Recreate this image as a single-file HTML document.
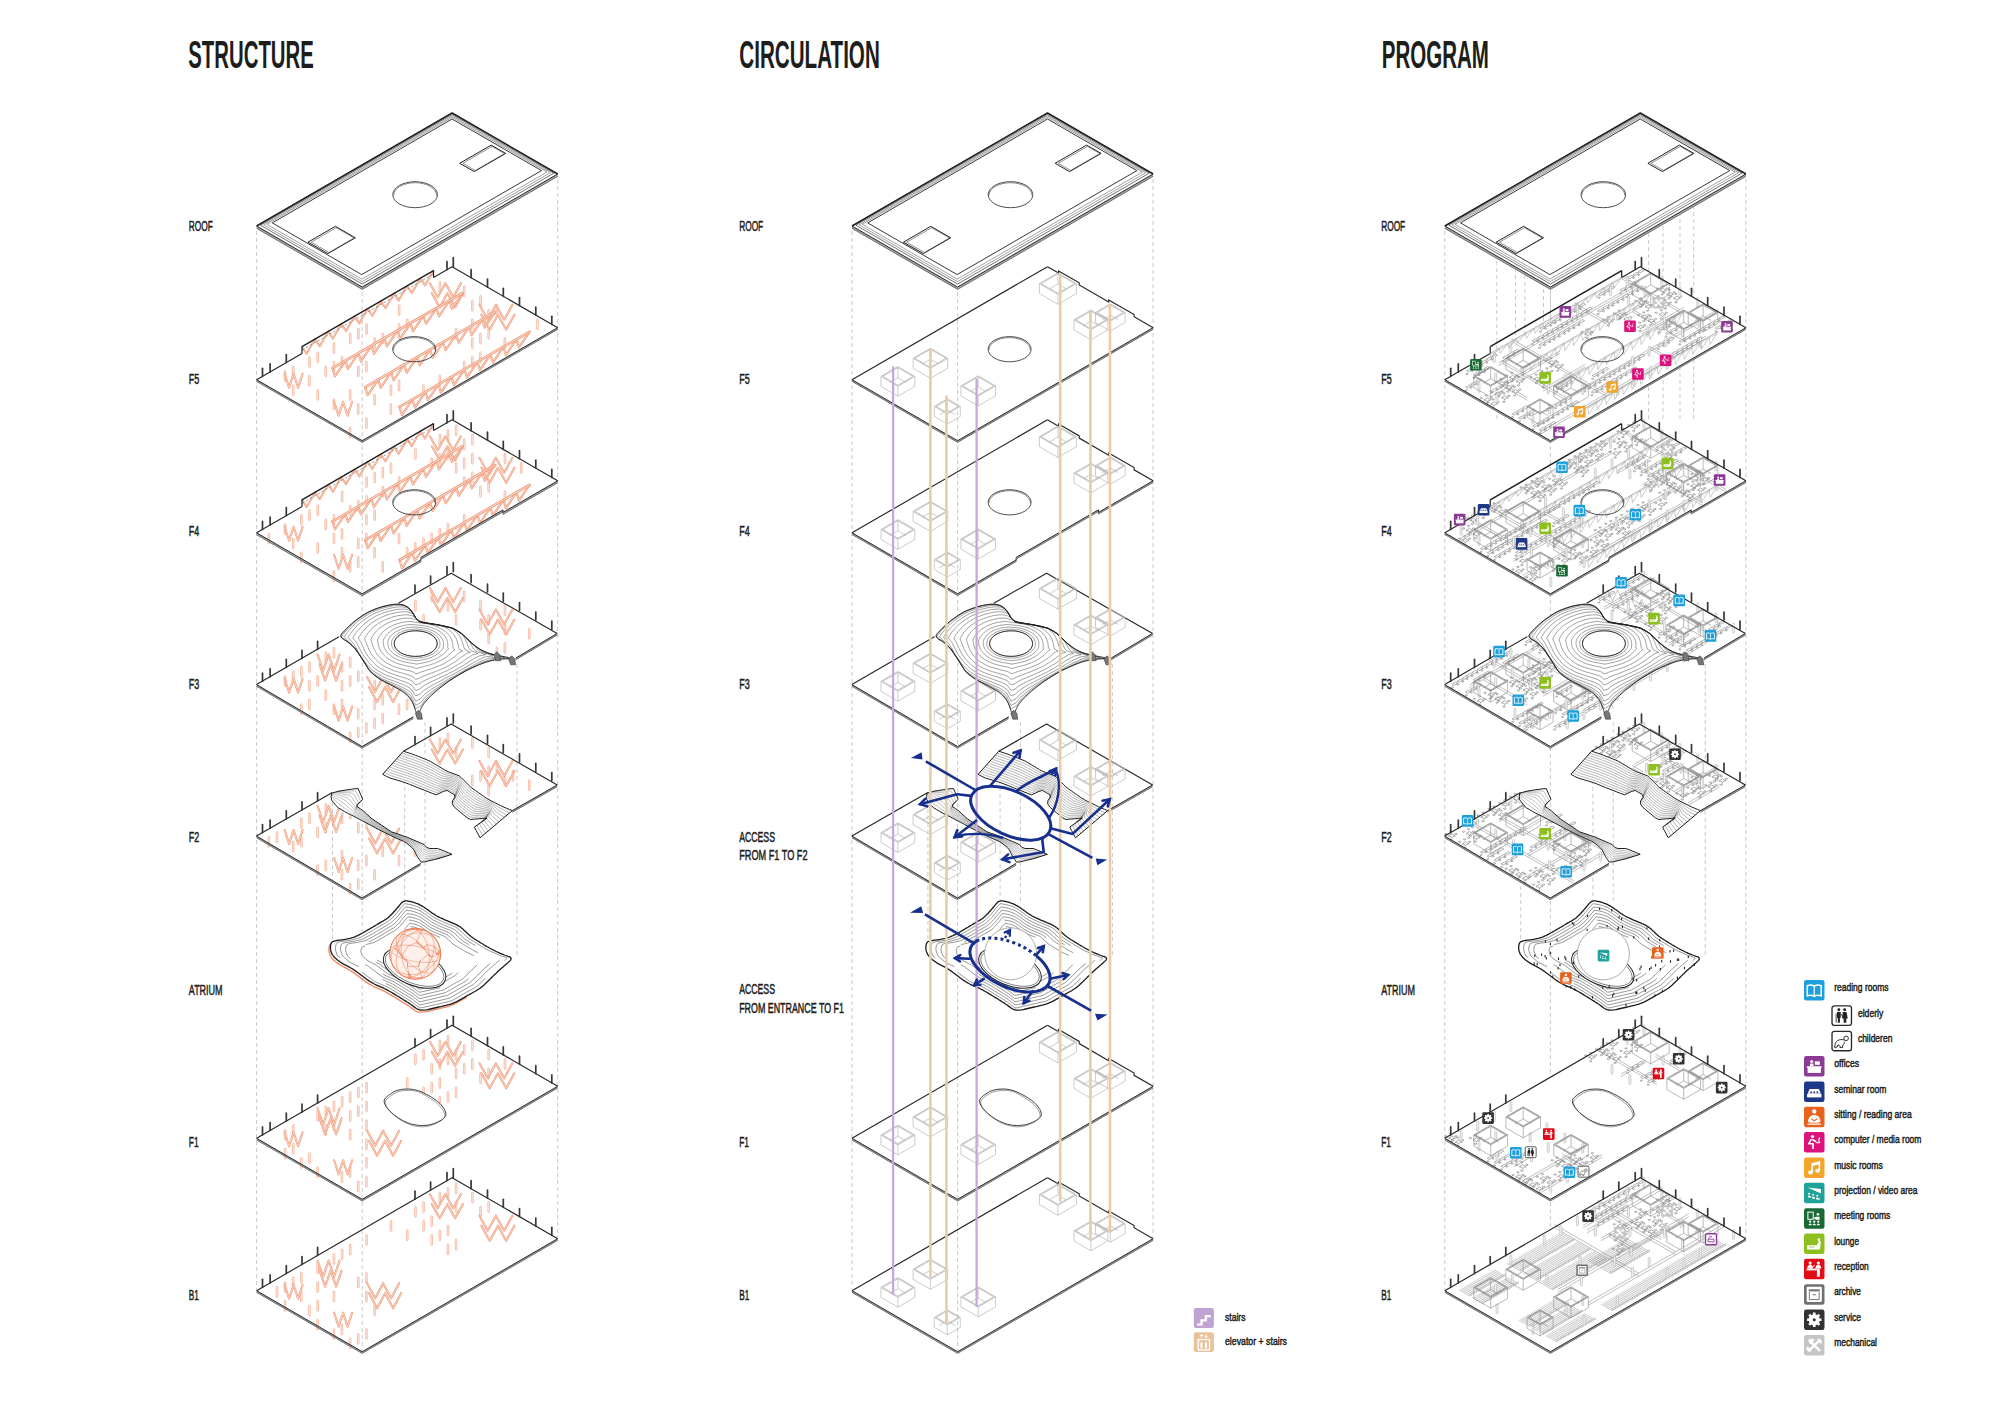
<!DOCTYPE html><html><head><meta charset="utf-8"><style>html,body{margin:0;padding:0;background:#fff;overflow:hidden;width:2000px;height:1414px;}svg{display:block;}</style></head><body><svg width="2000" height="1414" viewBox="0 0 2000 1414"><defs><g id="ic_read"><rect x="0" y="0" width="20" height="20" rx="2.2" fill="#1d9fdb"/><path d="M3.2 5.5c2.4-1 4.6-1 6.8.4c2.2-1.4 4.4-1.4 6.8-.4v10c-2.4-1-4.6-1-6.8.4c-2.2-1.4-4.4-1.4-6.8-.4z" fill="none" stroke="#fff" stroke-width="1.5"/><path d="M10 6v10" stroke="#fff" stroke-width="1.2"/></g>
<g id="ic_off"><rect x="0" y="0" width="20" height="20" rx="2.2" fill="#8b3a96"/><rect x="3.5" y="11" width="13" height="5.5" fill="#fff"/><rect x="2.8" y="10" width="14.4" height="1.6" fill="#fff"/><circle cx="7.5" cy="5.3" r="1.5" fill="#fff"/><path d="M5.8 10v-2.6h3.4v2.6z" fill="#fff"/><rect x="10.6" y="5.2" width="4.8" height="3.4" fill="#fff"/></g>
<g id="ic_sem"><rect x="0" y="0" width="20" height="20" rx="2.2" fill="#1d3889"/><path d="M5.5 7.5h9l2 4.5h-13z" fill="#fff"/><rect x="3" y="12.3" width="14" height="3.3" fill="#fff"/><circle cx="7" cy="10.5" r="0.9" fill="#1d3889"/><circle cx="10" cy="10.5" r="0.9" fill="#1d3889"/><circle cx="13" cy="10.5" r="0.9" fill="#1d3889"/></g>
<g id="ic_sit"><rect x="0" y="0" width="20" height="20" rx="2.2" fill="#e8621c"/><circle cx="10" cy="4.6" r="2.1" fill="#fff"/><path d="M4 14.5c0-4 2.5-6.5 6-6.5s6 2.5 6 6.5l-2.5 1h-7z" fill="#fff"/><path d="M7 11.5l3 2.2l3-2.2" fill="none" stroke="#e8621c" stroke-width="1.1"/><rect x="3.5" y="16.3" width="13" height="1.2" fill="#fff"/></g>
<g id="ic_comp"><rect x="0" y="0" width="20" height="20" rx="2.2" fill="#df117d"/><circle cx="8.3" cy="4.4" r="1.6" fill="#fff"/><path d="M7.2 6.8l-2.6 4.6h4.2v5.2M8 7.2l4 2.2" fill="none" stroke="#fff" stroke-width="1.6" stroke-linejoin="round"/><path d="M15.6 5.5c-1.6 1.2-1.6 4.2 0 5.2M11.6 10.4h3.6" fill="none" stroke="#fff" stroke-width="1.1"/></g>
<g id="ic_mus"><rect x="0" y="0" width="20" height="20" rx="2.2" fill="#f3a52b"/><path d="M8 14.5V6.2l7-1.7v8.2" fill="none" stroke="#fff" stroke-width="1.6"/><ellipse cx="6.3" cy="14.6" rx="2.3" ry="1.9" fill="#fff"/><ellipse cx="13.3" cy="12.9" rx="2.3" ry="1.9" fill="#fff"/><path d="M8 7.6l7-1.7" stroke="#fff" stroke-width="1.6"/></g>
<g id="ic_proj"><rect x="0" y="0" width="20" height="20" rx="2.2" fill="#1fa29a"/><path d="M3.5 4.5l13 1.5v4.5z" fill="#fff"/><circle cx="5" cy="10.6" r="1" fill="#fff"/><circle cx="9" cy="11.6" r="1" fill="#fff"/><circle cx="13" cy="12.6" r="1" fill="#fff"/><path d="M3.8 13.2l2.8.8M7.8 14.2l2.8.8M11.8 15.2l3.4.9" stroke="#fff" stroke-width="1.6"/></g>
<g id="ic_meet"><rect x="0" y="0" width="20" height="20" rx="2.2" fill="#186a32"/><rect x="3.8" y="3.8" width="5.2" height="7" fill="none" stroke="#fff" stroke-width="1"/><circle cx="13.6" cy="6" r="1.3" fill="#fff"/><path d="M9 9.5l3-1.2h3.2v3h-3.4z" fill="#fff"/><circle cx="6" cy="13.2" r="1.1" fill="#fff"/><circle cx="10" cy="13.2" r="1.1" fill="#fff"/><circle cx="14" cy="13.2" r="1.1" fill="#fff"/><path d="M4.4 16.6a1.6 1.6 0 0 1 3.2 0zM8.4 16.6a1.6 1.6 0 0 1 3.2 0zM12.4 16.6a1.6 1.6 0 0 1 3.2 0z" fill="#fff"/></g>
<g id="ic_lou"><rect x="0" y="0" width="20" height="20" rx="2.2" fill="#8dbf1e"/><path d="M3 11.5h9.5l2.2-4.5l1.8.8l-1 7.7h-12.5z" fill="#fff"/><circle cx="14.5" cy="6" r="1.3" fill="#fff"/><path d="M5 13.2h5" stroke="#8dbf1e" stroke-width="0.8"/></g>
<g id="ic_rec"><rect x="0" y="0" width="20" height="20" rx="2.2" fill="#e20c17"/><circle cx="6" cy="4.2" r="1.5" fill="#fff"/><circle cx="14" cy="4.2" r="1.5" fill="#fff"/><path d="M3.2 9.5c0-2.4 1.2-3.6 2.8-3.6s2.8 1.2 2.8 3.6zM11.2 9.5c0-2.4 1.2-3.6 2.8-3.6s2.8 1.2 2.8 3.6z" fill="#fff"/><rect x="2.5" y="9.5" width="10" height="1.8" fill="#fff"/><rect x="12.6" y="9.5" width="2.8" height="8" fill="#fff"/><path d="M8 8.6l2.4-2.4" stroke="#fff" stroke-width="0.9"/></g>
<g id="ic_arch"><rect x="0" y="0" width="20" height="20" rx="2.2" fill="#707070"/><rect x="2.6" y="2.6" width="14.8" height="14.8" rx="1" fill="#fff"/><rect x="4.6" y="5" width="10.8" height="2" fill="#707070"/><path d="M8.4 10.3h3.2" stroke="#707070" stroke-width="1"/><path d="M5.2 7.6v7.4h9.6V7.6" fill="none" stroke="#707070" stroke-width="0.9"/></g>
<g id="ic_serv"><rect x="0" y="0" width="20" height="20" rx="2.2" fill="#333333"/><circle cx="10" cy="10" r="5.4" fill="#fff"/><path d="M10 3v3M10 14v3M3 10h3M14 10h3M5 5l2.2 2.2M12.8 12.8l2.2 2.2M5 15l2.2-2.2M12.8 7.2l2.2-2.2" stroke="#fff" stroke-width="2.6"/><circle cx="10" cy="10" r="1.5" fill="#333"/></g>
<g id="ic_mech"><rect x="0" y="0" width="20" height="20" rx="2.2" fill="#c5c5c5"/><path d="M5.2 15.2l8.6-8.6M7 7l8 8" stroke="#fff" stroke-width="2.4" stroke-linecap="round"/><path d="M3.2 6.2l3-3l1.4 1.4l1.2-1.2l1.6 1.6l-4.2 4.2l-1.6-1.6l1.2-1.2z" fill="#fff"/><path d="M12.6 4.2a3.2 3.2 0 0 1 4.4 4.4l-1.8-.6l-.8-.8l-.6-1.8zM7.2 15.8a3.2 3.2 0 0 1-4.4-4.4l1.8.6l.8.8l.6 1.8z" fill="#fff"/></g>
<g id="ic_eld"><rect x="0.6" y="0.6" width="18.8" height="18.8" rx="2.2" fill="#fff" stroke="#2a2a2a" stroke-width="1.3"/><circle cx="7.2" cy="4.3" r="1.4" fill="#222"/><circle cx="12.8" cy="4.3" r="1.4" fill="#222"/><path d="M5.4 6.4h3.6v5.8h-.8v4.6h-2v-4.6h-.8zM11 6.4h3.6l1.2 6.4h-1.4v4h-2.6v-4h-1.4z" fill="#222"/><path d="M4.6 8v8.6M9.5 8.5l1.5 3" stroke="#222" stroke-width="0.8"/></g>
<g id="ic_chi"><rect x="0.6" y="0.6" width="18.8" height="18.8" rx="2.2" fill="#fff" stroke="#2a2a2a" stroke-width="1.3"/><circle cx="14.2" cy="7.4" r="2.2" fill="none" stroke="#222" stroke-width="0.9"/><path d="M12.4 9c-2.2-.8-4.6-.5-6.4.6c-1.8 1.1-2.6 3-2.6 4.9l-.6 1.5h2.6l1-2.4l2.2 1.6l-.4 1.1h2.6l.2-2.4c1.2-.6 1.8-2 1.4-3.4" fill="none" stroke="#222" stroke-width="0.9"/></g>
<g id="fc" fill="none" stroke="#7a7a7a" stroke-width="0.6"><path d="M-3 0l3 -1.7 l3 1.7 l-3 1.7 z" fill="#fff"/><path d="M-6 -2.2a1.1 .65 0 1 0 .1 0M-1 -4.8a1.1 .65 0 1 0 .1 0M4 -2.2a1.1 .65 0 1 0 .1 0M-1 3.6a1.1 .65 0 1 0 .1 0"/><path d="M-3 0v1.2M3 0v1.2M0 1.7v1.2"/></g>
<g id="fd" fill="#fff" stroke="#7a7a7a" stroke-width="0.6"><path d="M0 0l4 -2.3l2 1.15l-4 2.3zM0.5 2.6a1 .6 0 1 0 .1 0M5.2 -3l4 -2.3l2 1.15l-4 2.3zM5.7 -0.4a1 .6 0 1 0 .1 0M10.4 -6l4 -2.3l2 1.15l-4 2.3zM10.9 -3.4a1 .6 0 1 0 .1 0"/></g>
<g id="sh" fill="#fff" stroke="#8a8a8a" stroke-width="0.5"><path d="M0 0l17.3 -10v-3.2l-17.3 10zM0 0l1.2 0.7"/><path d="M0 -1.6l17.3 -10" fill="none"/></g>
<g id="roof"><polygon points="256.6,226 452.1,113 557.7,174 557.7,177 362.2,290 256.6,229" fill="#fff" stroke="none" stroke-width="0"/>
<polygon points="256.6,226 362.2,287 557.7,174 557.7,176.4 362.2,289.4 256.6,228.4" fill="#a8a8a8" stroke="none" stroke-width="0"/>
<polyline points="256.6,226 362.2,287 557.7,174" fill="none" stroke="#1e1e1e" stroke-width="0.95"/>
<polyline points="256.6,228.4 362.2,289.4 557.7,176.4" fill="none" stroke="#4a4a4a" stroke-width="0.7"/>
<polyline points="256.6,226 452.1,113 557.7,174" fill="none" stroke="#1e1e1e" stroke-width="1.5" stroke-linejoin="round"/>
<polygon points="260.5,225.2 452.1,114.5 553.8,173.2 362.2,284" fill="none" stroke="#333" stroke-width="0.7" stroke-linejoin="round"/>
<polygon points="263.7,224.8 452.1,115.9 550.4,172.7 362,281.6" fill="none" stroke="#555" stroke-width="0.55" stroke-linejoin="round"/>
<polygon points="266.9,224.3 452.1,117.3 547,172.1 361.8,279.1" fill="none" stroke="#555" stroke-width="0.55" stroke-linejoin="round"/>
<polygon points="272.3,222.9 452.1,119 541.5,170.6 361.7,274.6" fill="none" stroke="#222" stroke-width="0.9" stroke-linejoin="round"/>
<polygon points="308,242.2 335.4,226.3 355.3,237.8 327.9,253.6" fill="#fff" stroke="#222" stroke-width="1.0"/>
<polygon points="311.2,242.2 336.2,227.7 354.1,238 329,252.5" fill="none" stroke="#444" stroke-width="0.6"/>
<polygon points="459.7,163.3 491.2,145.1 505.7,153.4 474.2,171.6" fill="#fff" stroke="#222" stroke-width="1.0"/>
<polygon points="462.9,163.3 492,146.4 504.5,153.6 475.3,170.5" fill="none" stroke="#444" stroke-width="0.6"/>
<ellipse cx="415.1" cy="194.7" rx="22.3" ry="13" fill="none" stroke="#3a3a3a" stroke-width="0.9"/>
<path d="M393.6 195.5 A21.5 12.8 0 0 1 436.6 195.5" fill="none" stroke="#555" stroke-width="0.7"/></g>
<g id="hill"><path d="M341.9 633.5l.8-.9 .9-1 .9-1 1-1 1-1 1.1-1.1 1.2-1.1 1.1-1.1 1.3-1.1 1.3-1.1 1.3-1.2 1.4-1.1 1.4-1.1 1.5-1.1 1.6-1.1 1.6-1.1 1.6-1.1 1.7-1 1.6-1 1.7-.9 1.6-.9 1.7-.8 1.6-.7 1.7-.7 1.6-.6 1.7-.6 1.6-.5 1.5-.5 1.6-.5 1.5-.4 1.5-.3 1.5-.4 1.4-.3 1.4-.2 1.3-.2 1.3-.2 1.1-.2 1.2-.1 1 0 1-.1 .9 0 .9 .1 .9 0 .9 .1 .8 .1 .8 .2 .8 .2 .7 .2 .7 .2 .7 .3 .7 .3 .7 .4 .7 .4 .7 .4 .6 .4 .6 .5 .7 .5 .5 .6 .6 .6 .6 .6 .5 .7 .5 .7 .4 .7 .5 .8 .4 .8 .4 .8 .5 .8 .5 .8 .5 .7 .5 .7 .6 .7 .6 .6 .6 .6 .8 .6 1.1 .6 1.2 .5 1.4 .5 1.7 .4 1.8 .4 2.1 .4 2.3 .4 2.2 .3 2.2 .4 2.1 .4 2 .3 2 .4 2 .4 1.9 .4 1.9 .4 1.7 .5 1.7 .5 1.6 .5 1.5 .5 1.4 .6 1.3 .6 1.2 .7 1.2 .6 1.1 .8 1.1 .8 1.2 .8 1.1 .9 1.1 1 1.2 1 1.1 1.1 1.2 1.1 1.1 1.1 1.1 1.1 1.1 1 1.1 1 1 .9 1.1 .9 1 .9 1.1 .8 1 .8 1.2 .8 1.2 .8 1.2 .7 1.3 .7 1.3 .7 1.4 .7 1.5 .7 1.4 .6 1.5 .6 1.6 .5 1.5 .4 1.6 .4 1.6 .4 1.6 .3 1.7 .3 1.5 .3 1.6 .2 1.5 .3 1.4 .3 1.4 .2 1.4 .3 1.3 .3 1.2 .2 .8 .3 .4 .2 0 .2-.4 .1-.8 .2-1.2 .1-1.7 0-2.1 .1-2 .1-2 .1-2 .2-1.9 .3-2 .4-1.9 .4-1.9 .4-1.8 .5-1.9 .6-1.9 .6-2 .7-1.9 .7-2 .8-2 .8-2 .9-2.1 .9-2.1 1-2 1-2.1 1-2.1 1.1-2 1.1-2.1 1.2-2 1.2-2.1 1.2-2 1.3-2.1 1.3-1.9 1.3-2 1.3-1.9 1.4-1.9 1.4-1.9 1.4-1.9 1.5-1.8 1.4-1.7 1.4-1.6 1.3-1.5 1.4-1.5 1.3-1.4 1.3-1.3 1.2-1.2 1.3-1.2 1.2-1.1 1.2-1 1.1-.9 1.2-.9 1.1-.8 1.1-.6 1-.7 1.1-.5 1-.5 1-.5 1-.4 1.1-.4 1-.3 1-.3 1.1-.2 1-.2 .8-.3 .4-.2 .2-.3-.1-.4-.4-.3-.7-.4-.9-.4-1.3-.5-1.2-.4-1.2-.4-1.1-.4-1.1-.4-1.2-.4-1-.4-1.1-.4-1-.5-1-.5-1.1-.6-.9-.6-1-.7-1-.7-.9-.8-1-.8-.9-.9-.9-1-.9-1-.9-1.2-.9-1.2-.9-1.3-.8-1.3-.8-1.5-.9-1.5-.8-1.4-.8-1.6-.8-1.5-.9-1.6-.8-1.6-.8-1.6-.9-1.7-.8-1.6-.8-1.5-.9-1.5-.8-1.4-.9-1.4-.9-1.4-.9-1.3-.9-1.2-.9-1.2-1.1-1.2-1.1-1.2-1.2-1.1-1.3-1.1-1.3-1.1-1.5-1-1.6-1.1-1.6-1-1.6-1-1.6-.9-1.5-.9-1.4-.9-1.4-.9-1.3-.9-1.3-.8-1.3-.8-1.1-.9-1.2-.8-1.1-.8-1-.8-1-.9-.9-.8-.9-.8-.8-.9-.8-.9-.8-1-.8-1-.8-1.1-.7-1.1-.8-1.2-.7-1.3-.7-.9-.8-.8-.8-.4-.8-.2-.8 0-.8 .3-.9z" fill="#fff" stroke="none"/>
<path d="M437.2 643.6l0 .6-.1 .7-.1 .7-.2 .6-.3 .7-.3 .6-.4 .6-.4 .7-.5 .6-.5 .6-.6 .5-.7 .6-.6 .5-.8 .5-.7 .5-.9 .5-.8 .4-.9 .4-.9 .4-1 .3-1 .4-1 .3-1 .2-1.1 .2-1.1 .2-1.1 .2-1.1 .1-1.1 .1-1.1 0-1.2 .1-1.1-.1-1.1 0-1.1-.1-1.1-.1-1.1-.2-1.1-.2-1.1-.2-1-.2-1-.3-1-.4-1-.3-.9-.4-.9-.4-.8-.4-.9-.5-.7-.5-.8-.5-.6-.5-.7-.6-.6-.5-.5-.6-.5-.6-.4-.7-.4-.6-.3-.6-.3-.7-.2-.6-.1-.7-.1-.7-.1-.6 .1-.7 .1-.7 .1-.6 .2-.7 .3-.7 .3-.6 .4-.6 .4-.6 .5-.7 .5-.5 .6-.6 .7-.6 .6-.5 .8-.5 .7-.5 .9-.5 .8-.4 .9-.4 .9-.4 1-.3 1-.3 1-.3 1-.3 1.1-.2 1.1-.2 1.1-.2 1.1-.1 1.1-.1 1.1 0 1.1 0 1.2 0 1.1 0 1.1 .1 1.1 .1 1.1 .2 1.1 .2 1.1 .2 1 .3 1 .3 1 .3 1 .3 .9 .4 .9 .4 .8 .4 .9 .5 .7 .5 .8 .5 .6 .5 .7 .6 .6 .6 .5 .5 .5 .7 .4 .6 .4 .6 .3 .6 .3 .7 .2 .7 .1 .6 .1 .7z" fill="none" stroke="#2e2e2e" stroke-width="0.45"/>
<path d="M440 643.6l0 .7-.1 .8-.2 .7-.2 .8-.2 .7-.4 .7-.4 .8-.5 .6-.6 .7-.6 .7-.7 .6-.7 .7-.8 .6-.8 .5-.9 .6-.9 .5-1 .5-1 .5-1 .4-1.1 .4-1.1 .3-1.2 .4-1.1 .3-1.2 .2-1.3 .3-1.2 .1-1.2 .2-1.3 .1-1.3 .1-1.3 0-1.2 0-1.3-.1-1.3-.1-1.2-.2-1.2-.2-1.3-.2-1.2-.2-1.1-.3-1.2-.4-1.1-.3-1.1-.4-1-.4-1-.5-1-.5-.9-.5-.9-.6-.8-.6-.8-.6-.7-.6-.6-.6-.7-.7-.5-.7-.5-.7-.4-.7-.4-.7-.3-.7-.2-.8-.2-.7-.1-.8 0-.7 0-.8 .1-.8 .1-.7 .3-.8 .3-.7 .3-.7 .5-.7 .4-.7 .6-.7 .6-.7 .7-.6 .7-.6 .8-.6 .8-.6 .9-.6 .9-.5 1-.5 1-.4 1-.5 1.1-.4 1.1-.3 1.2-.4 1.1-.2 1.2-.3 1.3-.2 1.2-.2 1.3-.1 1.2-.1 1.3 0 1.2 0 1.3 0 1.3 .1 1.2 .1 1.3 .1 1.2 .2 1.2 .2 1.2 .2 1.2 .3 1.1 .4 1.1 .3 1.1 .4 1 .4 1 .5 1 .5 .9 .5 .9 .5 .8 .6 .8 .6 .7 .6 .7 .7 .6 .6 .5 .7 .5 .7 .5 .7 .3 .7 .3 .8 .3 .7 .1 .8 .1 .7z" fill="none" stroke="#2e2e2e" stroke-width="0.45"/>
<path d="M443.5 643.6l0 .8-.1 .9-.1 .9-.1 .8 .1 1-.7 .8-.5 .8-.7 .8-.7 .7-.7 .8-.8 .7-.8 .7-.9 .7-1 .7-1 .6-1.1 .6-1.1 .6-1.1 .5-1.2 .5-1.3 .5-1.2 .4-1.3 .4-1.4 .4-1.4 .3-1.4 .3-1.4 .2-1.4 .2-1.5 .2-1.5 .2-1.5 .1-1.4-.2-1.5-.2-1.5-.2-1.4-.1-1.4-.3-1.4-.2-1.4-.4-1.3-.3-1.4-.4-1.2-.4-1.3-.5-1.2-.5-1.1-.5-1.1-.6-1.1-.6-1-.6-.9-.7-.9-.7-.8-.7-.7-.8-.7-.7-.6-.8-.6-.8-.5-.8-.4-.9-.3-.8-.3-.9-.2-.8-.2-.9-.1-.8 0-.9 .1-.9 .1-.9 .3-.8 .3-.9 .5-.8 .5-.8 .5-.8 .7-.8 .7-.8 .8-.7 .8-.7 .9-.7 .9-.7 1-.6 1.1-.6 1.1-.6 1.2-.5 1.2-.5 1.3-.5 1.2-.4 1.4-.4 1.3-.3 1.4-.3 1.4-.2 1.4-.2 1.5-.1 1.4-.1 1.5 0 1.4 .1 1.5 .1 1.4 .1 1.4 .1 1.4 .1 1.4 .2 1.4 .3 1.3 .3 1.4 .3 1.3 .3 1.2 .4 1.3 .5 1.2 .5 1.1 .5 1.1 .5 1.1 .6 1 .6 .9 .7 .9 .6 .8 .7 .8 .8 .7 .7 .6 .8 .6 .8 .5 .8 .4 .8 .4 .8 .3 .9 .2 .8 .1 .9z" fill="none" stroke="#2e2e2e" stroke-width="0.45"/>
<path d="M447.7 643.6l.1 1 0 1-.1 1 0 1 .8 1.2-1.1 .9-.8 .9-.8 .9-.9 .9-.9 .9-.9 .8-1 .9-1.1 .7-1.1 .8-1.2 .7-1.2 .7-1.3 .7-1.3 .6-1.4 .6-1.5 .6-1.4 .5-1.5 .5-1.6 .4-1.6 .4-1.6 .4-1.6 .3-1.7 .4-1.7 .3-1.8 .4-1.8 .1-1.7-.5-1.7-.3-1.7-.3-1.7-.2-1.7-.3-1.6-.4-1.6-.4-1.5-.4-1.6-.4-1.4-.5-1.5-.6-1.3-.6-1.4-.6-1.2-.7-1.2-.7-1.2-.8-1-.8-1-.8-.9-.8-.9-.9-.8-.9-.7-.9-.6-.9-.6-.9-.5-1-.4-1-.3-.9-.3-1-.2-1-.1-1-.1-1.1-.1-1 0-1 .4-1 .5-1 .5-1 .6-.9 .7-1 .7-.9 .9-.9 .9-.8 .9-.9 1.1-.8 1.1-.7 1.2-.8 1.2-.7 1.3-.6 1.4-.7 1.4-.5 1.4-.6 1.5-.4 1.6-.5 1.6-.3 1.6-.4 1.6-.2 1.7-.2 1.7-.1 1.7 0 1.7 .1 1.6 .2 1.7 .1 1.6 .2 1.6 .1 1.6 .2 1.6 .2 1.5 .3 1.6 .3 1.5 .4 1.5 .4 1.4 .4 1.4 .5 1.4 .6 1.3 .5 1.2 .6 1.3 .7 1.1 .7 1.1 .7 1.1 .8 .9 .8 .9 .8 .8 .8 .8 .9 .7 .9 .5 .9 .5 1 .5 .9 .3 1 .3 1 .2 1z" fill="none" stroke="#2e2e2e" stroke-width="0.45"/>
<path d="M452.6 643.6l.1 1.1 .1 1.2 .1 1.2 .3 1.2 1.7 1.5-1.7 1-1.1 1.1-1.1 1-1.1 1-1.1 1-1.1 1-1.2 .9-1.3 1-1.3 .8-1.4 .9-1.4 .8-1.5 .8-1.6 .7-1.6 .7-1.6 .7-1.7 .6-1.8 .6-1.7 .6-1.9 .5-1.9 .5-1.9 .5-1.9 .5-2 .5-2.1 .7-2.2 .3-2.1-1.1-2-.5-2-.4-1.9-.3-1.9-.4-1.9-.5-1.9-.5-1.8-.5-1.8-.5-1.7-.6-1.6-.7-1.6-.7-1.5-.8-1.5-.8-1.3-.8-1.3-.9-1.2-.9-1.1-1-1.1-1-.9-1-.9-1-.8-1.1-.8-1-.6-1.1-.6-1.1-.5-1.1-.4-1.2-.4-1.1-.3-1.2-.2-1.1-.2-1.2-.3-1.2 0-1.2 .4-1.2 .6-1.2 .6-1.1 .8-1.1 .8-1.1 .9-1.1 1-1 1-1 1.2-1 1.2-.9 1.3-.9 1.4-.9 1.4-.8 1.6-.8 1.6-.7 1.6-.7 1.7-.6 1.8-.5 1.8-.5 1.8-.5 1.9-.3 1.9-.3 2-.2 2-.1 2 .1 1.9 .4 1.9 .3 1.9 .2 1.8 .3 1.8 .1 1.8 .3 1.8 .2 1.8 .3 1.7 .4 1.7 .4 1.7 .4 1.6 .5 1.6 .6 1.6 .6 1.5 .6 1.4 .7 1.4 .7 1.4 .8 1.3 .8 1.2 .8 1.1 .9 1.1 1 .9 .9 .9 1 .8 1 .7 1.1 .6 1.1 .5 1.1 .4 1.1 .4 1.1 .3 1.1z" fill="none" stroke="#2e2e2e" stroke-width="0.45"/>
<path d="M457.9 643.6l.3 1.3 .2 1.3 .3 1.4 .6 1.5 3.3 1.9-2.7 1.1-1.4 1.2-1.5 1.2-1.4 1.2-1.3 1.1-1.4 1.1-1.5 1.1-1.5 1-1.6 1-1.6 1-1.6 .9-1.7 1-1.8 .8-1.9 .9-1.9 .7-1.9 .8-2 .8-2 .7-2.1 .7-2.2 .6-2.2 .7-2.3 .8-2.3 .7-2.4 1.1-2.7 .5-2.5-1.7-2.3-.8-2.3-.6-2.3-.5-2.2-.6-2.2-.5-2.2-.6-2-.7-2.1-.6-2-.7-1.8-.9-1.8-.8-1.8-.9-1.6-.9-1.6-1.1-1.4-1-1.3-1.1-1.2-1.1-1.2-1.2-1.1-1.1-1-1.2-.9-1.2-.9-1.3-.7-1.2-.7-1.3-.6-1.3-.5-1.3-.5-1.3-.4-1.3-.4-1.3-.4-1.4-.5-1.4-.3-1.5 .7-1.3 .7-1.4 .7-1.3 .9-1.3 1-1.2 1.1-1.3 1.1-1.2 1.3-1.2 1.4-1.1 1.4-1 1.5-1.1 1.6-1 1.7-1 1.7-.9 1.9-.8 1.9-.7 2-.8 2.1-.6 2.1-.6 2.1-.5 2.2-.4 2.3-.3 2.3-.2 2.3 0 2.3 .3 2.3 .6 2.1 .7 2.1 .6 1.8 1.7 1.8 .5 1.8 .3 1.8 .2 1.8 .3 1.8 .3 1.9 .3 1.8 .3 1.9 .3 2 .3 2 .3 2 .5 2.1 .4 1.6 .8 1.6 .8 1.5 .9 1.4 .9 1.3 1 1.2 1.1 1.1 1.1 1 1.1 1 1.1 .8 1.2 .7 1.2 .7 1.2 .5 1.3 .5 1.3 .3 1.3z" fill="none" stroke="#2e2e2e" stroke-width="0.45"/>
<path d="M462.8 643.6l.5 1.4 .4 1.6 .5 1.5 1.1 1.7 5.1 2.5-3.7 1.1-1.9 1.4-1.9 1.3-1.7 1.2-1.6 1.3-1.7 1.3-1.7 1.1-1.8 1.2-1.8 1.1-1.8 1.1-1.9 1.1-1.9 1-2 1-2.1 1-2.1 .9-2.2 .9-2.2 .9-2.2 .9-2.4 .9-2.4 .9-2.5 .9-2.6 1-2.7 1-2.8 1.7-3.1 .8-2.9-2.7-2.7-1.2-2.6-.8-2.6-.7-2.5-.7-2.5-.7-2.4-.7-2.3-.7-2.3-.8-2.2-.9-2.1-.9-2-1-2-1.1-1.8-1-1.7-1.2-1.5-1.3-1.5-1.2-1.3-1.3-1.3-1.3-1.2-1.3-1.1-1.3-1-1.4-1-1.4-.8-1.4-.8-1.4-.7-1.4-.6-1.5-.6-1.4-.6-1.5-.5-1.5-.6-1.6-.8-1.6-.6-1.7 .8-1.5 .8-1.5 1-1.5 1-1.5 1.2-1.4 1.3-1.4 1.3-1.4 1.4-1.3 1.6-1.3 1.6-1.2 1.8-1.2 1.8-1.1 1.8-1.1 2.1-1 2.1-1 2.2-.8 2.2-.8 2.4-.8 2.4-.6 2.4-.6 2.5-.4 2.6-.3 2.6-.2 2.6 .1 2.7 .5 2.6 1 2.3 1.8 2.1 2 1.8 1.8 1.8 .5 1.8 .2 1.8 .3 1.8 .3 1.8 .3 1.9 .3 1.9 .3 1.9 .3 2 .3 2 .3 1.9 .4 2.1 .5 2.1 .5 2.3 .5 2.3 .5 2.6 .6 1.5 1 1.3 1.2 1.3 1.1 1.2 1.3 1.1 1.2 1 1.3 .8 1.3 .7 1.4 .7 1.4 .6 1.4 .5 1.4z" fill="none" stroke="#2e2e2e" stroke-width="0.45"/>
<path d="M467.1 643.6l.7 1.6 .6 1.7 .9 1.7 1.7 1.9 7.2 3-5 1.2-2.4 1.4-2.3 1.5-2.1 1.3-1.9 1.4-1.9 1.4-2 1.3-2 1.2-2.1 1.2-2 1.2-2 1.2-2.2 1.2-2.1 1.1-2.3 1.1-2.3 1-2.4 1.1-2.4 1.1-2.5 1.1-2.5 1-2.7 1.1-2.8 1.2-2.8 1.3-3 1.4-3.2 2.3-3.6 1.1-3.3-3.8-3-1.5-2.9-1.1-2.9-.9-2.8-.9-2.7-.8-2.6-.9-2.6-.9-2.5-.9-2.5-.9-2.3-1.1-2.1-1.2-2.2-1.2-2-1.2-1.8-1.3-1.6-1.4-1.5-1.4-1.5-1.4-1.3-1.5-1.3-1.4-1.2-1.5-1.1-1.5-1-1.5-1-1.5-.8-1.6-.8-1.5-.7-1.6-.8-1.6-.7-1.7-.7-1.6-.9-1.8-1.2-1.8-.9-1.8 1-1.8 1-1.7 1.1-1.6 1.2-1.6 1.4-1.6 1.4-1.6 1.5-1.5 1.5-1.5 1.8-1.3 1.9-1.4 1.9-1.3 2-1.3 2.1-1.2 2.2-1.1 2.4-1 2.5-1 2.4-.9 2.6-.8 2.7-.7 2.7-.6 2.8-.5 2.9-.3 2.9-.2 2.9 .3 3 .7 2.9 1.4 2.5 4 2.1 2.1 1.8 1.7 1.8 .5 1.8 .3 1.8 .3 1.8 .3 1.9 .2 1.8 .3 1.9 .3 1.9 .3 2 .3 2 .4 2 .4 2 .5 2.2 .4 2.2 .5 2.4 .6 2.5 .5 2 .9 1.7 1.1 1.8 1 1.8 1.1 1.9 1.2 1.5 1.3 1.1 1.4 .8 1.4 .8 1.5 .7 1.5 .7 1.6z" fill="none" stroke="#2e2e2e" stroke-width="0.45"/>
<path d="M470.5 643.6l1 1.7 .9 1.8 1.2 1.9 2.4 2.2 9.8 3.5-6.5 1.2-2.9 1.5-2.7 1.5-2.6 1.5-2.2 1.4-2.2 1.5-2.2 1.4-2.2 1.3-2.3 1.3-2.2 1.3-2.2 1.3-2.3 1.3-2.4 1.2-2.4 1.2-2.5 1.2-2.5 1.2-2.6 1.2-2.6 1.3-2.8 1.3-2.9 1.3-2.9 1.4-3.1 1.7-3.3 1.9-3.6 2.9-4 1.5-3.6-5-3.4-2-3.2-1.4-3.1-1.1-3-1-3-1.1-2.8-1-2.8-1-2.7-1-2.7-1.1-2.4-1.2-2.3-1.3-2.2-1.3-2.2-1.4-1.9-1.4-1.6-1.6-1.6-1.6-1.5-1.5-1.4-1.6-1.3-1.6-1.3-1.6-1.1-1.6-1.1-1.6-1.1-1.6-.9-1.7-.9-1.7-.8-1.7-.9-1.7-1-1.7-.8-1.8-1.2-1.9-1.7-2-1.3-2.1 1.2-1.8 1.2-1.9 1.2-1.8 1.4-1.8 1.5-1.7 1.6-1.6 1.7-1.7 1.7-1.6 2-1.5 2-1.5 2.1-1.4 2.2-1.4 2.2-1.4 2.5-1.1 2.6-1.1 2.7-1.1 2.7-1 2.8-.8 2.9-.7 3-.7 3-.6 3.2-.2 3.1-.1 3.3 .4 3.2 1 3.2 3.1 2.6 4.5 2.1 2 1.8 1.8 1.8 .5 1.8 .3 1.8 .2 1.8 .3 1.9 .3 1.8 .3 1.9 .3 1.9 .3 2 .3 2.1 .3 1.9 .5 2.1 .4 2.1 .5 2.3 .5 2.4 .5 2.5 .6 2 .9 1.7 1 1.8 1.1 1.8 1.1 1.9 1.1 1.5 1.3 1.4 1.4 1.4 1.4 1.4 1.5 1.5 1.5 1.6 1.6z" fill="none" stroke="#2e2e2e" stroke-width="0.45"/>
<path d="M471.8 643.6l2.3 1.8 1.4 1.9 1.6 2 3.2 2.4 12.7 4.2-8.1 1-3.5 1.7-3.3 1.5-2.9 1.5-2.5 1.5-2.5 1.5-2.4 1.5-2.5 1.3-2.5 1.4-2.3 1.4-2.4 1.4-2.4 1.3-2.5 1.4-2.5 1.3-2.6 1.3-2.7 1.3-2.6 1.5-2.8 1.5-2.9 1.5-3.1 1.5-3.1 1.8-3.3 2-3.6 2.3-3.8 3.8-4.5 1.8-4-6.3-3.6-2.6-3.4-1.7-3.4-1.3-3.2-1.3-3.1-1.2-3-1.1-2.9-1.1-2.9-1.2-2.8-1.2-2.5-1.4-2.4-1.4-2.4-1.4-2.2-1.4-2-1.7-1.6-1.7-1.6-1.7-1.5-1.6-1.4-1.7-1.3-1.7-1.3-1.7-1.2-1.7-1.2-1.7-1.1-1.7-1-1.7-.9-1.8-.9-1.8-1.2-1.8-1.1-1.8-1.1-1.9-1.6-2-2.1-2.2-1.7-2.2 1.3-2 1.4-2 1.4-1.9 1.5-1.9 1.7-1.8 1.8-1.8 1.7-1.8 1.9-1.7 2.1-1.6 2.2-1.5 2.3-1.6 2.3-1.5 2.4-1.4 2.6-1.3 2.9-1.1 2.8-1.1 2.9-1.1 3-.9 3.2-.8 3.2-.7 3.2-.5 3.4-.3 3.4 0 3.5 .6 3.4 1.5 3.5 4.5 2.6 4.5 2.1 2.1 1.8 1.7 1.8 .5 1.8 .3 1.9 .3 1.8 .3 1.8 .3 1.9 .2 1.9 .3 1.9 .3 2 .3 2 .4 2 .4 2.1 .5 2.1 .5 2.3 .5 2.4 .5 2.5 .6 2 .9 1.7 1 1.8 1.1 1.8 1.1 1.9 1.1 1.5 1.3 1.4 1.4 1.4 1.4 1.4 1.4 1.6 1.6 1.6 1.6z" fill="none" stroke="#2e2e2e" stroke-width="0.45"/>
<path d="M472 643.6l2.2 1.8 2.5 2 2.9 2.2 4 2.5 15.9 4.8-9.8 1-4.2 1.6-3.8 1.6-3.3 1.5-2.8 1.5-2.7 1.5-2.7 1.5-2.7 1.4-2.6 1.4-2.4 1.5-2.5 1.4-2.5 1.4-2.6 1.5-2.6 1.4-2.7 1.4-2.7 1.5-2.7 1.6-2.8 1.7-3 1.7-3.2 1.8-3.3 2.1-3.4 2.5-3.8 2.8-4.1 4.6-4.9 2.3-4.3-7.8-3.9-3.2-3.6-2.1-3.5-1.5-3.3-1.5-3.2-1.4-3.2-1.3-3-1.2-3-1.3-2.9-1.3-2.5-1.5-2.5-1.5-2.4-1.6-2.3-1.5-1.9-1.7-1.5-1.9-1.3-1.9-1.1-1.9-1.2-1.9-1.1-1.8-1.1-1.7-1.1-1.7-1.2-1.7-1.1-1.8-1.2-1.7-1.1-1.7-1.2-1.8-1.8-1.8-1.8-1.9-1.4-1.9-2-2.1-2.7-2.3-2.2-2.4 1.5-2.1 1.6-2.1 1.5-2 1.8-2 1.8-1.9 1.9-1.8 1.9-1.9 1.9-1.8 2.3-1.6 2.3-1.6 2.4-1.6 2.4-1.6 2.5-1.6 2.8-1.3 3-1.2 3-1.1 3-1.1 3.2-1 3.3-.7 3.4-.7 3.4-.6 3.5-.2 3.6 .1 3.7 .7 3.8 2.8 3.5 4.6 2.6 4.4 2.1 2.1 1.8 1.8 1.8 .5 1.8 .3 1.9 .2 1.8 .3 1.8 .3 1.9 .3 1.9 .3 1.9 .3 2 .3 2.1 .3 2 .5 2 .4 2.2 .5 2.3 .5 2.3 .6 2.6 .5 2 .9 1.7 1.1 1.8 1 1.8 1.1 1.9 1.2 1.5 1.3 1.4 1.4 1.4 1.4 1.5 1.4 1.5 1.6 1.6 1.6z" fill="none" stroke="#2e2e2e" stroke-width="0.45"/>
<path d="M472.1 643.6l2.3 1.8 2.5 2 3.3 2.2 5.4 2.8 19 5.3-11.5 .8-4.7 1.7-4.3 1.5-3.7 1.5-3 1.5-3 1.5-2.8 1.5-2.8 1.4-2.9 1.3-2.5 1.5-2.5 1.5-2.5 1.5-2.6 1.5-2.6 1.5-2.7 1.5-2.7 1.6-2.7 1.8-2.9 1.8-3 2-3.2 2.1-3.3 2.3-3.5 3-4 3.2-4.3 5.4-5.2 2.7-4.6-9.2-4-3.7-3.7-2.5-3.6-1.8-3.4-1.6-3.2-1.6-3.2-1.4-3.1-1.3-3-1.4-3-1.4-2.5-1.6-2.4-1.6-2.3-1.7-2.2-1.7-1.7-1.9-1.3-2-1.2-2-1.2-1.9-1.1-1.8-1.1-1.8-1.1-1.8-1.2-1.7-1.1-1.7-1.2-1.7-1.1-1.8-1.2-1.7-1.2-1.8-1.7-1.8-1.9-1.9-2-1.9-2.8-2.2-3.2-2.3-2.7-2.5 1.7-2.2 1.6-2.2 1.7-2 1.9-2 2-2 1.9-1.9 2-1.9 2-1.8 2.4-1.7 2.5-1.7 2.4-1.6 2.5-1.6 2.5-1.6 2.9-1.4 3.1-1.2 3.1-1.1 3.1-1.2 3.3-.9 3.4-.8 3.4-.7 3.5-.6 3.7-.1 3.8 .3 3.9 1.3 3.8 2.8 3.5 4.6 2.6 4.5 2.1 2 1.8 1.8 1.8 .5 1.9 .3 1.8 .3 1.8 .3 1.9 .2 1.8 .3 1.9 .3 2 .3 2 .3 2 .4 2 .4 2.1 .5 2.2 .5 2.2 .5 2.4 .5 2.6 .6 1.9 .9 1.8 1 1.8 1.1 1.8 1.1 1.9 1.2 1.5 1.3 1.4 1.3 1.4 1.5 1.5 1.4 1.5 1.6 1.6 1.6z" fill="none" stroke="#2e2e2e" stroke-width="0.45"/>
<path d="M472.2 643.6l2.3 1.8 2.5 2 3.4 2.3 6.2 2.8 21.9 5.9-13 .6-5.3 1.6-4.7 1.4-4.1 1.5-3.2 1.5-3.2 1.5-3.1 1.3-3 1.4-2.9 1.3-2.5 1.5-2.5 1.5-2.5 1.5-2.5 1.5-2.6 1.6-2.6 1.6-2.6 1.7-2.7 2-2.8 2-2.9 2.1-3.2 2.3-3.4 2.7-3.6 3.3-4 3.7-4.4 6.2-5.5 3.1-4.8-10.6-4-4.3-3.8-2.8-3.6-2-3.5-1.8-3.2-1.7-3.2-1.5-3.1-1.4-3-1.5-2.8-1.5-2.5-1.7-2.3-1.8-2.3-1.7-2.2-1.6-1.7-1.9-1.3-2.1-1.2-1.9-1.2-1.9-1.1-1.9-1.2-1.8-1.1-1.7-1.1-1.8-1.1-1.7-1.2-1.7-1.1-1.7-1.2-1.8-1.2-1.8-1.8-1.8-1.8-1.9-2-1.9-2.9-2.2-4.1-2.4-3.2-2.6 1.9-2.2 1.8-2.1 1.8-2.1 2-2.1 2.1-1.9 2-1.9 2-1.9 2.1-1.9 2.5-1.7 2.5-1.6 2.5-1.7 2.5-1.6 2.5-1.7 2.9-1.3 3.2-1.2 3.1-1.2 3.2-1.1 3.3-1 3.5-.7 3.5-.7 3.5-.5 3.8 0 3.7 .3 3.9 1.3 3.9 2.8 3.5 4.6 2.6 4.5 2.1 2.1 1.8 1.8 1.8 .5 1.9 .2 1.8 .3 1.9 .3 1.8 .3 1.9 .3 1.9 .3 1.9 .3 2 .3 2.1 .4 2 .4 2.1 .5 2.1 .4 2.3 .5 2.4 .6 2.6 .5 1.9 1 1.8 1 1.8 1.1 1.8 1.1 1.9 1.1 1.6 1.3 1.3 1.4 1.5 1.4 1.4 1.5 1.6 1.5 1.6 1.7z" fill="none" stroke="#2e2e2e" stroke-width="0.45"/>
<path d="M341.9 633.5l.8-.9 .9-1 .9-1 1-1 1-1 1.1-1.1 1.2-1.1 1.1-1.1 1.3-1.1 1.3-1.1 1.3-1.2 1.4-1.1 1.4-1.1 1.5-1.1 1.6-1.1 1.6-1.1 1.6-1.1 1.7-1 1.6-1 1.7-.9 1.6-.9 1.7-.8 1.6-.7 1.7-.7 1.6-.6 1.7-.6 1.6-.5 1.5-.5 1.6-.5 1.5-.4 1.5-.3 1.5-.4 1.4-.3 1.4-.2 1.3-.2 1.3-.2 1.1-.2 1.2-.1 1 0 1-.1 .9 0 .9 .1 .9 0 .9 .1 .8 .1 .8 .2 .8 .2 .7 .2 .7 .2 .7 .3 .7 .3 .7 .4 .7 .4 .7 .4 .6 .4 .6 .5 .7 .5 .5 .6 .6 .6 .6 .6 .5 .7 .5 .7 .4 .7 .5 .8 .4 .8 .4 .8 .5 .8 .5 .8 .5 .7 .5 .7 .6 .7 .6 .6 .6 .6 .8 .6 1.1 .6 1.2 .5 1.4 .5 1.7 .4 1.8 .4 2.1 .4 2.3 .4 2.2 .3 2.2 .4 2.1 .4 2 .3 2 .4 2 .4 1.9 .4 1.9 .4 1.7 .5 1.7 .5 1.6 .5 1.5 .5 1.4 .6 1.3 .6 1.2 .7 1.2 .6 1.1 .8 1.1 .8 1.2 .8 1.1 .9 1.1 1 1.2 1 1.1 1.1 1.2 1.1 1.1 1.1 1.1 1.1 1.1 1 1.1 1 1 .9 1.1 .9 1 .9 1.1 .8 1 .8 1.2 .8 1.2 .8 1.2 .7 1.3 .7 1.3 .7 1.4 .7 1.5 .7 1.4 .6 1.5 .6 1.6 .5 1.5 .4 1.6 .4 1.6 .4 1.6 .3 1.7 .3 1.5 .3 1.6 .2 1.5 .3 1.4 .3 1.4 .2 1.4 .3 1.3 .3 1.2 .2 .8 .3 .4 .2 0 .2-.4 .1-.8 .2-1.2 .1-1.7 0-2.1 .1-2 .1-2 .1-2 .2-1.9 .3-2 .4-1.9 .4-1.9 .4-1.8 .5-1.9 .6-1.9 .6-2 .7-1.9 .7-2 .8-2 .8-2 .9-2.1 .9-2.1 1-2 1-2.1 1-2.1 1.1-2 1.1-2.1 1.2-2 1.2-2.1 1.2-2 1.3-2.1 1.3-1.9 1.3-2 1.3-1.9 1.4-1.9 1.4-1.9 1.4-1.9 1.5-1.8 1.4-1.7 1.4-1.6 1.3-1.5 1.4-1.5 1.3-1.4 1.3-1.3 1.2-1.2 1.3-1.2 1.2-1.1 1.2-1 1.1-.9 1.2-.9 1.1-.8 1.1-.6 1-.7 1.1-.5 1-.5 1-.5 1-.4 1.1-.4 1-.3 1-.3 1.1-.2 1-.2 .8-.3 .4-.2 .2-.3-.1-.4-.4-.3-.7-.4-.9-.4-1.3-.5-1.2-.4-1.2-.4-1.1-.4-1.1-.4-1.2-.4-1-.4-1.1-.4-1-.5-1-.5-1.1-.6-.9-.6-1-.7-1-.7-.9-.8-1-.8-.9-.9-.9-1-.9-1-.9-1.2-.9-1.2-.9-1.3-.8-1.3-.8-1.5-.9-1.5-.8-1.4-.8-1.6-.8-1.5-.9-1.6-.8-1.6-.8-1.6-.9-1.7-.8-1.6-.8-1.5-.9-1.5-.8-1.4-.9-1.4-.9-1.4-.9-1.3-.9-1.2-.9-1.2-1.1-1.2-1.1-1.2-1.2-1.1-1.3-1.1-1.3-1.1-1.5-1-1.6-1.1-1.6-1-1.6-1-1.6-.9-1.5-.9-1.4-.9-1.4-.9-1.3-.9-1.3-.8-1.3-.8-1.1-.9-1.2-.8-1.1-.8-1-.8-1-.9-.9-.8-.9-.8-.8-.9-.8-.9-.8-1-.8-1-.8-1.1-.7-1.1-.8-1.2-.7-1.3-.7-.9-.8-.8-.8-.4-.8-.2-.8 0-.8 .3-.9z" fill="none" stroke="#1a1a1a" stroke-width="0.9" stroke-linejoin="round"/>
<ellipse cx="415.7" cy="643.6" rx="21.5" ry="12.8" fill="none" stroke="#1a1a1a" stroke-width="0.8"/>
<path d="M417.4 719.2 l-2 -6 l3 -3 l3 3 l1 6 z" fill="#777" stroke="#222" stroke-width="0.5"/>
<path d="M495.8 660.7 l-2 -6 l3 -3 l3 3 l1 6 z" fill="#777" stroke="#222" stroke-width="0.5"/>
<path d="M510.6 664.8 l-2 -6 l3 -3 l3 3 l1 6 z" fill="#777" stroke="#222" stroke-width="0.5"/></g>
<g id="rib"><path d="M339 791.1 L342.9 790.5 L346.7 789.9 L350.6 789.4 L354.4 788.8 L358.1 788.6 L359.6 792.1 L361.2 795.7 L362.7 799.3 L360.3 801.9 L357.3 804.3 L356.9 806.5 L360.2 808.7 L363.3 810.9 L366.2 813.6 L369.1 816.2 L372 818.8 L375.2 821 L378.5 823.1 L381.7 825.3 L384.9 827.4 L388.2 829.6 L391.4 831.8 L395.1 833.1 L398.8 834.3 L402.5 835.6 L406.2 836.8 L409.7 838.3 L413.3 839.9 L416.9 841.4 L420.5 843 L424 844.5 L426.5 847.4 L429.8 848.5 L433.7 848.5 L437.6 848.5 L441.2 849.8 L444.8 851.3 L448.4 852.8 L452 854.3 L438 858.7 L434.6 859.5 L431.2 860.3 L427.8 861.1 L424.4 861.9 L421.2 862.1 L419.2 859.3 L417.2 856.4 L415.6 853.3 L414.1 850.1 L411.9 847.5 L409.2 845.3 L406.5 843.1 L403.5 841.3 L400.3 839.9 L397.1 838.5 L393.9 837.1 L390.8 835.6 L387.6 834 L384.5 832.5 L381.4 830.9 L378.3 829.4 L375.2 827.7 L372.1 826 L369 824.4 L366 822.7 L362.9 821.1 L359.8 819.5 L356.7 817.8 L353.6 816.2 L350.5 814.6 L347.3 813.1 L344.3 811.4 L341.3 809.6 L338.3 807.8 L335.8 805.4 L333.7 802.6 L331.5 799.9 L331.1 796.7 L331.6 793.2Z" fill="#fff" stroke="none"/>
<path d="M338.1 791.4l.1 0 .2 0 .2-.1 .3 0 .3 0 .3 0 .4 0 .5 0 .4 0 .4 0 .4 0 .4 0 .5 0 .4-.1 .4 0 .4 0 .5 0 .4 0 .5 0 .4 0 .5-.1 .4 0 .5 0 .4 0 .5 0 .4-.1 .5 0 .4 0 .5 0 .4 0 .5-.1 .5 0 .4 0 .5 0 .4 0 .5 0 .4 0 .4 0 .5 0 .4 .1 .4 .1 .3 .2 .4 .2 .3 .2 .2 .4 .3 .3 .2 .4 .2 .5 .2 .4 .2 .4 .2 .4 .3 .4 .2 .5 .2 .4 .2 .4 .2 .4 .2 .4 .3 .5 .2 .4 .2 .4 .2 .4 .2 .4 .2 .5 .2 .4 .1 .3 .1 .4 0 .4-.1 .3-.1 .4-.2 .3-.2 .3-.2 .3-.2 .3-.3 .3-.2 .3-.3 .3-.2 .3-.3 .3-.3 .2-.2 .3-.3 .3-.1 .3-.2 .3-.1 .3 0 .2-.1 .3 0 .3 .1 .3 .1 .2 .2 .3 .2 .3 .2 .2 .3 .3 .4 .3 .4 .2 .4 .3 .4 .3 .4 .2 .4 .3 .4 .3 .4 .2 .4 .3 .4 .3 .4 .2 .4 .3 .4 .3 .3 .3 .4 .3 .4 .3 .4 .3 .3 .3 .4 .3 .3 .3 .4 .3 .4 .4 .3 .3 .4 .3 .4 .3 .3 .3 .4 .3 .4 .3 .3 .3 .4 .4 .3 .3 .4 .3 .4 .3 .3 .3 .4 .3 .4 .3 .4 .3 .3 .3 .4 .3 .4 .2 .4 .3 .4 .3 .4 .2 .4 .3 .4 .3 .4 .2 .4 .3 .4 .3 .4 .2 .4 .3 .4 .2 .4 .3 .4 .3 .4 .2 .4 .3 .5 .2 .4 .3 .4 .3 .4 .2 .4 .3 .4 .3 .4 .2 .4 .3 .4 .2 .4 .3 .4 .3 .4 .2 .4 .3 .4 .2 .4 .3 .4 .3 .4 .2 .4 .3 .4 .2 .4 .3 .4 .3 .4 .2 .4 .3 .4 .2 .4 .3 .4 .3 .4 .2 .4 .3 .5 .2 .4 .2 .4 .3 .4 .2 .5 .2 .4 .1 .5 .2 .4 .2 .5 .1 .4 .2 .5 .2 .4 .1 .5 .2 .4 .1 .5 .2 .4 .2 .5 .1 .4 .2 .5 .1 .4 .2 .5 .1 .5 .2 .4 .2 .5 .1 .4 .2 .5 .1 .4 .2 .5 .1 .4 .2 .5 .1 .4 .2 .5 .2 .4 .1 .5 .2 .4 .2 .5 .2 .4 .1 .5 .2 .4 .2 .4 .2 .5 .2 .4 .2 .4 .2 .5 .2 .4 .2 .5 .2 .4 .2 .4 .2 .5 .2 .4 .2 .4 .2 .5 .2 .4 .3 .4 .2 .4 .2 .5 .2 .4 .2 .4 .2 .5 .2 .4 .2 .4 .2 .4 .2 .5 .2 .4 .2 .4 .3 .4 .2 .5 .2 .4 .2 .4 .2 .4 .2 .4 .3 .4 .2 .4 .3 .4 .2 .3 .3 .4 .3 .3 .3 .3 .4 .3 .3 .3 .4 .3 .3 .4 .3 .3 .2 .4 .3 .3 .2 .4 .2 .4 .2 .4 .1 .4 .2 .4 .1 .5 .1 .4 .1 .4 .1 .5 0 .4 .1 .5 0 .5 0 .4 .1 .5 0 .5 0 .4 0 .5 0 .5 0 .5 0 .4 0 .5 .1 .5 .1 .4 0 .5 .1 .4 .2 .5 .1 .4 .1 .5 .2 .4 .1 .5 .1 .4 .2 .5 .1 .4 .2 .5 .1 .4 .2 .5 .1 .4 .2 .5 .1 .4 .2 .5 .1 .4 .2 .5 .1 .4 .2 .4 .1 .5 .2 .4 .1 .5 .2 .4 .1 .5 .2 .4 .1 .4 .2 .4 .1 .2 .1 .3 0 .1 .1 .1 0 .1 0" fill="none" stroke="#555" stroke-width="0.4"/>
<path d="M337.2 791.6l.1 0 .1 .1 .2 0 .2 0 .3 .1 .3 0 .3 .1 .4 0 .3 .1 .4 0 .3 .1 .4 0 .4 .1 .3 0 .4 .1 .4 0 .4 .1 .4 0 .4 0 .4 .1 .4 0 .4 .1 .4 0 .5 0 .4 0 .4 .1 .5 0 .4 0 .4 .1 .4 0 .5 0 .4 .1 .4 0 .5 0 .4 .1 .4 0 .4 .1 .5 0 .4 .1 .4 .1 .3 .1 .4 .2 .3 .2 .3 .3 .3 .3 .3 .3 .2 .4 .3 .4 .2 .4 .2 .4 .3 .4 .2 .4 .2 .4 .3 .4 .2 .4 .3 .4 .2 .3 .2 .4 .3 .4 .2 .4 .2 .4 .3 .4 .2 .4 .2 .4 .2 .3 .1 .4 0 .3 0 .3 0 .3-.1 .4-.1 .2-.1 .3-.2 .3-.1 .3-.2 .3-.1 .3-.2 .2-.2 .3-.2 .3-.2 .3-.1 .2-.1 .3 0 .3-.1 .2 0 .3 .1 .3 0 .2 .1 .3 .2 .3 .2 .2 .2 .3 .3 .2 .3 .3 .4 .3 .4 .2 .4 .3 .4 .2 .4 .3 .4 .2 .4 .3 .3 .2 .4 .3 .4 .3 .4 .2 .4 .3 .4 .3 .4 .2 .4 .3 .3 .3 .4 .3 .4 .3 .3 .3 .4 .3 .4 .3 .3 .3 .4 .3 .4 .3 .3 .3 .4 .3 .4 .3 .3 .3 .4 .3 .4 .3 .3 .3 .4 .3 .4 .3 .3 .3 .4 .3 .4 .2 .4 .3 .3 .3 .4 .3 .4 .2 .4 .3 .4 .2 .4 .3 .4 .3 .4 .2 .4 .3 .4 .2 .4 .3 .4 .2 .4 .3 .4 .2 .4 .3 .4 .2 .4 .3 .4 .3 .4 .2 .4 .3 .4 .2 .4 .3 .4 .2 .4 .3 .4 .2 .4 .3 .4 .2 .4 .3 .4 .2 .4 .3 .4 .2 .4 .3 .4 .2 .4 .3 .4 .2 .4 .3 .4 .2 .4 .3 .4 .2 .5 .3 .4 .2 .4 .3 .4 .2 .4 .3 .4 .2 .4 .3 .4 .2 .4 .2 .4 .2 .4 .2 .5 .2 .4 .2 .4 .2 .5 .2 .4 .1 .5 .2 .4 .2 .5 .1 .4 .2 .5 .1 .4 .2 .4 .2 .5 .1 .4 .2 .5 .1 .4 .2 .5 .2 .4 .1 .5 .2 .4 .1 .5 .2 .4 .2 .5 .1 .4 .2 .4 .1 .5 .2 .4 .2 .5 .1 .4 .2 .5 .2 .4 .1 .4 .2 .5 .2 .4 .2 .4 .2 .5 .2 .4 .2 .4 .2 .4 .2 .5 .2 .4 .2 .4 .3 .4 .2 .4 .2 .5 .2 .4 .2 .4 .2 .4 .2 .4 .3 .5 .2 .4 .2 .4 .2 .4 .2 .4 .2 .4 .3 .4 .2 .4 .2 .5 .2 .4 .3 .4 .2 .3 .2 .4 .3 .4 .2 .4 .2 .4 .3 .4 .2 .4 .3 .4 .2 .3 .3 .4 .3 .3 .3 .3 .3 .3 .3 .3 .4 .3 .4 .3 .3 .3 .3 .3 .3 .3 .3 .4 .3 .3 .2 .4 .2 .4 .2 .3 .2 .4 .2 .4 .1 .4 .2 .4 .1 .4 .1 .5 .1 .4 .1 .4 .1 .5 0 .4 .1 .4 0 .5 .1 .5 0 .4 0 .5 0 .4 0 .5 0 .5 0 .4 .1 .5 0 .4 .1 .5 .1 .4 .1 .5 .1 .4 .1 .5 .1 .4 .1 .4 .1 .5 .1 .4 .2 .5 .1 .4 .1 .5 .1 .4 .1 .5 .1 .4 .1 .4 .2 .5 .1 .4 .1 .5 .1 .4 .1 .5 .1 .4 .1 .5 .2 .4 .1 .4 .1 .5 .1 .4 .1 .3 .1 .3 .1 .2 0 .2 .1 .1 0" fill="none" stroke="#555" stroke-width="0.4"/>
<path d="M336.2 791.9l.1 0 .1 .1 .2 0 .1 .1 .3 .1 .2 .1 .3 .1 .3 .1 .2 .2 .3 .1 .3 .1 .3 .1 .4 .1 .3 .1 .3 .1 .3 .1 .4 .1 .3 .1 .4 .1 .3 .1 .4 .1 .4 .1 .4 .1 .4 0 .4 .1 .4 .1 .4 .1 .4 .1 .4 .1 .4 0 .4 .1 .4 .1 .5 .1 .4 .1 .4 .1 .4 .1 .4 .1 .4 .1 .4 0 .3 .2 .4 .1 .4 .2 .3 .3 .3 .2 .3 .3 .3 .3 .2 .4 .3 .4 .3 .3 .2 .4 .3 .4 .2 .3 .3 .4 .3 .4 .2 .3 .3 .4 .2 .3 .3 .4 .3 .4 .2 .3 .3 .4 .3 .3 .2 .4 .2 .4 .2 .3 .2 .3 .1 .3 .1 .3 0 .3 0 .3 0 .3-.1 .3 0 .2-.1 .3-.1 .3 0 .2-.1 .3-.1 .3-.1 .2-.1 .3 0 .2 0 .3 0 .3 0 .2 .1 .3 .1 .2 .1 .3 .2 .2 .2 .3 .2 .2 .2 .3 .3 .2 .4 .3 .3 .2 .4 .3 .4 .2 .4 .3 .4 .2 .4 .3 .4 .2 .4 .3 .4 .2 .4 .3 .4 .2 .4 .3 .3 .2 .4 .3 .4 .3 .4 .2 .4 .3 .3 .3 .4 .3 .4 .3 .3 .3 .4 .2 .4 .3 .3 .3 .4 .3 .4 .3 .4 .2 .3 .3 .4 .3 .4 .3 .3 .3 .4 .3 .4 .2 .3 .3 .4 .3 .4 .3 .4 .2 .4 .3 .3 .3 .4 .2 .4 .3 .4 .2 .4 .3 .4 .2 .4 .3 .4 .2 .4 .3 .4 .2 .4 .2 .4 .3 .4 .2 .4 .3 .4 .2 .4 .3 .4 .2 .4 .3 .4 .2 .4 .2 .4 .3 .4 .2 .4 .3 .4 .2 .4 .3 .4 .2 .4 .2 .4 .3 .4 .2 .4 .3 .4 .2 .4 .3 .4 .2 .4 .2 .4 .3 .4 .2 .4 .3 .4 .2 .4 .2 .4 .3 .4 .2 .4 .3 .4 .2 .4 .3 .4 .2 .4 .2 .4 .2 .4 .2 .4 .2 .5 .2 .4 .2 .4 .2 .5 .2 .4 .1 .4 .2 .5 .2 .4 .1 .4 .2 .5 .2 .4 .1 .5 .2 .4 .1 .4 .2 .5 .2 .4 .1 .5 .2 .4 .1 .4 .2 .5 .2 .4 .1 .4 .2 .5 .2 .4 .1 .5 .2 .4 .1 .4 .2 .5 .2 .4 .1 .4 .2 .5 .2 .4 .2 .4 .2 .4 .2 .5 .2 .4 .2 .4 .2 .4 .2 .4 .2 .4 .2 .4 .3 .4 .2 .5 .2 .4 .2 .4 .3 .4 .2 .4 .2 .4 .2 .4 .3 .4 .2 .4 .2 .4 .2 .4 .3 .4 .2 .4 .2 .4 .3 .4 .2 .4 .2 .3 .3 .4 .2 .4 .3 .4 .3 .3 .2 .4 .3 .3 .2 .4 .3 .3 .3 .4 .2 .3 .3 .3 .3 .3 .4 .3 .3 .3 .3 .3 .4 .3 .4 .3 .3 .3 .3 .3 .4 .3 .3 .3 .2 .3 .3 .4 .2 .3 .3 .4 .2 .3 .2 .4 .2 .4 .1 .3 .2 .4 .2 .4 .1 .4 .1 .4 .2 .4 .1 .5 0 .4 .1 .4 0 .5 .1 .4 0 .5 0 .4 0 .5 0 .4 0 .5 0 .4 .1 .5 0 .4 .1 .5 0 .4 .1 .4 .1 .5 0 .4 .1 .5 .1 .4 .1 .4 0 .5 .1 .4 .1 .5 .1 .4 .1 .5 0 .4 .1 .4 .1 .5 .1 .4 .1 .5 0 .4 .1 .4 .1 .5 .1 .4 0 .5 .1 .4 .1 .4 .1 .4 .1 .4 0 .2 .1 .3 0 .1 0 .1 .1 .1 0" fill="none" stroke="#555" stroke-width="0.4"/>
<path d="M335.3 792.2l.1 0 .1 .1 .1 .1 .1 .1 .1 .1 .2 .2 .2 .2 .3 .2 .2 .1 .2 .2 .3 .2 .2 .1 .2 .2 .3 .2 .3 .2 .2 .1 .3 .2 .3 .1 .4 .2 .3 .1 .4 .2 .3 .1 .4 .1 .4 .2 .4 .1 .3 .1 .4 .2 .4 .1 .4 .1 .3 .2 .4 .1 .4 .2 .4 .1 .3 .1 .4 .2 .4 .1 .4 .1 .4 .2 .4 .1 .3 .2 .4 .2 .3 .2 .4 .2 .3 .3 .3 .2 .3 .4 .3 .3 .2 .3 .3 .4 .3 .3 .3 .3 .3 .4 .3 .3 .2 .3 .3 .4 .3 .3 .3 .4 .3 .3 .3 .3 .3 .3 .2 .4 .3 .3 .3 .3 .3 .4 .2 .3 .2 .3 .2 .3 .1 .2 .1 .3 .1 .3 0 .2 .1 .3 0 .3 0 .2 .1 .3 0 .2 0 .3 0 .2 0 .3 0 .2 .1 .3 0 .2 .1 .2 .1 .3 .2 .2 .1 .3 .2 .2 .2 .3 .2 .2 .3 .3 .3 .2 .3 .2 .3 .3 .4 .2 .4 .3 .4 .2 .4 .2 .4 .3 .4 .2 .4 .2 .3 .3 .4 .2 .4 .3 .4 .2 .4 .3 .4 .2 .4 .3 .4 .2 .3 .3 .4 .2 .4 .3 .4 .3 .3 .2 .4 .3 .4 .3 .3 .2 .4 .3 .4 .3 .4 .2 .3 .3 .4 .3 .4 .2 .4 .3 .3 .3 .4 .2 .4 .3 .3 .3 .4 .2 .4 .3 .4 .3 .4 .2 .3 .3 .4 .2 .4 .3 .4 .2 .4 .2 .4 .3 .4 .2 .4 .2 .4 .3 .4 .2 .4 .3 .4 .2 .4 .2 .4 .3 .4 .2 .4 .2 .4 .3 .4 .2 .4 .2 .4 .3 .4 .2 .4 .2 .3 .3 .4 .2 .4 .2 .4 .3 .4 .2 .4 .2 .4 .3 .4 .2 .4 .2 .4 .3 .4 .2 .4 .2 .4 .3 .4 .2 .4 .2 .4 .3 .4 .2 .4 .2 .4 .3 .4 .2 .4 .2 .4 .3 .4 .2 .4 .2 .4 .2 .4 .2 .4 .2 .5 .2 .4 .2 .4 .2 .4 .1 .5 .2 .4 .2 .4 .2 .5 .1 .4 .2 .4 .2 .4 .1 .5 .2 .4 .2 .4 .1 .5 .2 .4 .1 .4 .2 .5 .2 .4 .1 .4 .2 .5 .2 .4 .1 .4 .2 .4 .2 .5 .1 .4 .2 .4 .2 .5 .1 .4 .2 .4 .2 .4 .2 .5 .2 .4 .2 .4 .2 .4 .2 .4 .2 .4 .2 .4 .2 .4 .2 .4 .3 .4 .2 .4 .2 .4 .3 .4 .2 .4 .2 .4 .3 .4 .2 .4 .2 .3 .3 .4 .2 .4 .2 .4 .3 .4 .2 .4 .2 .4 .3 .3 .2 .4 .3 .4 .3 .3 .2 .4 .3 .3 .3 .4 .2 .3 .3 .3 .3 .4 .3 .3 .3 .3 .3 .3 .3 .3 .3 .3 .3 .3 .3 .3 .4 .3 .3 .2 .4 .3 .4 .2 .3 .3 .4 .3 .3 .3 .3 .3 .3 .3 .3 .3 .3 .3 .2 .4 .3 .3 .2 .4 .2 .3 .2 .4 .2 .3 .2 .4 .2 .4 .2 .3 .1 .4 .2 .4 .1 .4 .1 .5 0 .4 0 .4 .1 .5-.1 .4 0 .4 0 .5 0 .4 0 .5 .1 .4 0 .4 0 .5 0 .4 .1 .5 0 .4 .1 .4 0 .5 0 .4 .1 .5 0 .4 .1 .4 0 .5 .1 .4 0 .4 0 .5 .1 .4 0 .5 .1 .4 0 .4 .1 .5 0 .4 0 .4 .1 .5 0 .4 .1 .5 0 .4 .1 .4 0 .3 0 .3 .1 .2 0 .2 0 .1 0" fill="none" stroke="#555" stroke-width="0.4"/>
<path d="M334.4 792.4l0 .1 .1 .1 0 .1 .1 .2 .1 .2 .2 .2 .1 .2 .2 .3 .1 .2 .2 .2 .2 .3 .1 .2 .2 .2 .2 .3 .3 .2 .2 .2 .2 .2 .3 .2 .3 .2 .3 .2 .3 .2 .3 .2 .4 .2 .3 .2 .4 .2 .3 .2 .4 .2 .3 .1 .4 .2 .3 .2 .4 .2 .3 .2 .4 .2 .3 .2 .4 .1 .4 .2 .3 .2 .4 .2 .3 .2 .4 .2 .3 .2 .4 .2 .3 .2 .4 .3 .3 .3 .3 .3 .3 .3 .3 .3 .3 .3 .3 .3 .3 .3 .3 .3 .3 .3 .3 .3 .3 .3 .3 .3 .4 .4 .3 .3 .3 .3 .3 .3 .3 .3 .3 .3 .3 .3 .3 .3 .3 .2 .2 .3 .2 .3 .2 .2 .2 .3 .2 .3 .1 .2 .1 .2 .2 .3 .1 .2 .1 .3 .1 .2 .1 .2 .1 .3 .1 .2 .1 .2 .2 .3 .1 .2 .2 .2 .2 .3 .1 .2 .3 .2 .2 .3 .2 .2 .3 .2 .3 .3 .3 .2 .3 .2 .4 .3 .3 .2 .4 .2 .4 .3 .4 .2 .4 .2 .4 .2 .4 .3 .4 .2 .4 .2 .4 .3 .4 .2 .4 .2 .3 .3 .4 .2 .4 .3 .4 .2 .4 .3 .3 .2 .4 .3 .4 .2 .4 .3 .3 .2 .4 .3 .4 .2 .4 .3 .3 .2 .4 .3 .4 .2 .4 .3 .3 .2 .4 .3 .4 .2 .4 .3 .3 .2 .4 .3 .4 .2 .4 .3 .4 .2 .4 .3 .3 .2 .4 .2 .4 .3 .4 .2 .4 .2 .4 .3 .4 .2 .4 .2 .4 .2 .4 .3 .4 .2 .4 .2 .4 .3 .3 .2 .4 .2 .4 .2 .4 .3 .4 .2 .4 .2 .4 .2 .4 .3 .4 .2 .4 .2 .4 .2 .4 .3 .4 .2 .4 .2 .4 .2 .4 .3 .4 .2 .4 .2 .4 .2 .4 .3 .4 .2 .4 .2 .4 .2 .3 .2 .4 .3 .4 .2 .4 .2 .4 .2 .4 .3 .4 .2 .4 .2 .4 .2 .4 .2 .4 .2 .4 .2 .5 .2 .4 .2 .4 .2 .4 .1 .4 .2 .5 .2 .4 .2 .4 .1 .4 .2 .4 .2 .5 .1 .4 .2 .4 .2 .4 .1 .5 .2 .4 .2 .4 .1 .4 .2 .5 .2 .4 .1 .4 .2 .4 .2 .4 .1 .5 .2 .4 .2 .4 .1 .4 .2 .5 .2 .4 .2 .4 .1 .4 .2 .4 .2 .4 .2 .4 .2 .4 .3 .4 .2 .4 .2 .4 .2 .4 .2 .4 .3 .4 .2 .3 .2 .4 .3 .4 .2 .4 .3 .4 .2 .3 .3 .4 .2 .4 .3 .4 .2 .4 .2 .3 .3 .4 .2 .4 .3 .3 .3 .4 .2 .3 .3 .4 .3 .3 .3 .3 .2 .3 .3 .4 .3 .3 .3 .3 .3 .3 .3 .3 .4 .3 .3 .3 .3 .2 .3 .3 .4 .3 .3 .2 .4 .3 .3 .2 .4 .3 .4 .2 .3 .3 .4 .2 .3 .3 .4 .3 .3 .3 .3 .3 .3 .3 .3 .3 .2 .3 .3 .3 .2 .4 .3 .3 .2 .3 .3 .4 .2 .3 .2 .4 .2 .3 .2 .4 .1 .4 .1 .4 .1 .4 0 .4 0 .4 0 .5 0 .4 0 .4 0 .5 0 .4 0 .4 0 .5 0 .4 0 .5 0 .4 0 .4 0 .5 0 .4 0 .4 0 .5 0 .4 0 .4 0 .5 0 .4 0 .4 0 .5 .1 .4 0 .4 0 .5 0 .4 0 .4 0 .5 0 .4 0 .5 0 .4 0 .4 0 .5 0 .3 .1 .4 0 .2 0 .3 0 .1 0 .1 0 .1 0" fill="none" stroke="#555" stroke-width="0.4"/>
<path d="M333.4 792.7l.1 .1 0 .1 0 .2 .1 .2 0 .2 .1 .3 .1 .3 .1 .3 .1 .3 .1 .3 .1 .3 .1 .3 .1 .3 .2 .2 .1 .3 .2 .3 .2 .3 .2 .2 .3 .3 .2 .3 .3 .2 .3 .3 .4 .2 .3 .2 .3 .3 .3 .2 .4 .2 .3 .3 .3 .2 .3 .3 .4 .2 .3 .2 .3 .3 .3 .2 .4 .2 .3 .3 .4 .2 .3 .2 .3 .2 .4 .3 .3 .2 .4 .2 .3 .3 .3 .2 .4 .3 .3 .3 .3 .3 .3 .2 .4 .3 .3 .3 .3 .3 .4 .3 .3 .2 .3 .3 .3 .3 .4 .3 .3 .3 .3 .2 .4 .3 .3 .3 .3 .3 .4 .2 .3 .3 .3 .3 .3 .2 .3 .3 .3 .2 .3 .3 .2 .2 .2 .2 .3 .3 .2 .2 .2 .2 .2 .2 .2 .3 .2 .2 .2 .2 .2 .2 .2 .2 .2 .3 .2 .2 .3 .2 .2 .2 .3 .3 .2 .2 .3 .2 .3 .2 .3 .2 .3 .3 .3 .2 .3 .2 .4 .2 .3 .3 .4 .2 .4 .2 .4 .2 .4 .2 .4 .3 .4 .2 .4 .2 .3 .2 .4 .3 .4 .2 .4 .2 .4 .2 .4 .3 .4 .2 .3 .2 .4 .2 .4 .3 .4 .2 .4 .2 .4 .3 .3 .2 .4 .3 .4 .2 .4 .2 .3 .3 .4 .2 .4 .2 .4 .3 .4 .2 .3 .3 .4 .2 .4 .2 .4 .3 .4 .2 .3 .2 .4 .3 .4 .2 .4 .2 .4 .3 .4 .2 .3 .2 .4 .2 .4 .3 .4 .2 .4 .2 .4 .2 .4 .2 .4 .3 .4 .2 .4 .2 .3 .2 .4 .3 .4 .2 .4 .2 .4 .2 .4 .2 .4 .2 .4 .3 .4 .2 .4 .2 .4 .2 .4 .2 .4 .2 .4 .2 .3 .3 .4 .2 .4 .2 .4 .2 .4 .2 .4 .2 .4 .2 .4 .3 .4 .2 .4 .2 .4 .2 .4 .2 .4 .2 .4 .2 .4 .3 .4 .2 .4 .2 .3 .2 .4 .2 .4 .2 .4 .2 .4 .2 .5 .2 .4 .2 .4 .2 .4 .2 .4 .1 .4 .2 .4 .2 .4 .2 .4 .1 .5 .2 .4 .2 .4 .1 .4 .2 .4 .2 .4 .1 .5 .2 .4 .2 .4 .2 .4 .1 .4 .2 .4 .2 .4 .1 .5 .2 .4 .2 .4 .1 .4 .2 .4 .2 .4 .2 .5 .1 .4 .2 .4 .2 .4 .2 .4 .2 .4 .2 .4 .2 .3 .2 .4 .3 .4 .2 .4 .2 .4 .2 .3 .3 .4 .2 .4 .3 .4 .2 .3 .3 .4 .2 .4 .3 .3 .2 .4 .3 .4 .3 .3 .2 .4 .3 .4 .2 .3 .3 .4 .3 .3 .2 .3 .3 .4 .3 .3 .3 .3 .3 .3 .3 .3 .3 .3 .3 .3 .3 .2 .4 .3 .3 .3 .3 .2 .4 .3 .3 .2 .4 .3 .3 .2 .4 .3 .4 .2 .3 .2 .4 .2 .4 .3 .4 .2 .3 .3 .4 .2 .3 .3 .4 .3 .3 .2 .3 .3 .3 .3 .3 .3 .3 .3 .3 .3 .3 .3 .3 .3 .2 .3 .3 .3 .3 .4 .2 .3 .2 .4 .2 .3 .1 .4 .1 .4 0 .4 0 .4 0 .4 0 .5 0 .4-.1 .4 0 .5 0 .4 0 .4-.1 .4 0 .5 0 .4-.1 .4 0 .5 0 .4-.1 .4 0 .5 0 .4 0 .4-.1 .5 0 .4 0 .4 0 .5-.1 .4 0 .4 0 .5-.1 .4 0 .4 0 .5 0 .4-.1 .4 0 .5 0 .4 0 .4-.1 .4 0 .3 0 .3 0 .2 0 .2-.1 .1 0" fill="none" stroke="#555" stroke-width="0.4"/>
<path d="M332.5 793l0 .1 0 .1 0 .2 0 .3 0 .2 0 .4 0 .3 .1 .4 0 .4 0 .3 .1 .4 .1 .3 0 .4 .1 .3 .1 .4 .2 .3 .1 .3 .2 .4 .2 .3 .2 .3 .3 .3 .2 .3 .3 .3 .3 .3 .3 .2 .3 .3 .3 .3 .3 .3 .3 .3 .3 .3 .3 .3 .3 .3 .3 .3 .3 .2 .3 .3 .4 .3 .3 .3 .3 .2 .3 .3 .4 .2 .3 .3 .3 .3 .4 .2 .3 .3 .3 .2 .4 .3 .3 .2 .4 .3 .3 .2 .4 .3 .3 .3 .4 .2 .4 .3 .3 .2 .4 .3 .3 .2 .4 .3 .3 .2 .4 .3 .3 .2 .4 .2 .3 .3 .4 .2 .4 .3 .3 .2 .3 .2 .4 .2 .3 .3 .3 .2 .3 .2 .3 .2 .3 .2 .3 .2 .3 .2 .3 .2 .3 .3 .3 .2 .3 .2 .3 .2 .3 .2 .3 .2 .3 .2 .3 .2 .4 .2 .3 .2 .3 .3 .3 .2 .4 .2 .3 .2 .4 .2 .3 .2 .4 .2 .4 .2 .4 .3 .4 .2 .4 .2 .3 .2 .4 .2 .4 .2 .4 .2 .4 .3 .4 .2 .4 .2 .4 .2 .3 .2 .4 .2 .4 .2 .4 .3 .4 .2 .4 .2 .3 .2 .4 .2 .4 .3 .4 .2 .4 .2 .4 .2 .3 .2 .4 .3 .4 .2 .4 .2 .4 .2 .3 .2 .4 .3 .4 .2 .4 .2 .4 .2 .4 .3 .3 .2 .4 .2 .4 .2 .4 .2 .4 .3 .4 .2 .3 .2 .4 .2 .4 .2 .4 .2 .4 .2 .4 .3 .4 .2 .4 .2 .3 .2 .4 .2 .4 .2 .4 .2 .4 .3 .4 .2 .4 .2 .4 .2 .4 .2 .4 .2 .3 .2 .4 .2 .4 .2 .4 .2 .4 .2 .4 .2 .4 .2 .4 .2 .4 .2 .4 .2 .4 .3 .4 .2 .4 .2 .3 .2 .4 .2 .4 .2 .4 .2 .4 .2 .4 .2 .4 .2 .4 .2 .4 .2 .4 .2 .4 .2 .4 .2 .4 .2 .4 .2 .4 .2 .4 .2 .4 .2 .4 .2 .4 .1 .4 .2 .4 .2 .4 .2 .4 .2 .4 .1 .4 .2 .4 .2 .4 .1 .4 .2 .4 .2 .4 .2 .4 .1 .5 .2 .4 .2 .4 .2 .4 .1 .4 .2 .4 .2 .4 .1 .4 .2 .4 .2 .4 .2 .4 .1 .4 .2 .4 .2 .4 .2 .4 .2 .4 .2 .4 .2 .4 .2 .4 .2 .4 .2 .3 .2 .4 .3 .4 .2 .4 .3 .3 .2 .4 .3 .3 .2 .4 .3 .3 .2 .4 .3 .4 .3 .3 .2 .4 .3 .3 .3 .4 .2 .3 .3 .4 .3 .3 .2 .3 .3 .4 .3 .3 .3 .3 .3 .3 .3 .3 .3 .2 .3 .3 .4 .3 .3 .2 .4 .3 .3 .2 .4 .3 .3 .2 .4 .2 .4 .2 .3 .3 .4 .2 .4 .2 .4 .2 .3 .2 .4 .2 .4 .2 .4 .3 .4 .2 .3 .2 .4 .3 .3 .2 .4 .3 .3 .3 .4 .2 .3 .3 .3 .3 .3 .3 .4 .2 .3 .3 .3 .3 .3 .3 .3 .3 .3 .3 .2 .3 .2 .4 .1 .3 .1 .4 .1 .4 0 .4 0 .4 0 .4-.1 .5 0 .4-.1 .4 0 .4-.1 .5 0 .4-.1 .4 0 .4-.1 .5-.1 .4 0 .4-.1 .5-.1 .4 0 .4-.1 .4-.1 .5 0 .4-.1 .4 0 .5-.1 .4-.1 .4 0 .4-.1 .5-.1 .4 0 .4-.1 .5 0 .4-.1 .4-.1 .4 0 .5-.1 .3 0 .4-.1 .2 0 .3-.1 .1 0 .1 0 .1 0" fill="none" stroke="#555" stroke-width="0.4"/>
<path d="M339 791.1 L342.9 790.5 L346.7 789.9 L350.6 789.4 L354.4 788.8 L358.1 788.6 L359.6 792.1 L361.2 795.7 L362.7 799.3 L360.3 801.9 L357.3 804.3 L356.9 806.5 L360.2 808.7 L363.3 810.9 L366.2 813.6 L369.1 816.2 L372 818.8 L375.2 821 L378.5 823.1 L381.7 825.3 L384.9 827.4 L388.2 829.6 L391.4 831.8 L395.1 833.1 L398.8 834.3 L402.5 835.6 L406.2 836.8 L409.7 838.3 L413.3 839.9 L416.9 841.4 L420.5 843 L424 844.5 L426.5 847.4 L429.8 848.5 L433.7 848.5 L437.6 848.5 L441.2 849.8 L444.8 851.3 L448.4 852.8 L452 854.3 L438 858.7 L434.6 859.5 L431.2 860.3 L427.8 861.1 L424.4 861.9 L421.2 862.1 L419.2 859.3 L417.2 856.4 L415.6 853.3 L414.1 850.1 L411.9 847.5 L409.2 845.3 L406.5 843.1 L403.5 841.3 L400.3 839.9 L397.1 838.5 L393.9 837.1 L390.8 835.6 L387.6 834 L384.5 832.5 L381.4 830.9 L378.3 829.4 L375.2 827.7 L372.1 826 L369 824.4 L366 822.7 L362.9 821.1 L359.8 819.5 L356.7 817.8 L353.6 816.2 L350.5 814.6 L347.3 813.1 L344.3 811.4 L341.3 809.6 L338.3 807.8 L335.8 805.4 L333.7 802.6 L331.5 799.9 L331.1 796.7 L331.6 793.2Z" fill="none" stroke="#1a1a1a" stroke-width="1.0" stroke-linejoin="round"/>
<path d="M403.4 751.2 L406.4 752.2 L409.5 753.2 L412.5 754.2 L415.5 755.4 L418.5 756.5 L421.5 757.7 L424.5 758.9 L427.5 760.1 L430.4 761.4 L433.1 763.1 L435.9 764.7 L438.7 766.4 L441.4 768 L444.2 769.7 L447 771.2 L450 772.4 L453 773.5 L456 774.6 L459 775.7 L461.4 777.8 L463.7 780.1 L466 782.4 L468.2 784.7 L470.5 786.9 L473.1 788.9 L475.7 790.7 L478.3 792.6 L481 794.4 L483.6 796.3 L486.2 798.1 L489 799.7 L491.8 801.2 L494.7 802.6 L497.6 804 L500.5 805.5 L503.3 806.9 L506.3 808.2 L509.3 809.4 L512.3 810.6 L480.1 837.8 L478.2 834.2 L476.2 830.6 L474.4 827 L477.8 824.7 L481.2 822.3 L484.6 820 L487 818 L482.9 818.4 L478.8 818.8 L474.7 819.1 L470.6 819.5 L467.2 817.8 L464 815.2 L460.9 812.6 L457.7 809.9 L454.6 807.3 L452.3 803.9 L452.5 800.6 L455 797.3 L454.3 794.6 L450.8 792.6 L447.2 790.5 L443.6 791.3 L439.9 793.1 L436.3 794.8 L432.4 793.4 L428.6 791.9 L424.8 790.4 L421 788.9 L417.1 787.4 L413.3 785.8 L409.5 784.3 L405.7 782.8 L401.8 781.5 L397.9 780.4 L393.9 779.2 L390 778 L386.3 776.3 L382.7 774.3Z" fill="#fff" stroke="none"/>
<path d="M401.6 753.1l.1 0 .1 0 .1 .1 .2 .1 .3 0 .3 .1 .3 .2 .4 .1 .4 .1 .4 .2 .3 .1 .4 .1 .4 .2 .4 .1 .4 .2 .4 .1 .4 .1 .4 .2 .4 .1 .3 .1 .4 .1 .4 .2 .4 .1 .4 .1 .4 .2 .4 .1 .4 .1 .4 .2 .3 .1 .4 .1 .4 .2 .4 .1 .4 .2 .4 .1 .4 .2 .3 .1 .4 .2 .4 .1 .4 .2 .4 .1 .4 .2 .3 .1 .4 .2 .4 .1 .4 .2 .4 .1 .3 .2 .4 .1 .4 .2 .4 .1 .4 .2 .4 .1 .3 .2 .4 .1 .4 .2 .4 .1 .4 .2 .4 .1 .3 .2 .4 .1 .4 .2 .4 .1 .4 .2 .3 .1 .4 .2 .4 .1 .4 .2 .4 .2 .3 .1 .4 .2 .4 .1 .4 .2 .3 .2 .4 .2 .4 .1 .3 .2 .4 .2 .4 .2 .3 .2 .4 .2 .3 .2 .4 .2 .4 .2 .3 .2 .4 .2 .3 .2 .4 .2 .3 .3 .4 .2 .3 .2 .4 .2 .4 .2 .3 .2 .4 .2 .3 .2 .4 .2 .3 .2 .4 .2 .3 .2 .4 .2 .4 .2 .3 .2 .4 .2 .3 .2 .4 .2 .3 .2 .4 .2 .3 .3 .4 .2 .4 .2 .3 .2 .4 .2 .3 .2 .4 .2 .3 .2 .4 .1 .4 .2 .3 .2 .4 .1 .3 .2 .4 .2 .4 .1 .3 .1 .4 .2 .4 .1 .4 .1 .3 .1 .4 .1 .4 .2 .4 .1 .4 .1 .4 .1 .3 .1 .4 .1 .4 .2 .4 .1 .4 .1 .4 .1 .3 .2 .4 .1 .4 .1 .4 .2 .4 .1 .3 .2 .4 .1 .4 .2 .4 .1 .4 .2 .4 .1 .3 .2 .4 .1 .4 .2 .4 .2 .3 .1 .4 .2 .3 .2 .3 .3 .3 .2 .3 .3 .3 .2 .3 .3 .2 .3 .3 .2 .3 .3 .2 .3 .3 .3 .2 .3 .2 .3 .3 .3 .2 .3 .3 .3 .2 .3 .2 .3 .3 .3 .3 .3 .2 .3 .3 .2 .2 .3 .3 .3 .3 .3 .3 .3 .2 .3 .3 .3 .3 .3 .3 .3 .3 .3 .3 .3 .2 .3 .3 .3 .3 .3 .3 .3 .3 .2 .3 .3 .3 .3 .3 .3 .3 .2 .3 .3 .4 .3 .3 .2 .3 .3 .3 .2 .4 .3 .3 .2 .3 .3 .3 .2 .4 .2 .3 .3 .3 .2 .4 .3 .3 .2 .3 .2 .4 .3 .3 .2 .4 .3 .3 .2 .3 .2 .4 .3 .3 .2 .3 .2 .4 .3 .3 .2 .3 .2 .4 .3 .3 .2 .3 .2 .4 .2 .3 .3 .4 .2 .3 .2 .4 .2 .3 .2 .3 .2 .4 .2 .3 .2 .4 .3 .3 .2 .4 .2 .3 .2 .4 .2 .3 .2 .3 .2 .4 .2 .3 .2 .4 .2 .3 .2 .4 .2 .4 .2 .3 .1 .4 .2 .3 .2 .4 .2 .4 .2 .3 .1 .4 .2 .4 .2 .3 .1 .4 .2 .4 .1 .3 .2 .3 .2 .4 .2 .3 .1 .3 .2 .3 .2 .3 .2 .3 .2 .3 .2 .3 .2 .3 .1 .3 .2 .3 .2 .3 .2 .3 .2 .3 .2 .3 .2 .3 .2 .3 .2 .3 .1 .3 .2 .3 .2 .3 .2 .2 .2 .3 .2 .3 .2 .3 .2 .3 .2 .3 .1 .3 .2 .3 .2 .3 .2 .3 .2 .4 .2 .3 .2 .3 .1 .4 .2 .3 .2 .4 .2 .4 .2 .3 .1 .4 .2 .3 .2 .4 .2 .4 .1 .3 .2 .4 .2 .4 .2 .3 .1 .4 .2 .3 .2 .4 .2 .4 .1 .3 .2 .3 .2 .3 .1 .2 .1 .2 .1 .2 .1 .1 0" fill="none" stroke="#444" stroke-width="0.42"/>
<path d="M399.9 755l.1 0 .1 .1 .1 0 .2 .1 .3 .1 .3 .1 .3 .1 .4 .2 .4 .1 .4 .2 .4 .1 .4 .2 .4 .1 .4 .1 .3 .2 .4 .1 .4 .2 .4 .1 .4 .1 .4 .2 .4 .1 .4 .1 .4 .2 .4 .1 .4 .1 .4 .2 .4 .1 .4 .2 .4 .1 .4 .1 .4 .2 .4 .1 .4 .2 .4 .1 .4 .2 .4 .1 .4 .1 .4 .2 .3 .1 .4 .2 .4 .1 .4 .2 .4 .1 .4 .2 .4 .1 .4 .2 .4 .1 .4 .2 .4 .1 .4 .2 .4 .1 .3 .2 .4 .2 .4 .1 .4 .2 .4 .1 .4 .2 .4 .1 .4 .2 .4 .1 .4 .2 .4 .2 .3 .1 .4 .2 .4 .1 .4 .2 .4 .1 .4 .2 .4 .2 .4 .1 .3 .2 .4 .2 .4 .1 .4 .2 .4 .2 .3 .2 .4 .2 .4 .2 .4 .2 .3 .2 .4 .2 .4 .2 .3 .2 .4 .2 .4 .2 .3 .2 .4 .2 .4 .2 .3 .2 .4 .2 .4 .2 .3 .2 .4 .2 .4 .2 .3 .2 .4 .2 .4 .2 .3 .2 .4 .2 .4 .2 .3 .2 .4 .2 .4 .2 .3 .2 .4 .3 .4 .2 .3 .2 .4 .2 .4 .2 .3 .2 .4 .2 .4 .2 .3 .2 .4 .2 .4 .1 .3 .2 .4 .1 .4 .2 .3 .1 .4 .1 .4 .2 .4 .1 .3 .1 .4 .1 .4 .1 .4 .1 .4 0 .4 .1 .4 .1 .3 .1 .4 .1 .4 .1 .4 .1 .4 .1 .4 .1 .4 .1 .4 .1 .4 .1 .3 .1 .4 .1 .4 .2 .4 .1 .4 .2 .4 .1 .4 .2 .4 .2 .4 .1 .3 .2 .4 .1 .4 .2 .4 .2 .4 .1 .4 .2 .3 .2 .4 .2 .3 .2 .3 .2 .3 .3 .3 .2 .2 .3 .3 .3 .2 .3 .2 .3 .3 .3 .2 .3 .2 .3 .2 .3 .2 .3 .2 .3 .2 .3 .2 .3 .2 .3 .2 .3 .2 .3 .2 .3 .3 .3 .2 .3 .2 .3 .3 .3 .3 .3 .2 .3 .3 .3 .3 .4 .3 .3 .2 .3 .3 .3 .3 .3 .3 .3 .3 .3 .3 .3 .3 .3 .3 .3 .3 .2 .3 .3 .3 .3 .4 .3 .3 .2 .3 .3 .3 .3 .4 .2 .3 .3 .3 .2 .4 .3 .3 .2 .3 .3 .4 .2 .3 .3 .4 .2 .3 .3 .3 .2 .4 .3 .3 .2 .4 .3 .3 .2 .3 .3 .4 .2 .3 .3 .4 .2 .3 .2 .3 .3 .4 .2 .3 .2 .4 .3 .3 .2 .4 .2 .3 .2 .4 .2 .3 .3 .4 .2 .3 .1 .4 .2 .4 .2 .3 .2 .4 .2 .3 .2 .4 .2 .3 .1 .4 .2 .4 .2 .3 .2 .4 .2 .4 .2 .3 .1 .4 .2 .3 .2 .4 .1 .4 .2 .4 .2 .3 .1 .4 .2 .4 .1 .4 .2 .3 .2 .4 .1 .4 .1 .4 .2 .4 .1 .3 .2 .3 .1 .4 .2 .3 .2 .2 .2 .3 .2 .3 .1 .2 .2 .3 .2 .2 .2 .2 .2 .3 .2 .2 .2 .2 .2 .3 .2 .2 .2 .2 .2 .3 .2 .2 .2 .2 .2 .2 .2 .3 .2 .2 .2 .2 .2 .3 .2 .2 .2 .2 .2 .2 .2 .3 .2 .2 .2 .2 .2 .3 .2 .2 .2 .3 .2 .3 .2 .3 .2 .3 .2 .3 .2 .4 .2 .3 .2 .4 .2 .3 .2 .4 .2 .3 .2 .4 .2 .3 .2 .4 .2 .3 .2 .4 .2 .3 .2 .4 .2 .3 .2 .4 .2 .3 .2 .4 .2 .3 .2 .3 .1 .2 .1 .2 .1 .1 .1 .1 .1" fill="none" stroke="#444" stroke-width="0.42"/>
<path d="M398.2 756.9l.1 .1 .1 0 .1 0 .2 .1 .3 .1 .3 .1 .3 .2 .4 .1 .4 .2 .4 .2 .4 .1 .4 .2 .4 .1 .4 .2 .4 .1 .4 .2 .4 .1 .4 .2 .4 .1 .4 .1 .4 .2 .4 .1 .4 .2 .4 .1 .4 .1 .5 .2 .4 .1 .4 .1 .4 .2 .4 .1 .4 .2 .4 .1 .4 .1 .4 .2 .4 .1 .4 .2 .4 .1 .4 .2 .4 .1 .4 .2 .4 .1 .4 .2 .4 .1 .4 .2 .4 .1 .4 .2 .4 .1 .4 .2 .4 .1 .4 .2 .4 .1 .4 .2 .4 .1 .4 .2 .4 .2 .4 .1 .4 .2 .4 .1 .4 .2 .4 .2 .4 .1 .4 .2 .4 .1 .4 .2 .4 .2 .4 .1 .4 .2 .4 .1 .4 .2 .4 .2 .4 .1 .4 .2 .4 .2 .4 .2 .4 .2 .4 .1 .3 .2 .4 .2 .4 .2 .4 .2 .4 .2 .3 .2 .4 .2 .4 .2 .4 .2 .3 .2 .4 .2 .4 .2 .4 .2 .4 .2 .3 .2 .4 .2 .4 .2 .4 .2 .3 .3 .4 .2 .4 .2 .4 .2 .4 .2 .3 .2 .4 .2 .4 .2 .4 .2 .3 .2 .4 .2 .4 .2 .4 .2 .4 .2 .3 .2 .4 .2 .4 .2 .4 .2 .3 .2 .4 .1 .4 .2 .4 .1 .4 .2 .3 .1 .4 .1 .4 .1 .4 .1 .4 0 .3 .1 .4 .1 .4 .1 .4 0 .4 .1 .4 0 .4 .1 .4 0 .4 .1 .4 0 .4 .1 .4 .1 .4 .1 .4 .1 .4 0 .4 .1 .4 .2 .4 .1 .4 .1 .3 .2 .4 .1 .4 .2 .4 .2 .4 .1 .4 .2 .4 .2 .4 .2 .4 .1 .4 .2 .4 .2 .4 .2 .3 .1 .3 .3 .4 .2 .3 .2 .2 .3 .3 .2 .2 .3 .3 .3 .2 .3 .2 .3 .2 .3 .2 .3 .1 .3 .2 .3 .1 .3 .2 .3 .1 .4 .2 .3 .1 .3 .2 .3 .2 .3 .2 .3 .2 .4 .2 .3 .3 .3 .2 .3 .2 .3 .3 .4 .3 .3 .2 .3 .3 .3 .3 .3 .3 .3 .3 .3 .3 .4 .3 .3 .3 .3 .3 .3 .3 .3 .3 .2 .4 .3 .3 .3 .3 .3 .3 .3 .4 .2 .3 .3 .3 .3 .4 .2 .3 .3 .3 .3 .4 .2 .3 .3 .4 .2 .3 .3 .4 .2 .3 .3 .4 .3 .3 .2 .3 .3 .4 .2 .3 .3 .4 .2 .3 .3 .4 .2 .3 .3 .4 .2 .3 .3 .4 .2 .3 .2 .4 .3 .3 .2 .4 .2 .4 .2 .3 .2 .4 .2 .3 .2 .4 .2 .4 .2 .4 .1 .3 .2 .4 .1 .4 .2 .4 .2 .3 .1 .4 .2 .4 .1 .4 .2 .3 .2 .4 .1 .4 .2 .4 .1 .4 .2 .3 .1 .4 .2 .4 .1 .4 .1 .4 .2 .4 .1 .4 .1 .4 .2 .4 .1 .3 .1 .4 .2 .4 .1 .4 .1 .3 .2 .3 .1 .3 .2 .2 .2 .2 .2 .2 .2 .2 .2 .2 .2 .2 .2 .1 .2 .2 .2 .2 .2 .2 .2 .1 .2 .2 .2 .2 .2 .1 .2 .2 .2 .1 .2 .2 .2 .2 .2 .1 .3 .2 .2 .2 .2 .1 .2 .2 .2 .2 .2 .1 .2 .2 .2 .1 .2 .2 .2 .2 .2 .3 .3 .2 .2 .3 .2 .3 .2 .3 .2 .3 .3 .4 .2 .3 .2 .3 .3 .4 .2 .3 .2 .3 .2 .4 .3 .3 .2 .4 .2 .3 .2 .3 .3 .4 .2 .3 .2 .4 .2 .3 .3 .3 .2 .3 .2 .3 .1 .2 .2 .2 .1 .1 .1 .1 0 0 .1" fill="none" stroke="#444" stroke-width="0.42"/>
<path d="M396.5 758.9l.1 0 .2 .1 .2 .1 .2 .1 .3 .1 .4 .1 .4 .2 .4 .2 .4 .2 .4 .1 .4 .2 .4 .1 .4 .2 .4 .2 .4 .1 .5 .2 .4 .1 .4 .2 .4 .1 .4 .2 .4 .1 .4 .1 .5 .2 .4 .1 .4 .1 .4 .2 .4 .1 .4 .2 .5 .1 .4 .1 .4 .2 .4 .1 .4 .2 .4 .1 .4 .2 .5 .1 .4 .2 .4 .1 .4 .2 .4 .1 .4 .2 .4 .1 .4 .2 .5 .1 .4 .2 .4 .1 .4 .2 .4 .1 .4 .2 .4 .1 .4 .2 .4 .1 .4 .2 .5 .2 .4 .1 .4 .2 .4 .1 .4 .2 .4 .2 .4 .1 .4 .2 .4 .2 .4 .1 .4 .2 .4 .2 .4 .1 .4 .2 .5 .2 .4 .1 .4 .2 .4 .2 .4 .1 .4 .2 .4 .2 .4 .2 .4 .2 .3 .2 .4 .2 .4 .2 .4 .2 .4 .2 .4 .2 .4 .2 .4 .2 .4 .2 .3 .2 .4 .2 .4 .2 .4 .2 .4 .2 .4 .2 .4 .2 .4 .2 .4 .2 .3 .2 .4 .2 .4 .2 .4 .2 .4 .2 .4 .2 .4 .2 .4 .2 .4 .2 .3 .2 .4 .2 .4 .2 .4 .2 .4 .2 .4 .2 .4 .2 .4 .2 .4 .2 .3 .1 .4 .2 .4 .1 .4 .1 .4 .1 .4 .1 .4 0 .4 .1 .4 0 .4 .1 .3 0 .4 0 .4 .1 .4 0 .5 0 .4 0 .4 0 .4 .1 .4 0 .4 .1 .4 0 .4 .1 .4 0 .4 .1 .4 .1 .4 .1 .4 .1 .4 .2 .4 .1 .4 .2 .4 .2 .4 .1 .4 .2 .4 .2 .4 .2 .4 .2 .4 .1 .4 .2 .4 .2 .3 .2 .4 .2 .3 .2 .3 .3 .3 .2 .3 .3 .3 .2 .2 .3 .2 .3 .2 .3 .2 .3 .1 .3 .1 .3 .2 .3 .1 .4 .1 .3 .1 .3 .1 .3 .1 .4 .1 .3 .2 .3 .1 .4 .2 .3 .2 .3 .2 .3 .2 .4 .2 .3 .2 .3 .3 .4 .2 .3 .3 .3 .3 .4 .3 .3 .3 .3 .3 .3 .3 .3 .3 .4 .3 .3 .3 .3 .3 .3 .3 .3 .4 .2 .3 .3 .3 .3 .4 .3 .3 .3 .4 .3 .3 .2 .3 .3 .4 .3 .3 .2 .4 .3 .3 .3 .4 .2 .3 .3 .4 .3 .3 .2 .4 .3 .3 .2 .4 .3 .3 .3 .4 .2 .3 .3 .4 .3 .3 .2 .4 .3 .3 .2 .4 .3 .4 .2 .3 .2 .4 .3 .3 .2 .4 .2 .4 .2 .4 .2 .3 .2 .4 .2 .4 .1 .4 .2 .4 .1 .4 .1 .3 .2 .4 .1 .4 .2 .4 .1 .4 .1 .4 .2 .4 .1 .4 .1 .4 .2 .4 .1 .4 .1 .4 .2 .4 .1 .4 .1 .4 .1 .4 .2 .4 .1 .4 .1 .4 .1 .4 .1 .4 .1 .4 .1 .4 .1 .4 .1 .3 .2 .3 .1 .3 .2 .2 .1 .2 .2 .2 .2 .2 .2 .1 .2 .1 .2 .1 .2 .2 .2 .1 .2 .1 .3 .1 .2 .1 .2 .1 .2 .1 .2 .1 .2 .1 .3 .1 .2 .1 .2 .1 .2 .1 .2 .1 .2 .1 .3 .1 .2 .1 .2 .1 .2 .1 .2 .1 .2 .1 .3 .1 .2 .1 .2 .2 .2 .2 .3 .3 .2 .2 .2 .3 .3 .4 .2 .3 .3 .3 .3 .3 .2 .3 .3 .4 .2 .3 .3 .3 .2 .4 .3 .3 .2 .3 .3 .3 .2 .4 .3 .3 .2 .3 .3 .4 .2 .3 .3 .3 .2 .2 .2 .2 .1 .2 .1 .1 .1 .1 .1 .1 0" fill="none" stroke="#444" stroke-width="0.42"/>
<path d="M394.8 760.8l.1 0 .2 .1 .2 .1 .2 .1 .3 .2 .4 .1 .4 .2 .4 .2 .4 .1 .4 .2 .4 .2 .5 .2 .4 .1 .4 .2 .4 .2 .4 .1 .4 .2 .5 .1 .4 .2 .4 .1 .4 .2 .5 .1 .4 .1 .4 .2 .4 .1 .5 .2 .4 .1 .4 .1 .4 .2 .5 .1 .4 .2 .4 .1 .4 .2 .5 .1 .4 .2 .4 .1 .4 .1 .4 .2 .5 .1 .4 .2 .4 .1 .4 .2 .5 .1 .4 .2 .4 .1 .4 .2 .4 .1 .5 .2 .4 .2 .4 .1 .4 .2 .4 .1 .5 .2 .4 .2 .4 .1 .4 .2 .4 .2 .4 .1 .4 .2 .5 .2 .4 .1 .4 .2 .4 .2 .4 .1 .4 .2 .5 .2 .4 .1 .4 .2 .4 .2 .4 .1 .4 .2 .4 .2 .4 .2 .5 .2 .4 .2 .4 .1 .4 .2 .4 .2 .4 .2 .4 .2 .4 .2 .4 .2 .4 .2 .4 .2 .4 .2 .4 .2 .4 .2 .4 .2 .4 .2 .4 .2 .4 .2 .4 .2 .4 .2 .4 .2 .4 .2 .4 .2 .4 .2 .4 .2 .4 .2 .4 .2 .4 .2 .4 .2 .4 .2 .4 .2 .4 .2 .4 .2 .4 .2 .4 .2 .4 .2 .4 .2 .4 .2 .4 .2 .4 .1 .4 .1 .4 .2 .4 0 .4 .1 .4 0 .4 .1 .4 0 .4 0 .4 0 .4 0 .4 0 .4 0 .4 0 .4 0 .4 0 .4 0 .4 0 .4 0 .4 0 .5 0 .4 .1 .4 0 .4 .1 .4 .1 .4 .1 .4 .1 .4 .1 .4 .2 .4 .1 .4 .2 .4 .2 .4 .2 .4 .2 .4 .2 .4 .2 .4 .2 .5 .2 .4 .1 .3 .3 .4 .2 .3 .2 .3 .2 .3 .3 .3 .3 .2 .2 .2 .3 .2 .3 .2 .3 .1 .3 .1 .3 .1 .4 .1 .3 .1 .3 0 .4 .1 .3 0 .3 .1 .4 .1 .3 .1 .4 .1 .3 .2 .3 .1 .4 .2 .3 .2 .4 .2 .3 .2 .3 .2 .4 .3 .3 .3 .4 .2 .3 .3 .3 .3 .4 .3 .3 .3 .3 .4 .3 .3 .4 .3 .3 .3 .3 .4 .3 .3 .3 .3 .3 .4 .2 .3 .3 .4 .3 .3 .3 .4 .3 .3 .3 .4 .2 .3 .3 .4 .3 .3 .3 .4 .2 .3 .3 .4 .3 .3 .2 .4 .3 .4 .3 .3 .3 .4 .2 .3 .3 .4 .3 .3 .2 .4 .3 .4 .3 .3 .2 .4 .3 .3 .2 .4 .2 .4 .3 .4 .2 .3 .2 .4 .2 .4 .2 .4 .1 .4 .2 .4 .1 .4 .2 .4 .1 .4 .1 .4 .1 .4 .1 .4 .2 .4 .1 .4 .1 .4 .1 .4 .1 .4 .1 .4 .1 .4 .1 .4 .2 .5 .1 .4 .1 .4 .1 .4 .1 .4 .1 .4 .1 .4 .1 .5 0 .4 .1 .4 .1 .4 .1 .4 .1 .4 .1 .4 .1 .3 .1 .2 .2 .2 .2 .2 .1 .1 .2 .1 .2 .1 .2 .1 .3 0 .2 .1 .2 0 .2 .1 .2 0 .3 0 .2 .1 .2 0 .2 0 .3 .1 .2 0 .2 0 .2 .1 .3 0 .2 0 .2 .1 .2 0 .3 0 .2 .1 .2 0 .2 0 .3 .1 .2 .1 .2 .1 .3 .1 .2 .2 .3 .2 .2 .2 .3 .3 .3 .3 .2 .3 .3 .3 .3 .3 .3 .3 .2 .3 .3 .4 .3 .3 .3 .3 .2 .3 .3 .3 .3 .4 .3 .3 .2 .3 .3 .3 .3 .3 .3 .4 .2 .2 .3 .3 .2 .2 .2 .1 .1 .2 .1 0 .1 .1 0" fill="none" stroke="#444" stroke-width="0.42"/>
<path d="M393.1 762.7l.1 .1 .2 0 .2 .1 .2 .2 .3 .1 .4 .2 .4 .2 .4 .2 .4 .1 .5 .2 .4 .2 .4 .2 .4 .2 .4 .1 .5 .2 .4 .2 .4 .1 .4 .2 .5 .1 .4 .2 .4 .1 .5 .2 .4 .1 .4 .2 .5 .1 .4 .1 .4 .2 .5 .1 .4 .2 .4 .1 .5 .1 .4 .2 .4 .1 .5 .2 .4 .1 .4 .2 .5 .1 .4 .2 .4 .1 .5 .2 .4 .1 .4 .2 .5 .1 .4 .2 .4 .1 .5 .2 .4 .1 .4 .2 .4 .1 .5 .2 .4 .2 .4 .1 .5 .2 .4 .2 .4 .1 .4 .2 .5 .2 .4 .1 .4 .2 .4 .2 .5 .1 .4 .2 .4 .2 .4 .2 .5 .1 .4 .2 .4 .2 .4 .1 .4 .2 .5 .2 .4 .2 .4 .2 .4 .1 .4 .2 .5 .2 .4 .2 .4 .2 .4 .2 .4 .2 .4 .2 .4 .2 .4 .2 .5 .2 .4 .2 .4 .2 .4 .2 .4 .2 .4 .2 .4 .2 .4 .2 .4 .2 .5 .2 .4 .1 .4 .2 .4 .2 .4 .2 .4 .2 .4 .2 .4 .2 .4 .2 .5 .2 .4 .2 .4 .2 .4 .2 .4 .2 .4 .2 .4 .2 .4 .2 .4 .2 .5 .2 .4 .2 .4 .2 .4 .1 .4 .1 .4 .1 .4 .1 .4 0 .4 0 .4 0 .4 0 .5 0 .4-.1 .4 0 .4 0 .4 0 .4-.1 .4 0 .5-.1 .4 0 .4 0 .4 0 .4 0 .4 0 .5 0 .4 0 .4 .1 .4 0 .4 .1 .4 .1 .4 .2 .4 .1 .5 .2 .4 .2 .4 .2 .4 .2 .4 .2 .4 .2 .4 .2 .4 .2 .4 .2 .4 .2 .4 .2 .4 .2 .3 .3 .3 .2 .3 .3 .2 .2 .2 .3 .2 .3 .2 .3 .1 .3 .2 .4 0 .3 .1 .3 0 .3 .1 .4-.1 .3 .1 .4 0 .3 0 .4 .1 .3 0 .4 .1 .3 .1 .4 .2 .3 .1 .4 .2 .3 .2 .4 .2 .3 .2 .4 .3 .3 .2 .4 .3 .3 .3 .4 .3 .3 .3 .4 .3 .3 .3 .3 .4 .3 .3 .4 .3 .3 .4 .3 .3 .3 .4 .3 .3 .3 .4 .3 .3 .3 .4 .2 .3 .3 .4 .3 .3 .3 .4 .3 .4 .3 .3 .2 .4 .3 .3 .3 .4 .3 .4 .3 .3 .2 .4 .3 .3 .3 .4 .3 .4 .3 .3 .2 .4 .3 .4 .3 .3 .3 .4 .2 .4 .3 .3 .2 .4 .2 .4 .3 .4 .2 .4 .2 .3 .2 .4 .2 .4 .1 .4 .2 .5 .1 .4 .1 .4 .1 .4 .1 .4 .1 .4 .1 .5 0 .4 .1 .4 .1 .4 .1 .4 .1 .5 .1 .4 .1 .4 .1 .4 .1 .5 .1 .4 0 .4 .1 .4 .1 .5 .1 .4 0 .4 .1 .5 .1 .4 .1 .4 0 .5 .1 .4 .1 .4 .1 .3 .1 .3 .1 .2 .1 .2 .2 .1 .2 .1 .2 .1 .2 0 .2 0 .2 0 .2 0 .2 0 .3 0 .2-.1 .2 0 .3 0 .2-.1 .2 0 .3 0 .2 0 .2-.1 .3 0 .2 0 .3-.1 .2 0 .2 0 .3-.1 .2 0 .2 0 .3-.1 .2 0 .2 0 .3 .1 .2 .1 .3 .1 .3 .2 .2 .2 .3 .2 .3 .3 .3 .3 .3 .3 .3 .3 .3 .3 .3 .3 .3 .3 .3 .3 .3 .3 .3 .4 .3 .3 .3 .3 .3 .3 .3 .3 .3 .3 .3 .3 .3 .3 .3 .3 .3 .2 .2 .2 .2 .2 .1 .1 .2 .1 .1" fill="none" stroke="#444" stroke-width="0.42"/>
<path d="M391.3 764.6l.1 .1 .1 0 .1 .1 .3 .1 .2 .1 .3 .2 .4 .1 .4 .2 .4 .2 .5 .2 .4 .2 .4 .2 .4 .2 .5 .2 .4 .2 .4 .1 .4 .2 .5 .2 .4 .1 .4 .2 .5 .2 .4 .1 .5 .2 .4 .1 .5 .1 .4 .2 .5 .1 .4 .2 .4 .1 .5 .1 .4 .2 .5 .1 .4 .2 .5 .1 .4 .2 .4 .1 .5 .2 .4 .1 .5 .2 .4 .1 .5 .2 .4 .1 .4 .2 .5 .1 .4 .2 .5 .1 .4 .2 .4 .1 .5 .2 .4 .1 .5 .2 .4 .2 .4 .1 .5 .2 .4 .2 .4 .1 .5 .2 .4 .2 .4 .2 .5 .1 .4 .2 .4 .2 .5 .1 .4 .2 .4 .2 .5 .2 .4 .1 .4 .2 .5 .2 .4 .2 .4 .2 .5 .1 .4 .2 .4 .2 .4 .2 .5 .2 .4 .2 .4 .1 .4 .2 .5 .2 .4 .2 .4 .2 .4 .2 .4 .2 .5 .2 .4 .2 .4 .2 .4 .2 .5 .2 .4 .2 .4 .2 .4 .2 .4 .2 .5 .2 .4 .2 .4 .2 .4 .2 .5 .2 .4 .2 .4 .1 .4 .2 .4 .2 .5 .2 .4 .2 .4 .2 .4 .2 .5 .2 .4 .2 .4 .2 .4 .2 .5 .2 .4 .2 .4 .1 .4 .2 .4 .1 .5 .1 .4 0 .4 0 .4 0 .4 0 .4-.1 .5-.1 .4 0 .4-.1 .4 0 .4-.1 .5-.1 .4 0 .4-.1 .4-.1 .5 0 .4-.1 .4 0 .4 0 .4 0 .5 0 .4 0 .4 .1 .4 .1 .4 .1 .5 .1 .4 .2 .4 .1 .4 .3 .4 .2 .4 .2 .5 .2 .4 .2 .4 .2 .4 .2 .4 .2 .4 .2 .4 .3 .4 .2 .3 .2 .3 .3 .3 .3 .2 .2 .2 .3 .2 .3 .1 .3 .1 .4 .1 .3 .1 .3 0 .3 0 .4-.1 .3 0 .4-.1 .4 0 .3 0 .4 0 .3 .1 .4 0 .4 .1 .3 .1 .4 .2 .3 .1 .4 .2 .4 .2 .3 .2 .4 .2 .4 .3 .3 .3 .4 .3 .4 .3 .3 .3 .4 .3 .3 .3 .3 .3 .3 .4 .4 .3 .3 .4 .3 .3 .3 .4 .3 .3 .3 .4 .3 .4 .3 .3 .3 .4 .3 .4 .3 .3 .3 .4 .2 .3 .3 .4 .3 .4 .3 .3 .3 .4 .3 .4 .3 .3 .3 .4 .3 .4 .2 .3 .3 .4 .3 .4 .3 .3 .3 .4 .3 .4 .2 .4 .3 .3 .3 .4 .2 .4 .2 .4 .3 .4 .2 .4 .2 .4 .2 .4 .1 .4 .2 .4 .1 .4 .1 .5 .1 .4 .1 .4 0 .5 .1 .4 .1 .4 0 .5 .1 .4 .1 .4 .1 .5 0 .4 .1 .5 .1 .4 0 .4 .1 .5 0 .4 .1 .4 .1 .5 0 .4 .1 .5 0 .4 .1 .5 0 .4 .1 .5 0 .4 .1 .5 0 .3 .1 .4 .1 .2 .1 .2 .1 .2 .2 .1 .2 0 .2 0 .2 0 .2-.1 .2 0 .3-.1 .2-.1 .2 0 .3-.1 .2-.1 .3-.1 .2-.1 .2-.1 .3-.1 .2-.1 .3-.1 .2-.1 .3-.1 .2-.1 .3-.1 .2-.1 .2-.1 .3-.1 .2-.1 .3-.1 .2-.1 .3 0 .2 0 .3 0 .3 .1 .3 .1 .2 .2 .4 .3 .3 .3 .3 .2 .3 .3 .3 .3 .4 .3 .3 .3 .3 .3 .3 .3 .4 .3 .3 .3 .3 .3 .3 .3 .4 .3 .3 .3 .3 .3 .4 .3 .3 .3 .3 .2 .3 .2 .2 .2 .2 .2 .2 .1 .1 .1 .1" fill="none" stroke="#444" stroke-width="0.42"/>
<path d="M389.6 766.6l.1 0 .1 0 .1 .1 .2 .1 .3 .2 .3 .1 .4 .2 .4 .2 .4 .2 .5 .2 .4 .2 .4 .2 .5 .2 .4 .2 .4 .2 .5 .2 .4 .2 .4 .1 .5 .2 .4 .2 .5 .1 .4 .2 .5 .1 .4 .2 .5 .1 .4 .1 .5 .2 .5 .1 .4 .2 .5 .1 .4 .2 .5 .1 .4 .2 .5 .1 .4 .2 .5 .1 .4 .2 .5 .1 .4 .1 .5 .2 .4 .1 .5 .2 .4 .1 .5 .2 .4 .1 .5 .2 .4 .1 .5 .2 .4 .2 .5 .1 .4 .2 .5 .1 .4 .2 .5 .2 .4 .2 .5 .1 .4 .2 .4 .2 .5 .2 .4 .1 .5 .2 .4 .2 .5 .2 .4 .1 .4 .2 .5 .2 .4 .2 .5 .2 .4 .1 .4 .2 .5 .2 .4 .2 .5 .2 .4 .1 .4 .2 .5 .2 .4 .2 .4 .2 .5 .2 .4 .2 .4 .2 .5 .2 .4 .2 .4 .2 .5 .2 .4 .2 .4 .2 .5 .2 .4 .1 .4 .2 .5 .2 .4 .2 .4 .2 .5 .2 .4 .2 .4 .2 .5 .2 .4 .2 .4 .2 .5 .2 .4 .2 .4 .2 .5 .1 .4 .2 .4 .2 .5 .2 .4 .2 .4 .2 .5 .2 .4 .2 .4 .2 .5 .2 .4 .1 .4 .2 .5 .1 .4 0 .4 0 .5 0 .4 0 .4-.1 .4-.1 .5-.1 .4-.1 .4-.1 .4-.1 .5-.1 .4-.1 .4-.1 .5-.1 .4 0 .4-.1 .4-.1 .5 0 .4-.1 .4 0 .5 0 .4 0 .4 0 .4 .1 .5 .1 .4 .1 .4 .2 .4 .2 .5 .2 .4 .2 .4 .3 .4 .2 .4 .2 .5 .2 .4 .2 .4 .2 .4 .3 .4 .2 .4 .2 .3 .3 .3 .3 .2 .2 .2 .3 .2 .3 .2 .3 .1 .3 .1 .4 .1 .3 0 .3 0 .4-.1 .3-.1 .4-.1 .4-.1 .3 0 .4-.1 .4 0 .3 0 .4 .1 .4 0 .4 .1 .3 .1 .4 .1 .4 .2 .4 .1 .3 .3 .4 .2 .4 .2 .4 .3 .3 .3 .4 .3 .4 .3 .3 .4 .4 .3 .3 .3 .3 .4 .4 .3 .3 .4 .3 .4 .3 .3 .3 .4 .3 .4 .3 .3 .3 .4 .3 .4 .3 .3 .3 .4 .3 .4 .3 .3 .3 .4 .3 .4 .3 .4 .3 .3 .3 .4 .3 .4 .3 .3 .3 .4 .3 .4 .3 .4 .3 .3 .3 .4 .3 .4 .3 .4 .2 .3 .3 .4 .3 .4 .2 .4 .2 .4 .3 .4 .2 .4 .2 .4 .2 .4 .1 .4 .1 .5 .2 .4 0 .5 .1 .4 .1 .5 0 .4 0 .5 .1 .4 0 .5 .1 .4 0 .5 .1 .4 0 .5 .1 .4 0 .5 .1 .4 0 .5 0 .4 .1 .5 0 .4 .1 .5 0 .4 0 .5 .1 .5 0 .4 0 .5 .1 .4 0 .5 0 .4 .1 .3 0 .3 .1 .2 .2 .1 .1 0 .2 0 .2-.1 .2 0 .3-.1 .2-.2 .2-.1 .3-.1 .2-.2 .2-.1 .3-.2 .3-.1 .2-.2 .3-.2 .2-.1 .3-.2 .2-.1 .3-.2 .2-.2 .3-.1 .2-.2 .3-.2 .2-.1 .3-.2 .3-.1 .2-.2 .3-.2 .2-.1 .3 0 .3 0 .2 0 .3 .1 .4 .2 .3 .2 .3 .3 .4 .3 .3 .2 .4 .3 .3 .3 .4 .3 .3 .3 .4 .2 .3 .3 .4 .3 .3 .3 .4 .3 .3 .3 .4 .3 .3 .2 .4 .3 .3 .3 .4 .3 .3 .2 .3 .2 .2 .1 .1 .1 .2 .1 .1" fill="none" stroke="#444" stroke-width="0.42"/>
<path d="M387.9 768.5l.2 .1 .1 0 .2 .2 .3 .1 .3 .2 .4 .2 .4 .2 .5 .2 .4 .2 .4 .2 .5 .2 .4 .2 .4 .2 .5 .2 .4 .2 .5 .2 .4 .2 .5 .2 .4 .1 .5 .2 .4 .2 .5 .1 .5 .1 .4 .2 .5 .1 .4 .2 .5 .1 .5 .2 .4 .1 .5 .2 .5 .1 .4 .1 .5 .2 .4 .1 .5 .2 .5 .1 .4 .2 .5 .1 .5 .2 .4 .1 .5 .2 .4 .1 .5 .2 .5 .1 .4 .2 .5 .1 .4 .2 .5 .1 .5 .2 .4 .2 .5 .1 .4 .2 .5 .2 .4 .2 .5 .1 .4 .2 .5 .2 .4 .2 .5 .2 .4 .1 .5 .2 .4 .2 .5 .2 .4 .2 .5 .1 .4 .2 .5 .2 .4 .2 .5 .2 .4 .2 .5 .1 .4 .2 .5 .2 .4 .2 .5 .2 .4 .2 .5 .2 .4 .2 .5 .2 .4 .1 .4 .2 .5 .2 .4 .2 .5 .2 .4 .2 .5 .2 .4 .2 .4 .2 .5 .2 .4 .2 .5 .2 .4 .2 .5 .1 .4 .2 .5 .2 .4 .2 .5 .2 .4 .2 .4 .2 .5 .2 .4 .2 .5 .2 .4 .2 .5 .1 .4 .2 .5 .2 .4 .2 .4 .2 .5 .2 .4 .2 .5 .2 .4 .1 .5 .2 .4 0 .4 .1 .5 0 .4-.1 .4 0 .5-.2 .4-.1 .4-.1 .5-.1 .4-.2 .5-.1 .4-.1 .4-.1 .5-.2 .4-.1 .4-.1 .5-.1 .4-.1 .5-.1 .4 0 .4-.1 .5 0 .4 0 .4 0 .5 .1 .4 .1 .4 .1 .4 .2 .5 .1 .4 .3 .4 .2 .5 .2 .4 .3 .4 .2 .4 .2 .5 .3 .4 .2 .4 .2 .4 .2 .4 .3 .3 .3 .3 .2 .2 .3 .2 .3 .2 .3 .1 .3 .1 .3 .1 .4 0 .3 0 .4-.1 .3 0 .4-.2 .4-.1 .3-.2 .4-.1 .4 0 .4-.1 .4 0 .3 0 .4 0 .4 0 .4 .1 .4 .1 .4 .2 .3 .1 .4 .2 .4 .3 .4 .2 .4 .3 .4 .3 .4 .3 .3 .3 .4 .3 .4 .4 .3 .3 .3 .4 .4 .3 .3 .4 .3 .4 .3 .4 .3 .3 .3 .4 .3 .4 .4 .3 .3 .4 .3 .4 .3 .4 .3 .3 .3 .4 .3 .4 .3 .4 .3 .4 .3 .3 .3 .4 .3 .4 .3 .4 .3 .3 .3 .4 .3 .4 .3 .4 .3 .4 .3 .3 .3 .4 .3 .4 .3 .4 .3 .4 .2 .4 .2 .4 .3 .4 .2 .4 .2 .4 .1 .5 .2 .4 .1 .4 .1 .5 .1 .5 0 .4 0 .5 .1 .4 0 .5 0 .5 0 .4 .1 .5 0 .5 0 .4 0 .5 0 .5 .1 .4 0 .5 0 .5 0 .4 0 .5 .1 .5 0 .5 0 .4 0 .5 0 .5 0 .4 .1 .5 0 .5 0 .5 0 .4 0 .3 .1 .2 .1 .2 .1 .1 .1 0 .2-.1 .2-.1 .3-.2 .2-.1 .2-.2 .3-.2 .2-.2 .3-.2 .2-.2 .3-.2 .2-.2 .3-.3 .3-.2 .2-.2 .3-.2 .3-.3 .2-.2 .3-.2 .2-.3 .3-.2 .3-.2 .2-.2 .3-.3 .3-.2 .2-.2 .3-.2 .3-.2 .2-.1 .3-.1 .3 .1 .3 0 .4 .2 .3 .2 .4 .2 .4 .3 .3 .3 .4 .2 .4 .3 .4 .3 .3 .2 .4 .3 .4 .3 .4 .2 .3 .3 .4 .3 .4 .3 .4 .3 .3 .2 .4 .3 .4 .3 .4 .2 .3 .2 .3 .2 .2 .1 .2 .1 .1 .1 .1 0 .1" fill="none" stroke="#444" stroke-width="0.42"/>
<path d="M386.2 770.4l.1 .1 .2 .1 .2 .1 .3 .1 .3 .2 .4 .2 .4 .3 .5 .2 .4 .2 .4 .2 .5 .2 .4 .3 .5 .2 .4 .2 .5 .2 .4 .2 .5 .1 .4 .2 .5 .2 .5 .2 .4 .1 .5 .2 .5 .1 .5 .2 .4 .1 .5 .2 .5 .1 .4 .1 .5 .2 .5 .1 .5 .2 .4 .1 .5 .2 .5 .1 .4 .2 .5 .1 .5 .2 .5 .1 .4 .2 .5 .1 .5 .2 .4 .1 .5 .2 .5 .1 .5 .2 .4 .1 .5 .2 .5 .1 .4 .2 .5 .2 .5 .1 .4 .2 .5 .2 .4 .2 .5 .1 .5 .2 .4 .2 .5 .2 .4 .2 .5 .2 .5 .1 .4 .2 .5 .2 .4 .2 .5 .2 .5 .2 .4 .1 .5 .2 .4 .2 .5 .2 .4 .2 .5 .2 .5 .2 .4 .1 .5 .2 .4 .2 .5 .2 .4 .2 .5 .2 .5 .2 .4 .2 .5 .2 .4 .2 .5 .2 .4 .2 .5 .1 .4 .2 .5 .2 .4 .2 .5 .2 .5 .2 .4 .2 .5 .2 .4 .2 .5 .2 .4 .1 .5 .2 .5 .2 .4 .2 .5 .2 .4 .2 .5 .2 .4 .2 .5 .2 .4 .1 .5 .2 .5 .2 .4 .2 .5 .2 .4 .2 .5 .2 .4 .1 .5 .1 .4 .1 .5 0 .4 0 .5-.1 .4-.1 .5-.1 .4-.2 .4-.1 .5-.2 .4-.1 .5-.2 .4-.2 .5-.1 .4-.2 .5-.2 .4-.1 .4-.1 .5-.1 .4-.1 .5-.1 .4-.1 .5 0 .4-.1 .4 .1 .5 0 .4 .1 .4 .1 .5 .2 .4 .2 .4 .2 .5 .3 .4 .2 .4 .3 .5 .2 .4 .2 .4 .3 .5 .2 .4 .3 .4 .2 .3 .3 .4 .2 .2 .3 .3 .3 .2 .3 .1 .3 .1 .3 .1 .4 .1 .3 0 .3-.1 .4-.1 .4-.1 .3-.2 .4-.2 .4-.2 .4-.1 .4-.1 .4-.1 .4-.1 .4 0 .4 0 .3 0 .4 0 .4 .1 .4 .2 .4 .1 .4 .2 .4 .2 .4 .3 .4 .3 .4 .3 .4 .3 .4 .3 .4 .3 .3 .4 .4 .3 .3 .4 .4 .4 .3 .3 .3 .4 .3 .4 .3 .4 .4 .3 .3 .4 .3 .4 .3 .4 .3 .4 .3 .3 .4 .4 .3 .4 .3 .4 .3 .4 .3 .4 .3 .3 .3 .4 .3 .4 .4 .4 .3 .4 .3 .4 .3 .3 .3 .4 .3 .4 .3 .4 .3 .4 .3 .4 .3 .4 .3 .4 .2 .4 .2 .4 .3 .4 .2 .4 .2 .5 .1 .4 .2 .5 .1 .4 .1 .5 0 .4 0 .5 0 .5 0 .5 0 .5 0 .4 0 .5 0 .5 0 .5 0 .5 0 .5 0 .4 0 .5 0 .5 0 .5 0 .5 0 .4 0 .5 0 .5 0 .5 0 .5 0 .5 0 .4 0 .5 0 .5 0 .5 0 .4 0 .3 0 .3 .1 .1 .1 .1 .2-.1 .1-.1 .2-.2 .3-.2 .2-.2 .3-.2 .2-.3 .3-.2 .2-.3 .3-.3 .3-.2 .2-.3 .3-.3 .3-.3 .3-.3 .2-.3 .3-.3 .3-.3 .2-.3 .3-.3 .3-.3 .3-.3 .2-.3 .3-.2 .3-.3 .2-.3 .3-.3 .3-.2 .3-.2 .3-.1 .3 0 .3 0 .4 .1 .4 .2 .3 .3 .4 .2 .4 .3 .4 .2 .4 .3 .4 .2 .4 .3 .4 .3 .4 .2 .4 .3 .4 .2 .4 .3 .4 .3 .4 .2 .4 .3 .4 .3 .4 .2 .4 .3 .4 .2 .3 .1 .2 .2 .2 .1 .2 0 .1 .1 .1" fill="none" stroke="#444" stroke-width="0.42"/>
<path d="M384.5 772.3l0 .1 .1 0 .2 .1 .2 .1 .3 .2 .3 .2 .4 .2 .4 .2 .5 .3 .4 .2 .5 .2 .4 .3 .5 .2 .4 .2 .5 .2 .4 .2 .5 .2 .5 .2 .4 .2 .5 .2 .5 .1 .4 .2 .5 .1 .5 .2 .5 .1 .5 .2 .4 .1 .5 .2 .5 .1 .5 .2 .5 .1 .5 .2 .4 .1 .5 .2 .5 .1 .5 .2 .5 .1 .4 .1 .5 .2 .5 .1 .5 .2 .5 .1 .5 .2 .4 .1 .5 .2 .5 .1 .5 .2 .4 .2 .5 .1 .5 .2 .5 .1 .5 .2 .4 .2 .5 .2 .5 .2 .4 .1 .5 .2 .5 .2 .4 .2 .5 .2 .5 .2 .4 .2 .5 .2 .5 .1 .4 .2 .5 .2 .5 .2 .4 .2 .5 .2 .5 .2 .4 .2 .5 .1 .5 .2 .4 .2 .5 .2 .5 .2 .4 .2 .5 .2 .5 .2 .4 .2 .5 .2 .5 .1 .4 .2 .5 .2 .5 .2 .4 .2 .5 .2 .5 .2 .4 .2 .5 .2 .5 .1 .4 .2 .5 .2 .5 .2 .4 .2 .5 .2 .5 .2 .4 .2 .5 .1 .5 .2 .4 .2 .5 .2 .5 .2 .4 .2 .5 .2 .5 .2 .4 .1 .5 .2 .5 .2 .4 .2 .5 .2 .5 .2 .4 .1 .5 .1 .5 .1 .4 0 .5-.1 .4-.1 .5-.1 .4-.2 .5-.2 .4-.2 .5-.1 .4-.2 .5-.2 .4-.2 .5-.2 .5-.2 .4-.2 .5-.2 .4-.1 .5-.2 .4-.1 .5-.1 .4-.1 .5-.1 .4 0 .4 0 .5 .1 .4 0 .5 .2 .4 .1 .5 .3 .4 .2 .4 .2 .5 .3 .4 .2 .4 .3 .5 .2 .4 .3 .5 .2 .4 .3 .4 .2 .3 .3 .3 .3 .3 .3 .2 .3 .2 .3 .2 .3 .1 .3 0 .4 0 .3 0 .4-.1 .3-.1 .4-.2 .4-.2 .4-.2 .4-.3 .4-.2 .4-.1 .4-.2 .4-.1 .4 0 .4-.1 .4 0 .4 .1 .4 0 .4 .1 .4 .2 .4 .2 .4 .2 .5 .2 .4 .3 .4 .3 .4 .3 .4 .4 .4 .3 .3 .3 .4 .4 .3 .4 .4 .4 .3 .3 .3 .4 .3 .4 .4 .4 .3 .4 .3 .4 .3 .4 .4 .4 .3 .3 .3 .4 .3 .4 .3 .4 .4 .4 .3 .4 .3 .4 .3 .4 .3 .3 .4 .4 .3 .4 .3 .4 .3 .4 .3 .4 .4 .4 .3 .4 .3 .4 .3 .4 .3 .4 .3 .4 .2 .4 .3 .4 .2 .4 .3 .4 .2 .5 .2 .4 .1 .4 .1 .5 .1 .5 .1 .5 0 .4 0 .5 0 .5 0 .5 0 .5 0 .5-.1 .5 0 .5 0 .5 0 .5-.1 .5 0 .5 0 .5 0 .5-.1 .5 0 .5 0 .5 0 .5-.1 .5 0 .5 0 .5 0 .5-.1 .5 0 .5 0 .5 0 .5-.1 .4 0 .3 .1 .2 0 .1 .2 .1 .1-.1 .2-.2 .2-.2 .2-.3 .3-.2 .2-.3 .3-.3 .2-.4 .3-.3 .3-.3 .2-.4 .3-.3 .3-.4 .3-.4 .3-.3 .3-.4 .2-.3 .3-.4 .3-.3 .3-.4 .3-.4 .2-.3 .3-.4 .3-.3 .3-.4 .3-.3 .2-.4 .3-.3 .3-.2 .3-.1 .4-.1 .3 0 .4 .1 .4 .2 .4 .2 .4 .2 .4 .3 .5 .2 .4 .3 .4 .2 .4 .3 .5 .2 .4 .3 .4 .2 .4 .3 .5 .2 .4 .3 .4 .2 .4 .3 .5 .2 .4 .3 .4 .2 .4 .2 .3 .2 .3 .1 .2 .1 .2 0 .1 .1 0" fill="none" stroke="#444" stroke-width="0.42"/>
<path d="M403.4 751.2 L406.4 752.2 L409.5 753.2 L412.5 754.2 L415.5 755.4 L418.5 756.5 L421.5 757.7 L424.5 758.9 L427.5 760.1 L430.4 761.4 L433.1 763.1 L435.9 764.7 L438.7 766.4 L441.4 768 L444.2 769.7 L447 771.2 L450 772.4 L453 773.5 L456 774.6 L459 775.7 L461.4 777.8 L463.7 780.1 L466 782.4 L468.2 784.7 L470.5 786.9 L473.1 788.9 L475.7 790.7 L478.3 792.6 L481 794.4 L483.6 796.3 L486.2 798.1 L489 799.7 L491.8 801.2 L494.7 802.6 L497.6 804 L500.5 805.5 L503.3 806.9 L506.3 808.2 L509.3 809.4 L512.3 810.6 L480.1 837.8 L478.2 834.2 L476.2 830.6 L474.4 827 L477.8 824.7 L481.2 822.3 L484.6 820 L487 818 L482.9 818.4 L478.8 818.8 L474.7 819.1 L470.6 819.5 L467.2 817.8 L464 815.2 L460.9 812.6 L457.7 809.9 L454.6 807.3 L452.3 803.9 L452.5 800.6 L455 797.3 L454.3 794.6 L450.8 792.6 L447.2 790.5 L443.6 791.3 L439.9 793.1 L436.3 794.8 L432.4 793.4 L428.6 791.9 L424.8 790.4 L421 788.9 L417.1 787.4 L413.3 785.8 L409.5 784.3 L405.7 782.8 L401.8 781.5 L397.9 780.4 L393.9 779.2 L390 778 L386.3 776.3 L382.7 774.3Z" fill="none" stroke="#1a1a1a" stroke-width="1.0" stroke-linejoin="round"/></g>
<g id="atr"><path d="M407.2 900.9l1 .2 1 .2 1 .2 1 .2 1 .3 1 .2 1 .4 1.1 .3 1 .4 1.1 .4 1 .4 1 .5 .9 .5 1 .5 .9 .5 1 .6 .9 .6 .9 .6 .9 .6 .9 .7 .9 .6 .9 .6 .9 .7 .9 .7 .9 .6 .9 .7 1 .7 1 .6 1 .6 1.1 .7 1.1 .6 1.2 .6 1.2 .6 1.3 .6 1.3 .6 1.5 .7 1.5 .7 1.5 .6 1.7 .7 1.7 .7 1.8 .7 1.7 .8 1.5 .6 1.4 .7 1.3 .7 1.1 .7 1.1 .6 .8 .7 .8 .6 .7 .6 .8 .7 .7 .7 .8 .7 .7 .7 .8 .7 .7 .7 .8 .8 .8 .7 .9 .8 .9 .7 .9 .8 1.1 .7 1.1 .8 1.1 .7 1.2 .8 1.2 .7 1.3 .8 1.3 .8 1.4 .9 1.4 .8 1.4 .9 1.5 .9 1.5 .9 1.5 .8 1.5 .9 1.5 .8 1.5 .8 1.5 .7 1.5 .8 1.5 .7 1.5 .6 1.4 .7 1.4 .6 1.4 .5 1.3 .6 1.3 .5 1.2 .4 1.1 .4 1.2 .4 .9 .4 .6 .5 .4 .5 .1 .6-.1 .6-.3 .6-.6 .7-.8 .8-.9 .7-.8 .8-.9 .8-1 .9-1 .8-.9 .9-1.1 .9-1 .9-1.1 .9-1.1 1-1.2 1.1-1.2 1.1-1.2 1.2-1.3 1.2-1.3 1.3-1.4 1.4-1.3 1.3-1.2 1.2-1.2 1.1-1.1 1.1-1.1 1-1 1-.9 .9-.9 .8-1 .8-1.1 .9-1.1 .8-1.2 .8-1.3 .8-1.3 .9-1.4 .8-1.5 .8-1.6 .9-1.6 .9-1.6 .9-1.6 .9-1.7 1-1.7 1-1.8 1-1.8 1-1.8 1-1.9 .9-1.8 .8-1.9 .8-1.9 .7-1.9 .6-1.9 .5-2 .4-2 .5-2 .5-2 .4-2.1 .5-2.2 .5-2.2 .5-2.2 .5-2.2 .6-2.1 .3-2 .2-1.8 0-1.6-.1-1.5-.3-1.4-.5-1.2-.7-1-.8-1.1-.8-1.1-.8-1.1-.8-1.1-.8-1.2-.8-1.1-.8-1.2-.7-1.2-.8-1.3-.8-1.4-.8-1.5-1-1.5-.9-1.7-1.1-1.8-1.1-1.8-1.1-2-1.2-1.9-1.1-1.9-1.1-1.9-1.1-1.9-.9-1.8-1-1.9-.8-1.8-.8-1.8-.8-1.7-.7-1.7-.8-1.5-.8-1.5-.9-1.5-.8-1.3-.9-1.3-.8-1.2-.9-1.2-.9-1.2-.9-1.2-.9-1.2-.9-1.2-.9-1.2-.9-1.2-.9-1.2-.9-1.2-.9-1.3-.9-1.3-.8-1.4-.9-1.4-.8-1.4-.8-1.4-.7-1.5-.8-1.5-.7-1.4-.8-1.3-.8-1.3-.9-1.2-.8-1.2-.9-1.1-.8-1-.9-1-.9-.8-.9-.8-.9-.7-.9-.6-.9-.5-.9-.3-.9-.3-.9-.3-.9-.2-.9-.1-.9 0-.9 0-.8 0-.9 .1-.8 .2-.8 .2-.8 .3-.6 .3-.6 .4-.5 .4-.4 .5-.3 .5-.2 .6-.2 .7-.1 .7-.2 .8-.1 .9-.2 .9-.1 1.1-.2 1.1-.1 1.2-.2 1.2-.1 1.2-.2 1.2-.2 1.2-.3 1.2-.2 1.2-.3 1.2-.2 1.2-.3 1.2-.4 1.3-.4 1.3-.5 1.4-.6 1.4-.6 1.4-.7 1.5-.8 1.5-.8 1.5-.8 1.5-.9 1.5-.8 1.5-.9 1.5-.9 1.5-.9 1.5-.8 1.5-.9 1.4-.9 1.4-.8 1.3-.8 1.3-.8 1.2-.7 1.2-.7 1.1-.6 1-.6 1-.6 1-.7 1-.6 .9-.7 .8-.7 .8-.7 .8-.7 .8-.8 .7-.7 .8-.8 .7-.8 .8-.9 .7-.8 .8-.9 .7-.8 .8-.9 .7-.9 .7-.8 .7-.8 .6-.8 .6-.7 .6-.7 .5-.6 .6-.6 .5-.5 .7-.4 .7-.3 .7-.3 .8-.1 .9 0z" fill="#fff" stroke="none"/>
<path d="M404.6 903.7l3 .4 2.9 .5 2.8 .7 2.8 1 2.8 1 2.6 1.4 2.4 1.6 2.5 1.7 2.4 1.7 2.4 1.8 2.3 1.8 2.7 1.3 2.6 1.3 2.7 1.3 2.7 1.2 2.7 1.1 2.8 1.1 2.7 1.1 2.7 1.1 2.5 1.6 2.2 1.9 2.3 2 2.1 2.1 2.1 2.1 2.2 1.8 2.5 1.6 2.6 1.5 2.5 1.6 2.5 1.5 2.5 1.6 2.6 1.5 2.5 1.5 2.6 1.4 2.7 1.2 2.7 1.2 2.7 1.2 2.7 1.2 2.8 .9 2.8 1 1.9 1.1-2.2 2-2.2 2-2.2 1.9-2.2 2-2.3 1.9-2.2 1.9-2.1 2.1-2.1 2.1-2.1 2.1-2.1 2.1-2.1 2-2.2 2.1-2.2 1.9-2.1 2-2.6 1.6-2.6 1.4-2.5 1.4-2.6 1.4-2.6 1.5-2.6 1.5-2.5 1.5-2.6 1.5-2.5 1.5-2.6 1.3-2.9 .7-2.9 .6-2.9 .7-2.9 .7-2.8 .6-2.9 .7-2.9 .7-2.9 .6-2.9 .7-2.8 .7-2.8 .2-2.4-1.8-2.3-1.9-2.3-1.8-2.5-1.6-2.5-1.6-2.5-1.5-2.5-1.6-2.5-1.6-2.5-1.5-2.6-1.6-2.5-1.5-2.5-1.6-2.6-1.4-2.7-1.1-2.7-1.1-2.8-1.2-2.7-1.1-2.6-1.4-2.4-1.8-2.3-1.7-2.4-1.8-2.4-1.8-2.3-1.8-2.4-1.7-2.4-1.8-2.5-1.5-2.7-1.3-2.6-1.3-2.7-1.3-2.4-1.6-2.3-1.9-2.2-2-2.3-1.9-1-2.7-.9-2.8-.2-2.9 .7-2.9 1.4-2.1 2.9-.7 2.9-.5 2.9-.3 3-.4 2.8-.6 2.9-.8 2.9-.7 2.7-1.1 2.6-1.5 2.6-1.4 2.5-1.4 2.6-1.5 2.6-1.5 2.5-1.5 2.5-1.5 2.6-1.5 2.5-1.5 2.6-1.5 2.6-1.5 2.2-1.9 2.1-2.1 2.1-2.1 1.9-2.2 1.8-2.3 1.9-2.3 2-2.2z" fill="none" stroke="#2e2e2e" stroke-width="0.5" stroke-dasharray="142 26" stroke-dashoffset="21"/>
<path d="M405.5 906.9l2.7 .5 2.8 .4 2.6 .7 2.7 .9 2.6 .9 2.4 1.3 2.3 1.6 2.3 1.5 2.2 1.7 2.3 1.6 2.2 1.7 2.5 1.2 2.4 1.3 2.5 1.2 2.6 1.1 2.5 1.1 2.6 1 2.6 1 2.6 1.1 2.3 1.5 2.1 1.8 2.1 1.8 1.9 2 2 1.9 2.1 1.8 2.4 1.4 2.3 1.5 2.4 1.5 2.4 1.4 2.4 1.4 2.3 1.5 2.4 1.4 2.5 1.3 2.5 1.1 2.5 1.2 2.5 1.1 2.6 1.1 2.6 .9 2.7 .8 1.7 1.1-2 1.9-2.1 1.8-2 1.9-2.2 1.8-2.1 1.8-2.1 1.8-2 1.9-1.9 2-2 2-1.9 1.9-2 2-2.1 1.9-2 1.8-2 1.9-2.4 1.4-2.4 1.4-2.5 1.3-2.4 1.4-2.4 1.3-2.4 1.4-2.4 1.4-2.4 1.4-2.4 1.4-2.5 1.3-2.7 .6-2.7 .6-2.7 .7-2.7 .6-2.7 .6-2.7 .6-2.7 .7-2.7 .6-2.7 .6-2.7 .7-2.6 .2-2.2-1.8-2.2-1.7-2.2-1.7-2.3-1.5-2.3-1.5-2.4-1.5-2.3-1.4-2.4-1.5-2.4-1.4-2.3-1.5-2.4-1.4-2.3-1.5-2.5-1.3-2.5-1.1-2.6-1.1-2.6-1-2.5-1.1-2.5-1.3-2.2-1.6-2.2-1.7-2.2-1.7-2.2-1.6-2.3-1.7-2.2-1.7-2.2-1.6-2.4-1.4-2.5-1.2-2.5-1.3-2.5-1.2-2.3-1.5-2.1-1.8-2.1-1.8-2.1-1.8-1-2.6-.8-2.6-.2-2.7 .6-2.7 1.4-2 2.7-.7 2.7-.4 2.7-.4 2.8-.3 2.7-.6 2.7-.7 2.7-.6 2.5-1.1 2.5-1.4 2.4-1.3 2.4-1.3 2.4-1.4 2.4-1.4 2.4-1.5 2.4-1.4 2.4-1.4 2.4-1.4 2.4-1.4 2.4-1.4 2.1-1.8 1.9-1.9 2-2 1.8-2.1 1.7-2.1 1.8-2.2 1.8-2.1z" fill="none" stroke="#2e2e2e" stroke-width="0.5" stroke-dasharray="134 32" stroke-dashoffset="53"/>
<path d="M406.3 910.2l2.6 .4 2.5 .4 2.5 .6 2.5 .9 2.4 .9 2.3 1.2 2.1 1.5 2.2 1.4 2.1 1.5 2.1 1.6 2 1.5 2.4 1.2 2.3 1.2 2.3 1.1 2.4 1.1 2.4 .9 2.4 1 2.4 .9 2.4 1 2.1 1.4 2 1.7 2 1.7 1.8 1.8 1.8 1.9 2 1.6 2.2 1.4 2.2 1.3 2.2 1.4 2.3 1.4 2.2 1.3 2.2 1.3 2.2 1.4 2.3 1.2 2.4 1 2.3 1.1 2.4 1.1 2.4 1 2.4 .8 2.5 .8 1.7 1-2 1.8-1.9 1.7-1.9 1.7-2 1.7-2 1.7-1.9 1.7-1.9 1.8-1.8 1.8-1.8 1.9-1.9 1.8-1.8 1.8-1.9 1.8-1.9 1.7-1.9 1.8-2.3 1.3-2.2 1.3-2.3 1.2-2.3 1.3-2.2 1.3-2.3 1.3-2.2 1.3-2.3 1.3-2.2 1.3-2.3 1.2-2.5 .5-2.5 .6-2.6 .6-2.5 .6-2.5 .6-2.5 .6-2.6 .6-2.5 .5-2.5 .6-2.5 .6-2.5 .2-2-1.6-2.1-1.6-2-1.6-2.2-1.4-2.2-1.4-2.2-1.4-2.2-1.3-2.2-1.4-2.2-1.4-2.2-1.3-2.2-1.4-2.2-1.3-2.3-1.3-2.4-1-2.4-1-2.4-1-2.4-1-2.2-1.2-2.1-1.5-2.1-1.6-2-1.5-2.1-1.6-2.1-1.5-2.1-1.6-2-1.6-2.3-1.2-2.3-1.2-2.3-1.1-2.4-1.2-2.1-1.4-2-1.7-2-1.7-1.9-1.7-.9-2.4-.8-2.4-.2-2.5 .6-2.6 1.2-1.8 2.5-.7 2.6-.4 2.6-.3 2.6-.3 2.5-.6 2.5-.6 2.5-.6 2.4-1 2.3-1.3 2.2-1.2 2.3-1.3 2.3-1.3 2.2-1.3 2.2-1.3 2.2-1.4 2.2-1.3 2.3-1.3 2.2-1.3 2.3-1.3 1.9-1.6 1.9-1.9 1.8-1.8 1.7-2 1.6-2 1.7-2 1.7-1.9z" fill="none" stroke="#2e2e2e" stroke-width="0.5" stroke-dasharray="126 38" stroke-dashoffset="53"/>
<path d="M407.1 913.5l2.4 .4 2.4 .3 2.3 .6 2.3 .8 2.3 .8 2.1 1.2 2 1.3 2 1.3 1.9 1.5 2 1.4 1.9 1.5 2.1 1 2.2 1.1 2.2 1.1 2.2 1 2.2 .9 2.2 .9 2.3 .9 2.2 .9 2 1.3 1.8 1.5 1.9 1.6 1.7 1.7 1.7 1.7 1.8 1.5 2.1 1.3 2 1.3 2.1 1.3 2 1.2 2.1 1.2 2.1 1.3 2 1.2 2.2 1.2 2.2 1 2.2 .9 2.2 1 2.2 1 2.3 .7 2.3 .8 1.5 .9-1.8 1.6-1.8 1.7-1.8 1.6-1.8 1.5-1.8 1.6-1.9 1.6-1.7 1.7-1.7 1.7-1.7 1.7-1.7 1.7-1.7 1.7-1.8 1.6-1.8 1.6-1.8 1.7-2 1.2-2.1 1.2-2.1 1.1-2.2 1.2-2 1.2-2.1 1.2-2.1 1.2-2.1 1.2-2.1 1.2-2.1 1.1-2.4 .6-2.3 .5-2.4 .6-2.3 .5-2.4 .6-2.3 .5-2.4 .5-2.3 .6-2.3 .5-2.4 .6-2.3 .2-1.9-1.5-1.9-1.5-1.8-1.5-2.1-1.3-2-1.3-2-1.3-2.1-1.3-2-1.2-2.1-1.3-2.1-1.3-2-1.2-2.1-1.3-2.1-1.1-2.2-1-2.2-.9-2.3-.9-2.2-.9-2.1-1.2-1.9-1.4-2-1.4-1.9-1.5-1.9-1.4-1.9-1.5-2-1.4-1.9-1.5-2.1-1.2-2.1-1-2.2-1.1-2.2-1.1-2-1.3-1.8-1.6-1.8-1.5-1.9-1.6-.8-2.2-.8-2.3-.1-2.3 .5-2.4 1.2-1.7 2.3-.7 2.4-.3 2.4-.3 2.4-.3 2.4-.5 2.3-.6 2.3-.6 2.2-.9 2.1-1.2 2.2-1.2 2.1-1.1 2.1-1.2 2-1.2 2.1-1.3 2.1-1.2 2-1.3 2.1-1.2 2.1-1.2 2.1-1.2 1.8-1.5 1.7-1.7 1.7-1.7 1.6-1.9 1.5-1.8 1.6-1.9 1.6-1.8z" fill="none" stroke="#2e2e2e" stroke-width="0.5" stroke-dasharray="118 44" stroke-dashoffset="36"/>
<path d="M408 916.8l2.2 .3 2.2 .3 2.1 .6 2.1 .7 2.1 .8 2 1 1.8 1.3 1.9 1.2 1.8 1.3 1.8 1.4 1.8 1.3 1.9 1 2 1 2 1 2.1 .9 2 .8 2.1 .8 2.1 .9 2 .8 1.9 1.2 1.7 1.5 1.7 1.4 1.5 1.6 1.6 1.6 1.7 1.4 1.9 1.1 1.9 1.2 1.9 1.2 1.9 1.2 1.9 1.1 1.9 1.2 2 1.1 1.9 1.1 2 .9 2.1 .9 2 .9 2.1 .9 2.1 .7 2.1 .7 1.4 .8-1.6 1.5-1.7 1.5-1.7 1.5-1.6 1.5-1.7 1.4-1.7 1.5-1.6 1.5-1.6 1.6-1.6 1.6-1.6 1.5-1.5 1.6-1.7 1.5-1.6 1.5-1.7 1.5-1.9 1.2-1.9 1.1-2 1-1.9 1.1-2 1.1-1.9 1.1-1.9 1.2-1.9 1.1-2 1.1-1.9 1-2.2 .5-2.2 .5-2.1 .5-2.2 .5-2.2 .5-2.2 .5-2.1 .5-2.2 .5-2.2 .6-2.1 .5-2.1 .1-1.8-1.4-1.7-1.3-1.8-1.4-1.9-1.2-1.8-1.2-1.9-1.2-1.9-1.2-1.9-1.1-1.9-1.2-1.9-1.2-1.9-1.2-1.9-1.1-2-1.1-2-.8-2.1-.9-2-.9-2.1-.8-2-1-1.7-1.4-1.8-1.3-1.8-1.4-1.8-1.3-1.8-1.3-1.8-1.4-1.7-1.3-2-1.1-2-1-2-1-2-1-1.8-1.2-1.7-1.4-1.7-1.5-1.7-1.4-.8-2.1-.7-2.1-.1-2.2 .5-2.1 1.1-1.7 2.1-.5 2.2-.3 2.2-.3 2.3-.3 2.1-.5 2.2-.5 2.2-.6 2-.8 1.9-1.1 2-1.1 1.9-1 2-1.1 1.9-1.2 1.9-1.1 1.9-1.2 1.9-1.1 2-1.1 1.9-1.1 1.9-1.2 1.7-1.4 1.6-1.6 1.6-1.6 1.4-1.7 1.4-1.7 1.4-1.7 1.5-1.7z" fill="none" stroke="#2e2e2e" stroke-width="0.5" stroke-dasharray="110 50" stroke-dashoffset="61"/>
<path d="M408.8 920l2 .3 2.1 .4 1.9 .4 2 .7 1.9 .7 1.8 1 1.7 1.1 1.7 1.2 1.6 1.2 1.7 1.2 1.6 1.2 1.8 1 1.9 .9 1.8 .9 1.9 .8 1.9 .8 1.9 .7 1.9 .8 1.9 .7 1.7 1.2 1.5 1.3 1.6 1.3 1.4 1.5 1.5 1.4 1.5 1.3 1.8 1.1 1.7 1.1 1.8 1.1 1.7 1 1.8 1.1 1.7 1 1.8 1.1 1.8 .9 1.8 .9 1.9 .8 1.9 .9 1.9 .8 1.9 .6 1.9 .7 1.3 .7-1.5 1.4-1.5 1.4-1.5 1.4-1.6 1.3-1.5 1.3-1.6 1.4-1.5 1.4-1.4 1.4-1.4 1.5-1.5 1.4-1.4 1.5-1.5 1.4-1.6 1.3-1.5 1.4-1.7 1.1-1.8 1-1.8 .9-1.8 1-1.8 1-1.7 1.1-1.8 1-1.8 1-1.7 1.1-1.9 .9-1.9 .5-2 .4-2 .5-2 .4-2 .5-2 .5-2 .4-2 .5-2 .5-2 .4-1.9 .2-1.6-1.3-1.6-1.3-1.6-1.2-1.8-1.1-1.7-1.1-1.7-1.1-1.8-1.1-1.7-1.1-1.7-1-1.8-1.1-1.7-1.1-1.8-1.1-1.8-.9-1.9-.8-1.9-.8-1.8-.8-1.9-.8-1.8-.9-1.7-1.3-1.6-1.2-1.6-1.2-1.7-1.3-1.6-1.2-1.7-1.2-1.6-1.2-1.8-1-1.8-1-1.8-.9-1.9-.9-1.7-1.1-1.5-1.3-1.6-1.4-1.5-1.3-.7-1.9-.7-1.9-.1-2 .5-2 .9-1.5 2-.5 2-.3 2.1-.2 2-.3 2-.4 2-.5 2-.5 1.8-.8 1.8-1 1.8-1 1.8-1 1.8-1 1.8-1 1.7-1.1 1.8-1 1.7-1.1 1.8-1 1.8-1 1.8-1.1 1.5-1.3 1.4-1.4 1.5-1.5 1.3-1.5 1.3-1.6 1.3-1.6 1.4-1.5z" fill="none" stroke="#2e2e2e" stroke-width="0.5" stroke-dasharray="102 56" stroke-dashoffset="27"/>
<path d="M409.7 923.3l1.8 .3 1.8 .3 1.8 .4 1.8 .6 1.8 .7 1.6 .9 1.5 1 1.6 1 1.5 1.1 1.5 1.2 1.5 1.1 1.6 .8 1.7 .8 1.7 .9 1.7 .7 1.7 .7 1.7 .7 1.8 .7 1.7 .7 1.5 1 1.5 1.2 1.4 1.2 1.3 1.4 1.3 1.3 1.4 1.1 1.6 1 1.6 1 1.6 1 1.6 1 1.6 .9 1.6 1 1.6 .9 1.6 .9 1.7 .8 1.7 .8 1.7 .7 1.7 .8 1.8 .5 1.8 .6 1.2 .7-1.4 1.3-1.4 1.3-1.4 1.2-1.4 1.2-1.4 1.2-1.4 1.2-1.4 1.3-1.3 1.4-1.3 1.3-1.3 1.3-1.3 1.3-1.4 1.3-1.4 1.2-1.4 1.3-1.6 1-1.6 .9-1.6 .8-1.7 .9-1.6 1-1.6 .9-1.6 .9-1.6 1-1.6 .9-1.7 .9-1.8 .4-1.8 .4-1.8 .4-1.8 .5-1.9 .4-1.8 .4-1.8 .4-1.8 .4-1.8 .5-1.8 .4-1.8 .1-1.5-1.1-1.4-1.2-1.5-1.1-1.5-1.1-1.6-.9-1.6-1-1.6-1-1.6-1-1.6-1-1.6-1-1.5-.9-1.6-1-1.7-.9-1.7-.7-1.7-.7-1.7-.7-1.8-.8-1.6-.8-1.5-1.1-1.5-1.2-1.5-1.1-1.5-1.1-1.5-1.1-1.4-1.1-1.5-1.2-1.7-.9-1.6-.8-1.7-.8-1.7-.9-1.5-1-1.4-1.2-1.4-1.2-1.5-1.2-.6-1.8-.6-1.7-.1-1.8 .4-1.8 .9-1.4 1.8-.5 1.9-.2 1.8-.2 1.9-.3 1.8-.4 1.8-.4 1.8-.5 1.7-.7 1.6-.9 1.7-.9 1.6-.9 1.6-.9 1.6-1 1.6-.9 1.6-1 1.6-1 1.6-.9 1.7-.9 1.6-.9 1.4-1.3 1.3-1.3 1.3-1.3 1.2-1.4 1.2-1.5 1.2-1.4 1.2-1.4z" fill="none" stroke="#2e2e2e" stroke-width="0.5" stroke-dasharray="94 62" stroke-dashoffset="60"/>
<path d="M410.5 926.6l1.6 .2 1.7 .3 1.6 .4 1.6 .6 1.6 .5 1.5 .8 1.4 1 1.4 .9 1.3 1 1.4 1 1.3 1 1.5 .8 1.5 .7 1.5 .8 1.6 .6 1.5 .7 1.6 .6 1.6 .6 1.5 .6 1.4 1 1.3 1 1.3 1.1 1.2 1.2 1.1 1.2 1.3 1.1 1.5 .9 1.4 .9 1.4 .9 1.5 .8 1.4 .9 1.5 .9 1.4 .8 1.5 .8 1.5 .7 1.5 .7 1.6 .7 1.5 .6 1.6 .6 1.6 .5 1.1 .7-1.3 1.1-1.2 1.1-1.3 1.1-1.2 1.1-1.3 1.1-1.3 1.1-1.2 1.2-1.2 1.2-1.2 1.2-1.2 1.2-1.2 1.2-1.2 1.1-1.2 1.1-1.3 1.2-1.4 .8-1.5 .8-1.5 .9-1.4 .8-1.5 .8-1.5 .8-1.4 .9-1.5 .8-1.4 .9-1.5 .8-1.6 .3-1.7 .4-1.6 .4-1.7 .4-1.6 .3-1.6 .4-1.7 .4-1.6 .4-1.7 .4-1.6 .4-1.6 .1-1.3-1.1-1.3-1-1.3-1-1.4-1-1.5-.9-1.4-.8-1.4-.9-1.5-.9-1.4-.9-1.4-.9-1.5-.9-1.4-.8-1.5-.8-1.5-.7-1.6-.6-1.5-.7-1.6-.6-1.5-.8-1.3-1-1.4-1-1.3-1-1.3-1.1-1.4-1-1.3-1-1.4-1-1.4-.8-1.5-.8-1.6-.7-1.5-.8-1.4-.9-1.2-1.1-1.3-1.1-1.3-1.1-.6-1.5-.5-1.6-.1-1.6 .4-1.7 .8-1.2 1.6-.4 1.7-.3 1.6-.2 1.7-.2 1.7-.3 1.6-.4 1.6-.5 1.6-.6 1.4-.8 1.5-.8 1.5-.8 1.4-.9 1.5-.8 1.4-.9 1.5-.9 1.4-.8 1.5-.9 1.4-.8 1.5-.8 1.3-1.1 1.1-1.2 1.2-1.2 1.1-1.3 1.1-1.3 1.1-1.3 1.1-1.3z" fill="none" stroke="#2e2e2e" stroke-width="0.5" stroke-dasharray="86 68" stroke-dashoffset="65"/>
<path d="M407.2 900.9l1 .2 1 .2 1 .2 1 .2 1 .3 1 .2 1 .4 1.1 .3 1 .4 1.1 .4 1 .4 1 .5 .9 .5 1 .5 .9 .5 1 .6 .9 .6 .9 .6 .9 .6 .9 .7 .9 .6 .9 .6 .9 .7 .9 .7 .9 .6 .9 .7 1 .7 1 .6 1 .6 1.1 .7 1.1 .6 1.2 .6 1.2 .6 1.3 .6 1.3 .6 1.5 .7 1.5 .7 1.5 .6 1.7 .7 1.7 .7 1.8 .7 1.7 .8 1.5 .6 1.4 .7 1.3 .7 1.1 .7 1.1 .6 .8 .7 .8 .6 .7 .6 .8 .7 .7 .7 .8 .7 .7 .7 .8 .7 .7 .7 .8 .8 .8 .7 .9 .8 .9 .7 .9 .8 1.1 .7 1.1 .8 1.1 .7 1.2 .8 1.2 .7 1.3 .8 1.3 .8 1.4 .9 1.4 .8 1.4 .9 1.5 .9 1.5 .9 1.5 .8 1.5 .9 1.5 .8 1.5 .8 1.5 .7 1.5 .8 1.5 .7 1.5 .6 1.4 .7 1.4 .6 1.4 .5 1.3 .6 1.3 .5 1.2 .4 1.1 .4 1.2 .4 .9 .4 .6 .5 .4 .5 .1 .6-.1 .6-.3 .6-.6 .7-.8 .8-.9 .7-.8 .8-.9 .8-1 .9-1 .8-.9 .9-1.1 .9-1 .9-1.1 .9-1.1 1-1.2 1.1-1.2 1.1-1.2 1.2-1.3 1.2-1.3 1.3-1.4 1.4-1.3 1.3-1.2 1.2-1.2 1.1-1.1 1.1-1.1 1-1 1-.9 .9-.9 .8-1 .8-1.1 .9-1.1 .8-1.2 .8-1.3 .8-1.3 .9-1.4 .8-1.5 .8-1.6 .9-1.6 .9-1.6 .9-1.6 .9-1.7 1-1.7 1-1.8 1-1.8 1-1.8 1-1.9 .9-1.8 .8-1.9 .8-1.9 .7-1.9 .6-1.9 .5-2 .4-2 .5-2 .5-2 .4-2.1 .5-2.2 .5-2.2 .5-2.2 .5-2.2 .6-2.1 .3-2 .2-1.8 0-1.6-.1-1.5-.3-1.4-.5-1.2-.7-1-.8-1.1-.8-1.1-.8-1.1-.8-1.1-.8-1.2-.8-1.1-.8-1.2-.7-1.2-.8-1.3-.8-1.4-.8-1.5-1-1.5-.9-1.7-1.1-1.8-1.1-1.8-1.1-2-1.2-1.9-1.1-1.9-1.1-1.9-1.1-1.9-.9-1.8-1-1.9-.8-1.8-.8-1.8-.8-1.7-.7-1.7-.8-1.5-.8-1.5-.9-1.5-.8-1.3-.9-1.3-.8-1.2-.9-1.2-.9-1.2-.9-1.2-.9-1.2-.9-1.2-.9-1.2-.9-1.2-.9-1.2-.9-1.2-.9-1.3-.9-1.3-.8-1.4-.9-1.4-.8-1.4-.8-1.4-.7-1.5-.8-1.5-.7-1.4-.8-1.3-.8-1.3-.9-1.2-.8-1.2-.9-1.1-.8-1-.9-1-.9-.8-.9-.8-.9-.7-.9-.6-.9-.5-.9-.3-.9-.3-.9-.3-.9-.2-.9-.1-.9 0-.9 0-.8 0-.9 .1-.8 .2-.8 .2-.8 .3-.6 .3-.6 .4-.5 .4-.4 .5-.3 .5-.2 .6-.2 .7-.1 .7-.2 .8-.1 .9-.2 .9-.1 1.1-.2 1.1-.1 1.2-.2 1.2-.1 1.2-.2 1.2-.2 1.2-.3 1.2-.2 1.2-.3 1.2-.2 1.2-.3 1.2-.4 1.3-.4 1.3-.5 1.4-.6 1.4-.6 1.4-.7 1.5-.8 1.5-.8 1.5-.8 1.5-.9 1.5-.8 1.5-.9 1.5-.9 1.5-.9 1.5-.8 1.5-.9 1.4-.9 1.4-.8 1.3-.8 1.3-.8 1.2-.7 1.2-.7 1.1-.6 1-.6 1-.6 1-.7 1-.6 .9-.7 .8-.7 .8-.7 .8-.7 .8-.8 .7-.7 .8-.8 .7-.8 .8-.9 .7-.8 .8-.9 .7-.8 .8-.9 .7-.9 .7-.8 .7-.8 .6-.8 .6-.7 .6-.7 .5-.6 .6-.6 .5-.5 .7-.4 .7-.3 .7-.3 .8-.1 .9 0z" fill="none" stroke="#1a1a1a" stroke-width="1.3" stroke-linejoin="round"/>
<ellipse cx="414.6" cy="968.2" rx="33" ry="17" transform="rotate(22 414.6 968.2)" fill="#fff" stroke="#222" stroke-width="1"/>
<ellipse cx="414.6" cy="968.2" rx="31" ry="15" transform="rotate(22 414.6 968.2)" fill="none" stroke="#444" stroke-width="0.6"/></g></defs><rect width="2000" height="1414" fill="#fff"/>
<text x="188.3" y="67.9" font-family="Liberation Sans" font-size="38.3" font-weight="bold" fill="#1d1d1b" textLength="125.5" lengthAdjust="spacingAndGlyphs">STRUCTURE</text>
<text x="739.3" y="67.9" font-family="Liberation Sans" font-size="38.3" font-weight="bold" fill="#1d1d1b" textLength="140.5" lengthAdjust="spacingAndGlyphs">CIRCULATION</text>
<text x="1381.8" y="67.9" font-family="Liberation Sans" font-size="38.3" font-weight="bold" fill="#1d1d1b" textLength="107" lengthAdjust="spacingAndGlyphs">PROGRAM</text>
<text x="188.8" y="230.9" font-family="Liberation Sans" font-size="14.5" font-weight="normal" fill="#1d1d1b" stroke="#1d1d1b" stroke-width="0.5" textLength="24" lengthAdjust="spacingAndGlyphs">ROOF</text>
<text x="188.8" y="383.6" font-family="Liberation Sans" font-size="14.5" font-weight="normal" fill="#1d1d1b" stroke="#1d1d1b" stroke-width="0.5" textLength="10.5" lengthAdjust="spacingAndGlyphs">F5</text>
<text x="188.8" y="536.4" font-family="Liberation Sans" font-size="14.5" font-weight="normal" fill="#1d1d1b" stroke="#1d1d1b" stroke-width="0.5" textLength="10.5" lengthAdjust="spacingAndGlyphs">F4</text>
<text x="188.8" y="689.1" font-family="Liberation Sans" font-size="14.5" font-weight="normal" fill="#1d1d1b" stroke="#1d1d1b" stroke-width="0.5" textLength="10.5" lengthAdjust="spacingAndGlyphs">F3</text>
<text x="188.8" y="841.8" font-family="Liberation Sans" font-size="14.5" font-weight="normal" fill="#1d1d1b" stroke="#1d1d1b" stroke-width="0.5" textLength="10.5" lengthAdjust="spacingAndGlyphs">F2</text>
<text x="188.8" y="994.5" font-family="Liberation Sans" font-size="14.5" font-weight="normal" fill="#1d1d1b" stroke="#1d1d1b" stroke-width="0.5" textLength="33.8" lengthAdjust="spacingAndGlyphs">ATRIUM</text>
<text x="188.8" y="1147.3" font-family="Liberation Sans" font-size="14.5" font-weight="normal" fill="#1d1d1b" stroke="#1d1d1b" stroke-width="0.5" textLength="9.8" lengthAdjust="spacingAndGlyphs">F1</text>
<text x="188.8" y="1300" font-family="Liberation Sans" font-size="14.5" font-weight="normal" fill="#1d1d1b" stroke="#1d1d1b" stroke-width="0.5" textLength="10" lengthAdjust="spacingAndGlyphs">B1</text>
<text x="739.2" y="230.9" font-family="Liberation Sans" font-size="14.5" font-weight="normal" fill="#1d1d1b" stroke="#1d1d1b" stroke-width="0.5" textLength="24" lengthAdjust="spacingAndGlyphs">ROOF</text>
<text x="739.2" y="383.6" font-family="Liberation Sans" font-size="14.5" font-weight="normal" fill="#1d1d1b" stroke="#1d1d1b" stroke-width="0.5" textLength="10.5" lengthAdjust="spacingAndGlyphs">F5</text>
<text x="739.2" y="536.4" font-family="Liberation Sans" font-size="14.5" font-weight="normal" fill="#1d1d1b" stroke="#1d1d1b" stroke-width="0.5" textLength="10.5" lengthAdjust="spacingAndGlyphs">F4</text>
<text x="739.2" y="689.1" font-family="Liberation Sans" font-size="14.5" font-weight="normal" fill="#1d1d1b" stroke="#1d1d1b" stroke-width="0.5" textLength="10.5" lengthAdjust="spacingAndGlyphs">F3</text>
<text x="739.2" y="841.9" font-family="Liberation Sans" font-size="14.5" font-weight="normal" fill="#1d1d1b" stroke="#1d1d1b" stroke-width="0.5" textLength="35.8" lengthAdjust="spacingAndGlyphs">ACCESS</text>
<text x="739.2" y="859.9" font-family="Liberation Sans" font-size="14.5" font-weight="normal" fill="#1d1d1b" stroke="#1d1d1b" stroke-width="0.5" textLength="68.3" lengthAdjust="spacingAndGlyphs">FROM F1 TO F2</text>
<text x="739.2" y="994" font-family="Liberation Sans" font-size="14.5" font-weight="normal" fill="#1d1d1b" stroke="#1d1d1b" stroke-width="0.5" textLength="35.8" lengthAdjust="spacingAndGlyphs">ACCESS</text>
<text x="739.2" y="1012.6" font-family="Liberation Sans" font-size="14.5" font-weight="normal" fill="#1d1d1b" stroke="#1d1d1b" stroke-width="0.5" textLength="104.7" lengthAdjust="spacingAndGlyphs">FROM ENTRANCE TO F1</text>
<text x="739.2" y="1147.3" font-family="Liberation Sans" font-size="14.5" font-weight="normal" fill="#1d1d1b" stroke="#1d1d1b" stroke-width="0.5" textLength="9.8" lengthAdjust="spacingAndGlyphs">F1</text>
<text x="739.2" y="1300" font-family="Liberation Sans" font-size="14.5" font-weight="normal" fill="#1d1d1b" stroke="#1d1d1b" stroke-width="0.5" textLength="10" lengthAdjust="spacingAndGlyphs">B1</text>
<text x="1381.2" y="230.9" font-family="Liberation Sans" font-size="14.5" font-weight="normal" fill="#1d1d1b" stroke="#1d1d1b" stroke-width="0.5" textLength="24" lengthAdjust="spacingAndGlyphs">ROOF</text>
<text x="1381.2" y="383.6" font-family="Liberation Sans" font-size="14.5" font-weight="normal" fill="#1d1d1b" stroke="#1d1d1b" stroke-width="0.5" textLength="10.5" lengthAdjust="spacingAndGlyphs">F5</text>
<text x="1381.2" y="536.4" font-family="Liberation Sans" font-size="14.5" font-weight="normal" fill="#1d1d1b" stroke="#1d1d1b" stroke-width="0.5" textLength="10.5" lengthAdjust="spacingAndGlyphs">F4</text>
<text x="1381.2" y="689.1" font-family="Liberation Sans" font-size="14.5" font-weight="normal" fill="#1d1d1b" stroke="#1d1d1b" stroke-width="0.5" textLength="10.5" lengthAdjust="spacingAndGlyphs">F3</text>
<text x="1381.2" y="841.8" font-family="Liberation Sans" font-size="14.5" font-weight="normal" fill="#1d1d1b" stroke="#1d1d1b" stroke-width="0.5" textLength="10.5" lengthAdjust="spacingAndGlyphs">F2</text>
<text x="1381.2" y="994.5" font-family="Liberation Sans" font-size="14.5" font-weight="normal" fill="#1d1d1b" stroke="#1d1d1b" stroke-width="0.5" textLength="33.8" lengthAdjust="spacingAndGlyphs">ATRIUM</text>
<text x="1381.2" y="1147.3" font-family="Liberation Sans" font-size="14.5" font-weight="normal" fill="#1d1d1b" stroke="#1d1d1b" stroke-width="0.5" textLength="9.8" lengthAdjust="spacingAndGlyphs">F1</text>
<text x="1381.2" y="1300" font-family="Liberation Sans" font-size="14.5" font-weight="normal" fill="#1d1d1b" stroke="#1d1d1b" stroke-width="0.5" textLength="10" lengthAdjust="spacingAndGlyphs">B1</text>
<line x1="256.6" y1="231" x2="256.6" y2="1289.7" stroke="#c4c4c4" stroke-width="0.9" stroke-dasharray="4 3"/>
<line x1="362.2" y1="292" x2="362.2" y2="1350.7" stroke="#c4c4c4" stroke-width="0.9" stroke-dasharray="4 3"/>
<line x1="557.7" y1="179" x2="557.7" y2="1237.7" stroke="#c4c4c4" stroke-width="0.9" stroke-dasharray="4 3"/>
<line x1="332.5" y1="795" x2="332.5" y2="941" stroke="#c4c4c4" stroke-width="0.9" stroke-dasharray="4 3"/>
<line x1="404.7" y1="752" x2="404.7" y2="900" stroke="#c4c4c4" stroke-width="0.9" stroke-dasharray="4 3"/>
<line x1="425" y1="722" x2="425" y2="903" stroke="#c4c4c4" stroke-width="0.9" stroke-dasharray="4 3"/>
<line x1="517" y1="664" x2="517" y2="958" stroke="#c4c4c4" stroke-width="0.9" stroke-dasharray="4 3"/>
<rect x="349.3" y="427" width="1.7" height="11" rx="0.8" fill="#fdebe3" stroke="#f2a07f" stroke-width="0.6"/>
<rect x="292.4" y="384.7" width="1.7" height="11" rx="0.8" fill="#fdebe3" stroke="#f2a07f" stroke-width="0.6"/>
<rect x="284.2" y="370.6" width="1.7" height="11" rx="0.8" fill="#fdebe3" stroke="#f2a07f" stroke-width="0.6"/>
<rect x="316.8" y="389.4" width="1.7" height="11" rx="0.8" fill="#fdebe3" stroke="#f2a07f" stroke-width="0.6"/>
<rect x="333" y="398.8" width="1.7" height="11" rx="0.8" fill="#fdebe3" stroke="#f2a07f" stroke-width="0.6"/>
<rect x="365.6" y="417.6" width="1.7" height="11" rx="0.8" fill="#fdebe3" stroke="#f2a07f" stroke-width="0.6"/>
<rect x="292.4" y="365.9" width="1.7" height="11" rx="0.8" fill="#fdebe3" stroke="#f2a07f" stroke-width="0.6"/>
<rect x="308.6" y="375.3" width="1.7" height="11" rx="0.8" fill="#fdebe3" stroke="#f2a07f" stroke-width="0.6"/>
<rect x="357.4" y="403.5" width="1.7" height="11" rx="0.8" fill="#fdebe3" stroke="#f2a07f" stroke-width="0.6"/>
<rect x="349.3" y="389.4" width="1.7" height="11" rx="0.8" fill="#fdebe3" stroke="#f2a07f" stroke-width="0.6"/>
<rect x="308.7" y="356.5" width="1.7" height="11" rx="0.8" fill="#fdebe3" stroke="#f2a07f" stroke-width="0.6"/>
<rect x="324.9" y="365.9" width="1.7" height="11" rx="0.8" fill="#fdebe3" stroke="#f2a07f" stroke-width="0.6"/>
<rect x="373.7" y="394.1" width="1.7" height="11" rx="0.8" fill="#fdebe3" stroke="#f2a07f" stroke-width="0.6"/>
<rect x="390" y="403.5" width="1.7" height="11" rx="0.8" fill="#fdebe3" stroke="#f2a07f" stroke-width="0.6"/>
<rect x="316.8" y="351.8" width="1.7" height="11" rx="0.8" fill="#fdebe3" stroke="#f2a07f" stroke-width="0.6"/>
<rect x="333.1" y="361.2" width="1.7" height="11" rx="0.8" fill="#fdebe3" stroke="#f2a07f" stroke-width="0.6"/>
<rect x="341.2" y="356.5" width="1.7" height="11" rx="0.8" fill="#fdebe3" stroke="#f2a07f" stroke-width="0.6"/>
<rect x="357.5" y="365.9" width="1.7" height="11" rx="0.8" fill="#fdebe3" stroke="#f2a07f" stroke-width="0.6"/>
<rect x="390" y="384.7" width="1.7" height="11" rx="0.8" fill="#fdebe3" stroke="#f2a07f" stroke-width="0.6"/>
<rect x="333.1" y="342.4" width="1.7" height="11" rx="0.8" fill="#fdebe3" stroke="#f2a07f" stroke-width="0.6"/>
<rect x="365.6" y="361.2" width="1.7" height="11" rx="0.8" fill="#fdebe3" stroke="#f2a07f" stroke-width="0.6"/>
<rect x="398.2" y="380" width="1.7" height="11" rx="0.8" fill="#fdebe3" stroke="#f2a07f" stroke-width="0.6"/>
<rect x="422.6" y="384.6" width="1.7" height="11" rx="0.8" fill="#fdebe3" stroke="#f2a07f" stroke-width="0.6"/>
<rect x="349.4" y="333" width="1.7" height="11" rx="0.8" fill="#fdebe3" stroke="#f2a07f" stroke-width="0.6"/>
<rect x="357.6" y="328.3" width="1.7" height="11" rx="0.8" fill="#fdebe3" stroke="#f2a07f" stroke-width="0.6"/>
<rect x="373.8" y="337.6" width="1.7" height="11" rx="0.8" fill="#fdebe3" stroke="#f2a07f" stroke-width="0.6"/>
<rect x="438.9" y="375.2" width="1.7" height="11" rx="0.8" fill="#fdebe3" stroke="#f2a07f" stroke-width="0.6"/>
<rect x="365.7" y="323.5" width="1.7" height="11" rx="0.8" fill="#fdebe3" stroke="#f2a07f" stroke-width="0.6"/>
<rect x="382" y="332.9" width="1.7" height="11" rx="0.8" fill="#fdebe3" stroke="#f2a07f" stroke-width="0.6"/>
<rect x="398.3" y="323.5" width="1.7" height="11" rx="0.8" fill="#fdebe3" stroke="#f2a07f" stroke-width="0.6"/>
<rect x="463.3" y="361.1" width="1.7" height="11" rx="0.8" fill="#fdebe3" stroke="#f2a07f" stroke-width="0.6"/>
<rect x="406.4" y="318.8" width="1.7" height="11" rx="0.8" fill="#fdebe3" stroke="#f2a07f" stroke-width="0.6"/>
<rect x="471.5" y="356.4" width="1.7" height="11" rx="0.8" fill="#fdebe3" stroke="#f2a07f" stroke-width="0.6"/>
<rect x="398.3" y="304.7" width="1.7" height="11" rx="0.8" fill="#fdebe3" stroke="#f2a07f" stroke-width="0.6"/>
<rect x="479.6" y="351.7" width="1.7" height="11" rx="0.8" fill="#fdebe3" stroke="#f2a07f" stroke-width="0.6"/>
<rect x="455.2" y="328.2" width="1.7" height="11" rx="0.8" fill="#fdebe3" stroke="#f2a07f" stroke-width="0.6"/>
<rect x="471.5" y="337.6" width="1.7" height="11" rx="0.8" fill="#fdebe3" stroke="#f2a07f" stroke-width="0.6"/>
<rect x="479.6" y="332.9" width="1.7" height="11" rx="0.8" fill="#fdebe3" stroke="#f2a07f" stroke-width="0.6"/>
<rect x="471.5" y="318.8" width="1.7" height="11" rx="0.8" fill="#fdebe3" stroke="#f2a07f" stroke-width="0.6"/>
<rect x="487.8" y="328.2" width="1.7" height="11" rx="0.8" fill="#fdebe3" stroke="#f2a07f" stroke-width="0.6"/>
<rect x="504" y="337.6" width="1.7" height="11" rx="0.8" fill="#fdebe3" stroke="#f2a07f" stroke-width="0.6"/>
<rect x="439" y="281.2" width="1.7" height="11" rx="0.8" fill="#fdebe3" stroke="#f2a07f" stroke-width="0.6"/>
<rect x="471.5" y="300" width="1.7" height="11" rx="0.8" fill="#fdebe3" stroke="#f2a07f" stroke-width="0.6"/>
<rect x="487.8" y="309.3" width="1.7" height="11" rx="0.8" fill="#fdebe3" stroke="#f2a07f" stroke-width="0.6"/>
<rect x="463.4" y="285.8" width="1.7" height="11" rx="0.8" fill="#fdebe3" stroke="#f2a07f" stroke-width="0.6"/>
<rect x="479.7" y="295.2" width="1.7" height="11" rx="0.8" fill="#fdebe3" stroke="#f2a07f" stroke-width="0.6"/>
<rect x="496" y="304.6" width="1.7" height="11" rx="0.8" fill="#fdebe3" stroke="#f2a07f" stroke-width="0.6"/>
<rect x="536.6" y="318.7" width="1.7" height="11" rx="0.8" fill="#fdebe3" stroke="#f2a07f" stroke-width="0.6"/>
<path d="M284.6 373.7 L289.1 387.7 L293.6 373.7 L298.1 387.7 L302.6 373.7" fill="none" stroke="#f09a78" stroke-width="2.1" stroke-linejoin="round" stroke-linecap="round"/>
<path d="M284.6 373.7 L289.1 387.7 L293.6 373.7 L298.1 387.7 L302.6 373.7" fill="none" stroke="#fde8df" stroke-width="0.7" stroke-linejoin="round" stroke-linecap="round"/>
<path d="M334.1 401.7 L338.6 415.7 L343.1 401.7 L347.6 415.7 L352.1 401.7" fill="none" stroke="#f09a78" stroke-width="2.1" stroke-linejoin="round" stroke-linecap="round"/>
<path d="M334.1 401.7 L338.6 415.7 L343.1 401.7 L347.6 415.7 L352.1 401.7" fill="none" stroke="#fde8df" stroke-width="0.7" stroke-linejoin="round" stroke-linecap="round"/>
<path d="M429.9 283.2 L437.7 297.2 L445.4 283.2 L453.2 297.2 L460.9 283.2" fill="none" stroke="#f09a78" stroke-width="2.1" stroke-linejoin="round" stroke-linecap="round"/>
<path d="M429.9 283.2 L437.7 297.2 L445.4 283.2 L453.2 297.2 L460.9 283.2" fill="none" stroke="#fde8df" stroke-width="0.7" stroke-linejoin="round" stroke-linecap="round"/>
<path d="M431.9 293.2 L439.7 307.2 L447.4 293.2 L455.2 307.2 L462.9 293.2" fill="none" stroke="#f09a78" stroke-width="2.1" stroke-linejoin="round" stroke-linecap="round"/>
<path d="M431.9 293.2 L439.7 307.2 L447.4 293.2 L455.2 307.2 L462.9 293.2" fill="none" stroke="#fde8df" stroke-width="0.7" stroke-linejoin="round" stroke-linecap="round"/>
<path d="M479.4 304.7 L487.7 319.7 L495.9 304.7 L504.2 319.7 L512.4 304.7" fill="none" stroke="#f09a78" stroke-width="2.1" stroke-linejoin="round" stroke-linecap="round"/>
<path d="M479.4 304.7 L487.7 319.7 L495.9 304.7 L504.2 319.7 L512.4 304.7" fill="none" stroke="#fde8df" stroke-width="0.7" stroke-linejoin="round" stroke-linecap="round"/>
<path d="M481.4 314.7 L489.7 329.7 L497.9 314.7 L506.2 329.7 L514.4 314.7" fill="none" stroke="#f09a78" stroke-width="2.1" stroke-linejoin="round" stroke-linecap="round"/>
<path d="M481.4 314.7 L489.7 329.7 L497.9 314.7 L506.2 329.7 L514.4 314.7" fill="none" stroke="#fde8df" stroke-width="0.7" stroke-linejoin="round" stroke-linecap="round"/>
<path d="M332.5 368.2 L334.9 376.4 L345.5 360.7 L347.9 368.9 L358.5 353.2 L360.9 361.4 L371.5 345.6 L373.9 353.9 L384.5 338.1 L386.9 346.4 L397.5 330.6 L399.9 338.9 L410.5 323.1 L412.9 331.3 L423.5 315.6 L425.9 323.8 L436.5 308.1 L438.9 316.3 L449.5 300.5 L451.9 308.8 L462.5 293" fill="none" stroke="#f09a78" stroke-width="2.2" stroke-linejoin="round" stroke-linecap="round"/>
<path d="M332.5 368.2 L334.9 376.4 L345.5 360.7 L347.9 368.9 L358.5 353.2 L360.9 361.4 L371.5 345.6 L373.9 353.9 L384.5 338.1 L386.9 346.4 L397.5 330.6 L399.9 338.9 L410.5 323.1 L412.9 331.3 L423.5 315.6 L425.9 323.8 L436.5 308.1 L438.9 316.3 L449.5 300.5 L451.9 308.8 L462.5 293" fill="none" stroke="#fde8df" stroke-width="0.7" stroke-linejoin="round" stroke-linecap="round"/>
<path d="M332.5 368.2 L462.5 293" fill="none" stroke="#f09a78" stroke-width="2.6" stroke-linejoin="round" stroke-linecap="round"/>
<path d="M332.5 368.2 L462.5 293" fill="none" stroke="#fde8df" stroke-width="0.9" stroke-linejoin="round" stroke-linecap="round"/>
<path d="M365.2 387.1 L367.6 395.3 L378.2 379.6 L380.6 387.8 L391.2 372.1 L393.6 380.3 L404.2 364.5 L406.6 372.8 L417.2 357 L419.6 365.3 L430.2 349.5 L432.6 357.8 L443.2 342 L445.6 350.2 L456.2 334.5 L458.6 342.7 L469.2 327 L471.6 335.2 L482.2 319.5 L484.6 327.7 L495.2 311.9" fill="none" stroke="#f09a78" stroke-width="2.2" stroke-linejoin="round" stroke-linecap="round"/>
<path d="M365.2 387.1 L367.6 395.3 L378.2 379.6 L380.6 387.8 L391.2 372.1 L393.6 380.3 L404.2 364.5 L406.6 372.8 L417.2 357 L419.6 365.3 L430.2 349.5 L432.6 357.8 L443.2 342 L445.6 350.2 L456.2 334.5 L458.6 342.7 L469.2 327 L471.6 335.2 L482.2 319.5 L484.6 327.7 L495.2 311.9" fill="none" stroke="#fde8df" stroke-width="0.7" stroke-linejoin="round" stroke-linecap="round"/>
<path d="M365.2 387.1 L495.2 311.9" fill="none" stroke="#f09a78" stroke-width="2.6" stroke-linejoin="round" stroke-linecap="round"/>
<path d="M365.2 387.1 L495.2 311.9" fill="none" stroke="#fde8df" stroke-width="0.9" stroke-linejoin="round" stroke-linecap="round"/>
<path d="M399.5 406.9 L401.9 415.2 L412.5 399.4 L414.9 407.6 L425.5 391.9 L427.9 400.1 L438.5 384.4 L440.9 392.6 L451.5 376.9 L453.9 385.1 L464.5 369.3 L466.9 377.6 L477.5 361.8 L479.9 370.1 L490.5 354.3 L492.9 362.6 L503.5 346.8 L505.9 355 L516.5 339.3 L518.9 347.5 L529.5 331.8" fill="none" stroke="#f09a78" stroke-width="2.2" stroke-linejoin="round" stroke-linecap="round"/>
<path d="M399.5 406.9 L401.9 415.2 L412.5 399.4 L414.9 407.6 L425.5 391.9 L427.9 400.1 L438.5 384.4 L440.9 392.6 L451.5 376.9 L453.9 385.1 L464.5 369.3 L466.9 377.6 L477.5 361.8 L479.9 370.1 L490.5 354.3 L492.9 362.6 L503.5 346.8 L505.9 355 L516.5 339.3 L518.9 347.5 L529.5 331.8" fill="none" stroke="#fde8df" stroke-width="0.7" stroke-linejoin="round" stroke-linecap="round"/>
<path d="M399.5 406.9 L529.5 331.8" fill="none" stroke="#f09a78" stroke-width="2.6" stroke-linejoin="round" stroke-linecap="round"/>
<path d="M399.5 406.9 L529.5 331.8" fill="none" stroke="#fde8df" stroke-width="0.9" stroke-linejoin="round" stroke-linecap="round"/>
<ellipse cx="414.2" cy="349.2" rx="21.5" ry="12.6" fill="none" stroke="#3a3a3a" stroke-width="0.9"/>
<path d="M393.5 350 A20.7 12.4 0 0 1 434.9 350" fill="none" stroke="#555" stroke-width="0.7"/>
<polyline points="256.6,379.7 302,353.5" fill="none" stroke="#262626" stroke-width="1.15"/>
<polyline points="433.5,277.4 452.1,266.7 557.7,327.7" fill="none" stroke="#262626" stroke-width="1.15" stroke-linejoin="round"/>
<path d="M302 346.7 L306.6 353.8 L315.1 339.1 L319.7 346.2 L328.3 331.5 L332.9 338.6 L341.4 323.9 L346 331 L354.6 316.3 L359.2 323.4 L367.7 308.7 L372.3 315.8 L380.9 301.1 L385.5 308.2 L394.1 293.4 L398.7 300.6 L407.2 285.8 L411.8 293 L420.4 278.2 L425 285.4 L433.5 270.6" fill="none" stroke="#f09a78" stroke-width="2.0" stroke-linejoin="round" stroke-linecap="round"/>
<path d="M302 346.7 L306.6 353.8 L315.1 339.1 L319.7 346.2 L328.3 331.5 L332.9 338.6 L341.4 323.9 L346 331 L354.6 316.3 L359.2 323.4 L367.7 308.7 L372.3 315.8 L380.9 301.1 L385.5 308.2 L394.1 293.4 L398.7 300.6 L407.2 285.8 L411.8 293 L420.4 278.2 L425 285.4 L433.5 270.6" fill="none" stroke="#fde8df" stroke-width="0.6" stroke-linejoin="round" stroke-linecap="round"/>
<line x1="302" y1="350.1" x2="433.5" y2="274" stroke="#777" stroke-width="0.7" stroke-dasharray="2.5 2"/>
<line x1="302" y1="346.7" x2="433.5" y2="270.6" stroke="#1e1e1e" stroke-width="1.4"/>
<line x1="302" y1="353.5" x2="302" y2="346.7" stroke="#1e1e1e" stroke-width="1.2"/>
<line x1="433.5" y1="277.4" x2="433.5" y2="270.6" stroke="#1e1e1e" stroke-width="1.2"/>
<polygon points="256.6,379.7 362.2,440.7 557.7,327.7 557.7,329.4 362.2,442.4 256.6,381.4" fill="#a8a8a8" stroke="none" stroke-width="0"/>
<polyline points="256.6,379.7 362.2,440.7 557.7,327.7" fill="none" stroke="#1e1e1e" stroke-width="0.95"/>
<polyline points="256.6,381.4 362.2,442.4 557.7,329.4" fill="none" stroke="#4a4a4a" stroke-width="0.7"/>
<line x1="262.5" y1="376.3" x2="262.5" y2="368.3" stroke="#3a3633" stroke-width="1.7" stroke-linecap="round"/>
<line x1="270.1" y1="371.9" x2="270.1" y2="363.9" stroke="#3a3633" stroke-width="1.7" stroke-linecap="round"/>
<line x1="286.3" y1="362.5" x2="286.3" y2="354.5" stroke="#3a3633" stroke-width="1.7" stroke-linecap="round"/>
<line x1="447" y1="269.6" x2="447" y2="261.6" stroke="#3a3633" stroke-width="1.7" stroke-linecap="round"/>
<line x1="453.3" y1="266.7" x2="453.3" y2="257.7" stroke="#3a3633" stroke-width="1.7" stroke-linecap="round"/>
<line x1="471.1" y1="277.7" x2="471.1" y2="269.7" stroke="#3a3633" stroke-width="1.7" stroke-linecap="round"/>
<line x1="487.5" y1="287.1" x2="487.5" y2="279.1" stroke="#3a3633" stroke-width="1.7" stroke-linecap="round"/>
<line x1="503.3" y1="296.3" x2="503.3" y2="288.3" stroke="#3a3633" stroke-width="1.7" stroke-linecap="round"/>
<line x1="519.5" y1="305.6" x2="519.5" y2="297.6" stroke="#3a3633" stroke-width="1.7" stroke-linecap="round"/>
<line x1="535.8" y1="315.1" x2="535.8" y2="307.1" stroke="#3a3633" stroke-width="1.7" stroke-linecap="round"/>
<line x1="551.8" y1="324.3" x2="551.8" y2="316.3" stroke="#3a3633" stroke-width="1.7" stroke-linecap="round"/>
<rect x="267.9" y="533.1" width="1.7" height="11" rx="0.8" fill="#fdebe3" stroke="#f2a07f" stroke-width="0.6"/>
<rect x="300.5" y="551.9" width="1.7" height="11" rx="0.8" fill="#fdebe3" stroke="#f2a07f" stroke-width="0.6"/>
<rect x="333" y="570.7" width="1.7" height="11" rx="0.8" fill="#fdebe3" stroke="#f2a07f" stroke-width="0.6"/>
<rect x="292.4" y="537.8" width="1.7" height="11" rx="0.8" fill="#fdebe3" stroke="#f2a07f" stroke-width="0.6"/>
<rect x="284.2" y="523.7" width="1.7" height="11" rx="0.8" fill="#fdebe3" stroke="#f2a07f" stroke-width="0.6"/>
<rect x="316.8" y="542.5" width="1.7" height="11" rx="0.8" fill="#fdebe3" stroke="#f2a07f" stroke-width="0.6"/>
<rect x="349.3" y="561.3" width="1.7" height="11" rx="0.8" fill="#fdebe3" stroke="#f2a07f" stroke-width="0.6"/>
<rect x="341.2" y="547.2" width="1.7" height="11" rx="0.8" fill="#fdebe3" stroke="#f2a07f" stroke-width="0.6"/>
<rect x="357.4" y="556.6" width="1.7" height="11" rx="0.8" fill="#fdebe3" stroke="#f2a07f" stroke-width="0.6"/>
<rect x="300.5" y="514.3" width="1.7" height="11" rx="0.8" fill="#fdebe3" stroke="#f2a07f" stroke-width="0.6"/>
<rect x="333.1" y="533.1" width="1.7" height="11" rx="0.8" fill="#fdebe3" stroke="#f2a07f" stroke-width="0.6"/>
<rect x="381.8" y="561.3" width="1.7" height="11" rx="0.8" fill="#fdebe3" stroke="#f2a07f" stroke-width="0.6"/>
<rect x="308.7" y="509.6" width="1.7" height="11" rx="0.8" fill="#fdebe3" stroke="#f2a07f" stroke-width="0.6"/>
<rect x="324.9" y="519" width="1.7" height="11" rx="0.8" fill="#fdebe3" stroke="#f2a07f" stroke-width="0.6"/>
<rect x="341.2" y="528.4" width="1.7" height="11" rx="0.8" fill="#fdebe3" stroke="#f2a07f" stroke-width="0.6"/>
<rect x="357.5" y="537.8" width="1.7" height="11" rx="0.8" fill="#fdebe3" stroke="#f2a07f" stroke-width="0.6"/>
<rect x="373.7" y="547.2" width="1.7" height="11" rx="0.8" fill="#fdebe3" stroke="#f2a07f" stroke-width="0.6"/>
<rect x="316.8" y="504.9" width="1.7" height="11" rx="0.8" fill="#fdebe3" stroke="#f2a07f" stroke-width="0.6"/>
<rect x="333.1" y="514.3" width="1.7" height="11" rx="0.8" fill="#fdebe3" stroke="#f2a07f" stroke-width="0.6"/>
<rect x="365.6" y="533.1" width="1.7" height="11" rx="0.8" fill="#fdebe3" stroke="#f2a07f" stroke-width="0.6"/>
<rect x="406.3" y="547.2" width="1.7" height="11" rx="0.8" fill="#fdebe3" stroke="#f2a07f" stroke-width="0.6"/>
<rect x="349.4" y="504.9" width="1.7" height="11" rx="0.8" fill="#fdebe3" stroke="#f2a07f" stroke-width="0.6"/>
<rect x="365.6" y="514.3" width="1.7" height="11" rx="0.8" fill="#fdebe3" stroke="#f2a07f" stroke-width="0.6"/>
<rect x="398.2" y="533.1" width="1.7" height="11" rx="0.8" fill="#fdebe3" stroke="#f2a07f" stroke-width="0.6"/>
<rect x="414.4" y="542.4" width="1.7" height="11" rx="0.8" fill="#fdebe3" stroke="#f2a07f" stroke-width="0.6"/>
<rect x="341.3" y="490.8" width="1.7" height="11" rx="0.8" fill="#fdebe3" stroke="#f2a07f" stroke-width="0.6"/>
<rect x="357.5" y="500.2" width="1.7" height="11" rx="0.8" fill="#fdebe3" stroke="#f2a07f" stroke-width="0.6"/>
<rect x="373.8" y="509.6" width="1.7" height="11" rx="0.8" fill="#fdebe3" stroke="#f2a07f" stroke-width="0.6"/>
<rect x="422.6" y="537.7" width="1.7" height="11" rx="0.8" fill="#fdebe3" stroke="#f2a07f" stroke-width="0.6"/>
<rect x="365.7" y="495.5" width="1.7" height="11" rx="0.8" fill="#fdebe3" stroke="#f2a07f" stroke-width="0.6"/>
<rect x="430.7" y="533" width="1.7" height="11" rx="0.8" fill="#fdebe3" stroke="#f2a07f" stroke-width="0.6"/>
<rect x="438.9" y="528.3" width="1.7" height="11" rx="0.8" fill="#fdebe3" stroke="#f2a07f" stroke-width="0.6"/>
<rect x="365.7" y="476.6" width="1.7" height="11" rx="0.8" fill="#fdebe3" stroke="#f2a07f" stroke-width="0.6"/>
<rect x="382" y="486" width="1.7" height="11" rx="0.8" fill="#fdebe3" stroke="#f2a07f" stroke-width="0.6"/>
<rect x="447" y="523.6" width="1.7" height="11" rx="0.8" fill="#fdebe3" stroke="#f2a07f" stroke-width="0.6"/>
<rect x="373.9" y="471.9" width="1.7" height="11" rx="0.8" fill="#fdebe3" stroke="#f2a07f" stroke-width="0.6"/>
<rect x="382" y="467.2" width="1.7" height="11" rx="0.8" fill="#fdebe3" stroke="#f2a07f" stroke-width="0.6"/>
<rect x="398.3" y="476.6" width="1.7" height="11" rx="0.8" fill="#fdebe3" stroke="#f2a07f" stroke-width="0.6"/>
<rect x="463.3" y="514.2" width="1.7" height="11" rx="0.8" fill="#fdebe3" stroke="#f2a07f" stroke-width="0.6"/>
<rect x="390.1" y="462.5" width="1.7" height="11" rx="0.8" fill="#fdebe3" stroke="#f2a07f" stroke-width="0.6"/>
<rect x="414.6" y="448.4" width="1.7" height="11" rx="0.8" fill="#fdebe3" stroke="#f2a07f" stroke-width="0.6"/>
<rect x="430.8" y="457.8" width="1.7" height="11" rx="0.8" fill="#fdebe3" stroke="#f2a07f" stroke-width="0.6"/>
<rect x="463.4" y="476.6" width="1.7" height="11" rx="0.8" fill="#fdebe3" stroke="#f2a07f" stroke-width="0.6"/>
<rect x="479.6" y="486" width="1.7" height="11" rx="0.8" fill="#fdebe3" stroke="#f2a07f" stroke-width="0.6"/>
<rect x="439" y="453.1" width="1.7" height="11" rx="0.8" fill="#fdebe3" stroke="#f2a07f" stroke-width="0.6"/>
<rect x="455.3" y="462.5" width="1.7" height="11" rx="0.8" fill="#fdebe3" stroke="#f2a07f" stroke-width="0.6"/>
<rect x="471.5" y="471.9" width="1.7" height="11" rx="0.8" fill="#fdebe3" stroke="#f2a07f" stroke-width="0.6"/>
<rect x="487.8" y="481.3" width="1.7" height="11" rx="0.8" fill="#fdebe3" stroke="#f2a07f" stroke-width="0.6"/>
<rect x="504" y="490.7" width="1.7" height="11" rx="0.8" fill="#fdebe3" stroke="#f2a07f" stroke-width="0.6"/>
<rect x="447.1" y="448.4" width="1.7" height="11" rx="0.8" fill="#fdebe3" stroke="#f2a07f" stroke-width="0.6"/>
<rect x="463.4" y="457.8" width="1.7" height="11" rx="0.8" fill="#fdebe3" stroke="#f2a07f" stroke-width="0.6"/>
<rect x="439" y="434.3" width="1.7" height="11" rx="0.8" fill="#fdebe3" stroke="#f2a07f" stroke-width="0.6"/>
<rect x="471.5" y="453.1" width="1.7" height="11" rx="0.8" fill="#fdebe3" stroke="#f2a07f" stroke-width="0.6"/>
<rect x="447.2" y="429.6" width="1.7" height="11" rx="0.8" fill="#fdebe3" stroke="#f2a07f" stroke-width="0.6"/>
<rect x="463.4" y="438.9" width="1.7" height="11" rx="0.8" fill="#fdebe3" stroke="#f2a07f" stroke-width="0.6"/>
<rect x="455.3" y="424.8" width="1.7" height="11" rx="0.8" fill="#fdebe3" stroke="#f2a07f" stroke-width="0.6"/>
<rect x="471.6" y="434.2" width="1.7" height="11" rx="0.8" fill="#fdebe3" stroke="#f2a07f" stroke-width="0.6"/>
<rect x="504.1" y="453" width="1.7" height="11" rx="0.8" fill="#fdebe3" stroke="#f2a07f" stroke-width="0.6"/>
<rect x="520.4" y="462.4" width="1.7" height="11" rx="0.8" fill="#fdebe3" stroke="#f2a07f" stroke-width="0.6"/>
<path d="M284.6 526.8 L289.1 540.8 L293.6 526.8 L298.1 540.8 L302.6 526.8" fill="none" stroke="#f09a78" stroke-width="2.1" stroke-linejoin="round" stroke-linecap="round"/>
<path d="M284.6 526.8 L289.1 540.8 L293.6 526.8 L298.1 540.8 L302.6 526.8" fill="none" stroke="#fde8df" stroke-width="0.7" stroke-linejoin="round" stroke-linecap="round"/>
<path d="M334.1 554.8 L338.6 568.8 L343.1 554.8 L347.6 568.8 L352.1 554.8" fill="none" stroke="#f09a78" stroke-width="2.1" stroke-linejoin="round" stroke-linecap="round"/>
<path d="M334.1 554.8 L338.6 568.8 L343.1 554.8 L347.6 568.8 L352.1 554.8" fill="none" stroke="#fde8df" stroke-width="0.7" stroke-linejoin="round" stroke-linecap="round"/>
<path d="M429.9 436.3 L437.7 450.3 L445.4 436.3 L453.2 450.3 L460.9 436.3" fill="none" stroke="#f09a78" stroke-width="2.1" stroke-linejoin="round" stroke-linecap="round"/>
<path d="M429.9 436.3 L437.7 450.3 L445.4 436.3 L453.2 450.3 L460.9 436.3" fill="none" stroke="#fde8df" stroke-width="0.7" stroke-linejoin="round" stroke-linecap="round"/>
<path d="M431.9 446.3 L439.7 460.3 L447.4 446.3 L455.2 460.3 L462.9 446.3" fill="none" stroke="#f09a78" stroke-width="2.1" stroke-linejoin="round" stroke-linecap="round"/>
<path d="M431.9 446.3 L439.7 460.3 L447.4 446.3 L455.2 460.3 L462.9 446.3" fill="none" stroke="#fde8df" stroke-width="0.7" stroke-linejoin="round" stroke-linecap="round"/>
<path d="M479.4 457.8 L487.7 472.8 L495.9 457.8 L504.2 472.8 L512.4 457.8" fill="none" stroke="#f09a78" stroke-width="2.1" stroke-linejoin="round" stroke-linecap="round"/>
<path d="M479.4 457.8 L487.7 472.8 L495.9 457.8 L504.2 472.8 L512.4 457.8" fill="none" stroke="#fde8df" stroke-width="0.7" stroke-linejoin="round" stroke-linecap="round"/>
<path d="M481.4 467.8 L489.7 482.8 L497.9 467.8 L506.2 482.8 L514.4 467.8" fill="none" stroke="#f09a78" stroke-width="2.1" stroke-linejoin="round" stroke-linecap="round"/>
<path d="M481.4 467.8 L489.7 482.8 L497.9 467.8 L506.2 482.8 L514.4 467.8" fill="none" stroke="#fde8df" stroke-width="0.7" stroke-linejoin="round" stroke-linecap="round"/>
<path d="M332.5 521.3 L334.9 529.5 L345.5 513.8 L347.9 522 L358.5 506.3 L360.9 514.5 L371.5 498.7 L373.9 507 L384.5 491.2 L386.9 499.5 L397.5 483.7 L399.9 492 L410.5 476.2 L412.9 484.4 L423.5 468.7 L425.9 476.9 L436.5 461.2 L438.9 469.4 L449.5 453.6 L451.9 461.9 L462.5 446.1" fill="none" stroke="#f09a78" stroke-width="2.2" stroke-linejoin="round" stroke-linecap="round"/>
<path d="M332.5 521.3 L334.9 529.5 L345.5 513.8 L347.9 522 L358.5 506.3 L360.9 514.5 L371.5 498.7 L373.9 507 L384.5 491.2 L386.9 499.5 L397.5 483.7 L399.9 492 L410.5 476.2 L412.9 484.4 L423.5 468.7 L425.9 476.9 L436.5 461.2 L438.9 469.4 L449.5 453.6 L451.9 461.9 L462.5 446.1" fill="none" stroke="#fde8df" stroke-width="0.7" stroke-linejoin="round" stroke-linecap="round"/>
<path d="M332.5 521.3 L462.5 446.1" fill="none" stroke="#f09a78" stroke-width="2.6" stroke-linejoin="round" stroke-linecap="round"/>
<path d="M332.5 521.3 L462.5 446.1" fill="none" stroke="#fde8df" stroke-width="0.9" stroke-linejoin="round" stroke-linecap="round"/>
<path d="M365.2 540.2 L367.6 548.4 L378.2 532.7 L380.6 540.9 L391.2 525.2 L393.6 533.4 L404.2 517.6 L406.6 525.9 L417.2 510.1 L419.6 518.4 L430.2 502.6 L432.6 510.9 L443.2 495.1 L445.6 503.3 L456.2 487.6 L458.6 495.8 L469.2 480.1 L471.6 488.3 L482.2 472.6 L484.6 480.8 L495.2 465" fill="none" stroke="#f09a78" stroke-width="2.2" stroke-linejoin="round" stroke-linecap="round"/>
<path d="M365.2 540.2 L367.6 548.4 L378.2 532.7 L380.6 540.9 L391.2 525.2 L393.6 533.4 L404.2 517.6 L406.6 525.9 L417.2 510.1 L419.6 518.4 L430.2 502.6 L432.6 510.9 L443.2 495.1 L445.6 503.3 L456.2 487.6 L458.6 495.8 L469.2 480.1 L471.6 488.3 L482.2 472.6 L484.6 480.8 L495.2 465" fill="none" stroke="#fde8df" stroke-width="0.7" stroke-linejoin="round" stroke-linecap="round"/>
<path d="M365.2 540.2 L495.2 465" fill="none" stroke="#f09a78" stroke-width="2.6" stroke-linejoin="round" stroke-linecap="round"/>
<path d="M365.2 540.2 L495.2 465" fill="none" stroke="#fde8df" stroke-width="0.9" stroke-linejoin="round" stroke-linecap="round"/>
<path d="M399.5 560 L401.9 568.3 L412.5 552.5 L414.9 560.7 L425.5 545 L427.9 553.2 L438.5 537.5 L440.9 545.7 L451.5 530 L453.9 538.2 L464.5 522.4 L466.9 530.7 L477.5 514.9 L479.9 523.2 L490.5 507.4 L492.9 515.7 L503.5 499.9 L505.9 508.1 L516.5 492.4 L518.9 500.6 L529.5 484.9" fill="none" stroke="#f09a78" stroke-width="2.2" stroke-linejoin="round" stroke-linecap="round"/>
<path d="M399.5 560 L401.9 568.3 L412.5 552.5 L414.9 560.7 L425.5 545 L427.9 553.2 L438.5 537.5 L440.9 545.7 L451.5 530 L453.9 538.2 L464.5 522.4 L466.9 530.7 L477.5 514.9 L479.9 523.2 L490.5 507.4 L492.9 515.7 L503.5 499.9 L505.9 508.1 L516.5 492.4 L518.9 500.6 L529.5 484.9" fill="none" stroke="#fde8df" stroke-width="0.7" stroke-linejoin="round" stroke-linecap="round"/>
<path d="M399.5 560 L529.5 484.9" fill="none" stroke="#f09a78" stroke-width="2.6" stroke-linejoin="round" stroke-linecap="round"/>
<path d="M399.5 560 L529.5 484.9" fill="none" stroke="#fde8df" stroke-width="0.9" stroke-linejoin="round" stroke-linecap="round"/>
<ellipse cx="414.2" cy="502.3" rx="21.5" ry="12.6" fill="none" stroke="#3a3a3a" stroke-width="0.9"/>
<path d="M393.5 503.1 A20.7 12.4 0 0 1 434.9 503.1" fill="none" stroke="#555" stroke-width="0.7"/>
<polyline points="256.6,532.8 302,506.6" fill="none" stroke="#262626" stroke-width="1.15"/>
<polyline points="433.5,430.5 452.1,419.8 557.7,480.8" fill="none" stroke="#262626" stroke-width="1.15" stroke-linejoin="round"/>
<path d="M302 499.8 L306.6 506.9 L315.1 492.2 L319.7 499.3 L328.3 484.6 L332.9 491.7 L341.4 477 L346 484.1 L354.6 469.4 L359.2 476.5 L367.7 461.8 L372.3 468.9 L380.9 454.2 L385.5 461.3 L394.1 446.5 L398.7 453.7 L407.2 438.9 L411.8 446.1 L420.4 431.3 L425 438.5 L433.5 423.7" fill="none" stroke="#f09a78" stroke-width="2.0" stroke-linejoin="round" stroke-linecap="round"/>
<path d="M302 499.8 L306.6 506.9 L315.1 492.2 L319.7 499.3 L328.3 484.6 L332.9 491.7 L341.4 477 L346 484.1 L354.6 469.4 L359.2 476.5 L367.7 461.8 L372.3 468.9 L380.9 454.2 L385.5 461.3 L394.1 446.5 L398.7 453.7 L407.2 438.9 L411.8 446.1 L420.4 431.3 L425 438.5 L433.5 423.7" fill="none" stroke="#fde8df" stroke-width="0.6" stroke-linejoin="round" stroke-linecap="round"/>
<line x1="302" y1="503.2" x2="433.5" y2="427.1" stroke="#777" stroke-width="0.7" stroke-dasharray="2.5 2"/>
<line x1="302" y1="499.8" x2="433.5" y2="423.7" stroke="#1e1e1e" stroke-width="1.4"/>
<line x1="302" y1="506.6" x2="302" y2="499.8" stroke="#1e1e1e" stroke-width="1.2"/>
<line x1="433.5" y1="430.5" x2="433.5" y2="423.7" stroke="#1e1e1e" stroke-width="1.2"/>
<polygon points="256.6,532.8 362.2,593.8 420.9,559.9 420.9,557.4 420.9,559.4 420.9,561.9 362.2,595.8 256.6,534.8" fill="#a8a8a8" stroke="none" stroke-width="0"/>
<polyline points="256.6,532.8 362.2,593.8 420.9,559.9 420.9,557.4" fill="none" stroke="#1e1e1e" stroke-width="0.95"/>
<polyline points="256.6,534.8 362.2,595.8 420.9,561.9 420.9,559.4" fill="none" stroke="#4a4a4a" stroke-width="0.7"/>
<polygon points="420.9,557.4 503,509.9 503,512.4 503,514.4 503,511.9 420.9,559.4" fill="#a8a8a8" stroke="none" stroke-width="0"/>
<polyline points="420.9,557.4 503,509.9 503,512.4" fill="none" stroke="#1e1e1e" stroke-width="0.95"/>
<polyline points="420.9,559.4 503,511.9 503,514.4" fill="none" stroke="#4a4a4a" stroke-width="0.7"/>
<polygon points="503,512.4 557.7,480.8 557.7,482.8 503,514.4" fill="#a8a8a8" stroke="none" stroke-width="0"/>
<polyline points="503,512.4 557.7,480.8" fill="none" stroke="#1e1e1e" stroke-width="0.95"/>
<polyline points="503,514.4 557.7,482.8" fill="none" stroke="#4a4a4a" stroke-width="0.7"/>
<line x1="262.5" y1="529.4" x2="262.5" y2="521.4" stroke="#3a3633" stroke-width="1.7" stroke-linecap="round"/>
<line x1="270.1" y1="525" x2="270.1" y2="517" stroke="#3a3633" stroke-width="1.7" stroke-linecap="round"/>
<line x1="286.3" y1="515.6" x2="286.3" y2="507.6" stroke="#3a3633" stroke-width="1.7" stroke-linecap="round"/>
<line x1="447" y1="422.7" x2="447" y2="414.7" stroke="#3a3633" stroke-width="1.7" stroke-linecap="round"/>
<line x1="453.3" y1="419.8" x2="453.3" y2="410.8" stroke="#3a3633" stroke-width="1.7" stroke-linecap="round"/>
<line x1="471.1" y1="430.8" x2="471.1" y2="422.8" stroke="#3a3633" stroke-width="1.7" stroke-linecap="round"/>
<line x1="487.5" y1="440.2" x2="487.5" y2="432.2" stroke="#3a3633" stroke-width="1.7" stroke-linecap="round"/>
<line x1="503.3" y1="449.4" x2="503.3" y2="441.4" stroke="#3a3633" stroke-width="1.7" stroke-linecap="round"/>
<line x1="519.5" y1="458.7" x2="519.5" y2="450.7" stroke="#3a3633" stroke-width="1.7" stroke-linecap="round"/>
<line x1="535.8" y1="468.2" x2="535.8" y2="460.2" stroke="#3a3633" stroke-width="1.7" stroke-linecap="round"/>
<line x1="551.8" y1="477.4" x2="551.8" y2="469.4" stroke="#3a3633" stroke-width="1.7" stroke-linecap="round"/>
<use href="#roof" x="0" y="0"/>
<rect x="300.5" y="703.7" width="1.7" height="11" rx="0.8" fill="#fdebe3" stroke="#f2a07f" stroke-width="0.6"/>
<rect x="349.3" y="731.9" width="1.7" height="11" rx="0.8" fill="#fdebe3" stroke="#f2a07f" stroke-width="0.6"/>
<rect x="308.6" y="699" width="1.7" height="11" rx="0.8" fill="#fdebe3" stroke="#f2a07f" stroke-width="0.6"/>
<rect x="357.4" y="727.2" width="1.7" height="11" rx="0.8" fill="#fdebe3" stroke="#f2a07f" stroke-width="0.6"/>
<rect x="284.2" y="675.5" width="1.7" height="11" rx="0.8" fill="#fdebe3" stroke="#f2a07f" stroke-width="0.6"/>
<rect x="333" y="703.7" width="1.7" height="11" rx="0.8" fill="#fdebe3" stroke="#f2a07f" stroke-width="0.6"/>
<rect x="365.6" y="722.5" width="1.7" height="11" rx="0.8" fill="#fdebe3" stroke="#f2a07f" stroke-width="0.6"/>
<rect x="292.4" y="670.8" width="1.7" height="11" rx="0.8" fill="#fdebe3" stroke="#f2a07f" stroke-width="0.6"/>
<rect x="308.6" y="680.2" width="1.7" height="11" rx="0.8" fill="#fdebe3" stroke="#f2a07f" stroke-width="0.6"/>
<rect x="324.9" y="689.6" width="1.7" height="11" rx="0.8" fill="#fdebe3" stroke="#f2a07f" stroke-width="0.6"/>
<rect x="341.2" y="699" width="1.7" height="11" rx="0.8" fill="#fdebe3" stroke="#f2a07f" stroke-width="0.6"/>
<rect x="357.4" y="708.4" width="1.7" height="11" rx="0.8" fill="#fdebe3" stroke="#f2a07f" stroke-width="0.6"/>
<rect x="373.7" y="717.8" width="1.7" height="11" rx="0.8" fill="#fdebe3" stroke="#f2a07f" stroke-width="0.6"/>
<rect x="300.5" y="666.1" width="1.7" height="11" rx="0.8" fill="#fdebe3" stroke="#f2a07f" stroke-width="0.6"/>
<rect x="316.8" y="675.5" width="1.7" height="11" rx="0.8" fill="#fdebe3" stroke="#f2a07f" stroke-width="0.6"/>
<rect x="381.8" y="713.1" width="1.7" height="11" rx="0.8" fill="#fdebe3" stroke="#f2a07f" stroke-width="0.6"/>
<rect x="308.7" y="661.4" width="1.7" height="11" rx="0.8" fill="#fdebe3" stroke="#f2a07f" stroke-width="0.6"/>
<rect x="341.2" y="680.2" width="1.7" height="11" rx="0.8" fill="#fdebe3" stroke="#f2a07f" stroke-width="0.6"/>
<rect x="373.7" y="699" width="1.7" height="11" rx="0.8" fill="#fdebe3" stroke="#f2a07f" stroke-width="0.6"/>
<rect x="349.4" y="675.5" width="1.7" height="11" rx="0.8" fill="#fdebe3" stroke="#f2a07f" stroke-width="0.6"/>
<rect x="381.9" y="694.3" width="1.7" height="11" rx="0.8" fill="#fdebe3" stroke="#f2a07f" stroke-width="0.6"/>
<rect x="398.1" y="703.7" width="1.7" height="11" rx="0.8" fill="#fdebe3" stroke="#f2a07f" stroke-width="0.6"/>
<rect x="325" y="652" width="1.7" height="11" rx="0.8" fill="#fdebe3" stroke="#f2a07f" stroke-width="0.6"/>
<rect x="341.2" y="661.4" width="1.7" height="11" rx="0.8" fill="#fdebe3" stroke="#f2a07f" stroke-width="0.6"/>
<rect x="357.5" y="670.8" width="1.7" height="11" rx="0.8" fill="#fdebe3" stroke="#f2a07f" stroke-width="0.6"/>
<rect x="373.8" y="680.2" width="1.7" height="11" rx="0.8" fill="#fdebe3" stroke="#f2a07f" stroke-width="0.6"/>
<rect x="406.3" y="699" width="1.7" height="11" rx="0.8" fill="#fdebe3" stroke="#f2a07f" stroke-width="0.6"/>
<rect x="333.1" y="647.3" width="1.7" height="11" rx="0.8" fill="#fdebe3" stroke="#f2a07f" stroke-width="0.6"/>
<rect x="349.4" y="656.7" width="1.7" height="11" rx="0.8" fill="#fdebe3" stroke="#f2a07f" stroke-width="0.6"/>
<rect x="422.7" y="614.3" width="1.7" height="11" rx="0.8" fill="#fdebe3" stroke="#f2a07f" stroke-width="0.6"/>
<rect x="414.6" y="600.2" width="1.7" height="11" rx="0.8" fill="#fdebe3" stroke="#f2a07f" stroke-width="0.6"/>
<rect x="495.9" y="647.2" width="1.7" height="11" rx="0.8" fill="#fdebe3" stroke="#f2a07f" stroke-width="0.6"/>
<rect x="455.3" y="614.3" width="1.7" height="11" rx="0.8" fill="#fdebe3" stroke="#f2a07f" stroke-width="0.6"/>
<rect x="487.8" y="633.1" width="1.7" height="11" rx="0.8" fill="#fdebe3" stroke="#f2a07f" stroke-width="0.6"/>
<rect x="504" y="642.5" width="1.7" height="11" rx="0.8" fill="#fdebe3" stroke="#f2a07f" stroke-width="0.6"/>
<rect x="430.9" y="590.8" width="1.7" height="11" rx="0.8" fill="#fdebe3" stroke="#f2a07f" stroke-width="0.6"/>
<rect x="447.1" y="600.2" width="1.7" height="11" rx="0.8" fill="#fdebe3" stroke="#f2a07f" stroke-width="0.6"/>
<rect x="479.7" y="619" width="1.7" height="11" rx="0.8" fill="#fdebe3" stroke="#f2a07f" stroke-width="0.6"/>
<rect x="487.8" y="614.2" width="1.7" height="11" rx="0.8" fill="#fdebe3" stroke="#f2a07f" stroke-width="0.6"/>
<rect x="504.1" y="623.6" width="1.7" height="11" rx="0.8" fill="#fdebe3" stroke="#f2a07f" stroke-width="0.6"/>
<rect x="463.4" y="590.7" width="1.7" height="11" rx="0.8" fill="#fdebe3" stroke="#f2a07f" stroke-width="0.6"/>
<rect x="479.7" y="600.1" width="1.7" height="11" rx="0.8" fill="#fdebe3" stroke="#f2a07f" stroke-width="0.6"/>
<rect x="528.5" y="628.3" width="1.7" height="11" rx="0.8" fill="#fdebe3" stroke="#f2a07f" stroke-width="0.6"/>
<rect x="504.1" y="604.8" width="1.7" height="11" rx="0.8" fill="#fdebe3" stroke="#f2a07f" stroke-width="0.6"/>
<path d="M284.6 678.6 L289.1 692.6 L293.6 678.6 L298.1 692.6 L302.6 678.6" fill="none" stroke="#f09a78" stroke-width="2.1" stroke-linejoin="round" stroke-linecap="round"/>
<path d="M284.6 678.6 L289.1 692.6 L293.6 678.6 L298.1 692.6 L302.6 678.6" fill="none" stroke="#fde8df" stroke-width="0.7" stroke-linejoin="round" stroke-linecap="round"/>
<path d="M317.6 654.6 L323.1 670.6 L328.6 654.6 L334.1 670.6 L339.6 654.6" fill="none" stroke="#f09a78" stroke-width="2.1" stroke-linejoin="round" stroke-linecap="round"/>
<path d="M317.6 654.6 L323.1 670.6 L328.6 654.6 L334.1 670.6 L339.6 654.6" fill="none" stroke="#fde8df" stroke-width="0.7" stroke-linejoin="round" stroke-linecap="round"/>
<path d="M319.6 664.6 L325.1 680.6 L330.6 664.6 L336.1 680.6 L341.6 664.6" fill="none" stroke="#f09a78" stroke-width="2.1" stroke-linejoin="round" stroke-linecap="round"/>
<path d="M319.6 664.6 L325.1 680.6 L330.6 664.6 L336.1 680.6 L341.6 664.6" fill="none" stroke="#fde8df" stroke-width="0.7" stroke-linejoin="round" stroke-linecap="round"/>
<path d="M334.1 706.6 L338.6 720.6 L343.1 706.6 L347.6 720.6 L352.1 706.6" fill="none" stroke="#f09a78" stroke-width="2.1" stroke-linejoin="round" stroke-linecap="round"/>
<path d="M334.1 706.6 L338.6 720.6 L343.1 706.6 L347.6 720.6 L352.1 706.6" fill="none" stroke="#fde8df" stroke-width="0.7" stroke-linejoin="round" stroke-linecap="round"/>
<path d="M367.1 677.1 L375.1 692.1 L383.1 677.1 L391.1 692.1 L399.1 677.1" fill="none" stroke="#f09a78" stroke-width="2.1" stroke-linejoin="round" stroke-linecap="round"/>
<path d="M367.1 677.1 L375.1 692.1 L383.1 677.1 L391.1 692.1 L399.1 677.1" fill="none" stroke="#fde8df" stroke-width="0.7" stroke-linejoin="round" stroke-linecap="round"/>
<path d="M369.1 687.1 L377.1 702.1 L385.1 687.1 L393.1 702.1 L401.1 687.1" fill="none" stroke="#f09a78" stroke-width="2.1" stroke-linejoin="round" stroke-linecap="round"/>
<path d="M369.1 687.1 L377.1 702.1 L385.1 687.1 L393.1 702.1 L401.1 687.1" fill="none" stroke="#fde8df" stroke-width="0.7" stroke-linejoin="round" stroke-linecap="round"/>
<path d="M429.9 588.1 L437.7 602.1 L445.4 588.1 L453.2 602.1 L460.9 588.1" fill="none" stroke="#f09a78" stroke-width="2.1" stroke-linejoin="round" stroke-linecap="round"/>
<path d="M429.9 588.1 L437.7 602.1 L445.4 588.1 L453.2 602.1 L460.9 588.1" fill="none" stroke="#fde8df" stroke-width="0.7" stroke-linejoin="round" stroke-linecap="round"/>
<path d="M431.9 598.1 L439.7 612.1 L447.4 598.1 L455.2 612.1 L462.9 598.1" fill="none" stroke="#f09a78" stroke-width="2.1" stroke-linejoin="round" stroke-linecap="round"/>
<path d="M431.9 598.1 L439.7 612.1 L447.4 598.1 L455.2 612.1 L462.9 598.1" fill="none" stroke="#fde8df" stroke-width="0.7" stroke-linejoin="round" stroke-linecap="round"/>
<path d="M479.4 609.6 L487.7 624.6 L495.9 609.6 L504.2 624.6 L512.4 609.6" fill="none" stroke="#f09a78" stroke-width="2.1" stroke-linejoin="round" stroke-linecap="round"/>
<path d="M479.4 609.6 L487.7 624.6 L495.9 609.6 L504.2 624.6 L512.4 609.6" fill="none" stroke="#fde8df" stroke-width="0.7" stroke-linejoin="round" stroke-linecap="round"/>
<path d="M481.4 619.6 L489.7 634.6 L497.9 619.6 L506.2 634.6 L514.4 619.6" fill="none" stroke="#f09a78" stroke-width="2.1" stroke-linejoin="round" stroke-linecap="round"/>
<path d="M481.4 619.6 L489.7 634.6 L497.9 619.6 L506.2 634.6 L514.4 619.6" fill="none" stroke="#fde8df" stroke-width="0.7" stroke-linejoin="round" stroke-linecap="round"/>
<polyline points="256.5,684.6 339,636.7" fill="none" stroke="#262626" stroke-width="1.15"/>
<polyline points="398.4,603.2 451.2,573.2 557.2,633.4" fill="none" stroke="#262626" stroke-width="1.15" stroke-linejoin="round"/>
<polygon points="256.5,684.6 362.1,746.5 413.3,716.8 413.3,718.5 362.1,748.2 256.5,686.3" fill="#a8a8a8" stroke="none" stroke-width="0"/>
<polyline points="256.5,684.6 362.1,746.5 413.3,716.8" fill="none" stroke="#1e1e1e" stroke-width="0.95"/>
<polyline points="256.5,686.3 362.1,748.2 413.3,718.5" fill="none" stroke="#4a4a4a" stroke-width="0.7"/>
<polygon points="515.6,658.2 557.2,633.4 557.2,635.1 515.6,659.9" fill="#a8a8a8" stroke="none" stroke-width="0"/>
<polyline points="515.6,658.2 557.2,633.4" fill="none" stroke="#1e1e1e" stroke-width="0.95"/>
<polyline points="515.6,659.9 557.2,635.1" fill="none" stroke="#4a4a4a" stroke-width="0.7"/>
<use href="#hill" x="0" y="0"/>
<line x1="262.5" y1="681.2" x2="262.5" y2="673.2" stroke="#3a3633" stroke-width="1.7" stroke-linecap="round"/>
<line x1="270.1" y1="676.8" x2="270.1" y2="668.8" stroke="#3a3633" stroke-width="1.7" stroke-linecap="round"/>
<line x1="286.3" y1="667.4" x2="286.3" y2="659.4" stroke="#3a3633" stroke-width="1.7" stroke-linecap="round"/>
<line x1="302" y1="658.4" x2="302" y2="650.4" stroke="#3a3633" stroke-width="1.7" stroke-linecap="round"/>
<line x1="317.6" y1="649.3" x2="317.6" y2="641.3" stroke="#3a3633" stroke-width="1.7" stroke-linecap="round"/>
<line x1="415" y1="593.1" x2="415" y2="585.1" stroke="#3a3633" stroke-width="1.7" stroke-linecap="round"/>
<line x1="430.6" y1="584" x2="430.6" y2="576" stroke="#3a3633" stroke-width="1.7" stroke-linecap="round"/>
<line x1="447" y1="574.5" x2="447" y2="566.5" stroke="#3a3633" stroke-width="1.7" stroke-linecap="round"/>
<line x1="453.3" y1="571.6" x2="453.3" y2="562.6" stroke="#3a3633" stroke-width="1.7" stroke-linecap="round"/>
<line x1="471.1" y1="582.6" x2="471.1" y2="574.6" stroke="#3a3633" stroke-width="1.7" stroke-linecap="round"/>
<line x1="487.5" y1="592" x2="487.5" y2="584" stroke="#3a3633" stroke-width="1.7" stroke-linecap="round"/>
<line x1="503.3" y1="601.2" x2="503.3" y2="593.2" stroke="#3a3633" stroke-width="1.7" stroke-linecap="round"/>
<line x1="519.5" y1="610.5" x2="519.5" y2="602.5" stroke="#3a3633" stroke-width="1.7" stroke-linecap="round"/>
<line x1="535.8" y1="620" x2="535.8" y2="612" stroke="#3a3633" stroke-width="1.7" stroke-linecap="round"/>
<line x1="551.8" y1="629.2" x2="551.8" y2="621.2" stroke="#3a3633" stroke-width="1.7" stroke-linecap="round"/>
<rect x="267.9" y="836.3" width="1.7" height="11" rx="0.8" fill="#fdebe3" stroke="#f2a07f" stroke-width="0.6"/>
<rect x="316.7" y="864.5" width="1.7" height="11" rx="0.8" fill="#fdebe3" stroke="#f2a07f" stroke-width="0.6"/>
<rect x="349.3" y="883.3" width="1.7" height="11" rx="0.8" fill="#fdebe3" stroke="#f2a07f" stroke-width="0.6"/>
<rect x="276.1" y="831.6" width="1.7" height="11" rx="0.8" fill="#fdebe3" stroke="#f2a07f" stroke-width="0.6"/>
<rect x="292.4" y="841" width="1.7" height="11" rx="0.8" fill="#fdebe3" stroke="#f2a07f" stroke-width="0.6"/>
<rect x="324.9" y="859.8" width="1.7" height="11" rx="0.8" fill="#fdebe3" stroke="#f2a07f" stroke-width="0.6"/>
<rect x="341.1" y="869.2" width="1.7" height="11" rx="0.8" fill="#fdebe3" stroke="#f2a07f" stroke-width="0.6"/>
<rect x="357.4" y="878.6" width="1.7" height="11" rx="0.8" fill="#fdebe3" stroke="#f2a07f" stroke-width="0.6"/>
<rect x="300.5" y="836.3" width="1.7" height="11" rx="0.8" fill="#fdebe3" stroke="#f2a07f" stroke-width="0.6"/>
<rect x="341.2" y="850.4" width="1.7" height="11" rx="0.8" fill="#fdebe3" stroke="#f2a07f" stroke-width="0.6"/>
<rect x="357.4" y="859.8" width="1.7" height="11" rx="0.8" fill="#fdebe3" stroke="#f2a07f" stroke-width="0.6"/>
<rect x="373.7" y="869.2" width="1.7" height="11" rx="0.8" fill="#fdebe3" stroke="#f2a07f" stroke-width="0.6"/>
<rect x="300.5" y="817.5" width="1.7" height="11" rx="0.8" fill="#fdebe3" stroke="#f2a07f" stroke-width="0.6"/>
<rect x="316.8" y="826.9" width="1.7" height="11" rx="0.8" fill="#fdebe3" stroke="#f2a07f" stroke-width="0.6"/>
<rect x="365.6" y="855.1" width="1.7" height="11" rx="0.8" fill="#fdebe3" stroke="#f2a07f" stroke-width="0.6"/>
<rect x="308.7" y="812.8" width="1.7" height="11" rx="0.8" fill="#fdebe3" stroke="#f2a07f" stroke-width="0.6"/>
<rect x="324.9" y="822.2" width="1.7" height="11" rx="0.8" fill="#fdebe3" stroke="#f2a07f" stroke-width="0.6"/>
<rect x="381.9" y="845.7" width="1.7" height="11" rx="0.8" fill="#fdebe3" stroke="#f2a07f" stroke-width="0.6"/>
<rect x="398.1" y="855.1" width="1.7" height="11" rx="0.8" fill="#fdebe3" stroke="#f2a07f" stroke-width="0.6"/>
<rect x="325" y="803.4" width="1.7" height="11" rx="0.8" fill="#fdebe3" stroke="#f2a07f" stroke-width="0.6"/>
<rect x="341.2" y="812.8" width="1.7" height="11" rx="0.8" fill="#fdebe3" stroke="#f2a07f" stroke-width="0.6"/>
<rect x="357.5" y="822.2" width="1.7" height="11" rx="0.8" fill="#fdebe3" stroke="#f2a07f" stroke-width="0.6"/>
<rect x="349.4" y="808.1" width="1.7" height="11" rx="0.8" fill="#fdebe3" stroke="#f2a07f" stroke-width="0.6"/>
<rect x="365.6" y="817.5" width="1.7" height="11" rx="0.8" fill="#fdebe3" stroke="#f2a07f" stroke-width="0.6"/>
<rect x="414.4" y="845.6" width="1.7" height="11" rx="0.8" fill="#fdebe3" stroke="#f2a07f" stroke-width="0.6"/>
<rect x="471.5" y="775.1" width="1.7" height="11" rx="0.8" fill="#fdebe3" stroke="#f2a07f" stroke-width="0.6"/>
<rect x="487.8" y="784.5" width="1.7" height="11" rx="0.8" fill="#fdebe3" stroke="#f2a07f" stroke-width="0.6"/>
<rect x="479.7" y="770.4" width="1.7" height="11" rx="0.8" fill="#fdebe3" stroke="#f2a07f" stroke-width="0.6"/>
<rect x="439" y="737.5" width="1.7" height="11" rx="0.8" fill="#fdebe3" stroke="#f2a07f" stroke-width="0.6"/>
<rect x="455.3" y="746.9" width="1.7" height="11" rx="0.8" fill="#fdebe3" stroke="#f2a07f" stroke-width="0.6"/>
<rect x="487.8" y="765.6" width="1.7" height="11" rx="0.8" fill="#fdebe3" stroke="#f2a07f" stroke-width="0.6"/>
<rect x="504.1" y="775" width="1.7" height="11" rx="0.8" fill="#fdebe3" stroke="#f2a07f" stroke-width="0.6"/>
<rect x="447.2" y="732.8" width="1.7" height="11" rx="0.8" fill="#fdebe3" stroke="#f2a07f" stroke-width="0.6"/>
<rect x="496" y="760.9" width="1.7" height="11" rx="0.8" fill="#fdebe3" stroke="#f2a07f" stroke-width="0.6"/>
<rect x="512.2" y="770.3" width="1.7" height="11" rx="0.8" fill="#fdebe3" stroke="#f2a07f" stroke-width="0.6"/>
<rect x="528.5" y="779.7" width="1.7" height="11" rx="0.8" fill="#fdebe3" stroke="#f2a07f" stroke-width="0.6"/>
<rect x="471.6" y="737.4" width="1.7" height="11" rx="0.8" fill="#fdebe3" stroke="#f2a07f" stroke-width="0.6"/>
<rect x="487.8" y="746.8" width="1.7" height="11" rx="0.8" fill="#fdebe3" stroke="#f2a07f" stroke-width="0.6"/>
<path d="M284.6 830 L289.1 844 L293.6 830 L298.1 844 L302.6 830" fill="none" stroke="#f09a78" stroke-width="2.1" stroke-linejoin="round" stroke-linecap="round"/>
<path d="M284.6 830 L289.1 844 L293.6 830 L298.1 844 L302.6 830" fill="none" stroke="#fde8df" stroke-width="0.7" stroke-linejoin="round" stroke-linecap="round"/>
<path d="M317.6 806 L323.1 822 L328.6 806 L334.1 822 L339.6 806" fill="none" stroke="#f09a78" stroke-width="2.1" stroke-linejoin="round" stroke-linecap="round"/>
<path d="M317.6 806 L323.1 822 L328.6 806 L334.1 822 L339.6 806" fill="none" stroke="#fde8df" stroke-width="0.7" stroke-linejoin="round" stroke-linecap="round"/>
<path d="M319.6 816 L325.1 832 L330.6 816 L336.1 832 L341.6 816" fill="none" stroke="#f09a78" stroke-width="2.1" stroke-linejoin="round" stroke-linecap="round"/>
<path d="M319.6 816 L325.1 832 L330.6 816 L336.1 832 L341.6 816" fill="none" stroke="#fde8df" stroke-width="0.7" stroke-linejoin="round" stroke-linecap="round"/>
<path d="M334.1 858 L338.6 872 L343.1 858 L347.6 872 L352.1 858" fill="none" stroke="#f09a78" stroke-width="2.1" stroke-linejoin="round" stroke-linecap="round"/>
<path d="M334.1 858 L338.6 872 L343.1 858 L347.6 872 L352.1 858" fill="none" stroke="#fde8df" stroke-width="0.7" stroke-linejoin="round" stroke-linecap="round"/>
<path d="M367.1 828.5 L375.1 843.5 L383.1 828.5 L391.1 843.5 L399.1 828.5" fill="none" stroke="#f09a78" stroke-width="2.1" stroke-linejoin="round" stroke-linecap="round"/>
<path d="M367.1 828.5 L375.1 843.5 L383.1 828.5 L391.1 843.5 L399.1 828.5" fill="none" stroke="#fde8df" stroke-width="0.7" stroke-linejoin="round" stroke-linecap="round"/>
<path d="M369.1 838.5 L377.1 853.5 L385.1 838.5 L393.1 853.5 L401.1 838.5" fill="none" stroke="#f09a78" stroke-width="2.1" stroke-linejoin="round" stroke-linecap="round"/>
<path d="M369.1 838.5 L377.1 853.5 L385.1 838.5 L393.1 853.5 L401.1 838.5" fill="none" stroke="#fde8df" stroke-width="0.7" stroke-linejoin="round" stroke-linecap="round"/>
<path d="M429.9 739.5 L437.7 753.5 L445.4 739.5 L453.2 753.5 L460.9 739.5" fill="none" stroke="#f09a78" stroke-width="2.1" stroke-linejoin="round" stroke-linecap="round"/>
<path d="M429.9 739.5 L437.7 753.5 L445.4 739.5 L453.2 753.5 L460.9 739.5" fill="none" stroke="#fde8df" stroke-width="0.7" stroke-linejoin="round" stroke-linecap="round"/>
<path d="M431.9 749.5 L439.7 763.5 L447.4 749.5 L455.2 763.5 L462.9 749.5" fill="none" stroke="#f09a78" stroke-width="2.1" stroke-linejoin="round" stroke-linecap="round"/>
<path d="M431.9 749.5 L439.7 763.5 L447.4 749.5 L455.2 763.5 L462.9 749.5" fill="none" stroke="#fde8df" stroke-width="0.7" stroke-linejoin="round" stroke-linecap="round"/>
<path d="M479.4 761 L487.7 776 L495.9 761 L504.2 776 L512.4 761" fill="none" stroke="#f09a78" stroke-width="2.1" stroke-linejoin="round" stroke-linecap="round"/>
<path d="M479.4 761 L487.7 776 L495.9 761 L504.2 776 L512.4 761" fill="none" stroke="#fde8df" stroke-width="0.7" stroke-linejoin="round" stroke-linecap="round"/>
<path d="M481.4 771 L489.7 786 L497.9 771 L506.2 786 L514.4 771" fill="none" stroke="#f09a78" stroke-width="2.1" stroke-linejoin="round" stroke-linecap="round"/>
<path d="M481.4 771 L489.7 786 L497.9 771 L506.2 786 L514.4 771" fill="none" stroke="#fde8df" stroke-width="0.7" stroke-linejoin="round" stroke-linecap="round"/>
<polyline points="256.5,836.1 332.4,792.4" fill="none" stroke="#262626" stroke-width="1.15"/>
<polygon points="256.5,836.1 362.1,898 420.7,863.4 420.7,865.1 362.1,899.7 256.5,837.8" fill="#a8a8a8" stroke="none" stroke-width="0"/>
<polyline points="256.5,836.1 362.1,898 420.7,863.4" fill="none" stroke="#1e1e1e" stroke-width="0.95"/>
<polyline points="256.5,837.8 362.1,899.7 420.7,865.1" fill="none" stroke="#4a4a4a" stroke-width="0.7"/>
<polyline points="403.4,751.2 451.2,723.9 557.2,785" fill="none" stroke="#262626" stroke-width="1.15" stroke-linejoin="round"/>
<polygon points="557.2,785 512.3,810.6 512.3,812.3 557.2,786.7" fill="#a8a8a8" stroke="none" stroke-width="0"/>
<polyline points="557.2,785 512.3,810.6" fill="none" stroke="#1e1e1e" stroke-width="0.95"/>
<polyline points="557.2,786.7 512.3,812.3" fill="none" stroke="#4a4a4a" stroke-width="0.7"/>
<use href="#rib" x="0" y="0"/>
<line x1="262.5" y1="832.6" x2="262.5" y2="824.6" stroke="#3a3633" stroke-width="1.7" stroke-linecap="round"/>
<line x1="270.1" y1="828.2" x2="270.1" y2="820.2" stroke="#3a3633" stroke-width="1.7" stroke-linecap="round"/>
<line x1="286.3" y1="818.8" x2="286.3" y2="810.8" stroke="#3a3633" stroke-width="1.7" stroke-linecap="round"/>
<line x1="302" y1="809.8" x2="302" y2="801.8" stroke="#3a3633" stroke-width="1.7" stroke-linecap="round"/>
<line x1="317.6" y1="800.7" x2="317.6" y2="792.7" stroke="#3a3633" stroke-width="1.7" stroke-linecap="round"/>
<line x1="415" y1="744.5" x2="415" y2="736.5" stroke="#3a3633" stroke-width="1.7" stroke-linecap="round"/>
<line x1="430.6" y1="735.4" x2="430.6" y2="727.4" stroke="#3a3633" stroke-width="1.7" stroke-linecap="round"/>
<line x1="447" y1="725.9" x2="447" y2="717.9" stroke="#3a3633" stroke-width="1.7" stroke-linecap="round"/>
<line x1="453.3" y1="723" x2="453.3" y2="714" stroke="#3a3633" stroke-width="1.7" stroke-linecap="round"/>
<line x1="471.1" y1="734" x2="471.1" y2="726" stroke="#3a3633" stroke-width="1.7" stroke-linecap="round"/>
<line x1="487.5" y1="743.4" x2="487.5" y2="735.4" stroke="#3a3633" stroke-width="1.7" stroke-linecap="round"/>
<line x1="503.3" y1="752.6" x2="503.3" y2="744.6" stroke="#3a3633" stroke-width="1.7" stroke-linecap="round"/>
<line x1="519.5" y1="761.9" x2="519.5" y2="753.9" stroke="#3a3633" stroke-width="1.7" stroke-linecap="round"/>
<line x1="535.8" y1="771.4" x2="535.8" y2="763.4" stroke="#3a3633" stroke-width="1.7" stroke-linecap="round"/>
<line x1="551.8" y1="780.6" x2="551.8" y2="772.6" stroke="#3a3633" stroke-width="1.7" stroke-linecap="round"/>
<path d="M468 995.2l-.2 .1-.5 .3-.6 .4-.9 .5-1.2 .7-1.3 .8-1.6 .9-1.8 1-1.8 1-1.9 .9-1.8 .8-1.9 .8-1.9 .7-1.9 .6-1.9 .5-2 .4-2 .5-2 .5-2 .4-2.1 .5-2.2 .5-2.2 .5-2.2 .5-2.2 .6-2.1 .3-2 .2-1.8 0-1.6-.1-1.5-.3-1.4-.5-1.2-.7-1-.8-1.1-.8-1.1-.8-1.1-.8-1.1-.8-1.2-.8-1.1-.8-1.2-.7-1.2-.8-1.3-.8-1.4-.8-1.5-1-1.5-.9-1.7-1.1-1.8-1.1-1.8-1.1-2-1.2-1.9-1.1-1.9-1.1-1.9-1.1-1.9-.9-1.8-1-1.9-.8-1.8-.8-1.8-.8-1.7-.7-1.7-.8-1.5-.8-1.5-.9-1.5-.8-1.3-.9-1.3-.8-1.2-.9-1.2-.9-1.2-.9-1.2-.9-1.2-.9-1.2-.9-1.2-.9-1.2-.9-1.2-.9-1.2-.9-1.3-.9-1.3-.8-1.4-.9-1.4-.8-1.4-.8-1.4-.7-1.5-.8-1.5-.7-1.4-.8-1.3-.8-1.3-.9-1.2-.8-1.2-.9-1.1-.8-1-.9-1-.9-.8-.9-.8-.9-.7-.9-.6-.9-.5-.9-.3-.9-.3-.9-.3-.9-.2-.9-.1-.9 0-.9 0-.8 0-.9 .1-.8 .2-.8 .2-.8 .3-.6 .3-.6 .4-.5 .4-.4 .5-.3 .5-.2 .6-.2 .7-.1 .7-.2 .8-.1 .9-.2 .9-.1 1.1-.2 1.1-.1 1.2-.2 1.2-.1 1.2-.2 1.2-.2 1.2-.3 1.2-.2 1.2-.3 1.2-.2 1.2-.3 1.2-.4 1.3-.4 1.3-.5 1.4-.6 1.4-.6 1.4-.7 1.5-.8 1.5-.8 1.5-.8 1.5-.9 1.5-.8 1.5-.9 1.5-.9 1.5-.9 1.5-.8 1.5-.9 1.4-.9 1.4-.8 1.3-.8 1.3-.8 1.2-.7 1.2-.7 1.1-.6 1-.6 1-.6 1-.7 1-.6 .9-.7 .8-.7 .8-.7 .8-.7 .8-.8 .7-.7 .8-.8 .7-.8 .8-.9 .7-.8 .8-.9 .7-.8 .8-.9 .7-.9 .7-.8 .7-.8 .6-.8 .6-.7 .6-.7 .5-.6 .6-.6 .4-.5 .4-.5 .3-.3 .3-.3 .2-.3 .1-.1 .1-.1" fill="none" stroke="#f08a64" stroke-width="1.4" transform="translate(-1.5 2)"/>
<use href="#atr" x="0" y="0"/>
<circle cx="415.2" cy="953.8" r="25.5" fill="#fdf0ea" stroke="#ec7349" stroke-width="1"/>
<ellipse cx="415.2" cy="953.8" rx="25" ry="7.6" transform="rotate(10 415.2 953.8)" fill="none" stroke="#ef8660" stroke-width="0.5"/>
<ellipse cx="415.2" cy="953.8" rx="25" ry="10.7" transform="rotate(46 415.2 953.8)" fill="none" stroke="#ef8660" stroke-width="0.5"/>
<ellipse cx="415.2" cy="953.8" rx="25" ry="13.8" transform="rotate(82 415.2 953.8)" fill="none" stroke="#ef8660" stroke-width="0.5"/>
<ellipse cx="415.2" cy="953.8" rx="25" ry="16.8" transform="rotate(118 415.2 953.8)" fill="none" stroke="#ef8660" stroke-width="0.5"/>
<ellipse cx="415.2" cy="953.8" rx="25" ry="19.9" transform="rotate(154 415.2 953.8)" fill="none" stroke="#ef8660" stroke-width="0.5"/>
<path d="M399.3 938.3L406.1 930.4M399.3 938.3L396.3 948.5M422.1 930L413.6 929.3M422.1 930L416.3 942.4M413.6 929.3L406.1 930.4M413.6 929.3L422.1 930M432.8 957L436.4 954.3M432.8 957L428.1 954.9M434.7 946.5L439 951.2M434.7 946.5L436.4 954.3M423.4 947.9L426.8 944.7M423.4 947.9L418.4 943.4M401.9 956.4L407.7 962.7M401.9 956.4L396.3 948.5M396.3 948.5L394.6 948.6M396.3 948.5L401.9 956.4M428.1 954.9L432.8 957M428.1 954.9L423.4 947.9M410.7 977.9L409.1 978.1M410.7 977.9L408.8 972.9M416.3 942.4L418.4 943.4M416.3 942.4L423.4 947.9M418.4 943.4L416.3 942.4M418.4 943.4L423.4 947.9M407.4 946.7L416.3 942.4M407.4 946.7L401.9 956.4M439.1 954.1L436.4 954.3M439.1 954.1L439 951.2M418.4 966.3L420.4 960.6M418.4 966.3L407.4 966.5M439 951.2L439.1 954.1M439 951.2L436.4 954.3M409.1 978.1L410.7 977.9M409.1 978.1L408.8 972.9M394.6 948.6L396.3 948.5M394.6 948.6L401.9 956.4M422.2 977.6L410.7 977.9M422.2 977.6L418.4 966.3M406.1 930.4L413.6 929.3M406.1 930.4L399.3 938.3M426.8 944.7L423.4 947.9M426.8 944.7L434.7 946.5M407.7 962.7L407.4 966.5M407.7 962.7L401.9 956.4M420.4 960.6L418.4 966.3M420.4 960.6L428.1 954.9M408.8 972.9L409.1 978.1M408.8 972.9L410.7 977.9M436.4 954.3L439.1 954.1M436.4 954.3L439 951.2M407.4 966.5L407.7 962.7M407.4 966.5L408.8 972.9" stroke="#ee7c54" stroke-width="0.55" fill="none"/>
<rect x="284.2" y="1148" width="1.7" height="11" rx="0.8" fill="#fdebe3" stroke="#f2a07f" stroke-width="0.6"/>
<rect x="300.5" y="1157.4" width="1.7" height="11" rx="0.8" fill="#fdebe3" stroke="#f2a07f" stroke-width="0.6"/>
<rect x="316.7" y="1166.8" width="1.7" height="11" rx="0.8" fill="#fdebe3" stroke="#f2a07f" stroke-width="0.6"/>
<rect x="292.4" y="1143.3" width="1.7" height="11" rx="0.8" fill="#fdebe3" stroke="#f2a07f" stroke-width="0.6"/>
<rect x="308.6" y="1152.7" width="1.7" height="11" rx="0.8" fill="#fdebe3" stroke="#f2a07f" stroke-width="0.6"/>
<rect x="341.1" y="1171.5" width="1.7" height="11" rx="0.8" fill="#fdebe3" stroke="#f2a07f" stroke-width="0.6"/>
<rect x="357.4" y="1180.9" width="1.7" height="11" rx="0.8" fill="#fdebe3" stroke="#f2a07f" stroke-width="0.6"/>
<rect x="284.2" y="1129.2" width="1.7" height="11" rx="0.8" fill="#fdebe3" stroke="#f2a07f" stroke-width="0.6"/>
<rect x="349.3" y="1166.8" width="1.7" height="11" rx="0.8" fill="#fdebe3" stroke="#f2a07f" stroke-width="0.6"/>
<rect x="365.6" y="1176.2" width="1.7" height="11" rx="0.8" fill="#fdebe3" stroke="#f2a07f" stroke-width="0.6"/>
<rect x="292.4" y="1124.5" width="1.7" height="11" rx="0.8" fill="#fdebe3" stroke="#f2a07f" stroke-width="0.6"/>
<rect x="365.6" y="1157.4" width="1.7" height="11" rx="0.8" fill="#fdebe3" stroke="#f2a07f" stroke-width="0.6"/>
<rect x="324.9" y="1124.5" width="1.7" height="11" rx="0.8" fill="#fdebe3" stroke="#f2a07f" stroke-width="0.6"/>
<rect x="316.8" y="1110.4" width="1.7" height="11" rx="0.8" fill="#fdebe3" stroke="#f2a07f" stroke-width="0.6"/>
<rect x="333.1" y="1119.8" width="1.7" height="11" rx="0.8" fill="#fdebe3" stroke="#f2a07f" stroke-width="0.6"/>
<rect x="349.4" y="1129.2" width="1.7" height="11" rx="0.8" fill="#fdebe3" stroke="#f2a07f" stroke-width="0.6"/>
<rect x="365.6" y="1138.6" width="1.7" height="11" rx="0.8" fill="#fdebe3" stroke="#f2a07f" stroke-width="0.6"/>
<rect x="325" y="1105.7" width="1.7" height="11" rx="0.8" fill="#fdebe3" stroke="#f2a07f" stroke-width="0.6"/>
<rect x="333.1" y="1101" width="1.7" height="11" rx="0.8" fill="#fdebe3" stroke="#f2a07f" stroke-width="0.6"/>
<rect x="349.4" y="1110.4" width="1.7" height="11" rx="0.8" fill="#fdebe3" stroke="#f2a07f" stroke-width="0.6"/>
<rect x="365.6" y="1119.8" width="1.7" height="11" rx="0.8" fill="#fdebe3" stroke="#f2a07f" stroke-width="0.6"/>
<rect x="341.3" y="1096.3" width="1.7" height="11" rx="0.8" fill="#fdebe3" stroke="#f2a07f" stroke-width="0.6"/>
<rect x="357.5" y="1105.7" width="1.7" height="11" rx="0.8" fill="#fdebe3" stroke="#f2a07f" stroke-width="0.6"/>
<rect x="349.4" y="1091.6" width="1.7" height="11" rx="0.8" fill="#fdebe3" stroke="#f2a07f" stroke-width="0.6"/>
<rect x="365.7" y="1101" width="1.7" height="11" rx="0.8" fill="#fdebe3" stroke="#f2a07f" stroke-width="0.6"/>
<rect x="357.6" y="1086.9" width="1.7" height="11" rx="0.8" fill="#fdebe3" stroke="#f2a07f" stroke-width="0.6"/>
<rect x="365.7" y="1082.1" width="1.7" height="11" rx="0.8" fill="#fdebe3" stroke="#f2a07f" stroke-width="0.6"/>
<rect x="406.4" y="1077.4" width="1.7" height="11" rx="0.8" fill="#fdebe3" stroke="#f2a07f" stroke-width="0.6"/>
<rect x="422.7" y="1086.8" width="1.7" height="11" rx="0.8" fill="#fdebe3" stroke="#f2a07f" stroke-width="0.6"/>
<rect x="438.9" y="1096.2" width="1.7" height="11" rx="0.8" fill="#fdebe3" stroke="#f2a07f" stroke-width="0.6"/>
<rect x="430.8" y="1082.1" width="1.7" height="11" rx="0.8" fill="#fdebe3" stroke="#f2a07f" stroke-width="0.6"/>
<rect x="447.1" y="1091.5" width="1.7" height="11" rx="0.8" fill="#fdebe3" stroke="#f2a07f" stroke-width="0.6"/>
<rect x="439" y="1077.4" width="1.7" height="11" rx="0.8" fill="#fdebe3" stroke="#f2a07f" stroke-width="0.6"/>
<rect x="455.2" y="1086.8" width="1.7" height="11" rx="0.8" fill="#fdebe3" stroke="#f2a07f" stroke-width="0.6"/>
<rect x="414.6" y="1053.9" width="1.7" height="11" rx="0.8" fill="#fdebe3" stroke="#f2a07f" stroke-width="0.6"/>
<rect x="430.8" y="1063.3" width="1.7" height="11" rx="0.8" fill="#fdebe3" stroke="#f2a07f" stroke-width="0.6"/>
<rect x="422.7" y="1049.2" width="1.7" height="11" rx="0.8" fill="#fdebe3" stroke="#f2a07f" stroke-width="0.6"/>
<rect x="439" y="1058.6" width="1.7" height="11" rx="0.8" fill="#fdebe3" stroke="#f2a07f" stroke-width="0.6"/>
<rect x="455.3" y="1068" width="1.7" height="11" rx="0.8" fill="#fdebe3" stroke="#f2a07f" stroke-width="0.6"/>
<rect x="447.1" y="1053.9" width="1.7" height="11" rx="0.8" fill="#fdebe3" stroke="#f2a07f" stroke-width="0.6"/>
<rect x="463.4" y="1063.3" width="1.7" height="11" rx="0.8" fill="#fdebe3" stroke="#f2a07f" stroke-width="0.6"/>
<rect x="479.7" y="1072.7" width="1.7" height="11" rx="0.8" fill="#fdebe3" stroke="#f2a07f" stroke-width="0.6"/>
<rect x="439" y="1039.8" width="1.7" height="11" rx="0.8" fill="#fdebe3" stroke="#f2a07f" stroke-width="0.6"/>
<rect x="455.3" y="1049.2" width="1.7" height="11" rx="0.8" fill="#fdebe3" stroke="#f2a07f" stroke-width="0.6"/>
<rect x="471.5" y="1058.6" width="1.7" height="11" rx="0.8" fill="#fdebe3" stroke="#f2a07f" stroke-width="0.6"/>
<rect x="487.8" y="1067.9" width="1.7" height="11" rx="0.8" fill="#fdebe3" stroke="#f2a07f" stroke-width="0.6"/>
<rect x="447.2" y="1035.1" width="1.7" height="11" rx="0.8" fill="#fdebe3" stroke="#f2a07f" stroke-width="0.6"/>
<rect x="463.4" y="1044.4" width="1.7" height="11" rx="0.8" fill="#fdebe3" stroke="#f2a07f" stroke-width="0.6"/>
<rect x="471.6" y="1039.7" width="1.7" height="11" rx="0.8" fill="#fdebe3" stroke="#f2a07f" stroke-width="0.6"/>
<rect x="487.8" y="1049.1" width="1.7" height="11" rx="0.8" fill="#fdebe3" stroke="#f2a07f" stroke-width="0.6"/>
<rect x="504.1" y="1058.5" width="1.7" height="11" rx="0.8" fill="#fdebe3" stroke="#f2a07f" stroke-width="0.6"/>
<path d="M284.6 1132.3 L289.1 1146.3 L293.6 1132.3 L298.1 1146.3 L302.6 1132.3" fill="none" stroke="#f09a78" stroke-width="2.1" stroke-linejoin="round" stroke-linecap="round"/>
<path d="M284.6 1132.3 L289.1 1146.3 L293.6 1132.3 L298.1 1146.3 L302.6 1132.3" fill="none" stroke="#fde8df" stroke-width="0.7" stroke-linejoin="round" stroke-linecap="round"/>
<path d="M317.6 1108.3 L323.1 1124.3 L328.6 1108.3 L334.1 1124.3 L339.6 1108.3" fill="none" stroke="#f09a78" stroke-width="2.1" stroke-linejoin="round" stroke-linecap="round"/>
<path d="M317.6 1108.3 L323.1 1124.3 L328.6 1108.3 L334.1 1124.3 L339.6 1108.3" fill="none" stroke="#fde8df" stroke-width="0.7" stroke-linejoin="round" stroke-linecap="round"/>
<path d="M319.6 1118.3 L325.1 1134.3 L330.6 1118.3 L336.1 1134.3 L341.6 1118.3" fill="none" stroke="#f09a78" stroke-width="2.1" stroke-linejoin="round" stroke-linecap="round"/>
<path d="M319.6 1118.3 L325.1 1134.3 L330.6 1118.3 L336.1 1134.3 L341.6 1118.3" fill="none" stroke="#fde8df" stroke-width="0.7" stroke-linejoin="round" stroke-linecap="round"/>
<path d="M334.1 1160.3 L338.6 1174.3 L343.1 1160.3 L347.6 1174.3 L352.1 1160.3" fill="none" stroke="#f09a78" stroke-width="2.1" stroke-linejoin="round" stroke-linecap="round"/>
<path d="M334.1 1160.3 L338.6 1174.3 L343.1 1160.3 L347.6 1174.3 L352.1 1160.3" fill="none" stroke="#fde8df" stroke-width="0.7" stroke-linejoin="round" stroke-linecap="round"/>
<path d="M367.1 1130.8 L375.1 1145.8 L383.1 1130.8 L391.1 1145.8 L399.1 1130.8" fill="none" stroke="#f09a78" stroke-width="2.1" stroke-linejoin="round" stroke-linecap="round"/>
<path d="M367.1 1130.8 L375.1 1145.8 L383.1 1130.8 L391.1 1145.8 L399.1 1130.8" fill="none" stroke="#fde8df" stroke-width="0.7" stroke-linejoin="round" stroke-linecap="round"/>
<path d="M369.1 1140.8 L377.1 1155.8 L385.1 1140.8 L393.1 1155.8 L401.1 1140.8" fill="none" stroke="#f09a78" stroke-width="2.1" stroke-linejoin="round" stroke-linecap="round"/>
<path d="M369.1 1140.8 L377.1 1155.8 L385.1 1140.8 L393.1 1155.8 L401.1 1140.8" fill="none" stroke="#fde8df" stroke-width="0.7" stroke-linejoin="round" stroke-linecap="round"/>
<path d="M429.9 1041.8 L437.7 1055.8 L445.4 1041.8 L453.2 1055.8 L460.9 1041.8" fill="none" stroke="#f09a78" stroke-width="2.1" stroke-linejoin="round" stroke-linecap="round"/>
<path d="M429.9 1041.8 L437.7 1055.8 L445.4 1041.8 L453.2 1055.8 L460.9 1041.8" fill="none" stroke="#fde8df" stroke-width="0.7" stroke-linejoin="round" stroke-linecap="round"/>
<path d="M431.9 1051.8 L439.7 1065.8 L447.4 1051.8 L455.2 1065.8 L462.9 1051.8" fill="none" stroke="#f09a78" stroke-width="2.1" stroke-linejoin="round" stroke-linecap="round"/>
<path d="M431.9 1051.8 L439.7 1065.8 L447.4 1051.8 L455.2 1065.8 L462.9 1051.8" fill="none" stroke="#fde8df" stroke-width="0.7" stroke-linejoin="round" stroke-linecap="round"/>
<path d="M479.4 1063.3 L487.7 1078.3 L495.9 1063.3 L504.2 1078.3 L512.4 1063.3" fill="none" stroke="#f09a78" stroke-width="2.1" stroke-linejoin="round" stroke-linecap="round"/>
<path d="M479.4 1063.3 L487.7 1078.3 L495.9 1063.3 L504.2 1078.3 L512.4 1063.3" fill="none" stroke="#fde8df" stroke-width="0.7" stroke-linejoin="round" stroke-linecap="round"/>
<path d="M481.4 1073.3 L489.7 1088.3 L497.9 1073.3 L506.2 1088.3 L514.4 1073.3" fill="none" stroke="#f09a78" stroke-width="2.1" stroke-linejoin="round" stroke-linecap="round"/>
<path d="M481.4 1073.3 L489.7 1088.3 L497.9 1073.3 L506.2 1088.3 L514.4 1073.3" fill="none" stroke="#fde8df" stroke-width="0.7" stroke-linejoin="round" stroke-linecap="round"/>
<polyline points="256.6,1138.3 452.1,1025.3 557.7,1086.3" fill="none" stroke="#262626" stroke-width="1.15" stroke-linejoin="round"/>
<polygon points="256.6,1138.3 362.2,1199.3 557.7,1086.3 557.7,1088 362.2,1201 256.6,1140" fill="#a8a8a8" stroke="none" stroke-width="0"/>
<polyline points="256.6,1138.3 362.2,1199.3 557.7,1086.3" fill="none" stroke="#1e1e1e" stroke-width="0.95"/>
<polyline points="256.6,1140 362.2,1201 557.7,1088" fill="none" stroke="#4a4a4a" stroke-width="0.7"/>
<path d="M385.3 1098.2l.7-.7 .8-.7 .8-.7 .9-.8 1-.7 1.1-.7 1.1-.7 1.1-.7 1.3-.8 1.3-.6 1.5-.6 1.5-.4 1.7-.4 1.7-.3 1.9-.2 1.9-.1 2.1-.1 2 .1 2 .2 2 .3 2 .4 1.9 .5 1.9 .7 1.9 .7 1.9 .9 1.8 .9 1.7 .9 1.7 .9 1.7 .9 1.6 1 1.5 1 1.5 1 1.5 1 1.3 1.1 1.3 1.1 1.2 1.1 1 1.1 1 1.2 .9 1.2 .8 1.2 .8 1.2 .5 1.2 .4 1.1 .3 1.1 .1 .9 0 .9-.2 .9-.4 .8-.5 .7-.7 .7-.8 .8-.9 .7-1.1 .7-1.2 .7-1.4 .7-1.5 .8-1.7 .7-1.6 .6-1.7 .6-1.8 .4-1.7 .4-1.8 .2-1.8 .2-1.8 .1-1.9 0-1.8-.1-1.8-.1-1.8-.3-1.8-.3-1.7-.3-1.7-.5-1.7-.6-1.6-.6-1.7-.7-1.6-.7-1.7-.9-1.6-.9-1.7-1-1.6-1.1-1.7-1.2-1.6-1.2-1.5-1.2-1.5-1.3-1.3-1.2-1.1-1.3-1.1-1.2-1-1.2-.8-1.3-.7-1.2-.6-1.2-.3-1.1-.2-1 0-1 .2-.9 .3-.9z" fill="#fff" stroke="#222" stroke-width="0.9"/>
<path d="M386.5 1099.5l.7-.7 .8-.7 .8-.7 .9-.8 1-.7 1.1-.7 1.1-.7 1.1-.7 1.3-.8 1.3-.6 1.5-.6 1.5-.4 1.7-.4 1.7-.3 1.9-.2 1.9-.1 2.1-.1 2 .1 1.9 .2 1.9 .3 1.8 .4 1.8 .5 1.6 .7 1.7 .7 1.5 .9 1.6 .9 1.5 .9 1.5 .9 1.5 .9 1.5 1 1.5 1 1.4 1 1.5 1 1.3 1.1 1.3 1.1 1.2 1.1 1 1.1 1 1.2 .9 1.2 .8 1.2 .8 1.2 .5 1.2 .4 1.1 .3 1.1 .1 .9 0 .9-.2 .9-.4 .8-.5 .7-.7 .7-.8 .8-.9 .7-1.1 .7-1.2 .7-1.4 .7-1.5 .8-1.7 .7-1.6 .6-1.6 .6-1.6 .4-1.6 .4-1.6 .2-1.6 .2-1.6 .1-1.5 0-1.6-.1-1.6-.1-1.6-.3-1.6-.3-1.6-.3-1.6-.5-1.7-.6-1.6-.6-1.7-.7-1.6-.7-1.7-.9-1.6-.9-1.7-1-1.6-1.1-1.7-1.2-1.6-1.2-1.5-1.2-1.5-1.3-1.3-1.2-1.1-1.3-1.1-1.2-1-1.2-.8-1.3-.7-1.2-.6-1.2-.3-1.1-.2-1 0-1 .2-.9 .3-.9z" fill="none" stroke="#555" stroke-width="0.6"/>
<line x1="262.5" y1="1134.9" x2="262.5" y2="1126.9" stroke="#3a3633" stroke-width="1.7" stroke-linecap="round"/>
<line x1="270.1" y1="1130.5" x2="270.1" y2="1122.5" stroke="#3a3633" stroke-width="1.7" stroke-linecap="round"/>
<line x1="286.3" y1="1121.1" x2="286.3" y2="1113.1" stroke="#3a3633" stroke-width="1.7" stroke-linecap="round"/>
<line x1="302" y1="1112.1" x2="302" y2="1104.1" stroke="#3a3633" stroke-width="1.7" stroke-linecap="round"/>
<line x1="317.6" y1="1103" x2="317.6" y2="1095" stroke="#3a3633" stroke-width="1.7" stroke-linecap="round"/>
<line x1="415" y1="1046.8" x2="415" y2="1038.8" stroke="#3a3633" stroke-width="1.7" stroke-linecap="round"/>
<line x1="430.6" y1="1037.7" x2="430.6" y2="1029.7" stroke="#3a3633" stroke-width="1.7" stroke-linecap="round"/>
<line x1="447" y1="1028.2" x2="447" y2="1020.2" stroke="#3a3633" stroke-width="1.7" stroke-linecap="round"/>
<line x1="453.3" y1="1025.3" x2="453.3" y2="1016.3" stroke="#3a3633" stroke-width="1.7" stroke-linecap="round"/>
<line x1="471.1" y1="1036.3" x2="471.1" y2="1028.3" stroke="#3a3633" stroke-width="1.7" stroke-linecap="round"/>
<line x1="487.5" y1="1045.7" x2="487.5" y2="1037.7" stroke="#3a3633" stroke-width="1.7" stroke-linecap="round"/>
<line x1="503.3" y1="1054.9" x2="503.3" y2="1046.9" stroke="#3a3633" stroke-width="1.7" stroke-linecap="round"/>
<line x1="519.5" y1="1064.2" x2="519.5" y2="1056.2" stroke="#3a3633" stroke-width="1.7" stroke-linecap="round"/>
<line x1="535.8" y1="1073.7" x2="535.8" y2="1065.7" stroke="#3a3633" stroke-width="1.7" stroke-linecap="round"/>
<line x1="551.8" y1="1082.9" x2="551.8" y2="1074.9" stroke="#3a3633" stroke-width="1.7" stroke-linecap="round"/>
<rect x="284.2" y="1300.4" width="1.7" height="11" rx="0.8" fill="#fdebe3" stroke="#f2a07f" stroke-width="0.6"/>
<rect x="316.7" y="1319.2" width="1.7" height="11" rx="0.8" fill="#fdebe3" stroke="#f2a07f" stroke-width="0.6"/>
<rect x="333" y="1328.6" width="1.7" height="11" rx="0.8" fill="#fdebe3" stroke="#f2a07f" stroke-width="0.6"/>
<rect x="349.3" y="1338" width="1.7" height="11" rx="0.8" fill="#fdebe3" stroke="#f2a07f" stroke-width="0.6"/>
<rect x="276.1" y="1286.3" width="1.7" height="11" rx="0.8" fill="#fdebe3" stroke="#f2a07f" stroke-width="0.6"/>
<rect x="308.6" y="1305.1" width="1.7" height="11" rx="0.8" fill="#fdebe3" stroke="#f2a07f" stroke-width="0.6"/>
<rect x="341.1" y="1323.9" width="1.7" height="11" rx="0.8" fill="#fdebe3" stroke="#f2a07f" stroke-width="0.6"/>
<rect x="357.4" y="1333.3" width="1.7" height="11" rx="0.8" fill="#fdebe3" stroke="#f2a07f" stroke-width="0.6"/>
<rect x="284.2" y="1281.6" width="1.7" height="11" rx="0.8" fill="#fdebe3" stroke="#f2a07f" stroke-width="0.6"/>
<rect x="300.5" y="1291" width="1.7" height="11" rx="0.8" fill="#fdebe3" stroke="#f2a07f" stroke-width="0.6"/>
<rect x="316.8" y="1300.4" width="1.7" height="11" rx="0.8" fill="#fdebe3" stroke="#f2a07f" stroke-width="0.6"/>
<rect x="365.6" y="1328.6" width="1.7" height="11" rx="0.8" fill="#fdebe3" stroke="#f2a07f" stroke-width="0.6"/>
<rect x="292.4" y="1276.9" width="1.7" height="11" rx="0.8" fill="#fdebe3" stroke="#f2a07f" stroke-width="0.6"/>
<rect x="300.5" y="1272.2" width="1.7" height="11" rx="0.8" fill="#fdebe3" stroke="#f2a07f" stroke-width="0.6"/>
<rect x="316.8" y="1281.6" width="1.7" height="11" rx="0.8" fill="#fdebe3" stroke="#f2a07f" stroke-width="0.6"/>
<rect x="333.1" y="1291" width="1.7" height="11" rx="0.8" fill="#fdebe3" stroke="#f2a07f" stroke-width="0.6"/>
<rect x="373.7" y="1305.1" width="1.7" height="11" rx="0.8" fill="#fdebe3" stroke="#f2a07f" stroke-width="0.6"/>
<rect x="316.8" y="1262.8" width="1.7" height="11" rx="0.8" fill="#fdebe3" stroke="#f2a07f" stroke-width="0.6"/>
<rect x="365.6" y="1291" width="1.7" height="11" rx="0.8" fill="#fdebe3" stroke="#f2a07f" stroke-width="0.6"/>
<rect x="357.5" y="1276.9" width="1.7" height="11" rx="0.8" fill="#fdebe3" stroke="#f2a07f" stroke-width="0.6"/>
<rect x="333.1" y="1253.4" width="1.7" height="11" rx="0.8" fill="#fdebe3" stroke="#f2a07f" stroke-width="0.6"/>
<rect x="365.6" y="1272.2" width="1.7" height="11" rx="0.8" fill="#fdebe3" stroke="#f2a07f" stroke-width="0.6"/>
<rect x="341.3" y="1248.7" width="1.7" height="11" rx="0.8" fill="#fdebe3" stroke="#f2a07f" stroke-width="0.6"/>
<rect x="349.4" y="1244" width="1.7" height="11" rx="0.8" fill="#fdebe3" stroke="#f2a07f" stroke-width="0.6"/>
<rect x="365.7" y="1234.5" width="1.7" height="11" rx="0.8" fill="#fdebe3" stroke="#f2a07f" stroke-width="0.6"/>
<rect x="390.1" y="1220.4" width="1.7" height="11" rx="0.8" fill="#fdebe3" stroke="#f2a07f" stroke-width="0.6"/>
<rect x="406.4" y="1229.8" width="1.7" height="11" rx="0.8" fill="#fdebe3" stroke="#f2a07f" stroke-width="0.6"/>
<rect x="430.8" y="1234.5" width="1.7" height="11" rx="0.8" fill="#fdebe3" stroke="#f2a07f" stroke-width="0.6"/>
<rect x="447.1" y="1243.9" width="1.7" height="11" rx="0.8" fill="#fdebe3" stroke="#f2a07f" stroke-width="0.6"/>
<rect x="422.7" y="1220.4" width="1.7" height="11" rx="0.8" fill="#fdebe3" stroke="#f2a07f" stroke-width="0.6"/>
<rect x="439" y="1229.8" width="1.7" height="11" rx="0.8" fill="#fdebe3" stroke="#f2a07f" stroke-width="0.6"/>
<rect x="455.2" y="1239.2" width="1.7" height="11" rx="0.8" fill="#fdebe3" stroke="#f2a07f" stroke-width="0.6"/>
<rect x="414.6" y="1206.3" width="1.7" height="11" rx="0.8" fill="#fdebe3" stroke="#f2a07f" stroke-width="0.6"/>
<rect x="430.8" y="1215.7" width="1.7" height="11" rx="0.8" fill="#fdebe3" stroke="#f2a07f" stroke-width="0.6"/>
<rect x="447.1" y="1225.1" width="1.7" height="11" rx="0.8" fill="#fdebe3" stroke="#f2a07f" stroke-width="0.6"/>
<rect x="422.7" y="1201.6" width="1.7" height="11" rx="0.8" fill="#fdebe3" stroke="#f2a07f" stroke-width="0.6"/>
<rect x="439" y="1192.2" width="1.7" height="11" rx="0.8" fill="#fdebe3" stroke="#f2a07f" stroke-width="0.6"/>
<rect x="455.3" y="1201.6" width="1.7" height="11" rx="0.8" fill="#fdebe3" stroke="#f2a07f" stroke-width="0.6"/>
<rect x="447.2" y="1187.5" width="1.7" height="11" rx="0.8" fill="#fdebe3" stroke="#f2a07f" stroke-width="0.6"/>
<rect x="479.7" y="1206.2" width="1.7" height="11" rx="0.8" fill="#fdebe3" stroke="#f2a07f" stroke-width="0.6"/>
<rect x="455.3" y="1182.7" width="1.7" height="11" rx="0.8" fill="#fdebe3" stroke="#f2a07f" stroke-width="0.6"/>
<rect x="471.6" y="1192.1" width="1.7" height="11" rx="0.8" fill="#fdebe3" stroke="#f2a07f" stroke-width="0.6"/>
<rect x="487.8" y="1201.5" width="1.7" height="11" rx="0.8" fill="#fdebe3" stroke="#f2a07f" stroke-width="0.6"/>
<path d="M284.6 1284.7 L289.1 1298.7 L293.6 1284.7 L298.1 1298.7 L302.6 1284.7" fill="none" stroke="#f09a78" stroke-width="2.1" stroke-linejoin="round" stroke-linecap="round"/>
<path d="M284.6 1284.7 L289.1 1298.7 L293.6 1284.7 L298.1 1298.7 L302.6 1284.7" fill="none" stroke="#fde8df" stroke-width="0.7" stroke-linejoin="round" stroke-linecap="round"/>
<path d="M317.6 1260.7 L323.1 1276.7 L328.6 1260.7 L334.1 1276.7 L339.6 1260.7" fill="none" stroke="#f09a78" stroke-width="2.1" stroke-linejoin="round" stroke-linecap="round"/>
<path d="M317.6 1260.7 L323.1 1276.7 L328.6 1260.7 L334.1 1276.7 L339.6 1260.7" fill="none" stroke="#fde8df" stroke-width="0.7" stroke-linejoin="round" stroke-linecap="round"/>
<path d="M319.6 1270.7 L325.1 1286.7 L330.6 1270.7 L336.1 1286.7 L341.6 1270.7" fill="none" stroke="#f09a78" stroke-width="2.1" stroke-linejoin="round" stroke-linecap="round"/>
<path d="M319.6 1270.7 L325.1 1286.7 L330.6 1270.7 L336.1 1286.7 L341.6 1270.7" fill="none" stroke="#fde8df" stroke-width="0.7" stroke-linejoin="round" stroke-linecap="round"/>
<path d="M334.1 1312.7 L338.6 1326.7 L343.1 1312.7 L347.6 1326.7 L352.1 1312.7" fill="none" stroke="#f09a78" stroke-width="2.1" stroke-linejoin="round" stroke-linecap="round"/>
<path d="M334.1 1312.7 L338.6 1326.7 L343.1 1312.7 L347.6 1326.7 L352.1 1312.7" fill="none" stroke="#fde8df" stroke-width="0.7" stroke-linejoin="round" stroke-linecap="round"/>
<path d="M367.1 1283.2 L375.1 1298.2 L383.1 1283.2 L391.1 1298.2 L399.1 1283.2" fill="none" stroke="#f09a78" stroke-width="2.1" stroke-linejoin="round" stroke-linecap="round"/>
<path d="M367.1 1283.2 L375.1 1298.2 L383.1 1283.2 L391.1 1298.2 L399.1 1283.2" fill="none" stroke="#fde8df" stroke-width="0.7" stroke-linejoin="round" stroke-linecap="round"/>
<path d="M369.1 1293.2 L377.1 1308.2 L385.1 1293.2 L393.1 1308.2 L401.1 1293.2" fill="none" stroke="#f09a78" stroke-width="2.1" stroke-linejoin="round" stroke-linecap="round"/>
<path d="M369.1 1293.2 L377.1 1308.2 L385.1 1293.2 L393.1 1308.2 L401.1 1293.2" fill="none" stroke="#fde8df" stroke-width="0.7" stroke-linejoin="round" stroke-linecap="round"/>
<path d="M429.9 1194.2 L437.7 1208.2 L445.4 1194.2 L453.2 1208.2 L460.9 1194.2" fill="none" stroke="#f09a78" stroke-width="2.1" stroke-linejoin="round" stroke-linecap="round"/>
<path d="M429.9 1194.2 L437.7 1208.2 L445.4 1194.2 L453.2 1208.2 L460.9 1194.2" fill="none" stroke="#fde8df" stroke-width="0.7" stroke-linejoin="round" stroke-linecap="round"/>
<path d="M431.9 1204.2 L439.7 1218.2 L447.4 1204.2 L455.2 1218.2 L462.9 1204.2" fill="none" stroke="#f09a78" stroke-width="2.1" stroke-linejoin="round" stroke-linecap="round"/>
<path d="M431.9 1204.2 L439.7 1218.2 L447.4 1204.2 L455.2 1218.2 L462.9 1204.2" fill="none" stroke="#fde8df" stroke-width="0.7" stroke-linejoin="round" stroke-linecap="round"/>
<path d="M479.4 1215.7 L487.7 1230.7 L495.9 1215.7 L504.2 1230.7 L512.4 1215.7" fill="none" stroke="#f09a78" stroke-width="2.1" stroke-linejoin="round" stroke-linecap="round"/>
<path d="M479.4 1215.7 L487.7 1230.7 L495.9 1215.7 L504.2 1230.7 L512.4 1215.7" fill="none" stroke="#fde8df" stroke-width="0.7" stroke-linejoin="round" stroke-linecap="round"/>
<path d="M481.4 1225.7 L489.7 1240.7 L497.9 1225.7 L506.2 1240.7 L514.4 1225.7" fill="none" stroke="#f09a78" stroke-width="2.1" stroke-linejoin="round" stroke-linecap="round"/>
<path d="M481.4 1225.7 L489.7 1240.7 L497.9 1225.7 L506.2 1240.7 L514.4 1225.7" fill="none" stroke="#fde8df" stroke-width="0.7" stroke-linejoin="round" stroke-linecap="round"/>
<polyline points="256.6,1290.7 452.1,1177.7 557.7,1238.7" fill="none" stroke="#262626" stroke-width="1.15" stroke-linejoin="round"/>
<polygon points="256.6,1290.7 362.2,1351.7 557.7,1238.7 557.7,1240.4 362.2,1353.4 256.6,1292.4" fill="#a8a8a8" stroke="none" stroke-width="0"/>
<polyline points="256.6,1290.7 362.2,1351.7 557.7,1238.7" fill="none" stroke="#1e1e1e" stroke-width="0.95"/>
<polyline points="256.6,1292.4 362.2,1353.4 557.7,1240.4" fill="none" stroke="#4a4a4a" stroke-width="0.7"/>
<line x1="262.5" y1="1287.3" x2="262.5" y2="1279.3" stroke="#3a3633" stroke-width="1.7" stroke-linecap="round"/>
<line x1="270.1" y1="1282.9" x2="270.1" y2="1274.9" stroke="#3a3633" stroke-width="1.7" stroke-linecap="round"/>
<line x1="286.3" y1="1273.5" x2="286.3" y2="1265.5" stroke="#3a3633" stroke-width="1.7" stroke-linecap="round"/>
<line x1="302" y1="1264.5" x2="302" y2="1256.5" stroke="#3a3633" stroke-width="1.7" stroke-linecap="round"/>
<line x1="317.6" y1="1255.4" x2="317.6" y2="1247.4" stroke="#3a3633" stroke-width="1.7" stroke-linecap="round"/>
<line x1="415" y1="1199.2" x2="415" y2="1191.2" stroke="#3a3633" stroke-width="1.7" stroke-linecap="round"/>
<line x1="430.6" y1="1190.1" x2="430.6" y2="1182.1" stroke="#3a3633" stroke-width="1.7" stroke-linecap="round"/>
<line x1="447" y1="1180.6" x2="447" y2="1172.6" stroke="#3a3633" stroke-width="1.7" stroke-linecap="round"/>
<line x1="453.3" y1="1177.7" x2="453.3" y2="1168.7" stroke="#3a3633" stroke-width="1.7" stroke-linecap="round"/>
<line x1="471.1" y1="1188.7" x2="471.1" y2="1180.7" stroke="#3a3633" stroke-width="1.7" stroke-linecap="round"/>
<line x1="487.5" y1="1198.1" x2="487.5" y2="1190.1" stroke="#3a3633" stroke-width="1.7" stroke-linecap="round"/>
<line x1="503.3" y1="1207.3" x2="503.3" y2="1199.3" stroke="#3a3633" stroke-width="1.7" stroke-linecap="round"/>
<line x1="519.5" y1="1216.6" x2="519.5" y2="1208.6" stroke="#3a3633" stroke-width="1.7" stroke-linecap="round"/>
<line x1="535.8" y1="1226.1" x2="535.8" y2="1218.1" stroke="#3a3633" stroke-width="1.7" stroke-linecap="round"/>
<line x1="551.8" y1="1235.3" x2="551.8" y2="1227.3" stroke="#3a3633" stroke-width="1.7" stroke-linecap="round"/>
<line x1="852" y1="231" x2="852" y2="1289.7" stroke="#c4c4c4" stroke-width="0.9" stroke-dasharray="4 3"/>
<line x1="957.6" y1="292" x2="957.6" y2="1350.7" stroke="#c4c4c4" stroke-width="0.9" stroke-dasharray="4 3"/>
<line x1="1153.1" y1="179" x2="1153.1" y2="1237.7" stroke="#c4c4c4" stroke-width="0.9" stroke-dasharray="4 3"/>
<line x1="927.9" y1="795" x2="927.9" y2="941" stroke="#c4c4c4" stroke-width="0.9" stroke-dasharray="4 3"/>
<line x1="1000.1" y1="752" x2="1000.1" y2="900" stroke="#c4c4c4" stroke-width="0.9" stroke-dasharray="4 3"/>
<line x1="1020.4" y1="722" x2="1020.4" y2="903" stroke="#c4c4c4" stroke-width="0.9" stroke-dasharray="4 3"/>
<line x1="1112.4" y1="664" x2="1112.4" y2="958" stroke="#c4c4c4" stroke-width="0.9" stroke-dasharray="4 3"/>
<use href="#roof" x="595.4" y="0"/>
<polyline points="852,379.7 1047.5,266.7" fill="none" stroke="#262626" stroke-width="1.15"/>
<polyline points="1047.5,266.7 1058.6,273.1 1058.6,270.9 1079.2,282.8 1079.2,285 1108.7,302.1 1108.7,299.9 1134.1,314.5 1134.1,316.7 1153.1,327.7" fill="none" stroke="#262626" stroke-width="1.15"/>
<polygon points="852,379.7 957.6,440.7 1153.1,327.7 1153.1,329.4 957.6,442.4 852,381.4" fill="#a8a8a8" stroke="none" stroke-width="0"/>
<polyline points="852,379.7 957.6,440.7 1153.1,327.7" fill="none" stroke="#1e1e1e" stroke-width="0.95"/>
<polyline points="852,381.4 957.6,442.4 1153.1,329.4" fill="none" stroke="#4a4a4a" stroke-width="0.7"/>
<ellipse cx="1009.6" cy="349.2" rx="21.5" ry="12.6" fill="none" stroke="#3a3a3a" stroke-width="0.9"/>
<path d="M988.9 350 A20.7 12.4 0 0 1 1030.3 350" fill="none" stroke="#555" stroke-width="0.7"/>
<polyline points="889.9,382.3 897.9,377.7 905.9,382.3" fill="none" stroke="#a9a9a9" stroke-width="0.6"/>
<line x1="897.9" y1="367.7" x2="897.9" y2="377.7" stroke="#a9a9a9" stroke-width="0.6"/>
<polyline points="881,376.4 881,386.4 897.9,396.2 914.8,386.4 914.8,376.4" fill="none" stroke="#a9a9a9" stroke-width="0.6"/>
<line x1="897.9" y1="386.2" x2="897.9" y2="396.2" stroke="#a9a9a9" stroke-width="0.6"/>
<polygon points="881,376.4 897.9,366.6 914.8,376.4 897.9,386.2" fill="none" stroke="#b9b9b9" stroke-width="0.9"/>
<polygon points="882.8,376.4 897.9,367.7 913,376.4 897.9,385.1" fill="none" stroke="#b9b9b9" stroke-width="0.8"/>
<polyline points="922.4,364 930.4,359.3 938.4,364" fill="none" stroke="#a9a9a9" stroke-width="0.6"/>
<line x1="930.4" y1="349.3" x2="930.4" y2="359.3" stroke="#a9a9a9" stroke-width="0.6"/>
<polyline points="913.1,358.3 913.1,368.3 930.4,378.3 947.7,368.3 947.7,358.3" fill="none" stroke="#a9a9a9" stroke-width="0.6"/>
<line x1="930.4" y1="368.3" x2="930.4" y2="378.3" stroke="#a9a9a9" stroke-width="0.6"/>
<polygon points="913.1,358.3 930.4,348.3 947.7,358.3 930.4,368.3" fill="none" stroke="#b9b9b9" stroke-width="0.9"/>
<polygon points="914.9,358.3 930.4,349.3 945.9,358.3 930.4,367.3" fill="none" stroke="#b9b9b9" stroke-width="0.8"/>
<polyline points="939.3,414.6 947.3,409.9 955.3,414.6" fill="none" stroke="#a9a9a9" stroke-width="0.6"/>
<line x1="947.3" y1="399.9" x2="947.3" y2="409.9" stroke="#a9a9a9" stroke-width="0.6"/>
<polyline points="934.3,406.4 934.3,416.4 947.3,423.9 960.3,416.4 960.3,406.4" fill="none" stroke="#a9a9a9" stroke-width="0.6"/>
<line x1="947.3" y1="413.9" x2="947.3" y2="423.9" stroke="#a9a9a9" stroke-width="0.6"/>
<polygon points="934.3,406.4 947.3,398.9 960.3,406.4 947.3,413.9" fill="none" stroke="#b9b9b9" stroke-width="0.9"/>
<polygon points="936.1,406.4 947.3,399.9 958.5,406.4 947.3,412.9" fill="none" stroke="#b9b9b9" stroke-width="0.8"/>
<polyline points="970.2,391.6 978.2,386.9 986.2,391.6" fill="none" stroke="#a9a9a9" stroke-width="0.6"/>
<line x1="978.2" y1="376.9" x2="978.2" y2="386.9" stroke="#a9a9a9" stroke-width="0.6"/>
<polyline points="960.9,385.9 960.9,395.9 978.2,405.9 995.5,395.9 995.5,385.9" fill="none" stroke="#a9a9a9" stroke-width="0.6"/>
<line x1="978.2" y1="395.9" x2="978.2" y2="405.9" stroke="#a9a9a9" stroke-width="0.6"/>
<polygon points="960.9,385.9 978.2,375.9 995.5,385.9 978.2,395.9" fill="none" stroke="#b9b9b9" stroke-width="0.9"/>
<polygon points="962.7,385.9 978.2,376.9 993.7,385.9 978.2,394.9" fill="none" stroke="#b9b9b9" stroke-width="0.8"/>
<polyline points="1049.9,288.6 1057.9,283.9 1065.9,288.6" fill="none" stroke="#a9a9a9" stroke-width="0.6"/>
<line x1="1057.9" y1="273.9" x2="1057.9" y2="283.9" stroke="#a9a9a9" stroke-width="0.6"/>
<polyline points="1039.4,283.6 1039.4,293.6 1057.9,304.3 1076.4,293.6 1076.4,283.6" fill="none" stroke="#a9a9a9" stroke-width="0.6"/>
<line x1="1057.9" y1="294.3" x2="1057.9" y2="304.3" stroke="#a9a9a9" stroke-width="0.6"/>
<polygon points="1039.4,283.6 1057.9,272.9 1076.4,283.6 1057.9,294.3" fill="none" stroke="#b9b9b9" stroke-width="0.9"/>
<polygon points="1041.2,283.6 1057.9,273.9 1074.6,283.6 1057.9,293.3" fill="none" stroke="#b9b9b9" stroke-width="0.8"/>
<polyline points="1082.9,325.8 1090.9,321.2 1098.9,325.8" fill="none" stroke="#a9a9a9" stroke-width="0.6"/>
<line x1="1090.9" y1="311.2" x2="1090.9" y2="321.2" stroke="#a9a9a9" stroke-width="0.6"/>
<polyline points="1074,319.9 1074,329.9 1090.9,339.7 1107.8,329.9 1107.8,319.9" fill="none" stroke="#a9a9a9" stroke-width="0.6"/>
<line x1="1090.9" y1="329.7" x2="1090.9" y2="339.7" stroke="#a9a9a9" stroke-width="0.6"/>
<polygon points="1074,319.9 1090.9,310.1 1107.8,319.9 1090.9,329.7" fill="none" stroke="#b9b9b9" stroke-width="0.9"/>
<polygon points="1075.8,319.9 1090.9,311.2 1106,319.9 1090.9,328.6" fill="none" stroke="#b9b9b9" stroke-width="0.8"/>
<polyline points="1102.3,319.6 1110.3,315 1118.3,319.6" fill="none" stroke="#a9a9a9" stroke-width="0.6"/>
<line x1="1110.3" y1="305" x2="1110.3" y2="315" stroke="#a9a9a9" stroke-width="0.6"/>
<polyline points="1095.5,312.5 1095.5,322.5 1110.3,331.1 1125.1,322.5 1125.1,312.5" fill="none" stroke="#a9a9a9" stroke-width="0.6"/>
<line x1="1110.3" y1="321.1" x2="1110.3" y2="331.1" stroke="#a9a9a9" stroke-width="0.6"/>
<polygon points="1095.5,312.5 1110.3,303.9 1125.1,312.5 1110.3,321.1" fill="none" stroke="#b9b9b9" stroke-width="0.9"/>
<polygon points="1097.2,312.5 1110.3,305 1123.3,312.5 1110.3,320" fill="none" stroke="#b9b9b9" stroke-width="0.8"/>
<polyline points="852,532.8 1047.5,419.8" fill="none" stroke="#262626" stroke-width="1.15"/>
<polyline points="1047.5,419.8 1058.6,426.2 1058.6,424 1079.2,435.9 1079.2,438.1 1108.7,455.2 1108.7,453 1134.1,467.6 1134.1,469.8 1153.1,480.8" fill="none" stroke="#262626" stroke-width="1.15"/>
<polygon points="852,532.8 957.6,593.8 1016.2,559.9 1016.2,557.4 1016.2,559.1 1016.2,561.6 957.6,595.5 852,534.5" fill="#a8a8a8" stroke="none" stroke-width="0"/>
<polyline points="852,532.8 957.6,593.8 1016.2,559.9 1016.2,557.4" fill="none" stroke="#1e1e1e" stroke-width="0.95"/>
<polyline points="852,534.5 957.6,595.5 1016.2,561.6 1016.2,559.1" fill="none" stroke="#4a4a4a" stroke-width="0.7"/>
<polygon points="1016.2,557.4 1098.4,509.9 1098.4,512.4 1098.4,514.1 1098.4,511.6 1016.2,559.1" fill="#a8a8a8" stroke="none" stroke-width="0"/>
<polyline points="1016.2,557.4 1098.4,509.9 1098.4,512.4" fill="none" stroke="#1e1e1e" stroke-width="0.95"/>
<polyline points="1016.2,559.1 1098.4,511.6 1098.4,514.1" fill="none" stroke="#4a4a4a" stroke-width="0.7"/>
<polygon points="1098.4,512.4 1153.1,480.8 1153.1,482.5 1098.4,514.1" fill="#a8a8a8" stroke="none" stroke-width="0"/>
<polyline points="1098.4,512.4 1153.1,480.8" fill="none" stroke="#1e1e1e" stroke-width="0.95"/>
<polyline points="1098.4,514.1 1153.1,482.5" fill="none" stroke="#4a4a4a" stroke-width="0.7"/>
<ellipse cx="1009.6" cy="502.3" rx="21.5" ry="12.6" fill="none" stroke="#3a3a3a" stroke-width="0.9"/>
<path d="M988.9 503.1 A20.7 12.4 0 0 1 1030.3 503.1" fill="none" stroke="#555" stroke-width="0.7"/>
<polyline points="889.9,535.4 897.9,530.8 905.9,535.4" fill="none" stroke="#a9a9a9" stroke-width="0.6"/>
<line x1="897.9" y1="520.8" x2="897.9" y2="530.8" stroke="#a9a9a9" stroke-width="0.6"/>
<polyline points="881,529.5 881,539.5 897.9,549.3 914.8,539.5 914.8,529.5" fill="none" stroke="#a9a9a9" stroke-width="0.6"/>
<line x1="897.9" y1="539.3" x2="897.9" y2="549.3" stroke="#a9a9a9" stroke-width="0.6"/>
<polygon points="881,529.5 897.9,519.7 914.8,529.5 897.9,539.3" fill="none" stroke="#b9b9b9" stroke-width="0.9"/>
<polygon points="882.8,529.5 897.9,520.8 913,529.5 897.9,538.2" fill="none" stroke="#b9b9b9" stroke-width="0.8"/>
<polyline points="922.4,517.1 930.4,512.4 938.4,517.1" fill="none" stroke="#a9a9a9" stroke-width="0.6"/>
<line x1="930.4" y1="502.4" x2="930.4" y2="512.4" stroke="#a9a9a9" stroke-width="0.6"/>
<polyline points="913.1,511.4 913.1,521.4 930.4,531.4 947.7,521.4 947.7,511.4" fill="none" stroke="#a9a9a9" stroke-width="0.6"/>
<line x1="930.4" y1="521.4" x2="930.4" y2="531.4" stroke="#a9a9a9" stroke-width="0.6"/>
<polygon points="913.1,511.4 930.4,501.4 947.7,511.4 930.4,521.4" fill="none" stroke="#b9b9b9" stroke-width="0.9"/>
<polygon points="914.9,511.4 930.4,502.4 945.9,511.4 930.4,520.4" fill="none" stroke="#b9b9b9" stroke-width="0.8"/>
<polyline points="939.3,567.7 947.3,563 955.3,567.7" fill="none" stroke="#a9a9a9" stroke-width="0.6"/>
<line x1="947.3" y1="553" x2="947.3" y2="563" stroke="#a9a9a9" stroke-width="0.6"/>
<polyline points="934.3,559.5 934.3,569.5 947.3,577 960.3,569.5 960.3,559.5" fill="none" stroke="#a9a9a9" stroke-width="0.6"/>
<line x1="947.3" y1="567" x2="947.3" y2="577" stroke="#a9a9a9" stroke-width="0.6"/>
<polygon points="934.3,559.5 947.3,552 960.3,559.5 947.3,567" fill="none" stroke="#b9b9b9" stroke-width="0.9"/>
<polygon points="936.1,559.5 947.3,553 958.5,559.5 947.3,566" fill="none" stroke="#b9b9b9" stroke-width="0.8"/>
<polyline points="970.2,544.7 978.2,540 986.2,544.7" fill="none" stroke="#a9a9a9" stroke-width="0.6"/>
<line x1="978.2" y1="530" x2="978.2" y2="540" stroke="#a9a9a9" stroke-width="0.6"/>
<polyline points="960.9,539 960.9,549 978.2,559 995.5,549 995.5,539" fill="none" stroke="#a9a9a9" stroke-width="0.6"/>
<line x1="978.2" y1="549" x2="978.2" y2="559" stroke="#a9a9a9" stroke-width="0.6"/>
<polygon points="960.9,539 978.2,529 995.5,539 978.2,549" fill="none" stroke="#b9b9b9" stroke-width="0.9"/>
<polygon points="962.7,539 978.2,530 993.7,539 978.2,548" fill="none" stroke="#b9b9b9" stroke-width="0.8"/>
<polyline points="1049.9,441.7 1057.9,437 1065.9,441.7" fill="none" stroke="#a9a9a9" stroke-width="0.6"/>
<line x1="1057.9" y1="427" x2="1057.9" y2="437" stroke="#a9a9a9" stroke-width="0.6"/>
<polyline points="1039.4,436.7 1039.4,446.7 1057.9,457.4 1076.4,446.7 1076.4,436.7" fill="none" stroke="#a9a9a9" stroke-width="0.6"/>
<line x1="1057.9" y1="447.4" x2="1057.9" y2="457.4" stroke="#a9a9a9" stroke-width="0.6"/>
<polygon points="1039.4,436.7 1057.9,426 1076.4,436.7 1057.9,447.4" fill="none" stroke="#b9b9b9" stroke-width="0.9"/>
<polygon points="1041.2,436.7 1057.9,427 1074.6,436.7 1057.9,446.4" fill="none" stroke="#b9b9b9" stroke-width="0.8"/>
<polyline points="1082.9,478.9 1090.9,474.3 1098.9,478.9" fill="none" stroke="#a9a9a9" stroke-width="0.6"/>
<line x1="1090.9" y1="464.3" x2="1090.9" y2="474.3" stroke="#a9a9a9" stroke-width="0.6"/>
<polyline points="1074,473 1074,483 1090.9,492.8 1107.8,483 1107.8,473" fill="none" stroke="#a9a9a9" stroke-width="0.6"/>
<line x1="1090.9" y1="482.8" x2="1090.9" y2="492.8" stroke="#a9a9a9" stroke-width="0.6"/>
<polygon points="1074,473 1090.9,463.2 1107.8,473 1090.9,482.8" fill="none" stroke="#b9b9b9" stroke-width="0.9"/>
<polygon points="1075.8,473 1090.9,464.3 1106,473 1090.9,481.7" fill="none" stroke="#b9b9b9" stroke-width="0.8"/>
<polyline points="1102.3,472.7 1110.3,468.1 1118.3,472.7" fill="none" stroke="#a9a9a9" stroke-width="0.6"/>
<line x1="1110.3" y1="458.1" x2="1110.3" y2="468.1" stroke="#a9a9a9" stroke-width="0.6"/>
<polyline points="1095.5,465.6 1095.5,475.6 1110.3,484.2 1125.1,475.6 1125.1,465.6" fill="none" stroke="#a9a9a9" stroke-width="0.6"/>
<line x1="1110.3" y1="474.2" x2="1110.3" y2="484.2" stroke="#a9a9a9" stroke-width="0.6"/>
<polygon points="1095.5,465.6 1110.3,457 1125.1,465.6 1110.3,474.2" fill="none" stroke="#b9b9b9" stroke-width="0.9"/>
<polygon points="1097.2,465.6 1110.3,458.1 1123.3,465.6 1110.3,473.1" fill="none" stroke="#b9b9b9" stroke-width="0.8"/>
<polyline points="851.9,684.6 934.4,636.7" fill="none" stroke="#262626" stroke-width="1.15"/>
<polyline points="993.8,603.2 1046.6,573.2 1152.6,633.4" fill="none" stroke="#262626" stroke-width="1.15" stroke-linejoin="round"/>
<polygon points="851.9,684.6 957.5,746.5 1008.7,716.8 1008.7,718.5 957.5,748.2 851.9,686.3" fill="#a8a8a8" stroke="none" stroke-width="0"/>
<polyline points="851.9,684.6 957.5,746.5 1008.7,716.8" fill="none" stroke="#1e1e1e" stroke-width="0.95"/>
<polyline points="851.9,686.3 957.5,748.2 1008.7,718.5" fill="none" stroke="#4a4a4a" stroke-width="0.7"/>
<polygon points="1111,658.2 1152.6,633.4 1152.6,635.1 1111,659.9" fill="#a8a8a8" stroke="none" stroke-width="0"/>
<polyline points="1111,658.2 1152.6,633.4" fill="none" stroke="#1e1e1e" stroke-width="0.95"/>
<polyline points="1111,659.9 1152.6,635.1" fill="none" stroke="#4a4a4a" stroke-width="0.7"/>
<polyline points="889.9,687.2 897.9,682.6 905.9,687.2" fill="none" stroke="#a9a9a9" stroke-width="0.6"/>
<line x1="897.9" y1="672.6" x2="897.9" y2="682.6" stroke="#a9a9a9" stroke-width="0.6"/>
<polyline points="881,681.3 881,691.3 897.9,701.1 914.8,691.3 914.8,681.3" fill="none" stroke="#a9a9a9" stroke-width="0.6"/>
<line x1="897.9" y1="691.1" x2="897.9" y2="701.1" stroke="#a9a9a9" stroke-width="0.6"/>
<polygon points="881,681.3 897.9,671.5 914.8,681.3 897.9,691.1" fill="none" stroke="#b9b9b9" stroke-width="0.9"/>
<polygon points="882.8,681.3 897.9,672.6 913,681.3 897.9,690" fill="none" stroke="#b9b9b9" stroke-width="0.8"/>
<polyline points="922.4,668.9 930.4,664.2 938.4,668.9" fill="none" stroke="#a9a9a9" stroke-width="0.6"/>
<line x1="930.4" y1="654.2" x2="930.4" y2="664.2" stroke="#a9a9a9" stroke-width="0.6"/>
<polyline points="913.1,663.2 913.1,673.2 930.4,683.2 947.7,673.2 947.7,663.2" fill="none" stroke="#a9a9a9" stroke-width="0.6"/>
<line x1="930.4" y1="673.2" x2="930.4" y2="683.2" stroke="#a9a9a9" stroke-width="0.6"/>
<polygon points="913.1,663.2 930.4,653.2 947.7,663.2 930.4,673.2" fill="none" stroke="#b9b9b9" stroke-width="0.9"/>
<polygon points="914.9,663.2 930.4,654.2 945.9,663.2 930.4,672.2" fill="none" stroke="#b9b9b9" stroke-width="0.8"/>
<polyline points="939.3,719.5 947.3,714.8 955.3,719.5" fill="none" stroke="#a9a9a9" stroke-width="0.6"/>
<line x1="947.3" y1="704.8" x2="947.3" y2="714.8" stroke="#a9a9a9" stroke-width="0.6"/>
<polyline points="934.3,711.3 934.3,721.3 947.3,728.8 960.3,721.3 960.3,711.3" fill="none" stroke="#a9a9a9" stroke-width="0.6"/>
<line x1="947.3" y1="718.8" x2="947.3" y2="728.8" stroke="#a9a9a9" stroke-width="0.6"/>
<polygon points="934.3,711.3 947.3,703.8 960.3,711.3 947.3,718.8" fill="none" stroke="#b9b9b9" stroke-width="0.9"/>
<polygon points="936.1,711.3 947.3,704.8 958.5,711.3 947.3,717.8" fill="none" stroke="#b9b9b9" stroke-width="0.8"/>
<polyline points="970.2,696.5 978.2,691.8 986.2,696.5" fill="none" stroke="#a9a9a9" stroke-width="0.6"/>
<line x1="978.2" y1="681.8" x2="978.2" y2="691.8" stroke="#a9a9a9" stroke-width="0.6"/>
<polyline points="960.9,690.8 960.9,700.8 978.2,710.8 995.5,700.8 995.5,690.8" fill="none" stroke="#a9a9a9" stroke-width="0.6"/>
<line x1="978.2" y1="700.8" x2="978.2" y2="710.8" stroke="#a9a9a9" stroke-width="0.6"/>
<polygon points="960.9,690.8 978.2,680.8 995.5,690.8 978.2,700.8" fill="none" stroke="#b9b9b9" stroke-width="0.9"/>
<polygon points="962.7,690.8 978.2,681.8 993.7,690.8 978.2,699.8" fill="none" stroke="#b9b9b9" stroke-width="0.8"/>
<polyline points="1049.9,593.5 1057.9,588.8 1065.9,593.5" fill="none" stroke="#a9a9a9" stroke-width="0.6"/>
<line x1="1057.9" y1="578.8" x2="1057.9" y2="588.8" stroke="#a9a9a9" stroke-width="0.6"/>
<polyline points="1039.4,588.5 1039.4,598.5 1057.9,609.2 1076.4,598.5 1076.4,588.5" fill="none" stroke="#a9a9a9" stroke-width="0.6"/>
<line x1="1057.9" y1="599.2" x2="1057.9" y2="609.2" stroke="#a9a9a9" stroke-width="0.6"/>
<polygon points="1039.4,588.5 1057.9,577.8 1076.4,588.5 1057.9,599.2" fill="none" stroke="#b9b9b9" stroke-width="0.9"/>
<polygon points="1041.2,588.5 1057.9,578.8 1074.6,588.5 1057.9,598.2" fill="none" stroke="#b9b9b9" stroke-width="0.8"/>
<polyline points="1082.9,630.7 1090.9,626.1 1098.9,630.7" fill="none" stroke="#a9a9a9" stroke-width="0.6"/>
<line x1="1090.9" y1="616.1" x2="1090.9" y2="626.1" stroke="#a9a9a9" stroke-width="0.6"/>
<polyline points="1074,624.8 1074,634.8 1090.9,644.6 1107.8,634.8 1107.8,624.8" fill="none" stroke="#a9a9a9" stroke-width="0.6"/>
<line x1="1090.9" y1="634.6" x2="1090.9" y2="644.6" stroke="#a9a9a9" stroke-width="0.6"/>
<polygon points="1074,624.8 1090.9,615 1107.8,624.8 1090.9,634.6" fill="none" stroke="#b9b9b9" stroke-width="0.9"/>
<polygon points="1075.8,624.8 1090.9,616.1 1106,624.8 1090.9,633.5" fill="none" stroke="#b9b9b9" stroke-width="0.8"/>
<polyline points="1102.3,624.5 1110.3,619.9 1118.3,624.5" fill="none" stroke="#a9a9a9" stroke-width="0.6"/>
<line x1="1110.3" y1="609.9" x2="1110.3" y2="619.9" stroke="#a9a9a9" stroke-width="0.6"/>
<polyline points="1095.5,617.4 1095.5,627.4 1110.3,636 1125.1,627.4 1125.1,617.4" fill="none" stroke="#a9a9a9" stroke-width="0.6"/>
<line x1="1110.3" y1="626" x2="1110.3" y2="636" stroke="#a9a9a9" stroke-width="0.6"/>
<polygon points="1095.5,617.4 1110.3,608.8 1125.1,617.4 1110.3,626" fill="none" stroke="#b9b9b9" stroke-width="0.9"/>
<polygon points="1097.2,617.4 1110.3,609.9 1123.3,617.4 1110.3,624.9" fill="none" stroke="#b9b9b9" stroke-width="0.8"/>
<use href="#hill" x="595.4" y="0"/>
<polyline points="851.9,836.1 927.8,792.4" fill="none" stroke="#262626" stroke-width="1.15"/>
<polygon points="851.9,836.1 957.5,898 1016.1,863.4 1016.1,865.1 957.5,899.7 851.9,837.8" fill="#a8a8a8" stroke="none" stroke-width="0"/>
<polyline points="851.9,836.1 957.5,898 1016.1,863.4" fill="none" stroke="#1e1e1e" stroke-width="0.95"/>
<polyline points="851.9,837.8 957.5,899.7 1016.1,865.1" fill="none" stroke="#4a4a4a" stroke-width="0.7"/>
<polyline points="998.8,751.2 1046.6,723.9 1152.6,785" fill="none" stroke="#262626" stroke-width="1.15" stroke-linejoin="round"/>
<polygon points="1152.6,785 1107.7,810.6 1107.7,812.3 1152.6,786.7" fill="#a8a8a8" stroke="none" stroke-width="0"/>
<polyline points="1152.6,785 1107.7,810.6" fill="none" stroke="#1e1e1e" stroke-width="0.95"/>
<polyline points="1152.6,786.7 1107.7,812.3" fill="none" stroke="#4a4a4a" stroke-width="0.7"/>
<polyline points="889.9,838.6 897.9,834 905.9,838.6" fill="none" stroke="#a9a9a9" stroke-width="0.6"/>
<line x1="897.9" y1="824" x2="897.9" y2="834" stroke="#a9a9a9" stroke-width="0.6"/>
<polyline points="881,832.7 881,842.7 897.9,852.5 914.8,842.7 914.8,832.7" fill="none" stroke="#a9a9a9" stroke-width="0.6"/>
<line x1="897.9" y1="842.5" x2="897.9" y2="852.5" stroke="#a9a9a9" stroke-width="0.6"/>
<polygon points="881,832.7 897.9,822.9 914.8,832.7 897.9,842.5" fill="none" stroke="#b9b9b9" stroke-width="0.9"/>
<polygon points="882.8,832.7 897.9,824 913,832.7 897.9,841.4" fill="none" stroke="#b9b9b9" stroke-width="0.8"/>
<polyline points="922.4,820.3 930.4,815.6 938.4,820.3" fill="none" stroke="#a9a9a9" stroke-width="0.6"/>
<line x1="930.4" y1="805.6" x2="930.4" y2="815.6" stroke="#a9a9a9" stroke-width="0.6"/>
<polyline points="913.1,814.6 913.1,824.6 930.4,834.6 947.7,824.6 947.7,814.6" fill="none" stroke="#a9a9a9" stroke-width="0.6"/>
<line x1="930.4" y1="824.6" x2="930.4" y2="834.6" stroke="#a9a9a9" stroke-width="0.6"/>
<polygon points="913.1,814.6 930.4,804.6 947.7,814.6 930.4,824.6" fill="none" stroke="#b9b9b9" stroke-width="0.9"/>
<polygon points="914.9,814.6 930.4,805.6 945.9,814.6 930.4,823.6" fill="none" stroke="#b9b9b9" stroke-width="0.8"/>
<polyline points="939.3,870.9 947.3,866.2 955.3,870.9" fill="none" stroke="#a9a9a9" stroke-width="0.6"/>
<line x1="947.3" y1="856.2" x2="947.3" y2="866.2" stroke="#a9a9a9" stroke-width="0.6"/>
<polyline points="934.3,862.7 934.3,872.7 947.3,880.2 960.3,872.7 960.3,862.7" fill="none" stroke="#a9a9a9" stroke-width="0.6"/>
<line x1="947.3" y1="870.2" x2="947.3" y2="880.2" stroke="#a9a9a9" stroke-width="0.6"/>
<polygon points="934.3,862.7 947.3,855.2 960.3,862.7 947.3,870.2" fill="none" stroke="#b9b9b9" stroke-width="0.9"/>
<polygon points="936.1,862.7 947.3,856.2 958.5,862.7 947.3,869.2" fill="none" stroke="#b9b9b9" stroke-width="0.8"/>
<polyline points="970.2,847.9 978.2,843.2 986.2,847.9" fill="none" stroke="#a9a9a9" stroke-width="0.6"/>
<line x1="978.2" y1="833.2" x2="978.2" y2="843.2" stroke="#a9a9a9" stroke-width="0.6"/>
<polyline points="960.9,842.2 960.9,852.2 978.2,862.2 995.5,852.2 995.5,842.2" fill="none" stroke="#a9a9a9" stroke-width="0.6"/>
<line x1="978.2" y1="852.2" x2="978.2" y2="862.2" stroke="#a9a9a9" stroke-width="0.6"/>
<polygon points="960.9,842.2 978.2,832.2 995.5,842.2 978.2,852.2" fill="none" stroke="#b9b9b9" stroke-width="0.9"/>
<polygon points="962.7,842.2 978.2,833.2 993.7,842.2 978.2,851.2" fill="none" stroke="#b9b9b9" stroke-width="0.8"/>
<polyline points="1049.9,744.9 1057.9,740.2 1065.9,744.9" fill="none" stroke="#a9a9a9" stroke-width="0.6"/>
<line x1="1057.9" y1="730.2" x2="1057.9" y2="740.2" stroke="#a9a9a9" stroke-width="0.6"/>
<polyline points="1039.4,739.9 1039.4,749.9 1057.9,760.6 1076.4,749.9 1076.4,739.9" fill="none" stroke="#a9a9a9" stroke-width="0.6"/>
<line x1="1057.9" y1="750.6" x2="1057.9" y2="760.6" stroke="#a9a9a9" stroke-width="0.6"/>
<polygon points="1039.4,739.9 1057.9,729.2 1076.4,739.9 1057.9,750.6" fill="none" stroke="#b9b9b9" stroke-width="0.9"/>
<polygon points="1041.2,739.9 1057.9,730.2 1074.6,739.9 1057.9,749.6" fill="none" stroke="#b9b9b9" stroke-width="0.8"/>
<polyline points="1082.9,782.1 1090.9,777.5 1098.9,782.1" fill="none" stroke="#a9a9a9" stroke-width="0.6"/>
<line x1="1090.9" y1="767.5" x2="1090.9" y2="777.5" stroke="#a9a9a9" stroke-width="0.6"/>
<polyline points="1074,776.2 1074,786.2 1090.9,796 1107.8,786.2 1107.8,776.2" fill="none" stroke="#a9a9a9" stroke-width="0.6"/>
<line x1="1090.9" y1="786" x2="1090.9" y2="796" stroke="#a9a9a9" stroke-width="0.6"/>
<polygon points="1074,776.2 1090.9,766.4 1107.8,776.2 1090.9,786" fill="none" stroke="#b9b9b9" stroke-width="0.9"/>
<polygon points="1075.8,776.2 1090.9,767.5 1106,776.2 1090.9,784.9" fill="none" stroke="#b9b9b9" stroke-width="0.8"/>
<polyline points="1102.3,775.9 1110.3,771.3 1118.3,775.9" fill="none" stroke="#a9a9a9" stroke-width="0.6"/>
<line x1="1110.3" y1="761.3" x2="1110.3" y2="771.3" stroke="#a9a9a9" stroke-width="0.6"/>
<polyline points="1095.5,768.8 1095.5,778.8 1110.3,787.4 1125.1,778.8 1125.1,768.8" fill="none" stroke="#a9a9a9" stroke-width="0.6"/>
<line x1="1110.3" y1="777.4" x2="1110.3" y2="787.4" stroke="#a9a9a9" stroke-width="0.6"/>
<polygon points="1095.5,768.8 1110.3,760.2 1125.1,768.8 1110.3,777.4" fill="none" stroke="#b9b9b9" stroke-width="0.9"/>
<polygon points="1097.2,768.8 1110.3,761.3 1123.3,768.8 1110.3,776.3" fill="none" stroke="#b9b9b9" stroke-width="0.8"/>
<use href="#rib" x="595.4" y="0"/>
<use href="#atr" x="595.4" y="0"/>
<circle cx="1010.6" cy="953.8" r="26" fill="#fff" stroke="#999" stroke-width="0.8"/>
<polyline points="852,1138.3 1047.5,1025.3" fill="none" stroke="#262626" stroke-width="1.15"/>
<polyline points="1047.5,1025.3 1058.6,1031.7 1058.6,1029.5 1079.2,1041.4 1079.2,1043.6 1108.7,1060.7 1108.7,1058.5 1134.1,1073.1 1134.1,1075.3 1153.1,1086.3" fill="none" stroke="#262626" stroke-width="1.15"/>
<polygon points="852,1138.3 957.6,1199.3 1153.1,1086.3 1153.1,1088 957.6,1201 852,1140" fill="#a8a8a8" stroke="none" stroke-width="0"/>
<polyline points="852,1138.3 957.6,1199.3 1153.1,1086.3" fill="none" stroke="#1e1e1e" stroke-width="0.95"/>
<polyline points="852,1140 957.6,1201 1153.1,1088" fill="none" stroke="#4a4a4a" stroke-width="0.7"/>
<path d="M980.7 1098.2l.7-.7 .8-.7 .8-.7 .9-.8 1-.7 1.1-.7 1.1-.7 1.1-.7 1.3-.8 1.3-.6 1.5-.6 1.5-.4 1.7-.4 1.7-.3 1.9-.2 1.9-.1 2.1-.1 2 .1 2 .2 2 .3 2 .4 1.9 .5 1.9 .7 1.9 .7 1.9 .9 1.8 .9 1.7 .9 1.7 .9 1.7 .9 1.6 1 1.5 1 1.5 1 1.5 1 1.3 1.1 1.3 1.1 1.2 1.1 1 1.1 1 1.2 .9 1.2 .8 1.2 .8 1.2 .5 1.2 .4 1.1 .3 1.1 .1 .9 0 .9-.2 .9-.4 .8-.5 .7-.7 .7-.8 .8-.9 .7-1.1 .7-1.2 .7-1.4 .7-1.5 .8-1.7 .7-1.6 .6-1.7 .6-1.8 .4-1.7 .4-1.8 .2-1.8 .2-1.8 .1-1.9 0-1.8-.1-1.8-.1-1.8-.3-1.8-.3-1.7-.3-1.7-.5-1.7-.6-1.6-.6-1.7-.7-1.6-.7-1.7-.9-1.6-.9-1.7-1-1.6-1.1-1.7-1.2-1.6-1.2-1.5-1.2-1.5-1.3-1.3-1.2-1.1-1.3-1.1-1.2-1-1.2-.8-1.3-.7-1.2-.6-1.2-.3-1.1-.2-1 0-1 .2-.9 .3-.9z" fill="#fff" stroke="#222" stroke-width="0.9"/>
<path d="M981.9 1099.5l.7-.7 .8-.7 .8-.7 .9-.8 1-.7 1.1-.7 1.1-.7 1.1-.7 1.3-.8 1.3-.6 1.5-.6 1.5-.4 1.7-.4 1.7-.3 1.9-.2 1.9-.1 2.1-.1 2 .1 1.9 .2 1.9 .3 1.8 .4 1.8 .5 1.6 .7 1.7 .7 1.5 .9 1.6 .9 1.5 .9 1.5 .9 1.5 .9 1.5 1 1.5 1 1.4 1 1.5 1 1.3 1.1 1.3 1.1 1.2 1.1 1 1.1 1 1.2 .9 1.2 .8 1.2 .8 1.2 .5 1.2 .4 1.1 .3 1.1 .1 .9 0 .9-.2 .9-.4 .8-.5 .7-.7 .7-.8 .8-.9 .7-1.1 .7-1.2 .7-1.4 .7-1.5 .8-1.7 .7-1.6 .6-1.6 .6-1.6 .4-1.6 .4-1.6 .2-1.6 .2-1.6 .1-1.5 0-1.6-.1-1.6-.1-1.6-.3-1.6-.3-1.6-.3-1.6-.5-1.7-.6-1.6-.6-1.7-.7-1.6-.7-1.7-.9-1.6-.9-1.7-1-1.6-1.1-1.7-1.2-1.6-1.2-1.5-1.2-1.5-1.3-1.3-1.2-1.1-1.3-1.1-1.2-1-1.2-.8-1.3-.7-1.2-.6-1.2-.3-1.1-.2-1 0-1 .2-.9 .3-.9z" fill="none" stroke="#555" stroke-width="0.6"/>
<polyline points="889.9,1140.9 897.9,1136.3 905.9,1140.9" fill="none" stroke="#a9a9a9" stroke-width="0.6"/>
<line x1="897.9" y1="1126.3" x2="897.9" y2="1136.3" stroke="#a9a9a9" stroke-width="0.6"/>
<polyline points="881,1135 881,1145 897.9,1154.8 914.8,1145 914.8,1135" fill="none" stroke="#a9a9a9" stroke-width="0.6"/>
<line x1="897.9" y1="1144.8" x2="897.9" y2="1154.8" stroke="#a9a9a9" stroke-width="0.6"/>
<polygon points="881,1135 897.9,1125.2 914.8,1135 897.9,1144.8" fill="none" stroke="#b9b9b9" stroke-width="0.9"/>
<polygon points="882.8,1135 897.9,1126.3 913,1135 897.9,1143.7" fill="none" stroke="#b9b9b9" stroke-width="0.8"/>
<polyline points="922.4,1122.6 930.4,1117.9 938.4,1122.6" fill="none" stroke="#a9a9a9" stroke-width="0.6"/>
<line x1="930.4" y1="1107.9" x2="930.4" y2="1117.9" stroke="#a9a9a9" stroke-width="0.6"/>
<polyline points="913.1,1116.9 913.1,1126.9 930.4,1136.9 947.7,1126.9 947.7,1116.9" fill="none" stroke="#a9a9a9" stroke-width="0.6"/>
<line x1="930.4" y1="1126.9" x2="930.4" y2="1136.9" stroke="#a9a9a9" stroke-width="0.6"/>
<polygon points="913.1,1116.9 930.4,1106.9 947.7,1116.9 930.4,1126.9" fill="none" stroke="#b9b9b9" stroke-width="0.9"/>
<polygon points="914.9,1116.9 930.4,1107.9 945.9,1116.9 930.4,1125.9" fill="none" stroke="#b9b9b9" stroke-width="0.8"/>
<polyline points="970.2,1150.2 978.2,1145.5 986.2,1150.2" fill="none" stroke="#a9a9a9" stroke-width="0.6"/>
<line x1="978.2" y1="1135.5" x2="978.2" y2="1145.5" stroke="#a9a9a9" stroke-width="0.6"/>
<polyline points="960.9,1144.5 960.9,1154.5 978.2,1164.5 995.5,1154.5 995.5,1144.5" fill="none" stroke="#a9a9a9" stroke-width="0.6"/>
<line x1="978.2" y1="1154.5" x2="978.2" y2="1164.5" stroke="#a9a9a9" stroke-width="0.6"/>
<polygon points="960.9,1144.5 978.2,1134.5 995.5,1144.5 978.2,1154.5" fill="none" stroke="#b9b9b9" stroke-width="0.9"/>
<polygon points="962.7,1144.5 978.2,1135.5 993.7,1144.5 978.2,1153.5" fill="none" stroke="#b9b9b9" stroke-width="0.8"/>
<polyline points="1049.9,1047.2 1057.9,1042.5 1065.9,1047.2" fill="none" stroke="#a9a9a9" stroke-width="0.6"/>
<line x1="1057.9" y1="1032.5" x2="1057.9" y2="1042.5" stroke="#a9a9a9" stroke-width="0.6"/>
<polyline points="1039.4,1042.2 1039.4,1052.2 1057.9,1062.9 1076.4,1052.2 1076.4,1042.2" fill="none" stroke="#a9a9a9" stroke-width="0.6"/>
<line x1="1057.9" y1="1052.9" x2="1057.9" y2="1062.9" stroke="#a9a9a9" stroke-width="0.6"/>
<polygon points="1039.4,1042.2 1057.9,1031.5 1076.4,1042.2 1057.9,1052.9" fill="none" stroke="#b9b9b9" stroke-width="0.9"/>
<polygon points="1041.2,1042.2 1057.9,1032.5 1074.6,1042.2 1057.9,1051.9" fill="none" stroke="#b9b9b9" stroke-width="0.8"/>
<polyline points="1082.9,1084.4 1090.9,1079.8 1098.9,1084.4" fill="none" stroke="#a9a9a9" stroke-width="0.6"/>
<line x1="1090.9" y1="1069.8" x2="1090.9" y2="1079.8" stroke="#a9a9a9" stroke-width="0.6"/>
<polyline points="1074,1078.5 1074,1088.5 1090.9,1098.3 1107.8,1088.5 1107.8,1078.5" fill="none" stroke="#a9a9a9" stroke-width="0.6"/>
<line x1="1090.9" y1="1088.3" x2="1090.9" y2="1098.3" stroke="#a9a9a9" stroke-width="0.6"/>
<polygon points="1074,1078.5 1090.9,1068.7 1107.8,1078.5 1090.9,1088.3" fill="none" stroke="#b9b9b9" stroke-width="0.9"/>
<polygon points="1075.8,1078.5 1090.9,1069.8 1106,1078.5 1090.9,1087.2" fill="none" stroke="#b9b9b9" stroke-width="0.8"/>
<polyline points="1102.3,1078.2 1110.3,1073.6 1118.3,1078.2" fill="none" stroke="#a9a9a9" stroke-width="0.6"/>
<line x1="1110.3" y1="1063.6" x2="1110.3" y2="1073.6" stroke="#a9a9a9" stroke-width="0.6"/>
<polyline points="1095.5,1071.1 1095.5,1081.1 1110.3,1089.7 1125.1,1081.1 1125.1,1071.1" fill="none" stroke="#a9a9a9" stroke-width="0.6"/>
<line x1="1110.3" y1="1079.7" x2="1110.3" y2="1089.7" stroke="#a9a9a9" stroke-width="0.6"/>
<polygon points="1095.5,1071.1 1110.3,1062.5 1125.1,1071.1 1110.3,1079.7" fill="none" stroke="#b9b9b9" stroke-width="0.9"/>
<polygon points="1097.2,1071.1 1110.3,1063.6 1123.3,1071.1 1110.3,1078.6" fill="none" stroke="#b9b9b9" stroke-width="0.8"/>
<polyline points="852,1290.7 1047.5,1177.7" fill="none" stroke="#262626" stroke-width="1.15"/>
<polyline points="1047.5,1177.7 1058.6,1184.1 1058.6,1181.9 1079.2,1193.8 1079.2,1196 1108.7,1213.1 1108.7,1210.9 1134.1,1225.5 1134.1,1227.7 1153.1,1238.7" fill="none" stroke="#262626" stroke-width="1.15"/>
<polygon points="852,1290.7 957.6,1351.7 1153.1,1238.7 1153.1,1240.4 957.6,1353.4 852,1292.4" fill="#a8a8a8" stroke="none" stroke-width="0"/>
<polyline points="852,1290.7 957.6,1351.7 1153.1,1238.7" fill="none" stroke="#1e1e1e" stroke-width="0.95"/>
<polyline points="852,1292.4 957.6,1353.4 1153.1,1240.4" fill="none" stroke="#4a4a4a" stroke-width="0.7"/>
<polyline points="889.9,1293.3 897.9,1288.7 905.9,1293.3" fill="none" stroke="#a9a9a9" stroke-width="0.6"/>
<line x1="897.9" y1="1278.7" x2="897.9" y2="1288.7" stroke="#a9a9a9" stroke-width="0.6"/>
<polyline points="881,1287.4 881,1297.4 897.9,1307.2 914.8,1297.4 914.8,1287.4" fill="none" stroke="#a9a9a9" stroke-width="0.6"/>
<line x1="897.9" y1="1297.2" x2="897.9" y2="1307.2" stroke="#a9a9a9" stroke-width="0.6"/>
<polygon points="881,1287.4 897.9,1277.6 914.8,1287.4 897.9,1297.2" fill="none" stroke="#b9b9b9" stroke-width="0.9"/>
<polygon points="882.8,1287.4 897.9,1278.7 913,1287.4 897.9,1296.1" fill="none" stroke="#b9b9b9" stroke-width="0.8"/>
<polyline points="922.4,1275 930.4,1270.3 938.4,1275" fill="none" stroke="#a9a9a9" stroke-width="0.6"/>
<line x1="930.4" y1="1260.3" x2="930.4" y2="1270.3" stroke="#a9a9a9" stroke-width="0.6"/>
<polyline points="913.1,1269.3 913.1,1279.3 930.4,1289.3 947.7,1279.3 947.7,1269.3" fill="none" stroke="#a9a9a9" stroke-width="0.6"/>
<line x1="930.4" y1="1279.3" x2="930.4" y2="1289.3" stroke="#a9a9a9" stroke-width="0.6"/>
<polygon points="913.1,1269.3 930.4,1259.3 947.7,1269.3 930.4,1279.3" fill="none" stroke="#b9b9b9" stroke-width="0.9"/>
<polygon points="914.9,1269.3 930.4,1260.3 945.9,1269.3 930.4,1278.3" fill="none" stroke="#b9b9b9" stroke-width="0.8"/>
<polyline points="939.3,1325.6 947.3,1320.9 955.3,1325.6" fill="none" stroke="#a9a9a9" stroke-width="0.6"/>
<line x1="947.3" y1="1310.9" x2="947.3" y2="1320.9" stroke="#a9a9a9" stroke-width="0.6"/>
<polyline points="934.3,1317.4 934.3,1327.4 947.3,1334.9 960.3,1327.4 960.3,1317.4" fill="none" stroke="#a9a9a9" stroke-width="0.6"/>
<line x1="947.3" y1="1324.9" x2="947.3" y2="1334.9" stroke="#a9a9a9" stroke-width="0.6"/>
<polygon points="934.3,1317.4 947.3,1309.9 960.3,1317.4 947.3,1324.9" fill="none" stroke="#b9b9b9" stroke-width="0.9"/>
<polygon points="936.1,1317.4 947.3,1310.9 958.5,1317.4 947.3,1323.9" fill="none" stroke="#b9b9b9" stroke-width="0.8"/>
<polyline points="970.2,1302.6 978.2,1297.9 986.2,1302.6" fill="none" stroke="#a9a9a9" stroke-width="0.6"/>
<line x1="978.2" y1="1287.9" x2="978.2" y2="1297.9" stroke="#a9a9a9" stroke-width="0.6"/>
<polyline points="960.9,1296.9 960.9,1306.9 978.2,1316.9 995.5,1306.9 995.5,1296.9" fill="none" stroke="#a9a9a9" stroke-width="0.6"/>
<line x1="978.2" y1="1306.9" x2="978.2" y2="1316.9" stroke="#a9a9a9" stroke-width="0.6"/>
<polygon points="960.9,1296.9 978.2,1286.9 995.5,1296.9 978.2,1306.9" fill="none" stroke="#b9b9b9" stroke-width="0.9"/>
<polygon points="962.7,1296.9 978.2,1287.9 993.7,1296.9 978.2,1305.9" fill="none" stroke="#b9b9b9" stroke-width="0.8"/>
<polyline points="1049.9,1199.6 1057.9,1194.9 1065.9,1199.6" fill="none" stroke="#a9a9a9" stroke-width="0.6"/>
<line x1="1057.9" y1="1184.9" x2="1057.9" y2="1194.9" stroke="#a9a9a9" stroke-width="0.6"/>
<polyline points="1039.4,1194.6 1039.4,1204.6 1057.9,1215.3 1076.4,1204.6 1076.4,1194.6" fill="none" stroke="#a9a9a9" stroke-width="0.6"/>
<line x1="1057.9" y1="1205.3" x2="1057.9" y2="1215.3" stroke="#a9a9a9" stroke-width="0.6"/>
<polygon points="1039.4,1194.6 1057.9,1183.9 1076.4,1194.6 1057.9,1205.3" fill="none" stroke="#b9b9b9" stroke-width="0.9"/>
<polygon points="1041.2,1194.6 1057.9,1184.9 1074.6,1194.6 1057.9,1204.3" fill="none" stroke="#b9b9b9" stroke-width="0.8"/>
<polyline points="1082.9,1236.8 1090.9,1232.2 1098.9,1236.8" fill="none" stroke="#a9a9a9" stroke-width="0.6"/>
<line x1="1090.9" y1="1222.2" x2="1090.9" y2="1232.2" stroke="#a9a9a9" stroke-width="0.6"/>
<polyline points="1074,1230.9 1074,1240.9 1090.9,1250.7 1107.8,1240.9 1107.8,1230.9" fill="none" stroke="#a9a9a9" stroke-width="0.6"/>
<line x1="1090.9" y1="1240.7" x2="1090.9" y2="1250.7" stroke="#a9a9a9" stroke-width="0.6"/>
<polygon points="1074,1230.9 1090.9,1221.1 1107.8,1230.9 1090.9,1240.7" fill="none" stroke="#b9b9b9" stroke-width="0.9"/>
<polygon points="1075.8,1230.9 1090.9,1222.2 1106,1230.9 1090.9,1239.6" fill="none" stroke="#b9b9b9" stroke-width="0.8"/>
<polyline points="1102.3,1230.6 1110.3,1226 1118.3,1230.6" fill="none" stroke="#a9a9a9" stroke-width="0.6"/>
<line x1="1110.3" y1="1216" x2="1110.3" y2="1226" stroke="#a9a9a9" stroke-width="0.6"/>
<polyline points="1095.5,1223.5 1095.5,1233.5 1110.3,1242.1 1125.1,1233.5 1125.1,1223.5" fill="none" stroke="#a9a9a9" stroke-width="0.6"/>
<line x1="1110.3" y1="1232.1" x2="1110.3" y2="1242.1" stroke="#a9a9a9" stroke-width="0.6"/>
<polygon points="1095.5,1223.5 1110.3,1214.9 1125.1,1223.5 1110.3,1232.1" fill="none" stroke="#b9b9b9" stroke-width="0.9"/>
<polygon points="1097.2,1223.5 1110.3,1216 1123.3,1223.5 1110.3,1231" fill="none" stroke="#b9b9b9" stroke-width="0.8"/>
<line x1="893.1" y1="366.3" x2="893.1" y2="1294.7" stroke="#c4a9da" stroke-width="2.3"/>
<line x1="930.4" y1="349" x2="930.4" y2="1277.3" stroke="#ebcba8" stroke-width="2.6"/>
<line x1="946.4" y1="395.2" x2="946.4" y2="1323" stroke="#ebcba8" stroke-width="2.6"/>
<line x1="976.6" y1="378.7" x2="976.6" y2="1307" stroke="#c4a9da" stroke-width="2.3"/>
<line x1="1060.2" y1="274.8" x2="1060.2" y2="1201.8" stroke="#ebcba8" stroke-width="2.6"/>
<line x1="1090.4" y1="311.9" x2="1090.4" y2="1239" stroke="#ebcba8" stroke-width="2.6"/>
<line x1="1110" y1="304.5" x2="1110" y2="1232.8" stroke="#ebcba8" stroke-width="2.6"/>
<ellipse cx="1010.7" cy="813.2" rx="43" ry="22" transform="rotate(25 1010.7 813.2)" fill="none" stroke="#172f8e" stroke-width="3.0"/>
<line x1="925.8" y1="761.3" x2="975.3" y2="790" stroke="#172f8e" stroke-width="2.6"/>
<polygon points="910.9,758 921.6,752.2 922.5,759.6" fill="#172f8e"/>
<line x1="1047.9" y1="833.9" x2="1092.4" y2="857.8" stroke="#172f8e" stroke-width="2.6"/>
<polygon points="1095.7,858.6 1107.3,859.4 1097.4,865.2" fill="#172f8e"/>
<line x1="990" y1="786" x2="1020.6" y2="750.5" stroke="#172f8e" stroke-width="2.6" stroke-linecap="round"/>
<polyline points="1019.4,757.9 1020.6,750.5 1013.5,752.8" fill="none" stroke="#172f8e" stroke-width="2.6" stroke-linecap="round" stroke-linejoin="miter"/>
<path d="M1016.5 791 C1030 780 1045 776 1056.1 768.7" fill="none" stroke="#172f8e" stroke-width="2.6"/>
<line x1="1052" y1="774" x2="1056.1" y2="768.7" stroke="#172f8e" stroke-width="2.6" stroke-linecap="round"/>
<polyline points="1055.3,775.7 1056.1,768.7 1049.6,771.2" fill="none" stroke="#172f8e" stroke-width="2.6" stroke-linecap="round" stroke-linejoin="miter"/>
<path d="M1056 770 C1062 785 1058 805 1049 818" fill="none" stroke="#172f8e" stroke-width="2.4"/>
<polyline points="1049.5,828.1 1072.6,833.9" fill="none" stroke="#172f8e" stroke-width="2.6"/>
<line x1="1072.6" y1="833.9" x2="1109.8" y2="799.2" stroke="#172f8e" stroke-width="2.6" stroke-linecap="round"/>
<polyline points="1107.8,806.4 1109.8,799.2 1102.5,800.7" fill="none" stroke="#172f8e" stroke-width="2.6" stroke-linecap="round" stroke-linejoin="miter"/>
<polyline points="1042.1,838 1043.7,852" fill="none" stroke="#172f8e" stroke-width="2.6"/>
<line x1="1043.7" y1="852" x2="1002.5" y2="859.4" stroke="#172f8e" stroke-width="2.6" stroke-linecap="round"/>
<polyline points="1008.1,854.4 1002.5,859.4 1009.5,862.1" fill="none" stroke="#172f8e" stroke-width="2.6" stroke-linecap="round" stroke-linejoin="miter"/>
<line x1="976.1" y1="820.7" x2="954.6" y2="837.2" stroke="#172f8e" stroke-width="2.6" stroke-linecap="round"/>
<polyline points="957.3,830.2 954.6,837.2 962.1,836.4" fill="none" stroke="#172f8e" stroke-width="2.6" stroke-linecap="round" stroke-linejoin="miter"/>
<path d="M956 836 C975 832 990 834 1003 838" fill="none" stroke="#172f8e" stroke-width="2.4"/>
<polyline points="971.1,795.9 957.1,794.3" fill="none" stroke="#172f8e" stroke-width="2.6"/>
<line x1="957.1" y1="794.3" x2="920" y2="804.2" stroke="#172f8e" stroke-width="2.6" stroke-linecap="round"/>
<polyline points="925.2,798.8 920,804.2 927.2,806.3" fill="none" stroke="#172f8e" stroke-width="2.6" stroke-linecap="round" stroke-linejoin="miter"/>
<path d="M1037.5 956.8l2.2 2 1.9 2 1.8 2 1.6 2 1.3 2.1 1.2 2 1 2 .7 2 .5 1.9 .3 1.9 .1 1.8-.2 1.7-.4 1.7-.6 1.5-.9 1.4-1.1 1.4-1.2 1.2-1.5 1-1.7 1-1.8 .8-2.1 .6-2.2 .6-2.3 .3-2.5 .2-2.6 .1-2.8-.1-2.8-.3-2.9-.4-2.9-.5-3-.7-3-.9-3.1-1-3-1.1-3-1.2-2.9-1.4-2.9-1.5-2.8-1.5-2.8-1.7-2.6-1.8-2.5-1.8-2.3-1.9-2.2-1.9-2.1-2-1.8-2-1.7-2.1-1.5-2-1.3-2-1.1-2-.8-2-.7-2-.4-1.9-.2-1.8 .1-1.8 .3-1.7 .5-1.6 .7-1.5 1-1.4 1.1-1.2 1.4-1.2 1.6-1" fill="none" stroke="#172f8e" stroke-width="3.0" stroke-linecap="round"/>
<path d="M976.6 941.1l.1-.1 .1 0 .1-.1 .1 0 .1-.1 .2-.1 .2-.1 .2-.1 .1 0 .2-.1 .2-.1 .2-.1 .1 0 .2-.1 .2-.1 .2-.1 .2 0 .2-.1 .1-.1 .2 0 .2-.1 .2-.1 .2 0 .2-.1 .2-.1 .2 0 .2-.1 .2 0 .2-.1 .2-.1 .2 0 .2-.1 .3 0 .2-.1 .2 0 .2 0 .2-.1 .2 0 .2-.1 .3 0 .2-.1 .2 0 .2 0 .3-.1 .2 0 .2 0 .3-.1 .2 0 .2 0 .2 0 .3-.1 .2 0 .3 0 .2 0 .2 0 .3-.1 .2 0 .3 0 .2 0 .3 0 .2 0 .3 0 .2 0 .3-.1 .2 0 .3 0 .2 0 .3 0 .2 0 .3 0 .2 0 .3 0 .2 .1 .3 0 .3 0 .2 0 .3 0 .3 0 .2 0 .3 0 .3 .1 .2 0 .3 0 .3 0 .2 0 .3 .1 .3 0 .2 0 .3 .1 .3 0 .3 0 .2 0 .3 .1 .3 0 .3 .1 .3 0 .2 0 .3 .1 .3 0 .3 .1 .3 0 .2 .1 .3 0 .3 .1 .3 0 .3 .1 .2 0 .3 .1 .3 0 .3 .1 .3 0 .3 .1 .3 .1 .2 0 .3 .1 .3 .1 .3 0 .3 .1 .3 .1 .3 0 .3 .1 .3 .1 .2 .1 .3 0 .3 .1 .3 .1 .3 .1 .3 .1 .3 .1 .3 0 .3 .1 .3 .1 .2 .1 .3 .1 .3 .1 .3 .1 .3 .1 .3 .1 .3 .1 .3 .1 .3 .1 .3 .1 .3 .1 .3 .1 .2 .1 .3 .1 .3 .1 .3 .1 .3 .1 .3 .1 .3 .1 .3 .1 .3 .1 .3 .2 .2 .1 .3 .1 .3 .1 .3 .1 .3 .1 .3 .2 .3 .1 .3 .1 .2 .1 .3 .2 .3 .1 .3 .1 .3 .1 .3 .2 .3 .1 .2 .1 .3 .2 .3 .1 .3 .1 .3 .2 .2 .1 .3 .2 .3 .1 .3 .1 .3 .2 .2 .1 .3 .2 .3 .1 .3 .1 .2 .2 .3 .1 .3 .2 .3 .1 .2 .2 .3 .1 .3 .2 .2 .1 .3 .2 .3 .1 .3 .2 .2 .2 .3 .1 .2 .2 .3 .1 .3 .2 .2 .2 .3 .1 .3 .2 .2 .1 .3 .2 .2 .2 .3 .1 .2 .2 .3 .2 .2 .1 .3 .2 .3 .2 .2 .1 .3 .2 .2 .2 .2 .2 .3 .1 .2 .2 .3 .2 .2 .1 .3 .2 .2 .2 .2 .2 .3 .1 .2 .2 .2 .2 .3 .2 .2 .2 .2 .1 .3 .2 .2 .2 .2 .2 .3 .2 .2 .2 .2 .1 .2 .2 .2 .2 .3 .2 .2 .2 .2 .1 .1 .2 .2 .1 .1 .1 .1 0 0 .1" fill="none" stroke="#172f8e" stroke-width="3.0" stroke-dasharray="3 3.2"/>
<line x1="925" y1="914.4" x2="975" y2="943.8" stroke="#172f8e" stroke-width="2.6"/>
<polygon points="910,912.75 921.25,906.25 923.1,913.1" fill="#172f8e"/>
<line x1="1047.5" y1="986" x2="1091" y2="1010.6" stroke="#172f8e" stroke-width="2.6"/>
<polygon points="1095,1013.75 1107.5,1014.4 1097.5,1020.6" fill="#172f8e"/>
<line x1="969.4" y1="958.8" x2="955" y2="958.1" stroke="#172f8e" stroke-width="2.6" stroke-linecap="round"/>
<polyline points="960.3,955.2 955,958.1 960,961.5" fill="none" stroke="#172f8e" stroke-width="2.6" stroke-linecap="round" stroke-linejoin="miter"/>
<line x1="1005" y1="938" x2="1008" y2="933" stroke="#172f8e" stroke-width="2.4" stroke-dasharray="2.5 2"/>
<line x1="1008" y1="933" x2="1010" y2="930" stroke="#172f8e" stroke-width="2.2" stroke-linecap="round"/>
<polyline points="1009.8,936 1010,930 1004.6,932.5" fill="none" stroke="#172f8e" stroke-width="2.2" stroke-linecap="round" stroke-linejoin="miter"/>
<line x1="1036.2" y1="955" x2="1043.8" y2="946.2" stroke="#172f8e" stroke-width="2.6" stroke-linecap="round"/>
<polyline points="1042.8,952.2 1043.8,946.2 1038,948.1" fill="none" stroke="#172f8e" stroke-width="2.6" stroke-linecap="round" stroke-linejoin="miter"/>
<line x1="1050" y1="978.8" x2="1068.1" y2="975" stroke="#172f8e" stroke-width="2.6" stroke-linecap="round"/>
<polyline points="1063.7,979.1 1068.1,975 1062.5,973" fill="none" stroke="#172f8e" stroke-width="2.6" stroke-linecap="round" stroke-linejoin="miter"/>
<line x1="983.8" y1="978.8" x2="974.4" y2="985" stroke="#172f8e" stroke-width="2.6" stroke-linecap="round"/>
<polyline points="976.9,979.6 974.4,985 980.4,984.8" fill="none" stroke="#172f8e" stroke-width="2.6" stroke-linecap="round" stroke-linejoin="miter"/>
<line x1="1032.5" y1="991.2" x2="1023.8" y2="1003.1" stroke="#172f8e" stroke-width="2.6" stroke-linecap="round"/>
<polyline points="1024.3,997.1 1023.8,1003.1 1029.3,1000.8" fill="none" stroke="#172f8e" stroke-width="2.6" stroke-linecap="round" stroke-linejoin="miter"/>
<rect x="1193.8" y="1307.9" width="20.1" height="20" rx="2.2" fill="#c0a3d2"/>
<path d="M1197 1324.5 h4.5 v-4.2 h4.3 v-4.2 h5" fill="none" stroke="#fff" stroke-width="2.2"/>
<text x="1225" y="1321.4" font-family="Liberation Sans" font-size="10.6" font-weight="normal" fill="#1d1d1b" stroke="#1d1d1b" stroke-width="0.45" textLength="20.4" lengthAdjust="spacingAndGlyphs">stairs</text>
<rect x="1193.8" y="1332.2" width="20.1" height="19.8" rx="2.2" fill="#e7c39b"/>
<rect x="1198.2" y="1339.5" width="11.3" height="10.5" fill="none" stroke="#fff" stroke-width="1.3"/>
<path d="M1201.5 1338 v-3.5 M1200 1336 l1.5 -1.8 l1.5 1.8 M1206 1334 v3.5 M1204.5 1336 l1.5 1.8 l1.5 -1.8" fill="none" stroke="#fff" stroke-width="0.9"/>
<path d="M1201.5 1342.5 v6 M1206 1342.5 v6" stroke="#fff" stroke-width="2"/>
<text x="1225" y="1344.5" font-family="Liberation Sans" font-size="10.6" font-weight="normal" fill="#1d1d1b" stroke="#1d1d1b" stroke-width="0.45" textLength="62" lengthAdjust="spacingAndGlyphs">elevator + stairs</text>
<line x1="1444.8" y1="231" x2="1444.8" y2="1289.7" stroke="#c4c4c4" stroke-width="0.9" stroke-dasharray="4 3"/>
<line x1="1550.4" y1="292" x2="1550.4" y2="1350.7" stroke="#c4c4c4" stroke-width="0.9" stroke-dasharray="4 3"/>
<line x1="1745.9" y1="179" x2="1745.9" y2="1237.7" stroke="#c4c4c4" stroke-width="0.9" stroke-dasharray="4 3"/>
<line x1="1520.7" y1="795" x2="1520.7" y2="941" stroke="#c4c4c4" stroke-width="0.9" stroke-dasharray="4 3"/>
<line x1="1592.9" y1="752" x2="1592.9" y2="900" stroke="#c4c4c4" stroke-width="0.9" stroke-dasharray="4 3"/>
<line x1="1613.2" y1="722" x2="1613.2" y2="903" stroke="#c4c4c4" stroke-width="0.9" stroke-dasharray="4 3"/>
<line x1="1705.2" y1="664" x2="1705.2" y2="958" stroke="#c4c4c4" stroke-width="0.9" stroke-dasharray="4 3"/>
<line x1="1496.8" y1="205" x2="1496.8" y2="420" stroke="#c4c4c4" stroke-width="0.9" stroke-dasharray="4 3"/>
<line x1="1515.5" y1="205" x2="1515.5" y2="420" stroke="#c4c4c4" stroke-width="0.9" stroke-dasharray="4 3"/>
<line x1="1524.9" y1="205" x2="1524.9" y2="420" stroke="#c4c4c4" stroke-width="0.9" stroke-dasharray="4 3"/>
<line x1="1543.5" y1="205" x2="1543.5" y2="420" stroke="#c4c4c4" stroke-width="0.9" stroke-dasharray="4 3"/>
<line x1="1550.5" y1="205" x2="1550.5" y2="420" stroke="#c4c4c4" stroke-width="0.9" stroke-dasharray="4 3"/>
<line x1="1648.6" y1="205" x2="1648.6" y2="420" stroke="#c4c4c4" stroke-width="0.9" stroke-dasharray="4 3"/>
<line x1="1663" y1="205" x2="1663" y2="420" stroke="#c4c4c4" stroke-width="0.9" stroke-dasharray="4 3"/>
<line x1="1680" y1="205" x2="1680" y2="420" stroke="#c4c4c4" stroke-width="0.9" stroke-dasharray="4 3"/>
<line x1="1693.7" y1="205" x2="1693.7" y2="420" stroke="#c4c4c4" stroke-width="0.9" stroke-dasharray="4 3"/>
<use href="#roof" x="1188.2" y="0"/>
<polygon points="1444.8,379.7 1640.3,266.7 1745.9,327.7 1550.4,440.7" fill="#fff" stroke="none" stroke-width="0"/>
<line x1="1498.7" y1="365.6" x2="1639.4" y2="284.3" stroke="#9c9c9c" stroke-width="0.65"/>
<line x1="1498.7" y1="363.1" x2="1639.4" y2="281.8" stroke="#9c9c9c" stroke-width="0.65"/>
<line x1="1489.4" y1="394.2" x2="1559.8" y2="353.5" stroke="#9c9c9c" stroke-width="0.65"/>
<line x1="1489.4" y1="391.7" x2="1559.8" y2="351" stroke="#9c9c9c" stroke-width="0.65"/>
<line x1="1618.5" y1="319.6" x2="1645.8" y2="303.8" stroke="#9c9c9c" stroke-width="0.65"/>
<line x1="1618.5" y1="317.1" x2="1645.8" y2="301.3" stroke="#9c9c9c" stroke-width="0.65"/>
<line x1="1543" y1="391.3" x2="1585.3" y2="366.9" stroke="#9c9c9c" stroke-width="0.65"/>
<line x1="1543" y1="388.8" x2="1585.3" y2="364.4" stroke="#9c9c9c" stroke-width="0.65"/>
<line x1="1641.6" y1="334.3" x2="1683.8" y2="309.9" stroke="#9c9c9c" stroke-width="0.65"/>
<line x1="1641.6" y1="331.8" x2="1683.8" y2="307.4" stroke="#9c9c9c" stroke-width="0.65"/>
<line x1="1546.4" y1="411.3" x2="1718.4" y2="311.8" stroke="#9c9c9c" stroke-width="0.65"/>
<line x1="1546.4" y1="408.8" x2="1718.4" y2="309.3" stroke="#9c9c9c" stroke-width="0.65"/>
<line x1="1539.8" y1="434.6" x2="1706" y2="338.5" stroke="#9c9c9c" stroke-width="0.65"/>
<line x1="1539.8" y1="432.1" x2="1706" y2="336" stroke="#9c9c9c" stroke-width="0.65"/>
<line x1="1503.1" y1="386.3" x2="1527.4" y2="400.3" stroke="#9c9c9c" stroke-width="0.65"/>
<line x1="1503.1" y1="383.8" x2="1527.4" y2="397.8" stroke="#9c9c9c" stroke-width="0.65"/>
<line x1="1502.6" y1="363.4" x2="1566" y2="400" stroke="#9c9c9c" stroke-width="0.65"/>
<line x1="1502.6" y1="360.9" x2="1566" y2="397.5" stroke="#9c9c9c" stroke-width="0.65"/>
<line x1="1511.3" y1="341.3" x2="1606.3" y2="396.2" stroke="#9c9c9c" stroke-width="0.65"/>
<line x1="1511.3" y1="338.8" x2="1606.3" y2="393.7" stroke="#9c9c9c" stroke-width="0.65"/>
<line x1="1573.8" y1="305.1" x2="1607.1" y2="324.3" stroke="#9c9c9c" stroke-width="0.65"/>
<line x1="1573.8" y1="302.6" x2="1607.1" y2="321.8" stroke="#9c9c9c" stroke-width="0.65"/>
<line x1="1649.9" y1="349" x2="1668.9" y2="360" stroke="#9c9c9c" stroke-width="0.65"/>
<line x1="1649.9" y1="346.5" x2="1668.9" y2="357.5" stroke="#9c9c9c" stroke-width="0.65"/>
<line x1="1632.1" y1="311.7" x2="1656.4" y2="325.7" stroke="#9c9c9c" stroke-width="0.65"/>
<line x1="1632.1" y1="309.2" x2="1656.4" y2="323.2" stroke="#9c9c9c" stroke-width="0.65"/>
<line x1="1620.8" y1="278" x2="1679.9" y2="312.2" stroke="#9c9c9c" stroke-width="0.65"/>
<line x1="1620.8" y1="275.5" x2="1679.9" y2="309.7" stroke="#9c9c9c" stroke-width="0.65"/>
<use href="#fd" x="1465.6" y="387.2"/>
<use href="#fd" x="1466.5" y="370.8"/>
<use href="#fd" x="1473.4" y="374.8"/>
<use href="#fd" x="1481.2" y="362.3"/>
<use href="#fd" x="1502.7" y="357.8"/>
<use href="#fd" x="1532.1" y="340.9"/>
<use href="#fd" x="1538.9" y="344.8"/>
<use href="#fd" x="1539.9" y="328.4"/>
<use href="#fd" x="1546.7" y="332.4"/>
<use href="#fd" x="1553.6" y="336.3"/>
<use href="#fd" x="1554.5" y="319.9"/>
<use href="#fd" x="1561.4" y="323.9"/>
<use href="#fd" x="1568.2" y="327.9"/>
<use href="#fd" x="1569.2" y="311.5"/>
<use href="#fd" x="1576" y="315.4"/>
<use href="#fd" x="1597.6" y="310.9"/>
<use href="#fd" x="1598.5" y="294.5"/>
<use href="#fd" x="1612.2" y="302.4"/>
<use href="#fd" x="1620" y="290"/>
<use href="#fd" x="1626.9" y="294"/>
<use href="#fd" x="1627.8" y="277.6"/>
<use href="#fc" x="1487.3" y="399.7"/>
<use href="#fc" x="1494.1" y="403.7"/>
<use href="#fc" x="1498" y="393.5"/>
<use href="#fc" x="1504.9" y="397.5"/>
<use href="#fc" x="1501.9" y="383.3"/>
<use href="#fc" x="1508.8" y="387.3"/>
<use href="#fc" x="1515.6" y="391.2"/>
<use href="#fc" x="1512.6" y="377.1"/>
<use href="#fc" x="1519.5" y="381.1"/>
<use href="#fc" x="1537.1" y="378.8"/>
<use href="#fc" x="1544" y="382.8"/>
<use href="#fc" x="1547.9" y="372.6"/>
<use href="#fc" x="1551.8" y="362.4"/>
<use href="#fc" x="1558.6" y="366.4"/>
<use href="#fc" x="1587.9" y="333.6"/>
<use href="#fc" x="1609.4" y="321.2"/>
<use href="#fc" x="1620.2" y="314.9"/>
<use href="#fc" x="1627" y="318.9"/>
<use href="#fc" x="1640.8" y="326.8"/>
<use href="#fc" x="1644.7" y="316.7"/>
<use href="#fc" x="1651.5" y="320.6"/>
<use href="#fc" x="1641.7" y="302.5"/>
<use href="#fc" x="1648.5" y="306.5"/>
<use href="#fc" x="1662.3" y="314.4"/>
<use href="#fc" x="1659.3" y="300.3"/>
<use href="#fc" x="1666.2" y="304.2"/>
<use href="#fc" x="1663.2" y="290.1"/>
<use href="#fc" x="1670" y="294"/>
<use href="#fc" x="1676.9" y="298"/>
<use href="#fd" x="1512.1" y="414"/>
<use href="#fd" x="1518.9" y="418"/>
<use href="#fd" x="1532.7" y="425.9"/>
<use href="#fd" x="1539.5" y="429.9"/>
<use href="#fd" x="1547.3" y="417.5"/>
<use href="#fd" x="1555.1" y="405"/>
<use href="#fd" x="1562" y="409"/>
<use href="#fd" x="1556.1" y="388.6"/>
<use href="#fd" x="1584.4" y="388.1"/>
<use href="#fd" x="1591.3" y="392"/>
<use href="#fd" x="1592.2" y="375.6"/>
<use href="#fd" x="1599.1" y="379.6"/>
<use href="#fd" x="1606" y="383.6"/>
<use href="#fd" x="1613.8" y="371.1"/>
<use href="#fd" x="1620.6" y="375.1"/>
<use href="#fd" x="1628.4" y="362.6"/>
<use href="#fd" x="1657.8" y="345.7"/>
<use href="#fd" x="1671.5" y="353.6"/>
<use href="#fd" x="1658.7" y="329.3"/>
<use href="#fd" x="1665.6" y="333.3"/>
<use href="#fd" x="1679.3" y="341.2"/>
<use href="#fd" x="1686.2" y="345.1"/>
<use href="#fd" x="1693.9" y="332.7"/>
<use href="#fd" x="1708.6" y="324.2"/>
<use href="#fd" x="1715.5" y="328.2"/>
<rect x="1478" y="382.4" width="2" height="10" rx="1" fill="#f2f2f2" stroke="#b5b5b5" stroke-width="0.6"/>
<rect x="1496" y="392.8" width="2" height="10" rx="1" fill="#f2f2f2" stroke="#b5b5b5" stroke-width="0.6"/>
<rect x="1531.9" y="413.5" width="2" height="10" rx="1" fill="#f2f2f2" stroke="#b5b5b5" stroke-width="0.6"/>
<rect x="1476.7" y="362.5" width="2" height="10" rx="1" fill="#f2f2f2" stroke="#b5b5b5" stroke-width="0.6"/>
<rect x="1494.6" y="372.8" width="2" height="10" rx="1" fill="#f2f2f2" stroke="#b5b5b5" stroke-width="0.6"/>
<rect x="1548.5" y="403.9" width="2" height="10" rx="1" fill="#f2f2f2" stroke="#b5b5b5" stroke-width="0.6"/>
<rect x="1493.3" y="352.8" width="2" height="10" rx="1" fill="#f2f2f2" stroke="#b5b5b5" stroke-width="0.6"/>
<rect x="1547.2" y="384" width="2" height="10" rx="1" fill="#f2f2f2" stroke="#b5b5b5" stroke-width="0.6"/>
<rect x="1583.1" y="404.7" width="2" height="10" rx="1" fill="#f2f2f2" stroke="#b5b5b5" stroke-width="0.6"/>
<rect x="1509.9" y="343.2" width="2" height="10" rx="1" fill="#f2f2f2" stroke="#b5b5b5" stroke-width="0.6"/>
<rect x="1563.8" y="374.4" width="2" height="10" rx="1" fill="#f2f2f2" stroke="#b5b5b5" stroke-width="0.6"/>
<rect x="1581.7" y="384.7" width="2" height="10" rx="1" fill="#f2f2f2" stroke="#b5b5b5" stroke-width="0.6"/>
<rect x="1616.3" y="385.5" width="2" height="10" rx="1" fill="#f2f2f2" stroke="#b5b5b5" stroke-width="0.6"/>
<rect x="1632.9" y="375.9" width="2" height="10" rx="1" fill="#f2f2f2" stroke="#b5b5b5" stroke-width="0.6"/>
<rect x="1631.6" y="355.9" width="2" height="10" rx="1" fill="#f2f2f2" stroke="#b5b5b5" stroke-width="0.6"/>
<rect x="1649.5" y="366.3" width="2" height="10" rx="1" fill="#f2f2f2" stroke="#b5b5b5" stroke-width="0.6"/>
<rect x="1576.4" y="304.8" width="2" height="10" rx="1" fill="#f2f2f2" stroke="#b5b5b5" stroke-width="0.6"/>
<rect x="1648.2" y="346.3" width="2" height="10" rx="1" fill="#f2f2f2" stroke="#b5b5b5" stroke-width="0.6"/>
<rect x="1666.2" y="356.7" width="2" height="10" rx="1" fill="#f2f2f2" stroke="#b5b5b5" stroke-width="0.6"/>
<rect x="1628.9" y="316" width="2" height="10" rx="1" fill="#f2f2f2" stroke="#b5b5b5" stroke-width="0.6"/>
<rect x="1646.9" y="326.3" width="2" height="10" rx="1" fill="#f2f2f2" stroke="#b5b5b5" stroke-width="0.6"/>
<rect x="1664.8" y="336.7" width="2" height="10" rx="1" fill="#f2f2f2" stroke="#b5b5b5" stroke-width="0.6"/>
<rect x="1609.6" y="285.6" width="2" height="10" rx="1" fill="#f2f2f2" stroke="#b5b5b5" stroke-width="0.6"/>
<rect x="1627.6" y="296" width="2" height="10" rx="1" fill="#f2f2f2" stroke="#b5b5b5" stroke-width="0.6"/>
<rect x="1663.5" y="316.7" width="2" height="10" rx="1" fill="#f2f2f2" stroke="#b5b5b5" stroke-width="0.6"/>
<rect x="1681.4" y="327.1" width="2" height="10" rx="1" fill="#f2f2f2" stroke="#b5b5b5" stroke-width="0.6"/>
<rect x="1699.4" y="337.5" width="2" height="10" rx="1" fill="#f2f2f2" stroke="#b5b5b5" stroke-width="0.6"/>
<rect x="1626.2" y="276" width="2" height="10" rx="1" fill="#f2f2f2" stroke="#b5b5b5" stroke-width="0.6"/>
<rect x="1644.2" y="286.4" width="2" height="10" rx="1" fill="#f2f2f2" stroke="#b5b5b5" stroke-width="0.6"/>
<rect x="1698.1" y="317.5" width="2" height="10" rx="1" fill="#f2f2f2" stroke="#b5b5b5" stroke-width="0.6"/>
<rect x="1660.8" y="276.8" width="2" height="10" rx="1" fill="#f2f2f2" stroke="#b5b5b5" stroke-width="0.6"/>
<rect x="1678.8" y="287.1" width="2" height="10" rx="1" fill="#f2f2f2" stroke="#b5b5b5" stroke-width="0.6"/>
<rect x="1696.7" y="297.5" width="2" height="10" rx="1" fill="#f2f2f2" stroke="#b5b5b5" stroke-width="0.6"/>
<polyline points="1520.7,368.2 1521.8,375.7 1529.3,363.2 1530.4,370.7 1538,358.2 1539.1,365.7 1546.7,353.2 1547.8,360.6 1555.4,348.1 1556.5,355.6 1564,343.1 1565.1,350.6 1572.7,338.1 1573.8,345.6 1581.4,333.1 1582.5,340.6 1590,328.1 1591.1,335.6 1598.7,323.1 1599.8,330.6 1607.4,318.1 1608.5,325.6 1616,313.1 1617.1,320.6 1624.7,308.1 1625.8,315.6 1633.4,303.1 1634.5,310.6 1642,298 1643.1,305.5 1650.7,293" fill="none" stroke="#a8a8a8" stroke-width="0.6"/>
<line x1="1520.7" y1="368.2" x2="1650.7" y2="293" stroke="#9a9a9a" stroke-width="0.7"/>
<line x1="1520.7" y1="369.6" x2="1650.7" y2="294.4" stroke="#b5b5b5" stroke-width="0.5"/>
<polyline points="1553.4,387.1 1554.5,394.6 1562.1,382.1 1563.2,389.6 1570.8,377.1 1571.9,384.6 1579.4,372.1 1580.5,379.6 1588.1,367.1 1589.2,374.5 1596.8,362 1597.9,369.5 1605.4,357 1606.5,364.5 1614.1,352 1615.2,359.5 1622.8,347 1623.9,354.5 1631.4,342 1632.5,349.5 1640.1,337 1641.2,344.5 1648.8,332 1649.9,339.5 1657.4,327 1658.5,334.5 1666.1,322 1667.2,329.5 1674.8,317 1675.9,324.5 1683.4,311.9" fill="none" stroke="#a8a8a8" stroke-width="0.6"/>
<line x1="1553.4" y1="387.1" x2="1683.4" y2="311.9" stroke="#9a9a9a" stroke-width="0.7"/>
<line x1="1553.4" y1="388.5" x2="1683.4" y2="313.3" stroke="#b5b5b5" stroke-width="0.5"/>
<polyline points="1587.7,406.9 1588.8,414.4 1596.4,401.9 1597.5,409.4 1605.1,396.9 1606.2,404.4 1613.7,391.9 1614.8,399.4 1622.4,386.9 1623.5,394.4 1631.1,381.9 1632.2,389.4 1639.7,376.9 1640.8,384.4 1648.4,371.8 1649.5,379.3 1657.1,366.8 1658.2,374.3 1665.7,361.8 1666.8,369.3 1674.4,356.8 1675.5,364.3 1683.1,351.8 1684.2,359.3 1691.7,346.8 1692.8,354.3 1700.4,341.8 1701.5,349.3 1709.1,336.8 1710.2,344.3 1717.7,331.8" fill="none" stroke="#a8a8a8" stroke-width="0.6"/>
<line x1="1587.7" y1="406.9" x2="1717.7" y2="331.8" stroke="#9a9a9a" stroke-width="0.7"/>
<line x1="1587.7" y1="408.3" x2="1717.7" y2="333.2" stroke="#b5b5b5" stroke-width="0.5"/>
<polyline points="1482.7,383.3 1490.7,378.7 1498.7,383.3" fill="none" stroke="#8c8c8c" stroke-width="0.6"/>
<line x1="1490.7" y1="367.7" x2="1490.7" y2="378.7" stroke="#8c8c8c" stroke-width="0.6"/>
<polyline points="1473.8,376.4 1473.8,387.4 1490.7,397.2 1507.6,387.4 1507.6,376.4" fill="none" stroke="#8c8c8c" stroke-width="0.6"/>
<line x1="1490.7" y1="386.2" x2="1490.7" y2="397.2" stroke="#8c8c8c" stroke-width="0.6"/>
<polygon points="1473.8,376.4 1490.7,366.6 1507.6,376.4 1490.7,386.2" fill="none" stroke="#8c8c8c" stroke-width="0.9"/>
<polygon points="1475.6,376.4 1490.7,367.7 1505.8,376.4 1490.7,385.1" fill="none" stroke="#8c8c8c" stroke-width="0.8"/>
<polyline points="1515.2,365 1523.2,360.3 1531.2,365" fill="none" stroke="#8c8c8c" stroke-width="0.6"/>
<line x1="1523.2" y1="349.3" x2="1523.2" y2="360.3" stroke="#8c8c8c" stroke-width="0.6"/>
<polyline points="1505.9,358.3 1505.9,369.3 1523.2,379.3 1540.5,369.3 1540.5,358.3" fill="none" stroke="#8c8c8c" stroke-width="0.6"/>
<line x1="1523.2" y1="368.3" x2="1523.2" y2="379.3" stroke="#8c8c8c" stroke-width="0.6"/>
<polygon points="1505.9,358.3 1523.2,348.3 1540.5,358.3 1523.2,368.3" fill="none" stroke="#8c8c8c" stroke-width="0.9"/>
<polygon points="1507.7,358.3 1523.2,349.3 1538.7,358.3 1523.2,367.3" fill="none" stroke="#8c8c8c" stroke-width="0.8"/>
<polyline points="1532.1,415.6 1540.1,410.9 1548.1,415.6" fill="none" stroke="#8c8c8c" stroke-width="0.6"/>
<line x1="1540.1" y1="399.9" x2="1540.1" y2="410.9" stroke="#8c8c8c" stroke-width="0.6"/>
<polyline points="1527.1,406.4 1527.1,417.4 1540.1,424.9 1553.1,417.4 1553.1,406.4" fill="none" stroke="#8c8c8c" stroke-width="0.6"/>
<line x1="1540.1" y1="413.9" x2="1540.1" y2="424.9" stroke="#8c8c8c" stroke-width="0.6"/>
<polygon points="1527.1,406.4 1540.1,398.9 1553.1,406.4 1540.1,413.9" fill="none" stroke="#8c8c8c" stroke-width="0.9"/>
<polygon points="1528.9,406.4 1540.1,399.9 1551.3,406.4 1540.1,412.9" fill="none" stroke="#8c8c8c" stroke-width="0.8"/>
<polyline points="1563,392.6 1571,387.9 1579,392.6" fill="none" stroke="#8c8c8c" stroke-width="0.6"/>
<line x1="1571" y1="376.9" x2="1571" y2="387.9" stroke="#8c8c8c" stroke-width="0.6"/>
<polyline points="1553.7,385.9 1553.7,396.9 1571,406.9 1588.3,396.9 1588.3,385.9" fill="none" stroke="#8c8c8c" stroke-width="0.6"/>
<line x1="1571" y1="395.9" x2="1571" y2="406.9" stroke="#8c8c8c" stroke-width="0.6"/>
<polygon points="1553.7,385.9 1571,375.9 1588.3,385.9 1571,395.9" fill="none" stroke="#8c8c8c" stroke-width="0.9"/>
<polygon points="1555.5,385.9 1571,376.9 1586.5,385.9 1571,394.9" fill="none" stroke="#8c8c8c" stroke-width="0.8"/>
<polyline points="1642.7,289.6 1650.7,284.9 1658.7,289.6" fill="none" stroke="#8c8c8c" stroke-width="0.6"/>
<line x1="1650.7" y1="273.9" x2="1650.7" y2="284.9" stroke="#8c8c8c" stroke-width="0.6"/>
<polyline points="1632.2,283.6 1632.2,294.6 1650.7,305.3 1669.2,294.6 1669.2,283.6" fill="none" stroke="#8c8c8c" stroke-width="0.6"/>
<line x1="1650.7" y1="294.3" x2="1650.7" y2="305.3" stroke="#8c8c8c" stroke-width="0.6"/>
<polygon points="1632.2,283.6 1650.7,272.9 1669.2,283.6 1650.7,294.3" fill="none" stroke="#8c8c8c" stroke-width="0.9"/>
<polygon points="1634,283.6 1650.7,273.9 1667.4,283.6 1650.7,293.3" fill="none" stroke="#8c8c8c" stroke-width="0.8"/>
<polyline points="1675.7,326.8 1683.7,322.2 1691.7,326.8" fill="none" stroke="#8c8c8c" stroke-width="0.6"/>
<line x1="1683.7" y1="311.2" x2="1683.7" y2="322.2" stroke="#8c8c8c" stroke-width="0.6"/>
<polyline points="1666.8,319.9 1666.8,330.9 1683.7,340.7 1700.6,330.9 1700.6,319.9" fill="none" stroke="#8c8c8c" stroke-width="0.6"/>
<line x1="1683.7" y1="329.7" x2="1683.7" y2="340.7" stroke="#8c8c8c" stroke-width="0.6"/>
<polygon points="1666.8,319.9 1683.7,310.1 1700.6,319.9 1683.7,329.7" fill="none" stroke="#8c8c8c" stroke-width="0.9"/>
<polygon points="1668.6,319.9 1683.7,311.2 1698.8,319.9 1683.7,328.6" fill="none" stroke="#8c8c8c" stroke-width="0.8"/>
<polyline points="1695.1,320.6 1703.1,316 1711.1,320.6" fill="none" stroke="#8c8c8c" stroke-width="0.6"/>
<line x1="1703.1" y1="305" x2="1703.1" y2="316" stroke="#8c8c8c" stroke-width="0.6"/>
<polyline points="1688.2,312.5 1688.2,323.5 1703.1,332.1 1717.9,323.5 1717.9,312.5" fill="none" stroke="#8c8c8c" stroke-width="0.6"/>
<line x1="1703.1" y1="321.1" x2="1703.1" y2="332.1" stroke="#8c8c8c" stroke-width="0.6"/>
<polygon points="1688.2,312.5 1703.1,303.9 1717.9,312.5 1703.1,321.1" fill="none" stroke="#8c8c8c" stroke-width="0.9"/>
<polygon points="1690,312.5 1703.1,305 1716.1,312.5 1703.1,320" fill="none" stroke="#8c8c8c" stroke-width="0.8"/>
<ellipse cx="1602.4" cy="349.2" rx="21.5" ry="12.6" fill="none" stroke="#3a3a3a" stroke-width="0.9"/>
<path d="M1581.7 350 A20.7 12.4 0 0 1 1623.1 350" fill="none" stroke="#555" stroke-width="0.7"/>
<polyline points="1444.8,379.7 1490.2,353.5" fill="none" stroke="#262626" stroke-width="1.15"/>
<polyline points="1621.7,277.4 1640.3,266.7 1745.9,327.7" fill="none" stroke="#262626" stroke-width="1.15" stroke-linejoin="round"/>
<line x1="1490.2" y1="346.7" x2="1621.7" y2="270.6" stroke="#1e1e1e" stroke-width="1.5"/>
<line x1="1490.2" y1="353.5" x2="1490.2" y2="346.7" stroke="#1e1e1e" stroke-width="1.2"/>
<line x1="1621.7" y1="277.4" x2="1621.7" y2="270.6" stroke="#1e1e1e" stroke-width="1.2"/>
<polyline points="1490.2,353.5 1491.3,358.5 1498.9,348.4 1500.1,353.4 1507.7,343.3 1508.8,348.3 1516.5,338.3 1517.6,343.3 1525.2,333.2 1526.4,338.2 1534,328.1 1535.1,333.1 1542.8,323.1 1543.9,328 1551.6,318 1552.7,323 1560.3,312.9 1561.5,317.9 1569.1,307.9 1570.2,312.8 1577.9,302.8 1579,307.8 1586.6,297.7 1587.8,302.7 1595.4,292.6 1596.5,297.6 1604.2,287.6 1605.3,292.6 1613,282.5 1614.1,287.5 1621.7,277.4" fill="none" stroke="#a8a8a8" stroke-width="0.6"/>
<line x1="1490.2" y1="353.5" x2="1621.7" y2="277.4" stroke="#9a9a9a" stroke-width="0.7"/>
<line x1="1490.2" y1="354.9" x2="1621.7" y2="278.8" stroke="#b5b5b5" stroke-width="0.5"/>
<polygon points="1444.8,379.7 1550.4,440.7 1745.9,327.7 1745.9,329.4 1550.4,442.4 1444.8,381.4" fill="#a8a8a8" stroke="none" stroke-width="0"/>
<polyline points="1444.8,379.7 1550.4,440.7 1745.9,327.7" fill="none" stroke="#1e1e1e" stroke-width="0.95"/>
<polyline points="1444.8,381.4 1550.4,442.4 1745.9,329.4" fill="none" stroke="#4a4a4a" stroke-width="0.7"/>
<line x1="1450.7" y1="376.3" x2="1450.7" y2="368.3" stroke="#3a3633" stroke-width="1.7" stroke-linecap="round"/>
<line x1="1458.3" y1="371.9" x2="1458.3" y2="363.9" stroke="#3a3633" stroke-width="1.7" stroke-linecap="round"/>
<line x1="1474.5" y1="362.5" x2="1474.5" y2="354.5" stroke="#3a3633" stroke-width="1.7" stroke-linecap="round"/>
<line x1="1635.2" y1="269.6" x2="1635.2" y2="261.6" stroke="#3a3633" stroke-width="1.7" stroke-linecap="round"/>
<line x1="1641.5" y1="266.7" x2="1641.5" y2="257.7" stroke="#3a3633" stroke-width="1.7" stroke-linecap="round"/>
<line x1="1659.3" y1="277.7" x2="1659.3" y2="269.7" stroke="#3a3633" stroke-width="1.7" stroke-linecap="round"/>
<line x1="1675.7" y1="287.1" x2="1675.7" y2="279.1" stroke="#3a3633" stroke-width="1.7" stroke-linecap="round"/>
<line x1="1691.5" y1="296.3" x2="1691.5" y2="288.3" stroke="#3a3633" stroke-width="1.7" stroke-linecap="round"/>
<line x1="1707.7" y1="305.6" x2="1707.7" y2="297.6" stroke="#3a3633" stroke-width="1.7" stroke-linecap="round"/>
<line x1="1724" y1="315.1" x2="1724" y2="307.1" stroke="#3a3633" stroke-width="1.7" stroke-linecap="round"/>
<line x1="1740" y1="324.3" x2="1740" y2="316.3" stroke="#3a3633" stroke-width="1.7" stroke-linecap="round"/>
<use href="#ic_off" transform="translate(1559.5 306.1) scale(0.58)"/>
<use href="#ic_comp" transform="translate(1624.2 320.4) scale(0.58)"/>
<use href="#ic_off" transform="translate(1721.2 320.9) scale(0.58)"/>
<use href="#ic_meet" transform="translate(1470.1 358.9) scale(0.58)"/>
<use href="#ic_lou" transform="translate(1539.4 372.1) scale(0.58)"/>
<use href="#ic_comp" transform="translate(1659.8 354.4) scale(0.58)"/>
<use href="#ic_comp" transform="translate(1632.1 368.2) scale(0.58)"/>
<use href="#ic_mus" transform="translate(1606.5 381.2) scale(0.58)"/>
<use href="#ic_mus" transform="translate(1573.9 405.9) scale(0.58)"/>
<use href="#ic_off" transform="translate(1553.2 426.5) scale(0.58)"/>
<use href="#ic_mech" transform="translate(1652.7 297) scale(0.58)"/>
<polygon points="1444.8,532.8 1640.3,419.8 1745.9,480.8 1550.4,593.8" fill="#fff" stroke="none" stroke-width="0"/>
<line x1="1459.6" y1="541.3" x2="1612.1" y2="453.2" stroke="#9c9c9c" stroke-width="0.65"/>
<line x1="1459.6" y1="538.8" x2="1612.1" y2="450.7" stroke="#9c9c9c" stroke-width="0.65"/>
<line x1="1503.1" y1="539.4" x2="1560.2" y2="506.4" stroke="#9c9c9c" stroke-width="0.65"/>
<line x1="1503.1" y1="536.9" x2="1560.2" y2="503.9" stroke="#9c9c9c" stroke-width="0.65"/>
<line x1="1617.3" y1="473.4" x2="1645.8" y2="456.9" stroke="#9c9c9c" stroke-width="0.65"/>
<line x1="1617.3" y1="470.9" x2="1645.8" y2="454.4" stroke="#9c9c9c" stroke-width="0.65"/>
<line x1="1513.7" y1="561.3" x2="1584.1" y2="520.6" stroke="#9c9c9c" stroke-width="0.65"/>
<line x1="1513.7" y1="558.8" x2="1584.1" y2="518.1" stroke="#9c9c9c" stroke-width="0.65"/>
<line x1="1642.7" y1="486.7" x2="1670.1" y2="470.9" stroke="#9c9c9c" stroke-width="0.65"/>
<line x1="1642.7" y1="484.2" x2="1670.1" y2="468.4" stroke="#9c9c9c" stroke-width="0.65"/>
<line x1="1522.9" y1="577.9" x2="1675.4" y2="489.8" stroke="#9c9c9c" stroke-width="0.65"/>
<line x1="1522.9" y1="575.4" x2="1675.4" y2="487.3" stroke="#9c9c9c" stroke-width="0.65"/>
<line x1="1578.9" y1="565.1" x2="1692.3" y2="499.6" stroke="#9c9c9c" stroke-width="0.65"/>
<line x1="1578.9" y1="562.6" x2="1692.3" y2="497.1" stroke="#9c9c9c" stroke-width="0.65"/>
<line x1="1468.3" y1="519.2" x2="1527.4" y2="553.4" stroke="#9c9c9c" stroke-width="0.65"/>
<line x1="1468.3" y1="516.7" x2="1527.4" y2="550.9" stroke="#9c9c9c" stroke-width="0.65"/>
<line x1="1487.8" y1="507.9" x2="1566" y2="553.1" stroke="#9c9c9c" stroke-width="0.65"/>
<line x1="1487.8" y1="505.4" x2="1566" y2="550.6" stroke="#9c9c9c" stroke-width="0.65"/>
<line x1="1546.1" y1="514.5" x2="1570.4" y2="528.5" stroke="#9c9c9c" stroke-width="0.65"/>
<line x1="1546.1" y1="512" x2="1570.4" y2="526" stroke="#9c9c9c" stroke-width="0.65"/>
<line x1="1632.1" y1="464.8" x2="1702.9" y2="505.7" stroke="#9c9c9c" stroke-width="0.65"/>
<line x1="1632.1" y1="462.3" x2="1702.9" y2="503.2" stroke="#9c9c9c" stroke-width="0.65"/>
<line x1="1620.8" y1="431.1" x2="1726.3" y2="492.1" stroke="#9c9c9c" stroke-width="0.65"/>
<line x1="1620.8" y1="428.6" x2="1726.3" y2="489.6" stroke="#9c9c9c" stroke-width="0.65"/>
<use href="#fc" x="1465.6" y="540.3"/>
<use href="#fc" x="1469.5" y="530.1"/>
<use href="#fc" x="1476.4" y="534.1"/>
<use href="#fc" x="1473.4" y="519.9"/>
<use href="#fc" x="1484.1" y="513.7"/>
<use href="#fc" x="1494.9" y="507.5"/>
<use href="#fc" x="1501.8" y="511.5"/>
<use href="#fc" x="1527.1" y="488.9"/>
<use href="#fc" x="1534" y="492.8"/>
<use href="#fc" x="1540.9" y="496.8"/>
<use href="#fc" x="1537.9" y="482.6"/>
<use href="#fc" x="1544.8" y="486.6"/>
<use href="#fc" x="1551.6" y="490.6"/>
<use href="#fc" x="1555.5" y="480.4"/>
<use href="#fc" x="1562.4" y="484.4"/>
<use href="#fc" x="1570.2" y="464"/>
<use href="#fc" x="1577" y="468"/>
<use href="#fc" x="1583.9" y="471.9"/>
<use href="#fc" x="1580.9" y="457.8"/>
<use href="#fc" x="1587.8" y="461.8"/>
<use href="#fc" x="1591.7" y="451.6"/>
<use href="#fc" x="1598.5" y="455.5"/>
<use href="#fc" x="1602.4" y="445.4"/>
<use href="#fc" x="1616.1" y="453.3"/>
<use href="#fc" x="1620" y="443.1"/>
<use href="#fc" x="1626.9" y="447.1"/>
<use href="#fc" x="1623.9" y="432.9"/>
<use href="#fc" x="1637.6" y="440.9"/>
<use href="#fc" x="1634.7" y="426.7"/>
<use href="#fd" x="1480.4" y="548.8"/>
<use href="#fd" x="1487.3" y="552.8"/>
<use href="#fd" x="1494.1" y="556.8"/>
<use href="#fd" x="1495.1" y="540.4"/>
<use href="#fd" x="1501.9" y="544.3"/>
<use href="#fd" x="1508.8" y="548.3"/>
<use href="#fd" x="1515.6" y="552.3"/>
<use href="#fd" x="1509.7" y="531.9"/>
<use href="#fd" x="1516.6" y="535.9"/>
<use href="#fd" x="1530.3" y="543.8"/>
<use href="#fd" x="1531.2" y="527.4"/>
<use href="#fd" x="1545" y="535.3"/>
<use href="#fd" x="1539" y="514.9"/>
<use href="#fd" x="1552.8" y="522.9"/>
<use href="#fd" x="1559.6" y="526.8"/>
<use href="#fd" x="1553.7" y="506.5"/>
<use href="#fd" x="1574.3" y="518.4"/>
<use href="#fd" x="1568.4" y="498"/>
<use href="#fd" x="1583" y="489.5"/>
<use href="#fd" x="1627" y="464.1"/>
<use href="#fd" x="1633.9" y="468.1"/>
<use href="#fd" x="1640.7" y="472"/>
<use href="#fd" x="1647.6" y="476"/>
<use href="#fd" x="1655.4" y="463.5"/>
<use href="#fd" x="1662.3" y="467.5"/>
<use href="#fd" x="1656.3" y="447.1"/>
<use href="#fd" x="1663.2" y="451.1"/>
<use href="#fd" x="1670.1" y="455.1"/>
<use href="#fc" x="1518.9" y="571.1"/>
<use href="#fc" x="1532.7" y="579"/>
<use href="#fc" x="1522.8" y="560.9"/>
<use href="#fc" x="1536.6" y="568.9"/>
<use href="#fc" x="1554.2" y="566.6"/>
<use href="#fc" x="1561" y="570.6"/>
<use href="#fc" x="1564.9" y="560.4"/>
<use href="#fc" x="1555.1" y="542.3"/>
<use href="#fc" x="1575.7" y="554.2"/>
<use href="#fc" x="1582.5" y="558.1"/>
<use href="#fc" x="1593.3" y="551.9"/>
<use href="#fc" x="1597.2" y="541.7"/>
<use href="#fc" x="1604" y="545.7"/>
<use href="#fc" x="1601.1" y="531.6"/>
<use href="#fc" x="1607.9" y="535.5"/>
<use href="#fc" x="1611.8" y="525.3"/>
<use href="#fc" x="1618.7" y="529.3"/>
<use href="#fc" x="1625.5" y="533.3"/>
<use href="#fc" x="1622.6" y="519.1"/>
<use href="#fc" x="1629.4" y="523.1"/>
<use href="#fc" x="1633.3" y="512.9"/>
<use href="#fc" x="1640.2" y="516.9"/>
<use href="#fc" x="1644.1" y="506.7"/>
<use href="#fc" x="1650.9" y="510.7"/>
<use href="#fc" x="1661.7" y="504.5"/>
<use href="#fc" x="1651.9" y="486.3"/>
<use href="#fc" x="1665.6" y="494.3"/>
<use href="#fc" x="1662.6" y="480.1"/>
<use href="#fc" x="1669.5" y="484.1"/>
<use href="#fc" x="1676.3" y="488.1"/>
<use href="#fc" x="1683.2" y="492"/>
<use href="#fc" x="1690.1" y="496"/>
<use href="#fc" x="1693.9" y="485.8"/>
<use href="#fc" x="1700.8" y="489.8"/>
<use href="#fc" x="1697.8" y="475.6"/>
<use href="#fc" x="1704.7" y="479.6"/>
<rect x="1460.1" y="525.2" width="2" height="10" rx="1" fill="#f2f2f2" stroke="#b5b5b5" stroke-width="0.6"/>
<rect x="1478" y="535.5" width="2" height="10" rx="1" fill="#f2f2f2" stroke="#b5b5b5" stroke-width="0.6"/>
<rect x="1531.9" y="566.6" width="2" height="10" rx="1" fill="#f2f2f2" stroke="#b5b5b5" stroke-width="0.6"/>
<rect x="1549.8" y="577" width="2" height="10" rx="1" fill="#f2f2f2" stroke="#b5b5b5" stroke-width="0.6"/>
<rect x="1476.7" y="515.6" width="2" height="10" rx="1" fill="#f2f2f2" stroke="#b5b5b5" stroke-width="0.6"/>
<rect x="1512.6" y="536.3" width="2" height="10" rx="1" fill="#f2f2f2" stroke="#b5b5b5" stroke-width="0.6"/>
<rect x="1530.5" y="546.7" width="2" height="10" rx="1" fill="#f2f2f2" stroke="#b5b5b5" stroke-width="0.6"/>
<rect x="1548.5" y="557" width="2" height="10" rx="1" fill="#f2f2f2" stroke="#b5b5b5" stroke-width="0.6"/>
<rect x="1529.2" y="526.7" width="2" height="10" rx="1" fill="#f2f2f2" stroke="#b5b5b5" stroke-width="0.6"/>
<rect x="1547.2" y="537.1" width="2" height="10" rx="1" fill="#f2f2f2" stroke="#b5b5b5" stroke-width="0.6"/>
<rect x="1565.1" y="547.4" width="2" height="10" rx="1" fill="#f2f2f2" stroke="#b5b5b5" stroke-width="0.6"/>
<rect x="1583.1" y="557.8" width="2" height="10" rx="1" fill="#f2f2f2" stroke="#b5b5b5" stroke-width="0.6"/>
<rect x="1581.7" y="537.8" width="2" height="10" rx="1" fill="#f2f2f2" stroke="#b5b5b5" stroke-width="0.6"/>
<rect x="1544.5" y="497.1" width="2" height="10" rx="1" fill="#f2f2f2" stroke="#b5b5b5" stroke-width="0.6"/>
<rect x="1562.4" y="507.5" width="2" height="10" rx="1" fill="#f2f2f2" stroke="#b5b5b5" stroke-width="0.6"/>
<rect x="1580.4" y="517.8" width="2" height="10" rx="1" fill="#f2f2f2" stroke="#b5b5b5" stroke-width="0.6"/>
<rect x="1615" y="518.6" width="2" height="10" rx="1" fill="#f2f2f2" stroke="#b5b5b5" stroke-width="0.6"/>
<rect x="1632.9" y="529" width="2" height="10" rx="1" fill="#f2f2f2" stroke="#b5b5b5" stroke-width="0.6"/>
<rect x="1559.8" y="467.5" width="2" height="10" rx="1" fill="#f2f2f2" stroke="#b5b5b5" stroke-width="0.6"/>
<rect x="1631.6" y="509" width="2" height="10" rx="1" fill="#f2f2f2" stroke="#b5b5b5" stroke-width="0.6"/>
<rect x="1649.5" y="519.4" width="2" height="10" rx="1" fill="#f2f2f2" stroke="#b5b5b5" stroke-width="0.6"/>
<rect x="1576.4" y="457.9" width="2" height="10" rx="1" fill="#f2f2f2" stroke="#b5b5b5" stroke-width="0.6"/>
<rect x="1594.3" y="468.3" width="2" height="10" rx="1" fill="#f2f2f2" stroke="#b5b5b5" stroke-width="0.6"/>
<rect x="1648.2" y="499.4" width="2" height="10" rx="1" fill="#f2f2f2" stroke="#b5b5b5" stroke-width="0.6"/>
<rect x="1666.2" y="509.8" width="2" height="10" rx="1" fill="#f2f2f2" stroke="#b5b5b5" stroke-width="0.6"/>
<rect x="1611" y="458.7" width="2" height="10" rx="1" fill="#f2f2f2" stroke="#b5b5b5" stroke-width="0.6"/>
<rect x="1628.9" y="469.1" width="2" height="10" rx="1" fill="#f2f2f2" stroke="#b5b5b5" stroke-width="0.6"/>
<rect x="1664.8" y="489.8" width="2" height="10" rx="1" fill="#f2f2f2" stroke="#b5b5b5" stroke-width="0.6"/>
<rect x="1682.8" y="500.2" width="2" height="10" rx="1" fill="#f2f2f2" stroke="#b5b5b5" stroke-width="0.6"/>
<rect x="1609.6" y="438.7" width="2" height="10" rx="1" fill="#f2f2f2" stroke="#b5b5b5" stroke-width="0.6"/>
<rect x="1627.6" y="449.1" width="2" height="10" rx="1" fill="#f2f2f2" stroke="#b5b5b5" stroke-width="0.6"/>
<rect x="1645.5" y="459.5" width="2" height="10" rx="1" fill="#f2f2f2" stroke="#b5b5b5" stroke-width="0.6"/>
<rect x="1663.5" y="469.8" width="2" height="10" rx="1" fill="#f2f2f2" stroke="#b5b5b5" stroke-width="0.6"/>
<rect x="1681.4" y="480.2" width="2" height="10" rx="1" fill="#f2f2f2" stroke="#b5b5b5" stroke-width="0.6"/>
<rect x="1699.4" y="490.6" width="2" height="10" rx="1" fill="#f2f2f2" stroke="#b5b5b5" stroke-width="0.6"/>
<rect x="1644.2" y="439.5" width="2" height="10" rx="1" fill="#f2f2f2" stroke="#b5b5b5" stroke-width="0.6"/>
<rect x="1662.1" y="449.8" width="2" height="10" rx="1" fill="#f2f2f2" stroke="#b5b5b5" stroke-width="0.6"/>
<rect x="1680.1" y="460.2" width="2" height="10" rx="1" fill="#f2f2f2" stroke="#b5b5b5" stroke-width="0.6"/>
<rect x="1698.1" y="470.6" width="2" height="10" rx="1" fill="#f2f2f2" stroke="#b5b5b5" stroke-width="0.6"/>
<rect x="1716" y="481" width="2" height="10" rx="1" fill="#f2f2f2" stroke="#b5b5b5" stroke-width="0.6"/>
<rect x="1642.9" y="419.5" width="2" height="10" rx="1" fill="#f2f2f2" stroke="#b5b5b5" stroke-width="0.6"/>
<rect x="1660.8" y="429.9" width="2" height="10" rx="1" fill="#f2f2f2" stroke="#b5b5b5" stroke-width="0.6"/>
<rect x="1714.7" y="461" width="2" height="10" rx="1" fill="#f2f2f2" stroke="#b5b5b5" stroke-width="0.6"/>
<polyline points="1520.7,521.3 1521.8,528.8 1529.3,516.3 1530.4,523.8 1538,511.3 1539.1,518.8 1546.7,506.3 1547.8,513.7 1555.4,501.2 1556.5,508.7 1564,496.2 1565.1,503.7 1572.7,491.2 1573.8,498.7 1581.4,486.2 1582.5,493.7 1590,481.2 1591.1,488.7 1598.7,476.2 1599.8,483.7 1607.4,471.2 1608.5,478.7 1616,466.2 1617.1,473.7 1624.7,461.2 1625.8,468.7 1633.4,456.2 1634.5,463.7 1642,451.1 1643.1,458.6 1650.7,446.1" fill="none" stroke="#a8a8a8" stroke-width="0.6"/>
<line x1="1520.7" y1="521.3" x2="1650.7" y2="446.1" stroke="#9a9a9a" stroke-width="0.7"/>
<line x1="1520.7" y1="522.7" x2="1650.7" y2="447.5" stroke="#b5b5b5" stroke-width="0.5"/>
<polyline points="1553.4,540.2 1554.5,547.7 1562.1,535.2 1563.2,542.7 1570.8,530.2 1571.9,537.7 1579.4,525.2 1580.5,532.7 1588.1,520.2 1589.2,527.6 1596.8,515.1 1597.9,522.6 1605.4,510.1 1606.5,517.6 1614.1,505.1 1615.2,512.6 1622.8,500.1 1623.9,507.6 1631.4,495.1 1632.5,502.6 1640.1,490.1 1641.2,497.6 1648.8,485.1 1649.9,492.6 1657.4,480.1 1658.5,487.6 1666.1,475.1 1667.2,482.6 1674.8,470.1 1675.9,477.6 1683.4,465" fill="none" stroke="#a8a8a8" stroke-width="0.6"/>
<line x1="1553.4" y1="540.2" x2="1683.4" y2="465" stroke="#9a9a9a" stroke-width="0.7"/>
<line x1="1553.4" y1="541.6" x2="1683.4" y2="466.4" stroke="#b5b5b5" stroke-width="0.5"/>
<polyline points="1587.7,560 1588.8,567.5 1596.4,555 1597.5,562.5 1605.1,550 1606.2,557.5 1613.7,545 1614.8,552.5 1622.4,540 1623.5,547.5 1631.1,535 1632.2,542.5 1639.7,530 1640.8,537.5 1648.4,524.9 1649.5,532.4 1657.1,519.9 1658.2,527.4 1665.7,514.9 1666.8,522.4 1674.4,509.9 1675.5,517.4 1683.1,504.9 1684.2,512.4 1691.7,499.9 1692.8,507.4 1700.4,494.9 1701.5,502.4 1709.1,489.9 1710.2,497.4 1717.7,484.9" fill="none" stroke="#a8a8a8" stroke-width="0.6"/>
<line x1="1587.7" y1="560" x2="1717.7" y2="484.9" stroke="#9a9a9a" stroke-width="0.7"/>
<line x1="1587.7" y1="561.4" x2="1717.7" y2="486.3" stroke="#b5b5b5" stroke-width="0.5"/>
<polyline points="1482.7,536.4 1490.7,531.8 1498.7,536.4" fill="none" stroke="#8c8c8c" stroke-width="0.6"/>
<line x1="1490.7" y1="520.8" x2="1490.7" y2="531.8" stroke="#8c8c8c" stroke-width="0.6"/>
<polyline points="1473.8,529.5 1473.8,540.5 1490.7,550.3 1507.6,540.5 1507.6,529.5" fill="none" stroke="#8c8c8c" stroke-width="0.6"/>
<line x1="1490.7" y1="539.3" x2="1490.7" y2="550.3" stroke="#8c8c8c" stroke-width="0.6"/>
<polygon points="1473.8,529.5 1490.7,519.7 1507.6,529.5 1490.7,539.3" fill="none" stroke="#8c8c8c" stroke-width="0.9"/>
<polygon points="1475.6,529.5 1490.7,520.8 1505.8,529.5 1490.7,538.2" fill="none" stroke="#8c8c8c" stroke-width="0.8"/>
<polyline points="1515.2,518.1 1523.2,513.4 1531.2,518.1" fill="none" stroke="#8c8c8c" stroke-width="0.6"/>
<line x1="1523.2" y1="502.4" x2="1523.2" y2="513.4" stroke="#8c8c8c" stroke-width="0.6"/>
<polyline points="1505.9,511.4 1505.9,522.4 1523.2,532.4 1540.5,522.4 1540.5,511.4" fill="none" stroke="#8c8c8c" stroke-width="0.6"/>
<line x1="1523.2" y1="521.4" x2="1523.2" y2="532.4" stroke="#8c8c8c" stroke-width="0.6"/>
<polygon points="1505.9,511.4 1523.2,501.4 1540.5,511.4 1523.2,521.4" fill="none" stroke="#8c8c8c" stroke-width="0.9"/>
<polygon points="1507.7,511.4 1523.2,502.4 1538.7,511.4 1523.2,520.4" fill="none" stroke="#8c8c8c" stroke-width="0.8"/>
<polyline points="1532.1,568.7 1540.1,564 1548.1,568.7" fill="none" stroke="#8c8c8c" stroke-width="0.6"/>
<line x1="1540.1" y1="553" x2="1540.1" y2="564" stroke="#8c8c8c" stroke-width="0.6"/>
<polyline points="1527.1,559.5 1527.1,570.5 1540.1,578 1553.1,570.5 1553.1,559.5" fill="none" stroke="#8c8c8c" stroke-width="0.6"/>
<line x1="1540.1" y1="567" x2="1540.1" y2="578" stroke="#8c8c8c" stroke-width="0.6"/>
<polygon points="1527.1,559.5 1540.1,552 1553.1,559.5 1540.1,567" fill="none" stroke="#8c8c8c" stroke-width="0.9"/>
<polygon points="1528.9,559.5 1540.1,553 1551.3,559.5 1540.1,566" fill="none" stroke="#8c8c8c" stroke-width="0.8"/>
<polyline points="1563,545.7 1571,541 1579,545.7" fill="none" stroke="#8c8c8c" stroke-width="0.6"/>
<line x1="1571" y1="530" x2="1571" y2="541" stroke="#8c8c8c" stroke-width="0.6"/>
<polyline points="1553.7,539 1553.7,550 1571,560 1588.3,550 1588.3,539" fill="none" stroke="#8c8c8c" stroke-width="0.6"/>
<line x1="1571" y1="549" x2="1571" y2="560" stroke="#8c8c8c" stroke-width="0.6"/>
<polygon points="1553.7,539 1571,529 1588.3,539 1571,549" fill="none" stroke="#8c8c8c" stroke-width="0.9"/>
<polygon points="1555.5,539 1571,530 1586.5,539 1571,548" fill="none" stroke="#8c8c8c" stroke-width="0.8"/>
<polyline points="1642.7,442.7 1650.7,438 1658.7,442.7" fill="none" stroke="#8c8c8c" stroke-width="0.6"/>
<line x1="1650.7" y1="427" x2="1650.7" y2="438" stroke="#8c8c8c" stroke-width="0.6"/>
<polyline points="1632.2,436.7 1632.2,447.7 1650.7,458.4 1669.2,447.7 1669.2,436.7" fill="none" stroke="#8c8c8c" stroke-width="0.6"/>
<line x1="1650.7" y1="447.4" x2="1650.7" y2="458.4" stroke="#8c8c8c" stroke-width="0.6"/>
<polygon points="1632.2,436.7 1650.7,426 1669.2,436.7 1650.7,447.4" fill="none" stroke="#8c8c8c" stroke-width="0.9"/>
<polygon points="1634,436.7 1650.7,427 1667.4,436.7 1650.7,446.4" fill="none" stroke="#8c8c8c" stroke-width="0.8"/>
<polyline points="1675.7,479.9 1683.7,475.3 1691.7,479.9" fill="none" stroke="#8c8c8c" stroke-width="0.6"/>
<line x1="1683.7" y1="464.3" x2="1683.7" y2="475.3" stroke="#8c8c8c" stroke-width="0.6"/>
<polyline points="1666.8,473 1666.8,484 1683.7,493.8 1700.6,484 1700.6,473" fill="none" stroke="#8c8c8c" stroke-width="0.6"/>
<line x1="1683.7" y1="482.8" x2="1683.7" y2="493.8" stroke="#8c8c8c" stroke-width="0.6"/>
<polygon points="1666.8,473 1683.7,463.2 1700.6,473 1683.7,482.8" fill="none" stroke="#8c8c8c" stroke-width="0.9"/>
<polygon points="1668.6,473 1683.7,464.3 1698.8,473 1683.7,481.7" fill="none" stroke="#8c8c8c" stroke-width="0.8"/>
<polyline points="1695.1,473.7 1703.1,469.1 1711.1,473.7" fill="none" stroke="#8c8c8c" stroke-width="0.6"/>
<line x1="1703.1" y1="458.1" x2="1703.1" y2="469.1" stroke="#8c8c8c" stroke-width="0.6"/>
<polyline points="1688.2,465.6 1688.2,476.6 1703.1,485.2 1717.9,476.6 1717.9,465.6" fill="none" stroke="#8c8c8c" stroke-width="0.6"/>
<line x1="1703.1" y1="474.2" x2="1703.1" y2="485.2" stroke="#8c8c8c" stroke-width="0.6"/>
<polygon points="1688.2,465.6 1703.1,457 1717.9,465.6 1703.1,474.2" fill="none" stroke="#8c8c8c" stroke-width="0.9"/>
<polygon points="1690,465.6 1703.1,458.1 1716.1,465.6 1703.1,473.1" fill="none" stroke="#8c8c8c" stroke-width="0.8"/>
<ellipse cx="1602.4" cy="502.3" rx="21.5" ry="12.6" fill="none" stroke="#3a3a3a" stroke-width="0.9"/>
<path d="M1581.7 503.1 A20.7 12.4 0 0 1 1623.1 503.1" fill="none" stroke="#555" stroke-width="0.7"/>
<polyline points="1444.8,532.8 1490.2,506.6" fill="none" stroke="#262626" stroke-width="1.15"/>
<polyline points="1621.7,430.5 1640.3,419.8 1745.9,480.8" fill="none" stroke="#262626" stroke-width="1.15" stroke-linejoin="round"/>
<line x1="1490.2" y1="499.8" x2="1621.7" y2="423.7" stroke="#1e1e1e" stroke-width="1.5"/>
<line x1="1490.2" y1="506.6" x2="1490.2" y2="499.8" stroke="#1e1e1e" stroke-width="1.2"/>
<line x1="1621.7" y1="430.5" x2="1621.7" y2="423.7" stroke="#1e1e1e" stroke-width="1.2"/>
<polyline points="1490.2,506.6 1491.3,511.6 1498.9,501.5 1500.1,506.5 1507.7,496.4 1508.8,501.4 1516.5,491.4 1517.6,496.4 1525.2,486.3 1526.4,491.3 1534,481.2 1535.1,486.2 1542.8,476.2 1543.9,481.1 1551.6,471.1 1552.7,476.1 1560.3,466 1561.5,471 1569.1,461 1570.2,465.9 1577.9,455.9 1579,460.9 1586.6,450.8 1587.8,455.8 1595.4,445.7 1596.5,450.7 1604.2,440.7 1605.3,445.7 1613,435.6 1614.1,440.6 1621.7,430.5" fill="none" stroke="#a8a8a8" stroke-width="0.6"/>
<line x1="1490.2" y1="506.6" x2="1621.7" y2="430.5" stroke="#9a9a9a" stroke-width="0.7"/>
<line x1="1490.2" y1="508" x2="1621.7" y2="431.9" stroke="#b5b5b5" stroke-width="0.5"/>
<polygon points="1444.8,532.8 1550.4,593.8 1609,559.9 1609,557.4 1609,559.1 1609,561.6 1550.4,595.5 1444.8,534.5" fill="#a8a8a8" stroke="none" stroke-width="0"/>
<polyline points="1444.8,532.8 1550.4,593.8 1609,559.9 1609,557.4" fill="none" stroke="#1e1e1e" stroke-width="0.95"/>
<polyline points="1444.8,534.5 1550.4,595.5 1609,561.6 1609,559.1" fill="none" stroke="#4a4a4a" stroke-width="0.7"/>
<polygon points="1609,557.4 1691.2,509.9 1691.2,512.4 1691.2,514.1 1691.2,511.6 1609,559.1" fill="#a8a8a8" stroke="none" stroke-width="0"/>
<polyline points="1609,557.4 1691.2,509.9 1691.2,512.4" fill="none" stroke="#1e1e1e" stroke-width="0.95"/>
<polyline points="1609,559.1 1691.2,511.6 1691.2,514.1" fill="none" stroke="#4a4a4a" stroke-width="0.7"/>
<polygon points="1691.2,512.4 1745.9,480.8 1745.9,482.5 1691.2,514.1" fill="#a8a8a8" stroke="none" stroke-width="0"/>
<polyline points="1691.2,512.4 1745.9,480.8" fill="none" stroke="#1e1e1e" stroke-width="0.95"/>
<polyline points="1691.2,514.1 1745.9,482.5" fill="none" stroke="#4a4a4a" stroke-width="0.7"/>
<line x1="1450.7" y1="529.4" x2="1450.7" y2="521.4" stroke="#3a3633" stroke-width="1.7" stroke-linecap="round"/>
<line x1="1458.3" y1="525" x2="1458.3" y2="517" stroke="#3a3633" stroke-width="1.7" stroke-linecap="round"/>
<line x1="1474.5" y1="515.6" x2="1474.5" y2="507.6" stroke="#3a3633" stroke-width="1.7" stroke-linecap="round"/>
<line x1="1635.2" y1="422.7" x2="1635.2" y2="414.7" stroke="#3a3633" stroke-width="1.7" stroke-linecap="round"/>
<line x1="1641.5" y1="419.8" x2="1641.5" y2="410.8" stroke="#3a3633" stroke-width="1.7" stroke-linecap="round"/>
<line x1="1659.3" y1="430.8" x2="1659.3" y2="422.8" stroke="#3a3633" stroke-width="1.7" stroke-linecap="round"/>
<line x1="1675.7" y1="440.2" x2="1675.7" y2="432.2" stroke="#3a3633" stroke-width="1.7" stroke-linecap="round"/>
<line x1="1691.5" y1="449.4" x2="1691.5" y2="441.4" stroke="#3a3633" stroke-width="1.7" stroke-linecap="round"/>
<line x1="1707.7" y1="458.7" x2="1707.7" y2="450.7" stroke="#3a3633" stroke-width="1.7" stroke-linecap="round"/>
<line x1="1724" y1="468.2" x2="1724" y2="460.2" stroke="#3a3633" stroke-width="1.7" stroke-linecap="round"/>
<line x1="1740" y1="477.4" x2="1740" y2="469.4" stroke="#3a3633" stroke-width="1.7" stroke-linecap="round"/>
<use href="#ic_off" transform="translate(1453.9 513.8) scale(0.58)"/>
<use href="#ic_sem" transform="translate(1477.8 503.9) scale(0.58)"/>
<use href="#ic_sem" transform="translate(1515.8 538.1) scale(0.58)"/>
<use href="#ic_lou" transform="translate(1539.4 522.6) scale(0.58)"/>
<use href="#ic_read" transform="translate(1556.2 461.5) scale(0.58)"/>
<use href="#ic_read" transform="translate(1573.5 504.8) scale(0.58)"/>
<use href="#ic_meet" transform="translate(1556.2 565) scale(0.58)"/>
<use href="#ic_read" transform="translate(1629.6 508.9) scale(0.58)"/>
<use href="#ic_lou" transform="translate(1661.8 457.7) scale(0.58)"/>
<use href="#ic_mech" transform="translate(1661.8 443.7) scale(0.58)"/>
<use href="#ic_off" transform="translate(1713.8 474.2) scale(0.58)"/>
<polygon points="256.5,684.6 362.1,746.5 413.3,716.8 339,636.7 256.5,684.6" fill="none" stroke="none" stroke-width="0"/>
<polygon points="1444.8,684.6 1640.3,571.6 1745.9,632.6 1550.4,745.6" fill="#fff" stroke="none" stroke-width="0"/>
<line x1="1469.4" y1="687.5" x2="1543.6" y2="644.5" stroke="#9c9c9c" stroke-width="0.65"/>
<line x1="1469.4" y1="685" x2="1543.6" y2="642" stroke="#9c9c9c" stroke-width="0.65"/>
<line x1="1604" y1="609.7" x2="1655.1" y2="580.1" stroke="#9c9c9c" stroke-width="0.65"/>
<line x1="1604" y1="607.2" x2="1655.1" y2="577.6" stroke="#9c9c9c" stroke-width="0.65"/>
<line x1="1518.7" y1="682.1" x2="1553.9" y2="661.8" stroke="#9c9c9c" stroke-width="0.65"/>
<line x1="1518.7" y1="679.6" x2="1553.9" y2="659.3" stroke="#9c9c9c" stroke-width="0.65"/>
<line x1="1620.8" y1="623.1" x2="1659.5" y2="600.8" stroke="#9c9c9c" stroke-width="0.65"/>
<line x1="1620.8" y1="620.6" x2="1659.5" y2="598.3" stroke="#9c9c9c" stroke-width="0.65"/>
<line x1="1543" y1="696.2" x2="1571.4" y2="679.8" stroke="#9c9c9c" stroke-width="0.65"/>
<line x1="1543" y1="693.7" x2="1571.4" y2="677.3" stroke="#9c9c9c" stroke-width="0.65"/>
<line x1="1522.9" y1="729.7" x2="1593.6" y2="688.9" stroke="#9c9c9c" stroke-width="0.65"/>
<line x1="1522.9" y1="727.2" x2="1593.6" y2="686.4" stroke="#9c9c9c" stroke-width="0.65"/>
<line x1="1668.3" y1="645.7" x2="1689.1" y2="633.7" stroke="#9c9c9c" stroke-width="0.65"/>
<line x1="1668.3" y1="643.2" x2="1689.1" y2="631.2" stroke="#9c9c9c" stroke-width="0.65"/>
<line x1="1563.3" y1="725.9" x2="1602.5" y2="703.3" stroke="#9c9c9c" stroke-width="0.65"/>
<line x1="1563.3" y1="723.4" x2="1602.5" y2="700.8" stroke="#9c9c9c" stroke-width="0.65"/>
<line x1="1627.5" y1="688.8" x2="1673.9" y2="662" stroke="#9c9c9c" stroke-width="0.65"/>
<line x1="1627.5" y1="686.3" x2="1673.9" y2="659.5" stroke="#9c9c9c" stroke-width="0.65"/>
<line x1="1688.2" y1="653.8" x2="1706" y2="643.5" stroke="#9c9c9c" stroke-width="0.65"/>
<line x1="1688.2" y1="651.3" x2="1706" y2="641" stroke="#9c9c9c" stroke-width="0.65"/>
<line x1="1483" y1="679.6" x2="1527.4" y2="705.2" stroke="#9c9c9c" stroke-width="0.65"/>
<line x1="1483" y1="677.1" x2="1527.4" y2="702.7" stroke="#9c9c9c" stroke-width="0.65"/>
<line x1="1487.8" y1="659.7" x2="1546.9" y2="693.9" stroke="#9c9c9c" stroke-width="0.65"/>
<line x1="1487.8" y1="657.2" x2="1546.9" y2="691.4" stroke="#9c9c9c" stroke-width="0.65"/>
<line x1="1526.1" y1="654.7" x2="1567.2" y2="678.5" stroke="#9c9c9c" stroke-width="0.65"/>
<line x1="1526.1" y1="652.2" x2="1567.2" y2="676" stroke="#9c9c9c" stroke-width="0.65"/>
<line x1="1575.2" y1="683.1" x2="1589.4" y2="691.3" stroke="#9c9c9c" stroke-width="0.65"/>
<line x1="1575.2" y1="680.6" x2="1589.4" y2="688.8" stroke="#9c9c9c" stroke-width="0.65"/>
<line x1="1597.3" y1="596.5" x2="1675.4" y2="641.6" stroke="#9c9c9c" stroke-width="0.65"/>
<line x1="1597.3" y1="594" x2="1675.4" y2="639.1" stroke="#9c9c9c" stroke-width="0.65"/>
<line x1="1620.8" y1="582.9" x2="1715.8" y2="637.8" stroke="#9c9c9c" stroke-width="0.65"/>
<line x1="1620.8" y1="580.4" x2="1715.8" y2="635.3" stroke="#9c9c9c" stroke-width="0.65"/>
<use href="#fd" x="1451.9" y="684.2"/>
<use href="#fd" x="1465.6" y="692.1"/>
<use href="#fd" x="1466.5" y="675.7"/>
<use href="#fd" x="1473.4" y="679.7"/>
<use href="#fd" x="1481.2" y="667.2"/>
<use href="#fd" x="1495.9" y="658.7"/>
<use href="#fd" x="1502.7" y="662.7"/>
<use href="#fd" x="1525.2" y="641.8"/>
<use href="#fd" x="1532.1" y="645.8"/>
<use href="#fd" x="1538.9" y="649.7"/>
<use href="#fd" x="1598.5" y="599.4"/>
<use href="#fd" x="1612.2" y="607.4"/>
<use href="#fd" x="1620" y="594.9"/>
<use href="#fd" x="1626.9" y="598.9"/>
<use href="#fd" x="1627.8" y="582.5"/>
<use href="#fc" x="1480.4" y="700.6"/>
<use href="#fc" x="1491.1" y="694.4"/>
<use href="#fc" x="1498" y="698.4"/>
<use href="#fc" x="1504.9" y="702.4"/>
<use href="#fc" x="1522.5" y="700.1"/>
<use href="#fc" x="1512.6" y="682"/>
<use href="#fc" x="1519.5" y="686"/>
<use href="#fc" x="1526.4" y="689.9"/>
<use href="#fc" x="1533.2" y="693.9"/>
<use href="#fc" x="1530.3" y="679.7"/>
<use href="#fc" x="1537.1" y="683.7"/>
<use href="#fc" x="1544" y="687.7"/>
<use href="#fc" x="1534.2" y="669.6"/>
<use href="#fc" x="1541" y="673.5"/>
<use href="#fc" x="1547.9" y="677.5"/>
<use href="#fc" x="1544.9" y="663.4"/>
<use href="#fc" x="1551.8" y="667.3"/>
<use href="#fc" x="1630.9" y="613.6"/>
<use href="#fc" x="1637.8" y="617.6"/>
<use href="#fc" x="1651.5" y="625.5"/>
<use href="#fc" x="1641.7" y="607.4"/>
<use href="#fc" x="1648.5" y="611.4"/>
<use href="#fc" x="1662.3" y="619.3"/>
<use href="#fc" x="1666.2" y="609.1"/>
<use href="#fc" x="1663.2" y="595"/>
<use href="#fc" x="1670" y="598.9"/>
<use href="#fc" x="1676.9" y="602.9"/>
<use href="#fd" x="1512.1" y="718.9"/>
<use href="#fd" x="1518.9" y="722.9"/>
<use href="#fd" x="1525.8" y="726.9"/>
<use href="#fd" x="1526.7" y="710.5"/>
<use href="#fd" x="1554.2" y="726.3"/>
<use href="#fd" x="1555.1" y="709.9"/>
<use href="#fd" x="1562" y="713.9"/>
<use href="#fd" x="1556.1" y="693.5"/>
<use href="#fd" x="1576.6" y="705.4"/>
<use href="#fd" x="1583.5" y="709.4"/>
<use href="#fd" x="1584.4" y="693"/>
<use href="#fd" x="1591.3" y="696.9"/>
<use href="#fd" x="1658.7" y="634.2"/>
<use href="#fd" x="1665.6" y="638.2"/>
<use href="#fd" x="1672.4" y="642.1"/>
<use href="#fd" x="1679.3" y="646.1"/>
<use href="#fd" x="1686.2" y="650.1"/>
<use href="#fd" x="1700.8" y="641.6"/>
<use href="#fd" x="1708.6" y="629.1"/>
<use href="#fd" x="1715.5" y="633.1"/>
<rect x="1478" y="687.3" width="2" height="10" rx="1" fill="#f2f2f2" stroke="#b5b5b5" stroke-width="0.6"/>
<rect x="1513.9" y="708.1" width="2" height="10" rx="1" fill="#f2f2f2" stroke="#b5b5b5" stroke-width="0.6"/>
<rect x="1531.9" y="718.4" width="2" height="10" rx="1" fill="#f2f2f2" stroke="#b5b5b5" stroke-width="0.6"/>
<rect x="1494.6" y="677.7" width="2" height="10" rx="1" fill="#f2f2f2" stroke="#b5b5b5" stroke-width="0.6"/>
<rect x="1548.5" y="708.8" width="2" height="10" rx="1" fill="#f2f2f2" stroke="#b5b5b5" stroke-width="0.6"/>
<rect x="1566.4" y="719.2" width="2" height="10" rx="1" fill="#f2f2f2" stroke="#b5b5b5" stroke-width="0.6"/>
<rect x="1493.3" y="657.8" width="2" height="10" rx="1" fill="#f2f2f2" stroke="#b5b5b5" stroke-width="0.6"/>
<rect x="1511.3" y="668.1" width="2" height="10" rx="1" fill="#f2f2f2" stroke="#b5b5b5" stroke-width="0.6"/>
<rect x="1529.2" y="678.5" width="2" height="10" rx="1" fill="#f2f2f2" stroke="#b5b5b5" stroke-width="0.6"/>
<rect x="1565.1" y="699.2" width="2" height="10" rx="1" fill="#f2f2f2" stroke="#b5b5b5" stroke-width="0.6"/>
<rect x="1583.1" y="709.6" width="2" height="10" rx="1" fill="#f2f2f2" stroke="#b5b5b5" stroke-width="0.6"/>
<rect x="1509.9" y="648.1" width="2" height="10" rx="1" fill="#f2f2f2" stroke="#b5b5b5" stroke-width="0.6"/>
<rect x="1527.9" y="658.5" width="2" height="10" rx="1" fill="#f2f2f2" stroke="#b5b5b5" stroke-width="0.6"/>
<rect x="1545.8" y="668.9" width="2" height="10" rx="1" fill="#f2f2f2" stroke="#b5b5b5" stroke-width="0.6"/>
<rect x="1581.7" y="689.6" width="2" height="10" rx="1" fill="#f2f2f2" stroke="#b5b5b5" stroke-width="0.6"/>
<rect x="1599.7" y="700" width="2" height="10" rx="1" fill="#f2f2f2" stroke="#b5b5b5" stroke-width="0.6"/>
<rect x="1616.3" y="690.4" width="2" height="10" rx="1" fill="#f2f2f2" stroke="#b5b5b5" stroke-width="0.6"/>
<rect x="1632.9" y="680.8" width="2" height="10" rx="1" fill="#f2f2f2" stroke="#b5b5b5" stroke-width="0.6"/>
<rect x="1649.5" y="671.2" width="2" height="10" rx="1" fill="#f2f2f2" stroke="#b5b5b5" stroke-width="0.6"/>
<rect x="1666.2" y="661.6" width="2" height="10" rx="1" fill="#f2f2f2" stroke="#b5b5b5" stroke-width="0.6"/>
<rect x="1611" y="610.5" width="2" height="10" rx="1" fill="#f2f2f2" stroke="#b5b5b5" stroke-width="0.6"/>
<rect x="1682.8" y="652" width="2" height="10" rx="1" fill="#f2f2f2" stroke="#b5b5b5" stroke-width="0.6"/>
<rect x="1627.6" y="600.9" width="2" height="10" rx="1" fill="#f2f2f2" stroke="#b5b5b5" stroke-width="0.6"/>
<rect x="1663.5" y="621.6" width="2" height="10" rx="1" fill="#f2f2f2" stroke="#b5b5b5" stroke-width="0.6"/>
<rect x="1681.4" y="632" width="2" height="10" rx="1" fill="#f2f2f2" stroke="#b5b5b5" stroke-width="0.6"/>
<rect x="1662.1" y="601.6" width="2" height="10" rx="1" fill="#f2f2f2" stroke="#b5b5b5" stroke-width="0.6"/>
<rect x="1698.1" y="622.4" width="2" height="10" rx="1" fill="#f2f2f2" stroke="#b5b5b5" stroke-width="0.6"/>
<rect x="1642.9" y="571.3" width="2" height="10" rx="1" fill="#f2f2f2" stroke="#b5b5b5" stroke-width="0.6"/>
<rect x="1696.7" y="602.4" width="2" height="10" rx="1" fill="#f2f2f2" stroke="#b5b5b5" stroke-width="0.6"/>
<rect x="1714.7" y="612.8" width="2" height="10" rx="1" fill="#f2f2f2" stroke="#b5b5b5" stroke-width="0.6"/>
<rect x="1732.6" y="623.2" width="2" height="10" rx="1" fill="#f2f2f2" stroke="#b5b5b5" stroke-width="0.6"/>
<polyline points="1607.5,589.9 1612.5,600.9 1617.5,589.9 1622.5,600.9" fill="none" stroke="#aaa" stroke-width="0.7"/>
<polyline points="1631.5,599.2 1636.5,610.2 1641.5,599.2 1646.5,610.2" fill="none" stroke="#aaa" stroke-width="0.7"/>
<polyline points="1598.5,697.6 1603.5,708.6 1608.5,697.6 1613.5,708.6" fill="none" stroke="#aaa" stroke-width="0.7"/>
<polyline points="1482.7,688.2 1490.7,683.6 1498.7,688.2" fill="none" stroke="#8c8c8c" stroke-width="0.6"/>
<line x1="1490.7" y1="672.6" x2="1490.7" y2="683.6" stroke="#8c8c8c" stroke-width="0.6"/>
<polyline points="1473.8,681.3 1473.8,692.3 1490.7,702.1 1507.6,692.3 1507.6,681.3" fill="none" stroke="#8c8c8c" stroke-width="0.6"/>
<line x1="1490.7" y1="691.1" x2="1490.7" y2="702.1" stroke="#8c8c8c" stroke-width="0.6"/>
<polygon points="1473.8,681.3 1490.7,671.5 1507.6,681.3 1490.7,691.1" fill="none" stroke="#8c8c8c" stroke-width="0.9"/>
<polygon points="1475.6,681.3 1490.7,672.6 1505.8,681.3 1490.7,690" fill="none" stroke="#8c8c8c" stroke-width="0.8"/>
<polyline points="1515.2,669.9 1523.2,665.2 1531.2,669.9" fill="none" stroke="#8c8c8c" stroke-width="0.6"/>
<line x1="1523.2" y1="654.2" x2="1523.2" y2="665.2" stroke="#8c8c8c" stroke-width="0.6"/>
<polyline points="1505.9,663.2 1505.9,674.2 1523.2,684.2 1540.5,674.2 1540.5,663.2" fill="none" stroke="#8c8c8c" stroke-width="0.6"/>
<line x1="1523.2" y1="673.2" x2="1523.2" y2="684.2" stroke="#8c8c8c" stroke-width="0.6"/>
<polygon points="1505.9,663.2 1523.2,653.2 1540.5,663.2 1523.2,673.2" fill="none" stroke="#8c8c8c" stroke-width="0.9"/>
<polygon points="1507.7,663.2 1523.2,654.2 1538.7,663.2 1523.2,672.2" fill="none" stroke="#8c8c8c" stroke-width="0.8"/>
<polyline points="1532.1,720.5 1540.1,715.8 1548.1,720.5" fill="none" stroke="#8c8c8c" stroke-width="0.6"/>
<line x1="1540.1" y1="704.8" x2="1540.1" y2="715.8" stroke="#8c8c8c" stroke-width="0.6"/>
<polyline points="1527.1,711.3 1527.1,722.3 1540.1,729.8 1553.1,722.3 1553.1,711.3" fill="none" stroke="#8c8c8c" stroke-width="0.6"/>
<line x1="1540.1" y1="718.8" x2="1540.1" y2="729.8" stroke="#8c8c8c" stroke-width="0.6"/>
<polygon points="1527.1,711.3 1540.1,703.8 1553.1,711.3 1540.1,718.8" fill="none" stroke="#8c8c8c" stroke-width="0.9"/>
<polygon points="1528.9,711.3 1540.1,704.8 1551.3,711.3 1540.1,717.8" fill="none" stroke="#8c8c8c" stroke-width="0.8"/>
<polyline points="1563,697.5 1571,692.8 1579,697.5" fill="none" stroke="#8c8c8c" stroke-width="0.6"/>
<line x1="1571" y1="681.8" x2="1571" y2="692.8" stroke="#8c8c8c" stroke-width="0.6"/>
<polyline points="1553.7,690.8 1553.7,701.8 1571,711.8 1588.3,701.8 1588.3,690.8" fill="none" stroke="#8c8c8c" stroke-width="0.6"/>
<line x1="1571" y1="700.8" x2="1571" y2="711.8" stroke="#8c8c8c" stroke-width="0.6"/>
<polygon points="1553.7,690.8 1571,680.8 1588.3,690.8 1571,700.8" fill="none" stroke="#8c8c8c" stroke-width="0.9"/>
<polygon points="1555.5,690.8 1571,681.8 1586.5,690.8 1571,699.8" fill="none" stroke="#8c8c8c" stroke-width="0.8"/>
<polyline points="1642.7,594.5 1650.7,589.8 1658.7,594.5" fill="none" stroke="#8c8c8c" stroke-width="0.6"/>
<line x1="1650.7" y1="578.8" x2="1650.7" y2="589.8" stroke="#8c8c8c" stroke-width="0.6"/>
<polyline points="1632.2,588.5 1632.2,599.5 1650.7,610.2 1669.2,599.5 1669.2,588.5" fill="none" stroke="#8c8c8c" stroke-width="0.6"/>
<line x1="1650.7" y1="599.2" x2="1650.7" y2="610.2" stroke="#8c8c8c" stroke-width="0.6"/>
<polygon points="1632.2,588.5 1650.7,577.8 1669.2,588.5 1650.7,599.2" fill="none" stroke="#8c8c8c" stroke-width="0.9"/>
<polygon points="1634,588.5 1650.7,578.8 1667.4,588.5 1650.7,598.2" fill="none" stroke="#8c8c8c" stroke-width="0.8"/>
<polyline points="1675.7,631.7 1683.7,627.1 1691.7,631.7" fill="none" stroke="#8c8c8c" stroke-width="0.6"/>
<line x1="1683.7" y1="616.1" x2="1683.7" y2="627.1" stroke="#8c8c8c" stroke-width="0.6"/>
<polyline points="1666.8,624.8 1666.8,635.8 1683.7,645.6 1700.6,635.8 1700.6,624.8" fill="none" stroke="#8c8c8c" stroke-width="0.6"/>
<line x1="1683.7" y1="634.6" x2="1683.7" y2="645.6" stroke="#8c8c8c" stroke-width="0.6"/>
<polygon points="1666.8,624.8 1683.7,615 1700.6,624.8 1683.7,634.6" fill="none" stroke="#8c8c8c" stroke-width="0.9"/>
<polygon points="1668.6,624.8 1683.7,616.1 1698.8,624.8 1683.7,633.5" fill="none" stroke="#8c8c8c" stroke-width="0.8"/>
<polyline points="1695.1,625.5 1703.1,620.9 1711.1,625.5" fill="none" stroke="#8c8c8c" stroke-width="0.6"/>
<line x1="1703.1" y1="609.9" x2="1703.1" y2="620.9" stroke="#8c8c8c" stroke-width="0.6"/>
<polyline points="1688.2,617.4 1688.2,628.4 1703.1,637 1717.9,628.4 1717.9,617.4" fill="none" stroke="#8c8c8c" stroke-width="0.6"/>
<line x1="1703.1" y1="626" x2="1703.1" y2="637" stroke="#8c8c8c" stroke-width="0.6"/>
<polygon points="1688.2,617.4 1703.1,608.8 1717.9,617.4 1703.1,626" fill="none" stroke="#8c8c8c" stroke-width="0.9"/>
<polygon points="1690,617.4 1703.1,609.9 1716.1,617.4 1703.1,624.9" fill="none" stroke="#8c8c8c" stroke-width="0.8"/>
<polyline points="1444.7,684.6 1527.2,636.7" fill="none" stroke="#262626" stroke-width="1.15"/>
<polyline points="1586.6,603.2 1639.4,573.2 1745.4,633.4" fill="none" stroke="#262626" stroke-width="1.15" stroke-linejoin="round"/>
<polygon points="1444.7,684.6 1550.3,746.5 1601.5,716.8 1601.5,718.5 1550.3,748.2 1444.7,686.3" fill="#a8a8a8" stroke="none" stroke-width="0"/>
<polyline points="1444.7,684.6 1550.3,746.5 1601.5,716.8" fill="none" stroke="#1e1e1e" stroke-width="0.95"/>
<polyline points="1444.7,686.3 1550.3,748.2 1601.5,718.5" fill="none" stroke="#4a4a4a" stroke-width="0.7"/>
<polygon points="1703.8,658.2 1745.4,633.4 1745.4,635.1 1703.8,659.9" fill="#a8a8a8" stroke="none" stroke-width="0"/>
<polyline points="1703.8,658.2 1745.4,633.4" fill="none" stroke="#1e1e1e" stroke-width="0.95"/>
<polyline points="1703.8,659.9 1745.4,635.1" fill="none" stroke="#4a4a4a" stroke-width="0.7"/>
<use href="#hill" x="1188.2" y="0"/>
<line x1="1450.7" y1="681.2" x2="1450.7" y2="673.2" stroke="#3a3633" stroke-width="1.7" stroke-linecap="round"/>
<line x1="1458.3" y1="676.8" x2="1458.3" y2="668.8" stroke="#3a3633" stroke-width="1.7" stroke-linecap="round"/>
<line x1="1474.5" y1="667.4" x2="1474.5" y2="659.4" stroke="#3a3633" stroke-width="1.7" stroke-linecap="round"/>
<line x1="1490.2" y1="658.4" x2="1490.2" y2="650.4" stroke="#3a3633" stroke-width="1.7" stroke-linecap="round"/>
<line x1="1505.8" y1="649.3" x2="1505.8" y2="641.3" stroke="#3a3633" stroke-width="1.7" stroke-linecap="round"/>
<line x1="1603.2" y1="593.1" x2="1603.2" y2="585.1" stroke="#3a3633" stroke-width="1.7" stroke-linecap="round"/>
<line x1="1618.8" y1="584" x2="1618.8" y2="576" stroke="#3a3633" stroke-width="1.7" stroke-linecap="round"/>
<line x1="1635.2" y1="574.5" x2="1635.2" y2="566.5" stroke="#3a3633" stroke-width="1.7" stroke-linecap="round"/>
<line x1="1641.5" y1="571.6" x2="1641.5" y2="562.6" stroke="#3a3633" stroke-width="1.7" stroke-linecap="round"/>
<line x1="1659.3" y1="582.6" x2="1659.3" y2="574.6" stroke="#3a3633" stroke-width="1.7" stroke-linecap="round"/>
<line x1="1675.7" y1="592" x2="1675.7" y2="584" stroke="#3a3633" stroke-width="1.7" stroke-linecap="round"/>
<line x1="1691.5" y1="601.2" x2="1691.5" y2="593.2" stroke="#3a3633" stroke-width="1.7" stroke-linecap="round"/>
<line x1="1707.7" y1="610.5" x2="1707.7" y2="602.5" stroke="#3a3633" stroke-width="1.7" stroke-linecap="round"/>
<line x1="1724" y1="620" x2="1724" y2="612" stroke="#3a3633" stroke-width="1.7" stroke-linecap="round"/>
<line x1="1740" y1="629.2" x2="1740" y2="621.2" stroke="#3a3633" stroke-width="1.7" stroke-linecap="round"/>
<use href="#ic_read" transform="translate(1615.3 577) scale(0.58)"/>
<use href="#ic_read" transform="translate(1673.4 594.6) scale(0.58)"/>
<use href="#ic_lou" transform="translate(1648.3 612.8) scale(0.58)"/>
<use href="#ic_read" transform="translate(1704.7 630.1) scale(0.58)"/>
<use href="#ic_read" transform="translate(1493.2 645.8) scale(0.58)"/>
<use href="#ic_lou" transform="translate(1539.4 677.1) scale(0.58)"/>
<use href="#ic_read" transform="translate(1512.5 694.5) scale(0.58)"/>
<use href="#ic_read" transform="translate(1567.4 710.2) scale(0.58)"/>
<polygon points="1444.7,836.1 1520.6,792.4 1518.6,797.4 1523.1,805.6 1535.5,812.2 1543.7,815.5 1553.6,822.1 1565.2,828.7 1576.7,833.7 1589.9,840.3 1603.1,849.3 1608.1,858.4 1608.9,863.4 1550.3,898" fill="#fff" stroke="none" stroke-width="0"/>
<polygon points="1591.6,751.2 1639.4,723.9 1745.4,785 1700.5,810.6 1692.2,807.3 1675.7,799 1659.2,787.5 1652.6,780.9 1647.7,775.9 1634.5,771 1618,761.1 1601.5,754.5" fill="#fff" stroke="none" stroke-width="0"/>
<line x1="1498.7" y1="821.9" x2="1527.3" y2="805.4" stroke="#9c9c9c" stroke-width="0.65"/>
<line x1="1498.7" y1="819.4" x2="1527.3" y2="802.9" stroke="#9c9c9c" stroke-width="0.65"/>
<line x1="1609.9" y1="757.7" x2="1625.8" y2="748.5" stroke="#9c9c9c" stroke-width="0.65"/>
<line x1="1609.9" y1="755.2" x2="1625.8" y2="746" stroke="#9c9c9c" stroke-width="0.65"/>
<line x1="1489.4" y1="850.5" x2="1549" y2="816.1" stroke="#9c9c9c" stroke-width="0.65"/>
<line x1="1489.4" y1="848" x2="1549" y2="813.6" stroke="#9c9c9c" stroke-width="0.65"/>
<line x1="1634" y1="766.9" x2="1659.5" y2="752.2" stroke="#9c9c9c" stroke-width="0.65"/>
<line x1="1634" y1="764.4" x2="1659.5" y2="749.7" stroke="#9c9c9c" stroke-width="0.65"/>
<line x1="1527.4" y1="856.6" x2="1574.3" y2="829.5" stroke="#9c9c9c" stroke-width="0.65"/>
<line x1="1527.4" y1="854.1" x2="1574.3" y2="827" stroke="#9c9c9c" stroke-width="0.65"/>
<line x1="1656.4" y1="782" x2="1683.8" y2="766.2" stroke="#9c9c9c" stroke-width="0.65"/>
<line x1="1656.4" y1="779.5" x2="1683.8" y2="763.7" stroke="#9c9c9c" stroke-width="0.65"/>
<line x1="1522.9" y1="881.1" x2="1596.3" y2="838.8" stroke="#9c9c9c" stroke-width="0.65"/>
<line x1="1522.9" y1="878.6" x2="1596.3" y2="836.3" stroke="#9c9c9c" stroke-width="0.65"/>
<line x1="1674.5" y1="793.6" x2="1718.4" y2="768.1" stroke="#9c9c9c" stroke-width="0.65"/>
<line x1="1674.5" y1="791.1" x2="1718.4" y2="765.6" stroke="#9c9c9c" stroke-width="0.65"/>
<line x1="1563.3" y1="877.3" x2="1606.3" y2="852.5" stroke="#9c9c9c" stroke-width="0.65"/>
<line x1="1563.3" y1="874.8" x2="1606.3" y2="850" stroke="#9c9c9c" stroke-width="0.65"/>
<line x1="1688.4" y1="805" x2="1719.7" y2="786.9" stroke="#9c9c9c" stroke-width="0.65"/>
<line x1="1688.4" y1="802.5" x2="1719.7" y2="784.4" stroke="#9c9c9c" stroke-width="0.65"/>
<line x1="1470.9" y1="824" x2="1573.9" y2="883.4" stroke="#9c9c9c" stroke-width="0.65"/>
<line x1="1470.9" y1="821.5" x2="1573.9" y2="880.9" stroke="#9c9c9c" stroke-width="0.65"/>
<line x1="1502.6" y1="819.7" x2="1582.8" y2="866" stroke="#9c9c9c" stroke-width="0.65"/>
<line x1="1502.6" y1="817.2" x2="1582.8" y2="863.5" stroke="#9c9c9c" stroke-width="0.65"/>
<line x1="1513.6" y1="799" x2="1523.2" y2="804.4" stroke="#9c9c9c" stroke-width="0.65"/>
<line x1="1513.6" y1="796.5" x2="1523.2" y2="801.9" stroke="#9c9c9c" stroke-width="0.65"/>
<line x1="1539.8" y1="814.1" x2="1554" y2="822.3" stroke="#9c9c9c" stroke-width="0.65"/>
<line x1="1539.8" y1="811.6" x2="1554" y2="819.8" stroke="#9c9c9c" stroke-width="0.65"/>
<line x1="1565.9" y1="829.1" x2="1606.3" y2="852.5" stroke="#9c9c9c" stroke-width="0.65"/>
<line x1="1565.9" y1="826.6" x2="1606.3" y2="850" stroke="#9c9c9c" stroke-width="0.65"/>
<line x1="1632.1" y1="768" x2="1643.1" y2="774.3" stroke="#9c9c9c" stroke-width="0.65"/>
<line x1="1632.1" y1="765.5" x2="1643.1" y2="771.8" stroke="#9c9c9c" stroke-width="0.65"/>
<line x1="1650.4" y1="778.5" x2="1656.4" y2="782" stroke="#9c9c9c" stroke-width="0.65"/>
<line x1="1650.4" y1="776" x2="1656.4" y2="779.5" stroke="#9c9c9c" stroke-width="0.65"/>
<line x1="1655.6" y1="754.4" x2="1698.9" y2="779.4" stroke="#9c9c9c" stroke-width="0.65"/>
<line x1="1655.6" y1="751.9" x2="1698.9" y2="776.9" stroke="#9c9c9c" stroke-width="0.65"/>
<use href="#fc" x="1451.9" y="835.6"/>
<use href="#fc" x="1465.6" y="843.5"/>
<use href="#fc" x="1469.5" y="833.3"/>
<use href="#fc" x="1476.4" y="837.3"/>
<use href="#fc" x="1473.4" y="823.1"/>
<use href="#fc" x="1484.1" y="816.9"/>
<use href="#fc" x="1494.9" y="810.7"/>
<use href="#fc" x="1501.8" y="814.7"/>
<use href="#fc" x="1505.6" y="804.5"/>
<use href="#fc" x="1516.4" y="798.3"/>
<use href="#fc" x="1602.4" y="748.6"/>
<use href="#fc" x="1609.3" y="752.5"/>
<use href="#fc" x="1616.1" y="756.5"/>
<use href="#fc" x="1613.2" y="742.3"/>
<use href="#fc" x="1620" y="746.3"/>
<use href="#fc" x="1623.9" y="736.1"/>
<use href="#fc" x="1630.8" y="740.1"/>
<use href="#fc" x="1637.6" y="744.1"/>
<use href="#fc" x="1634.7" y="729.9"/>
<use href="#fd" x="1480.4" y="852"/>
<use href="#fd" x="1487.3" y="856"/>
<use href="#fd" x="1494.1" y="860"/>
<use href="#fd" x="1501" y="863.9"/>
<use href="#fd" x="1495.1" y="843.6"/>
<use href="#fd" x="1509.7" y="835.1"/>
<use href="#fd" x="1530.3" y="847"/>
<use href="#fd" x="1538.1" y="834.5"/>
<use href="#fd" x="1545" y="838.5"/>
<use href="#fd" x="1545.9" y="822.1"/>
<use href="#fd" x="1559.6" y="830"/>
<use href="#fd" x="1655.4" y="766.7"/>
<use href="#fd" x="1662.3" y="770.7"/>
<use href="#fd" x="1656.3" y="750.3"/>
<use href="#fd" x="1663.2" y="754.3"/>
<use href="#fd" x="1670.1" y="758.3"/>
<use href="#fc" x="1512.1" y="870.3"/>
<use href="#fc" x="1518.9" y="874.3"/>
<use href="#fc" x="1525.8" y="878.3"/>
<use href="#fc" x="1539.5" y="886.2"/>
<use href="#fc" x="1536.6" y="872.1"/>
<use href="#fc" x="1543.4" y="876"/>
<use href="#fc" x="1550.3" y="880"/>
<use href="#fc" x="1554.2" y="869.8"/>
<use href="#fc" x="1571.8" y="867.6"/>
<use href="#fc" x="1555.1" y="845.5"/>
<use href="#fc" x="1575.7" y="857.4"/>
<use href="#fc" x="1582.5" y="861.3"/>
<use href="#fc" x="1586.4" y="851.2"/>
<use href="#fc" x="1590.3" y="841"/>
<use href="#fc" x="1662.6" y="783.3"/>
<use href="#fc" x="1669.5" y="787.3"/>
<use href="#fc" x="1683.2" y="795.2"/>
<use href="#fc" x="1693.9" y="789"/>
<use href="#fc" x="1700.8" y="793"/>
<use href="#fc" x="1697.8" y="778.8"/>
<use href="#fc" x="1711.6" y="786.8"/>
<use href="#fc" x="1715.5" y="776.6"/>
<use href="#fc" x="1722.3" y="780.5"/>
<rect x="1476.7" y="818.8" width="2" height="10" rx="1" fill="#f2f2f2" stroke="#b5b5b5" stroke-width="0.6"/>
<rect x="1494.6" y="829.1" width="2" height="10" rx="1" fill="#f2f2f2" stroke="#b5b5b5" stroke-width="0.6"/>
<rect x="1512.6" y="839.5" width="2" height="10" rx="1" fill="#f2f2f2" stroke="#b5b5b5" stroke-width="0.6"/>
<rect x="1548.5" y="860.2" width="2" height="10" rx="1" fill="#f2f2f2" stroke="#b5b5b5" stroke-width="0.6"/>
<rect x="1547.2" y="840.3" width="2" height="10" rx="1" fill="#f2f2f2" stroke="#b5b5b5" stroke-width="0.6"/>
<rect x="1565.1" y="850.6" width="2" height="10" rx="1" fill="#f2f2f2" stroke="#b5b5b5" stroke-width="0.6"/>
<rect x="1583.1" y="861" width="2" height="10" rx="1" fill="#f2f2f2" stroke="#b5b5b5" stroke-width="0.6"/>
<rect x="1509.9" y="799.5" width="2" height="10" rx="1" fill="#f2f2f2" stroke="#b5b5b5" stroke-width="0.6"/>
<rect x="1563.8" y="830.7" width="2" height="10" rx="1" fill="#f2f2f2" stroke="#b5b5b5" stroke-width="0.6"/>
<rect x="1581.7" y="841" width="2" height="10" rx="1" fill="#f2f2f2" stroke="#b5b5b5" stroke-width="0.6"/>
<rect x="1599.7" y="851.4" width="2" height="10" rx="1" fill="#f2f2f2" stroke="#b5b5b5" stroke-width="0.6"/>
<rect x="1609.6" y="741.9" width="2" height="10" rx="1" fill="#f2f2f2" stroke="#b5b5b5" stroke-width="0.6"/>
<rect x="1645.5" y="762.7" width="2" height="10" rx="1" fill="#f2f2f2" stroke="#b5b5b5" stroke-width="0.6"/>
<rect x="1663.5" y="773" width="2" height="10" rx="1" fill="#f2f2f2" stroke="#b5b5b5" stroke-width="0.6"/>
<rect x="1681.4" y="783.4" width="2" height="10" rx="1" fill="#f2f2f2" stroke="#b5b5b5" stroke-width="0.6"/>
<rect x="1626.2" y="732.3" width="2" height="10" rx="1" fill="#f2f2f2" stroke="#b5b5b5" stroke-width="0.6"/>
<rect x="1662.1" y="753" width="2" height="10" rx="1" fill="#f2f2f2" stroke="#b5b5b5" stroke-width="0.6"/>
<rect x="1680.1" y="763.4" width="2" height="10" rx="1" fill="#f2f2f2" stroke="#b5b5b5" stroke-width="0.6"/>
<rect x="1698.1" y="773.8" width="2" height="10" rx="1" fill="#f2f2f2" stroke="#b5b5b5" stroke-width="0.6"/>
<rect x="1642.9" y="722.7" width="2" height="10" rx="1" fill="#f2f2f2" stroke="#b5b5b5" stroke-width="0.6"/>
<rect x="1660.8" y="733.1" width="2" height="10" rx="1" fill="#f2f2f2" stroke="#b5b5b5" stroke-width="0.6"/>
<rect x="1678.8" y="743.4" width="2" height="10" rx="1" fill="#f2f2f2" stroke="#b5b5b5" stroke-width="0.6"/>
<rect x="1696.7" y="753.8" width="2" height="10" rx="1" fill="#f2f2f2" stroke="#b5b5b5" stroke-width="0.6"/>
<rect x="1714.7" y="764.2" width="2" height="10" rx="1" fill="#f2f2f2" stroke="#b5b5b5" stroke-width="0.6"/>
<polyline points="1482.7,839.6 1490.7,835 1498.7,839.6" fill="none" stroke="#8c8c8c" stroke-width="0.6"/>
<line x1="1490.7" y1="824" x2="1490.7" y2="835" stroke="#8c8c8c" stroke-width="0.6"/>
<polyline points="1473.8,832.7 1473.8,843.7 1490.7,853.5 1507.6,843.7 1507.6,832.7" fill="none" stroke="#8c8c8c" stroke-width="0.6"/>
<line x1="1490.7" y1="842.5" x2="1490.7" y2="853.5" stroke="#8c8c8c" stroke-width="0.6"/>
<polygon points="1473.8,832.7 1490.7,822.9 1507.6,832.7 1490.7,842.5" fill="none" stroke="#8c8c8c" stroke-width="0.9"/>
<polygon points="1475.6,832.7 1490.7,824 1505.8,832.7 1490.7,841.4" fill="none" stroke="#8c8c8c" stroke-width="0.8"/>
<polyline points="1515.2,821.3 1523.2,816.6 1531.2,821.3" fill="none" stroke="#8c8c8c" stroke-width="0.6"/>
<line x1="1523.2" y1="805.6" x2="1523.2" y2="816.6" stroke="#8c8c8c" stroke-width="0.6"/>
<polyline points="1505.9,814.6 1505.9,825.6 1523.2,835.6 1540.5,825.6 1540.5,814.6" fill="none" stroke="#8c8c8c" stroke-width="0.6"/>
<line x1="1523.2" y1="824.6" x2="1523.2" y2="835.6" stroke="#8c8c8c" stroke-width="0.6"/>
<polygon points="1505.9,814.6 1523.2,804.6 1540.5,814.6 1523.2,824.6" fill="none" stroke="#8c8c8c" stroke-width="0.9"/>
<polygon points="1507.7,814.6 1523.2,805.6 1538.7,814.6 1523.2,823.6" fill="none" stroke="#8c8c8c" stroke-width="0.8"/>
<polyline points="1563,848.9 1571,844.2 1579,848.9" fill="none" stroke="#8c8c8c" stroke-width="0.6"/>
<line x1="1571" y1="833.2" x2="1571" y2="844.2" stroke="#8c8c8c" stroke-width="0.6"/>
<polyline points="1553.7,842.2 1553.7,853.2 1571,863.2 1588.3,853.2 1588.3,842.2" fill="none" stroke="#8c8c8c" stroke-width="0.6"/>
<line x1="1571" y1="852.2" x2="1571" y2="863.2" stroke="#8c8c8c" stroke-width="0.6"/>
<polygon points="1553.7,842.2 1571,832.2 1588.3,842.2 1571,852.2" fill="none" stroke="#8c8c8c" stroke-width="0.9"/>
<polygon points="1555.5,842.2 1571,833.2 1586.5,842.2 1571,851.2" fill="none" stroke="#8c8c8c" stroke-width="0.8"/>
<polyline points="1642.7,745.9 1650.7,741.2 1658.7,745.9" fill="none" stroke="#8c8c8c" stroke-width="0.6"/>
<line x1="1650.7" y1="730.2" x2="1650.7" y2="741.2" stroke="#8c8c8c" stroke-width="0.6"/>
<polyline points="1632.2,739.9 1632.2,750.9 1650.7,761.6 1669.2,750.9 1669.2,739.9" fill="none" stroke="#8c8c8c" stroke-width="0.6"/>
<line x1="1650.7" y1="750.6" x2="1650.7" y2="761.6" stroke="#8c8c8c" stroke-width="0.6"/>
<polygon points="1632.2,739.9 1650.7,729.2 1669.2,739.9 1650.7,750.6" fill="none" stroke="#8c8c8c" stroke-width="0.9"/>
<polygon points="1634,739.9 1650.7,730.2 1667.4,739.9 1650.7,749.6" fill="none" stroke="#8c8c8c" stroke-width="0.8"/>
<polyline points="1675.7,783.1 1683.7,778.5 1691.7,783.1" fill="none" stroke="#8c8c8c" stroke-width="0.6"/>
<line x1="1683.7" y1="767.5" x2="1683.7" y2="778.5" stroke="#8c8c8c" stroke-width="0.6"/>
<polyline points="1666.8,776.2 1666.8,787.2 1683.7,797 1700.6,787.2 1700.6,776.2" fill="none" stroke="#8c8c8c" stroke-width="0.6"/>
<line x1="1683.7" y1="786" x2="1683.7" y2="797" stroke="#8c8c8c" stroke-width="0.6"/>
<polygon points="1666.8,776.2 1683.7,766.4 1700.6,776.2 1683.7,786" fill="none" stroke="#8c8c8c" stroke-width="0.9"/>
<polygon points="1668.6,776.2 1683.7,767.5 1698.8,776.2 1683.7,784.9" fill="none" stroke="#8c8c8c" stroke-width="0.8"/>
<polyline points="1695.1,776.9 1703.1,772.3 1711.1,776.9" fill="none" stroke="#8c8c8c" stroke-width="0.6"/>
<line x1="1703.1" y1="761.3" x2="1703.1" y2="772.3" stroke="#8c8c8c" stroke-width="0.6"/>
<polyline points="1688.2,768.8 1688.2,779.8 1703.1,788.4 1717.9,779.8 1717.9,768.8" fill="none" stroke="#8c8c8c" stroke-width="0.6"/>
<line x1="1703.1" y1="777.4" x2="1703.1" y2="788.4" stroke="#8c8c8c" stroke-width="0.6"/>
<polygon points="1688.2,768.8 1703.1,760.2 1717.9,768.8 1703.1,777.4" fill="none" stroke="#8c8c8c" stroke-width="0.9"/>
<polygon points="1690,768.8 1703.1,761.3 1716.1,768.8 1703.1,776.3" fill="none" stroke="#8c8c8c" stroke-width="0.8"/>
<polyline points="1444.7,836.1 1520.6,792.4" fill="none" stroke="#262626" stroke-width="1.15"/>
<polygon points="1444.7,836.1 1550.3,898 1608.9,863.4 1608.9,865.1 1550.3,899.7 1444.7,837.8" fill="#a8a8a8" stroke="none" stroke-width="0"/>
<polyline points="1444.7,836.1 1550.3,898 1608.9,863.4" fill="none" stroke="#1e1e1e" stroke-width="0.95"/>
<polyline points="1444.7,837.8 1550.3,899.7 1608.9,865.1" fill="none" stroke="#4a4a4a" stroke-width="0.7"/>
<polyline points="1591.6,751.2 1639.4,723.9 1745.4,785" fill="none" stroke="#262626" stroke-width="1.15" stroke-linejoin="round"/>
<polygon points="1745.4,785 1700.5,810.6 1700.5,812.3 1745.4,786.7" fill="#a8a8a8" stroke="none" stroke-width="0"/>
<polyline points="1745.4,785 1700.5,810.6" fill="none" stroke="#1e1e1e" stroke-width="0.95"/>
<polyline points="1745.4,786.7 1700.5,812.3" fill="none" stroke="#4a4a4a" stroke-width="0.7"/>
<use href="#rib" x="1188.2" y="0"/>
<line x1="1450.7" y1="832.6" x2="1450.7" y2="824.6" stroke="#3a3633" stroke-width="1.7" stroke-linecap="round"/>
<line x1="1458.3" y1="828.2" x2="1458.3" y2="820.2" stroke="#3a3633" stroke-width="1.7" stroke-linecap="round"/>
<line x1="1474.5" y1="818.8" x2="1474.5" y2="810.8" stroke="#3a3633" stroke-width="1.7" stroke-linecap="round"/>
<line x1="1490.2" y1="809.8" x2="1490.2" y2="801.8" stroke="#3a3633" stroke-width="1.7" stroke-linecap="round"/>
<line x1="1505.8" y1="800.7" x2="1505.8" y2="792.7" stroke="#3a3633" stroke-width="1.7" stroke-linecap="round"/>
<line x1="1603.2" y1="744.5" x2="1603.2" y2="736.5" stroke="#3a3633" stroke-width="1.7" stroke-linecap="round"/>
<line x1="1618.8" y1="735.4" x2="1618.8" y2="727.4" stroke="#3a3633" stroke-width="1.7" stroke-linecap="round"/>
<line x1="1635.2" y1="725.9" x2="1635.2" y2="717.9" stroke="#3a3633" stroke-width="1.7" stroke-linecap="round"/>
<line x1="1641.5" y1="723" x2="1641.5" y2="714" stroke="#3a3633" stroke-width="1.7" stroke-linecap="round"/>
<line x1="1659.3" y1="734" x2="1659.3" y2="726" stroke="#3a3633" stroke-width="1.7" stroke-linecap="round"/>
<line x1="1675.7" y1="743.4" x2="1675.7" y2="735.4" stroke="#3a3633" stroke-width="1.7" stroke-linecap="round"/>
<line x1="1691.5" y1="752.6" x2="1691.5" y2="744.6" stroke="#3a3633" stroke-width="1.7" stroke-linecap="round"/>
<line x1="1707.7" y1="761.9" x2="1707.7" y2="753.9" stroke="#3a3633" stroke-width="1.7" stroke-linecap="round"/>
<line x1="1724" y1="771.4" x2="1724" y2="763.4" stroke="#3a3633" stroke-width="1.7" stroke-linecap="round"/>
<line x1="1740" y1="780.6" x2="1740" y2="772.6" stroke="#3a3633" stroke-width="1.7" stroke-linecap="round"/>
<use href="#ic_serv" transform="translate(1669.2 748.4) scale(0.58)"/>
<use href="#ic_lou" transform="translate(1648.3 763.9) scale(0.58)"/>
<use href="#ic_read" transform="translate(1461.8 815.1) scale(0.58)"/>
<use href="#ic_lou" transform="translate(1539.4 828) scale(0.58)"/>
<use href="#ic_read" transform="translate(1511.7 843.6) scale(0.58)"/>
<use href="#ic_read" transform="translate(1560.3 865.9) scale(0.58)"/>
<use href="#atr" x="1188.2" y="0"/>
<circle cx="1603.4" cy="953.8" r="26" fill="#fff" stroke="#999" stroke-width="0.8"/>
<path d="M1545.1 955v2.4M1550.5 971.2v2.4M1612.6 994.4v2.4M1613.8 992.7v2.4M1557 938.8v2.4M1618.4 926.5v2.4M1560 963.8v2.4M1655 994.2v2.4M1541.6 953.4v2.4M1619.1 916.2v2.4M1602.8 986.6v2.4M1621.6 917.8v2.4M1617.9 928v2.4M1659.5 945.4v2.4M1611.8 909.1v2.4M1534.8 954.5v2.4M1609.2 984.9v2.4M1570.8 986.1v2.4M1565.8 957.7v2.4M1649.6 968.1v2.4M1633.8 936v2.4M1558.1 967.1v2.4M1678.7 958.6v2.4M1643.8 986.8v2.4M1670 950v2.4M1661.7 960.1v2.4M1655.6 964v2.4M1648.7 937.5v2.4M1550.4 942.8v2.4M1684.4 966.8v2.4M1651.1 966.6v2.4M1636.9 991.4v2.4M1572.4 921.9v2.4M1662.4 989.8v2.4M1635.8 991.6v2.4M1537.2 962.8v2.4M1659.7 938.9v2.4M1607 924.9v2.4M1626 1003.7v2.4M1622.4 925.5v2.4M1646.9 927.2v2.4M1578.7 975.2v2.4M1558.5 957.6v2.4M1587.1 928.7v2.4M1552.7 975.4v2.4M1670.5 960.3v2.4M1573.8 923.2v2.4M1632.9 977.6v2.4M1645.2 989.5v2.4M1592.5 996.1v2.4M1677.4 976.5v2.4M1640 967.8v2.4M1550.6 951.8v2.4M1587.5 914.7v2.4M1599.6 907.6v2.4M1688.3 955.7v2.4M1652 956.1v2.4M1573.6 961.5v2.4M1677.4 958.5v2.4M1641.1 965.5v2.4M1534.2 962.3v2.4M1636.7 979.1v2.4M1546.4 957.2v2.4M1574.7 988.3v2.4M1694.4 963.5v2.4M1660.4 968.1v2.4M1673.6 949.4v2.4M1564.9 956.1v2.4M1566.2 985.2v2.4M1545.4 940v2.4" stroke="#222" stroke-width="1.1"/>
<use href="#ic_proj" transform="translate(1597.7 949.8) scale(0.58)"/>
<use href="#ic_sit" transform="translate(1652 947.2) scale(0.58)"/>
<use href="#ic_sit" transform="translate(1560.1 972.2) scale(0.58)"/>
<polygon points="1444.8,1138.3 1640.3,1025.3 1745.9,1086.3 1550.4,1199.3" fill="#fff" stroke="none" stroke-width="0"/>
<line x1="1620.8" y1="1076.8" x2="1645.8" y2="1062.4" stroke="#9c9c9c" stroke-width="0.65"/>
<line x1="1620.8" y1="1074.3" x2="1645.8" y2="1059.9" stroke="#9c9c9c" stroke-width="0.65"/>
<line x1="1513.7" y1="1166.8" x2="1530.7" y2="1157" stroke="#9c9c9c" stroke-width="0.65"/>
<line x1="1513.7" y1="1164.3" x2="1530.7" y2="1154.5" stroke="#9c9c9c" stroke-width="0.65"/>
<line x1="1522.9" y1="1183.4" x2="1585.3" y2="1147.4" stroke="#9c9c9c" stroke-width="0.65"/>
<line x1="1522.9" y1="1180.9" x2="1585.3" y2="1144.9" stroke="#9c9c9c" stroke-width="0.65"/>
<line x1="1539.8" y1="1193.2" x2="1602.2" y2="1157.2" stroke="#9c9c9c" stroke-width="0.65"/>
<line x1="1539.8" y1="1190.7" x2="1602.2" y2="1154.7" stroke="#9c9c9c" stroke-width="0.65"/>
<line x1="1561.8" y1="1156.2" x2="1582.8" y2="1168.3" stroke="#9c9c9c" stroke-width="0.65"/>
<line x1="1561.8" y1="1153.7" x2="1582.8" y2="1165.8" stroke="#9c9c9c" stroke-width="0.65"/>
<line x1="1597.3" y1="1050.2" x2="1656.7" y2="1084.5" stroke="#9c9c9c" stroke-width="0.65"/>
<line x1="1597.3" y1="1047.7" x2="1656.7" y2="1082" stroke="#9c9c9c" stroke-width="0.65"/>
<line x1="1655.6" y1="1056.7" x2="1679.3" y2="1070.4" stroke="#9c9c9c" stroke-width="0.65"/>
<line x1="1655.6" y1="1054.2" x2="1679.3" y2="1067.9" stroke="#9c9c9c" stroke-width="0.65"/>
<use href="#fc" x="1451.9" y="1137.9"/>
<use href="#fc" x="1458.7" y="1141.8"/>
<use href="#fc" x="1476.4" y="1139.6"/>
<use href="#fc" x="1591.7" y="1057.1"/>
<use href="#fc" x="1602.4" y="1050.9"/>
<use href="#fc" x="1609.3" y="1054.8"/>
<use href="#fc" x="1616.1" y="1058.8"/>
<use href="#fc" x="1613.2" y="1044.6"/>
<use href="#fc" x="1626.9" y="1052.6"/>
<use href="#fc" x="1637.6" y="1046.4"/>
<use href="#fc" x="1634.7" y="1032.2"/>
<use href="#fd" x="1487.3" y="1158.3"/>
<use href="#fd" x="1494.1" y="1162.3"/>
<use href="#fd" x="1501" y="1166.2"/>
<use href="#fd" x="1515.6" y="1157.8"/>
<use href="#fd" x="1627" y="1069.6"/>
<use href="#fd" x="1640.7" y="1077.5"/>
<use href="#fd" x="1647.6" y="1081.5"/>
<use href="#fd" x="1670.1" y="1060.6"/>
<use href="#fc" x="1518.9" y="1176.6"/>
<use href="#fc" x="1525.8" y="1180.6"/>
<use href="#fc" x="1532.7" y="1184.5"/>
<use href="#fc" x="1539.5" y="1188.5"/>
<use href="#fc" x="1522.8" y="1166.4"/>
<use href="#fc" x="1543.4" y="1178.3"/>
<use href="#fc" x="1550.3" y="1182.3"/>
<use href="#fc" x="1561" y="1176.1"/>
<use href="#fc" x="1558.1" y="1161.9"/>
<use href="#fc" x="1564.9" y="1165.9"/>
<use href="#fc" x="1571.8" y="1169.9"/>
<use href="#fc" x="1575.7" y="1159.7"/>
<use href="#fc" x="1582.5" y="1163.6"/>
<use href="#fc" x="1593.3" y="1157.4"/>
<rect x="1460.1" y="1130.7" width="2" height="10" rx="1" fill="#f2f2f2" stroke="#b5b5b5" stroke-width="0.6"/>
<rect x="1478" y="1141" width="2" height="10" rx="1" fill="#f2f2f2" stroke="#b5b5b5" stroke-width="0.6"/>
<rect x="1496" y="1151.4" width="2" height="10" rx="1" fill="#f2f2f2" stroke="#b5b5b5" stroke-width="0.6"/>
<rect x="1549.8" y="1182.5" width="2" height="10" rx="1" fill="#f2f2f2" stroke="#b5b5b5" stroke-width="0.6"/>
<rect x="1476.7" y="1121.1" width="2" height="10" rx="1" fill="#f2f2f2" stroke="#b5b5b5" stroke-width="0.6"/>
<rect x="1494.6" y="1131.4" width="2" height="10" rx="1" fill="#f2f2f2" stroke="#b5b5b5" stroke-width="0.6"/>
<rect x="1530.5" y="1152.2" width="2" height="10" rx="1" fill="#f2f2f2" stroke="#b5b5b5" stroke-width="0.6"/>
<rect x="1566.4" y="1172.9" width="2" height="10" rx="1" fill="#f2f2f2" stroke="#b5b5b5" stroke-width="0.6"/>
<rect x="1493.3" y="1111.5" width="2" height="10" rx="1" fill="#f2f2f2" stroke="#b5b5b5" stroke-width="0.6"/>
<rect x="1529.2" y="1132.2" width="2" height="10" rx="1" fill="#f2f2f2" stroke="#b5b5b5" stroke-width="0.6"/>
<rect x="1547.2" y="1142.6" width="2" height="10" rx="1" fill="#f2f2f2" stroke="#b5b5b5" stroke-width="0.6"/>
<rect x="1583.1" y="1163.3" width="2" height="10" rx="1" fill="#f2f2f2" stroke="#b5b5b5" stroke-width="0.6"/>
<rect x="1509.9" y="1101.8" width="2" height="10" rx="1" fill="#f2f2f2" stroke="#b5b5b5" stroke-width="0.6"/>
<rect x="1545.8" y="1122.6" width="2" height="10" rx="1" fill="#f2f2f2" stroke="#b5b5b5" stroke-width="0.6"/>
<rect x="1563.8" y="1133" width="2" height="10" rx="1" fill="#f2f2f2" stroke="#b5b5b5" stroke-width="0.6"/>
<rect x="1581.7" y="1143.3" width="2" height="10" rx="1" fill="#f2f2f2" stroke="#b5b5b5" stroke-width="0.6"/>
<rect x="1611" y="1064.2" width="2" height="10" rx="1" fill="#f2f2f2" stroke="#b5b5b5" stroke-width="0.6"/>
<rect x="1628.9" y="1074.6" width="2" height="10" rx="1" fill="#f2f2f2" stroke="#b5b5b5" stroke-width="0.6"/>
<rect x="1626.2" y="1034.6" width="2" height="10" rx="1" fill="#f2f2f2" stroke="#b5b5b5" stroke-width="0.6"/>
<rect x="1662.1" y="1055.3" width="2" height="10" rx="1" fill="#f2f2f2" stroke="#b5b5b5" stroke-width="0.6"/>
<rect x="1642.9" y="1025" width="2" height="10" rx="1" fill="#f2f2f2" stroke="#b5b5b5" stroke-width="0.6"/>
<rect x="1678.8" y="1045.7" width="2" height="10" rx="1" fill="#f2f2f2" stroke="#b5b5b5" stroke-width="0.6"/>
<polyline points="1482.7,1141.9 1490.7,1137.3 1498.7,1141.9" fill="none" stroke="#8c8c8c" stroke-width="0.6"/>
<line x1="1490.7" y1="1126.3" x2="1490.7" y2="1137.3" stroke="#8c8c8c" stroke-width="0.6"/>
<polyline points="1473.8,1135 1473.8,1146 1490.7,1155.8 1507.6,1146 1507.6,1135" fill="none" stroke="#8c8c8c" stroke-width="0.6"/>
<line x1="1490.7" y1="1144.8" x2="1490.7" y2="1155.8" stroke="#8c8c8c" stroke-width="0.6"/>
<polygon points="1473.8,1135 1490.7,1125.2 1507.6,1135 1490.7,1144.8" fill="none" stroke="#8c8c8c" stroke-width="0.9"/>
<polygon points="1475.6,1135 1490.7,1126.3 1505.8,1135 1490.7,1143.7" fill="none" stroke="#8c8c8c" stroke-width="0.8"/>
<polyline points="1515.2,1123.6 1523.2,1118.9 1531.2,1123.6" fill="none" stroke="#8c8c8c" stroke-width="0.6"/>
<line x1="1523.2" y1="1107.9" x2="1523.2" y2="1118.9" stroke="#8c8c8c" stroke-width="0.6"/>
<polyline points="1505.9,1116.9 1505.9,1127.9 1523.2,1137.9 1540.5,1127.9 1540.5,1116.9" fill="none" stroke="#8c8c8c" stroke-width="0.6"/>
<line x1="1523.2" y1="1126.9" x2="1523.2" y2="1137.9" stroke="#8c8c8c" stroke-width="0.6"/>
<polygon points="1505.9,1116.9 1523.2,1106.9 1540.5,1116.9 1523.2,1126.9" fill="none" stroke="#8c8c8c" stroke-width="0.9"/>
<polygon points="1507.7,1116.9 1523.2,1107.9 1538.7,1116.9 1523.2,1125.9" fill="none" stroke="#8c8c8c" stroke-width="0.8"/>
<polyline points="1563,1151.2 1571,1146.5 1579,1151.2" fill="none" stroke="#8c8c8c" stroke-width="0.6"/>
<line x1="1571" y1="1135.5" x2="1571" y2="1146.5" stroke="#8c8c8c" stroke-width="0.6"/>
<polyline points="1553.7,1144.5 1553.7,1155.5 1571,1165.5 1588.3,1155.5 1588.3,1144.5" fill="none" stroke="#8c8c8c" stroke-width="0.6"/>
<line x1="1571" y1="1154.5" x2="1571" y2="1165.5" stroke="#8c8c8c" stroke-width="0.6"/>
<polygon points="1553.7,1144.5 1571,1134.5 1588.3,1144.5 1571,1154.5" fill="none" stroke="#8c8c8c" stroke-width="0.9"/>
<polygon points="1555.5,1144.5 1571,1135.5 1586.5,1144.5 1571,1153.5" fill="none" stroke="#8c8c8c" stroke-width="0.8"/>
<polyline points="1642.7,1048.2 1650.7,1043.5 1658.7,1048.2" fill="none" stroke="#8c8c8c" stroke-width="0.6"/>
<line x1="1650.7" y1="1032.5" x2="1650.7" y2="1043.5" stroke="#8c8c8c" stroke-width="0.6"/>
<polyline points="1632.2,1042.2 1632.2,1053.2 1650.7,1063.9 1669.2,1053.2 1669.2,1042.2" fill="none" stroke="#8c8c8c" stroke-width="0.6"/>
<line x1="1650.7" y1="1052.9" x2="1650.7" y2="1063.9" stroke="#8c8c8c" stroke-width="0.6"/>
<polygon points="1632.2,1042.2 1650.7,1031.5 1669.2,1042.2 1650.7,1052.9" fill="none" stroke="#8c8c8c" stroke-width="0.9"/>
<polygon points="1634,1042.2 1650.7,1032.5 1667.4,1042.2 1650.7,1051.9" fill="none" stroke="#8c8c8c" stroke-width="0.8"/>
<polyline points="1675.7,1085.4 1683.7,1080.8 1691.7,1085.4" fill="none" stroke="#8c8c8c" stroke-width="0.6"/>
<line x1="1683.7" y1="1069.8" x2="1683.7" y2="1080.8" stroke="#8c8c8c" stroke-width="0.6"/>
<polyline points="1666.8,1078.5 1666.8,1089.5 1683.7,1099.3 1700.6,1089.5 1700.6,1078.5" fill="none" stroke="#8c8c8c" stroke-width="0.6"/>
<line x1="1683.7" y1="1088.3" x2="1683.7" y2="1099.3" stroke="#8c8c8c" stroke-width="0.6"/>
<polygon points="1666.8,1078.5 1683.7,1068.7 1700.6,1078.5 1683.7,1088.3" fill="none" stroke="#8c8c8c" stroke-width="0.9"/>
<polygon points="1668.6,1078.5 1683.7,1069.8 1698.8,1078.5 1683.7,1087.2" fill="none" stroke="#8c8c8c" stroke-width="0.8"/>
<polyline points="1695.1,1079.2 1703.1,1074.6 1711.1,1079.2" fill="none" stroke="#8c8c8c" stroke-width="0.6"/>
<line x1="1703.1" y1="1063.6" x2="1703.1" y2="1074.6" stroke="#8c8c8c" stroke-width="0.6"/>
<polyline points="1688.2,1071.1 1688.2,1082.1 1703.1,1090.7 1717.9,1082.1 1717.9,1071.1" fill="none" stroke="#8c8c8c" stroke-width="0.6"/>
<line x1="1703.1" y1="1079.7" x2="1703.1" y2="1090.7" stroke="#8c8c8c" stroke-width="0.6"/>
<polygon points="1688.2,1071.1 1703.1,1062.5 1717.9,1071.1 1703.1,1079.7" fill="none" stroke="#8c8c8c" stroke-width="0.9"/>
<polygon points="1690,1071.1 1703.1,1063.6 1716.1,1071.1 1703.1,1078.6" fill="none" stroke="#8c8c8c" stroke-width="0.8"/>
<polyline points="1444.8,1138.3 1640.3,1025.3 1745.9,1086.3" fill="none" stroke="#262626" stroke-width="1.15" stroke-linejoin="round"/>
<polygon points="1444.8,1138.3 1550.4,1199.3 1745.9,1086.3 1745.9,1088 1550.4,1201 1444.8,1140" fill="#a8a8a8" stroke="none" stroke-width="0"/>
<polyline points="1444.8,1138.3 1550.4,1199.3 1745.9,1086.3" fill="none" stroke="#1e1e1e" stroke-width="0.95"/>
<polyline points="1444.8,1140 1550.4,1201 1745.9,1088" fill="none" stroke="#4a4a4a" stroke-width="0.7"/>
<path d="M1573.5 1098.2l.7-.7 .8-.7 .8-.7 .9-.8 1-.7 1.1-.7 1.1-.7 1.1-.7 1.3-.8 1.3-.6 1.5-.6 1.5-.4 1.7-.4 1.7-.3 1.9-.2 1.9-.1 2.1-.1 2 .1 2 .2 2 .3 2 .4 1.9 .5 1.9 .7 1.9 .7 1.9 .9 1.8 .9 1.7 .9 1.7 .9 1.7 .9 1.6 1 1.5 1 1.5 1 1.5 1 1.3 1.1 1.3 1.1 1.2 1.1 1 1.1 1 1.2 .9 1.2 .8 1.2 .8 1.2 .5 1.2 .4 1.1 .3 1.1 .1 .9 0 .9-.2 .9-.4 .8-.5 .7-.7 .7-.8 .8-.9 .7-1.1 .7-1.2 .7-1.4 .7-1.5 .8-1.7 .7-1.6 .6-1.7 .6-1.8 .4-1.7 .4-1.8 .2-1.8 .2-1.8 .1-1.9 0-1.8-.1-1.8-.1-1.8-.3-1.8-.3-1.7-.3-1.7-.5-1.7-.6-1.6-.6-1.7-.7-1.6-.7-1.7-.9-1.6-.9-1.7-1-1.6-1.1-1.7-1.2-1.6-1.2-1.5-1.2-1.5-1.3-1.3-1.2-1.1-1.3-1.1-1.2-1-1.2-.8-1.3-.7-1.2-.6-1.2-.3-1.1-.2-1 0-1 .2-.9 .3-.9z" fill="#fff" stroke="#222" stroke-width="0.9"/>
<path d="M1574.7 1099.5l.7-.7 .8-.7 .8-.7 .9-.8 1-.7 1.1-.7 1.1-.7 1.1-.7 1.3-.8 1.3-.6 1.5-.6 1.5-.4 1.7-.4 1.7-.3 1.9-.2 1.9-.1 2.1-.1 2 .1 1.9 .2 1.9 .3 1.8 .4 1.8 .5 1.6 .7 1.7 .7 1.5 .9 1.6 .9 1.5 .9 1.5 .9 1.5 .9 1.5 1 1.5 1 1.4 1 1.5 1 1.3 1.1 1.3 1.1 1.2 1.1 1 1.1 1 1.2 .9 1.2 .8 1.2 .8 1.2 .5 1.2 .4 1.1 .3 1.1 .1 .9 0 .9-.2 .9-.4 .8-.5 .7-.7 .7-.8 .8-.9 .7-1.1 .7-1.2 .7-1.4 .7-1.5 .8-1.7 .7-1.6 .6-1.6 .6-1.6 .4-1.6 .4-1.6 .2-1.6 .2-1.6 .1-1.5 0-1.6-.1-1.6-.1-1.6-.3-1.6-.3-1.6-.3-1.6-.5-1.7-.6-1.6-.6-1.7-.7-1.6-.7-1.7-.9-1.6-.9-1.7-1-1.6-1.1-1.7-1.2-1.6-1.2-1.5-1.2-1.5-1.3-1.3-1.2-1.1-1.3-1.1-1.2-1-1.2-.8-1.3-.7-1.2-.6-1.2-.3-1.1-.2-1 0-1 .2-.9 .3-.9z" fill="none" stroke="#555" stroke-width="0.6"/>
<line x1="1450.7" y1="1134.9" x2="1450.7" y2="1126.9" stroke="#3a3633" stroke-width="1.7" stroke-linecap="round"/>
<line x1="1458.3" y1="1130.5" x2="1458.3" y2="1122.5" stroke="#3a3633" stroke-width="1.7" stroke-linecap="round"/>
<line x1="1474.5" y1="1121.1" x2="1474.5" y2="1113.1" stroke="#3a3633" stroke-width="1.7" stroke-linecap="round"/>
<line x1="1490.2" y1="1112.1" x2="1490.2" y2="1104.1" stroke="#3a3633" stroke-width="1.7" stroke-linecap="round"/>
<line x1="1505.8" y1="1103" x2="1505.8" y2="1095" stroke="#3a3633" stroke-width="1.7" stroke-linecap="round"/>
<line x1="1603.2" y1="1046.8" x2="1603.2" y2="1038.8" stroke="#3a3633" stroke-width="1.7" stroke-linecap="round"/>
<line x1="1618.8" y1="1037.7" x2="1618.8" y2="1029.7" stroke="#3a3633" stroke-width="1.7" stroke-linecap="round"/>
<line x1="1635.2" y1="1028.2" x2="1635.2" y2="1020.2" stroke="#3a3633" stroke-width="1.7" stroke-linecap="round"/>
<line x1="1641.5" y1="1025.3" x2="1641.5" y2="1016.3" stroke="#3a3633" stroke-width="1.7" stroke-linecap="round"/>
<line x1="1659.3" y1="1036.3" x2="1659.3" y2="1028.3" stroke="#3a3633" stroke-width="1.7" stroke-linecap="round"/>
<line x1="1675.7" y1="1045.7" x2="1675.7" y2="1037.7" stroke="#3a3633" stroke-width="1.7" stroke-linecap="round"/>
<line x1="1691.5" y1="1054.9" x2="1691.5" y2="1046.9" stroke="#3a3633" stroke-width="1.7" stroke-linecap="round"/>
<line x1="1707.7" y1="1064.2" x2="1707.7" y2="1056.2" stroke="#3a3633" stroke-width="1.7" stroke-linecap="round"/>
<line x1="1724" y1="1073.7" x2="1724" y2="1065.7" stroke="#3a3633" stroke-width="1.7" stroke-linecap="round"/>
<line x1="1740" y1="1082.9" x2="1740" y2="1074.9" stroke="#3a3633" stroke-width="1.7" stroke-linecap="round"/>
<use href="#ic_serv" transform="translate(1622.7 1029) scale(0.58)"/>
<use href="#ic_serv" transform="translate(1672.9 1052.9) scale(0.58)"/>
<use href="#ic_rec" transform="translate(1652.7 1067.7) scale(0.58)"/>
<use href="#ic_serv" transform="translate(1715.9 1081.8) scale(0.58)"/>
<use href="#ic_serv" transform="translate(1482.3 1112.3) scale(0.58)"/>
<use href="#ic_rec" transform="translate(1543 1128.3) scale(0.58)"/>
<use href="#ic_read" transform="translate(1510 1146.9) scale(0.58)"/>
<use href="#ic_eld" transform="translate(1524.9 1146.4) scale(0.58)"/>
<use href="#ic_read" transform="translate(1563.6 1166.4) scale(0.58)"/>
<use href="#ic_chi" transform="translate(1577.7 1165.9) scale(0.58)"/>
<polygon points="1444.8,1290.7 1640.3,1177.7 1745.9,1238.7 1550.4,1351.7" fill="#fff" stroke="none" stroke-width="0"/>
<line x1="1583.1" y1="1227.8" x2="1639.4" y2="1195.3" stroke="#9c9c9c" stroke-width="0.65"/>
<line x1="1583.1" y1="1225.3" x2="1639.4" y2="1192.8" stroke="#9c9c9c" stroke-width="0.65"/>
<line x1="1600.9" y1="1240.8" x2="1675.1" y2="1197.8" stroke="#9c9c9c" stroke-width="0.65"/>
<line x1="1600.9" y1="1238.3" x2="1675.1" y2="1195.3" stroke="#9c9c9c" stroke-width="0.65"/>
<line x1="1628.6" y1="1252.8" x2="1670.1" y2="1228.8" stroke="#9c9c9c" stroke-width="0.65"/>
<line x1="1628.6" y1="1250.3" x2="1670.1" y2="1226.3" stroke="#9c9c9c" stroke-width="0.65"/>
<line x1="1608.7" y1="1236.3" x2="1633" y2="1250.3" stroke="#9c9c9c" stroke-width="0.65"/>
<line x1="1608.7" y1="1233.8" x2="1633" y2="1247.8" stroke="#9c9c9c" stroke-width="0.65"/>
<line x1="1597.3" y1="1202.6" x2="1661.4" y2="1239.6" stroke="#9c9c9c" stroke-width="0.65"/>
<line x1="1597.3" y1="1200.1" x2="1661.4" y2="1237.1" stroke="#9c9c9c" stroke-width="0.65"/>
<line x1="1655.6" y1="1209.1" x2="1684.8" y2="1226" stroke="#9c9c9c" stroke-width="0.65"/>
<line x1="1655.6" y1="1206.6" x2="1684.8" y2="1223.5" stroke="#9c9c9c" stroke-width="0.65"/>
<use href="#fd" x="1583.8" y="1214"/>
<use href="#fd" x="1590.7" y="1218"/>
<use href="#fd" x="1597.6" y="1221.9"/>
<use href="#fd" x="1598.5" y="1205.5"/>
<use href="#fd" x="1605.4" y="1209.5"/>
<use href="#fd" x="1612.2" y="1213.5"/>
<use href="#fd" x="1613.2" y="1197"/>
<use href="#fd" x="1620" y="1201"/>
<use href="#fd" x="1627.8" y="1188.6"/>
<use href="#fc" x="1619.3" y="1250.3"/>
<use href="#fc" x="1616.3" y="1236.1"/>
<use href="#fc" x="1623.1" y="1240.1"/>
<use href="#fc" x="1620.2" y="1225.9"/>
<use href="#fc" x="1627" y="1229.9"/>
<use href="#fc" x="1637.8" y="1223.7"/>
<use href="#fc" x="1644.7" y="1227.7"/>
<use href="#fc" x="1651.5" y="1231.6"/>
<use href="#fc" x="1641.7" y="1213.5"/>
<use href="#fc" x="1655.4" y="1221.4"/>
<use href="#fc" x="1662.3" y="1225.4"/>
<use href="#fc" x="1659.3" y="1211.3"/>
<use href="#fc" x="1663.2" y="1201.1"/>
<use href="#fc" x="1670" y="1205.1"/>
<use href="#fc" x="1676.9" y="1209"/>
<path d="M1507.2 1263.5L1520.8 1271.3l0 -2.4M1508.8 1262.5L1522.4 1270.4l0 -2.4M1510.5 1261.5L1524.1 1269.4l0 -2.4M1512.2 1260.6L1525.8 1268.4l0 -2.4M1513.8 1259.6L1527.4 1267.5l0 -2.4M1515.5 1258.7L1529.1 1266.5l0 -2.4M1517.1 1257.7L1530.7 1265.6l0 -2.4M1518.8 1256.7L1532.4 1264.6l0 -2.4M1520.5 1255.8L1534.1 1263.6l0 -2.4M1522.1 1254.8L1535.7 1262.7l0 -2.4M1523.8 1253.9L1537.4 1261.7l0 -2.4M1525.5 1252.9L1539.1 1260.8l0 -2.4M1527.1 1251.9L1540.7 1259.8l0 -2.4M1528.8 1251L1542.4 1258.8l0 -2.4M1530.4 1250L1544 1257.9l0 -2.4M1532.1 1249.1L1545.7 1256.9l0 -2.4M1533.8 1248.1L1547.4 1256l0 -2.4M1535.4 1247.1L1549 1255l0 -2.4M1537.1 1246.2L1550.7 1254l0 -2.4M1538.7 1245.2L1552.3 1253.1l0 -2.4M1540.4 1244.3L1554 1252.1l0 -2.4M1542.1 1243.3L1555.7 1251.2l0 -2.4M1543.7 1242.3L1557.3 1250.2l0 -2.4M1545.4 1241.4L1559 1249.2l0 -2.4M1547.1 1240.4L1560.7 1248.3l0 -2.4M1548.7 1239.5L1562.3 1247.3l0 -2.4M1550.4 1238.5L1564 1246.4l0 -2.4M1552 1237.5L1565.6 1245.4l0 -2.4M1553.7 1236.6L1567.3 1244.4l0 -2.4M1555.4 1235.6L1569 1243.5l0 -2.4M1557 1234.7L1570.6 1242.5l0 -2.4M1558.7 1233.7L1572.3 1241.5l0 -2.4M1560.3 1232.7L1573.9 1240.6l0 -2.4M1523.4 1272.8L1537 1280.7l0 -2.4M1525 1271.9L1538.6 1279.7l0 -2.4M1526.7 1270.9L1540.3 1278.8l0 -2.4M1528.3 1269.9L1541.9 1277.8l0 -2.4M1530 1269L1543.6 1276.8l0 -2.4M1531.7 1268L1545.3 1275.9l0 -2.4M1533.3 1267.1L1546.9 1274.9l0 -2.4M1535 1266.1L1548.6 1274l0 -2.4M1536.7 1265.1L1550.3 1273l0 -2.4M1538.3 1264.2L1551.9 1272l0 -2.4M1540 1263.2L1553.6 1271.1l0 -2.4M1541.6 1262.3L1555.2 1270.1l0 -2.4M1543.3 1261.3L1556.9 1269.2l0 -2.4M1545 1260.3L1558.6 1268.2l0 -2.4M1546.6 1259.4L1560.2 1267.2l0 -2.4M1548.3 1258.4L1561.9 1266.3l0 -2.4M1550 1257.5L1563.6 1265.3l0 -2.4M1551.6 1256.5L1565.2 1264.3l0 -2.4M1553.3 1255.5L1566.9 1263.4l0 -2.4M1554.9 1254.6L1568.5 1262.4l0 -2.4M1556.6 1253.6L1570.2 1261.5l0 -2.4M1558.3 1252.7L1571.9 1260.5l0 -2.4M1559.9 1251.7L1573.5 1259.5l0 -2.4M1561.6 1250.7L1575.2 1258.6l0 -2.4M1563.2 1249.8L1576.8 1257.6l0 -2.4M1564.9 1248.8L1578.5 1256.7l0 -2.4M1566.6 1247.8L1580.2 1255.7l0 -2.4M1568.2 1246.9L1581.8 1254.7l0 -2.4M1569.9 1245.9L1583.5 1253.8l0 -2.4M1571.6 1245L1585.2 1252.8l0 -2.4M1573.2 1244L1586.8 1251.9l0 -2.4M1574.9 1243L1588.5 1250.9l0 -2.4M1576.5 1242.1L1590.1 1249.9l0 -2.4M1539.6 1282.2L1553.2 1290l0 -2.4M1541.2 1281.2L1554.8 1289.1l0 -2.4M1542.9 1280.3L1556.5 1288.1l0 -2.4M1544.5 1279.3L1558.1 1287.2l0 -2.4M1546.2 1278.3L1559.8 1286.2l0 -2.4M1547.9 1277.4L1561.5 1285.2l0 -2.4M1549.5 1276.4L1563.1 1284.3l0 -2.4M1551.2 1275.5L1564.8 1283.3l0 -2.4M1552.8 1274.5L1566.5 1282.3l0 -2.4M1554.5 1273.5L1568.1 1281.4l0 -2.4M1556.2 1272.6L1569.8 1280.4l0 -2.4M1557.8 1271.6L1571.4 1279.5l0 -2.4M1559.5 1270.6L1573.1 1278.5l0 -2.4M1561.2 1269.7L1574.8 1277.5l0 -2.4M1562.8 1268.7L1576.4 1276.6l0 -2.4M1564.5 1267.8L1578.1 1275.6l0 -2.4M1566.1 1266.8L1579.7 1274.7l0 -2.4M1567.8 1265.8L1581.4 1273.7l0 -2.4M1569.5 1264.9L1583.1 1272.7l0 -2.4M1571.1 1263.9L1584.7 1271.8l0 -2.4M1572.8 1263L1586.4 1270.8l0 -2.4M1574.5 1262L1588.1 1269.9l0 -2.4M1576.1 1261L1589.7 1268.9l0 -2.4M1577.8 1260.1L1591.4 1267.9l0 -2.4M1579.4 1259.1L1593 1267l0 -2.4M1581.1 1258.2L1594.7 1266l0 -2.4M1582.8 1257.2L1596.4 1265.1l0 -2.4M1584.4 1256.2L1598 1264.1l0 -2.4M1586.1 1255.3L1599.7 1263.1l0 -2.4M1587.7 1254.3L1601.3 1262.2l0 -2.4M1589.4 1253.4L1603 1261.2l0 -2.4M1591.1 1252.4L1604.7 1260.3l0 -2.4M1592.7 1251.4L1606.3 1259.3l0 -2.4" fill="none" stroke="#8e8e8e" stroke-width="0.5"/>
<path d="M1518.8 1319.9L1530.1 1326.4l0 -2.4M1520.5 1319L1531.7 1325.4l0 -2.4M1522.2 1318L1533.4 1324.5l0 -2.4M1523.8 1317L1535.1 1323.5l0 -2.4M1525.5 1316.1L1536.7 1322.6l0 -2.4M1527.2 1315.1L1538.4 1321.6l0 -2.4M1528.8 1314.2L1540.1 1320.6l0 -2.4M1530.5 1313.2L1541.7 1319.7l0 -2.4M1532.1 1312.2L1543.4 1318.7l0 -2.4M1533.8 1311.3L1545 1317.8l0 -2.4M1535.5 1310.3L1546.7 1316.8l0 -2.4M1537.1 1309.4L1548.4 1315.8l0 -2.4M1538.8 1308.4L1550 1314.9l0 -2.4M1540.5 1307.4L1551.7 1313.9l0 -2.4M1542.1 1306.5L1553.3 1313l0 -2.4M1543.8 1305.5L1555 1312l0 -2.4M1545.4 1304.6L1556.7 1311l0 -2.4M1547.1 1303.6L1558.3 1310.1l0 -2.4M1548.8 1302.6L1560 1309.1l0 -2.4M1550.4 1301.7L1561.7 1308.2l0 -2.4M1552.1 1300.7L1563.3 1307.2l0 -2.4M1553.7 1299.7L1565 1306.2l0 -2.4M1555.4 1298.8L1566.6 1305.3l0 -2.4M1557.1 1297.8L1568.3 1304.3l0 -2.4M1532.2 1327.6L1543.5 1334.1l0 -2.4M1533.9 1326.7L1545.1 1333.2l0 -2.4M1535.5 1325.7L1546.8 1332.2l0 -2.4M1537.2 1324.8L1548.4 1331.3l0 -2.4M1538.9 1323.8L1550.1 1330.3l0 -2.4M1540.5 1322.8L1551.8 1329.3l0 -2.4M1542.2 1321.9L1553.4 1328.4l0 -2.4M1543.9 1320.9L1555.1 1327.4l0 -2.4M1545.5 1320L1556.8 1326.5l0 -2.4M1547.2 1319L1558.4 1325.5l0 -2.4M1548.8 1318L1560.1 1324.5l0 -2.4M1550.5 1317.1L1561.7 1323.6l0 -2.4M1552.2 1316.1L1563.4 1322.6l0 -2.4M1553.8 1315.2L1565.1 1321.6l0 -2.4M1555.5 1314.2L1566.7 1320.7l0 -2.4M1557.2 1313.2L1568.4 1319.7l0 -2.4M1558.8 1312.3L1570 1318.8l0 -2.4M1560.5 1311.3L1571.7 1317.8l0 -2.4M1562.1 1310.4L1573.4 1316.8l0 -2.4M1563.8 1309.4L1575 1315.9l0 -2.4M1565.5 1308.4L1576.7 1314.9l0 -2.4M1567.1 1307.5L1578.4 1314l0 -2.4M1568.8 1306.5L1580 1313l0 -2.4M1570.4 1305.6L1581.7 1312l0 -2.4M1545.6 1335.4L1556.8 1341.9l0 -2.4M1547.3 1334.4L1558.5 1340.9l0 -2.4M1548.9 1333.5L1560.2 1339.9l0 -2.4M1550.6 1332.5L1561.8 1339l0 -2.4M1552.2 1331.5L1563.5 1338l0 -2.4M1553.9 1330.6L1565.1 1337.1l0 -2.4M1555.6 1329.6L1566.8 1336.1l0 -2.4M1557.2 1328.6L1568.5 1335.1l0 -2.4M1558.9 1327.7L1570.1 1334.2l0 -2.4M1560.6 1326.7L1571.8 1333.2l0 -2.4M1562.2 1325.8L1573.5 1332.3l0 -2.4M1563.9 1324.8L1575.1 1331.3l0 -2.4M1565.5 1323.8L1576.8 1330.3l0 -2.4M1567.2 1322.9L1578.4 1329.4l0 -2.4M1568.9 1321.9L1580.1 1328.4l0 -2.4M1570.5 1321L1581.8 1327.5l0 -2.4M1572.2 1320L1583.4 1326.5l0 -2.4M1573.8 1319L1585.1 1325.5l0 -2.4M1575.5 1318.1L1586.7 1324.6l0 -2.4M1577.2 1317.1L1588.4 1323.6l0 -2.4M1578.8 1316.2L1590.1 1322.7l0 -2.4M1580.5 1315.2L1591.7 1321.7l0 -2.4M1582.2 1314.2L1593.4 1320.7l0 -2.4M1583.8 1313.3L1595.1 1319.8l0 -2.4" fill="none" stroke="#8e8e8e" stroke-width="0.5"/>
<path d="M1601.1 1304.2L1612.6 1310.8l0 -2.4M1602.7 1303.2L1614.3 1309.9l0 -2.4M1604.4 1302.2L1615.9 1308.9l0 -2.4M1606.1 1301.3L1617.6 1307.9l0 -2.4M1607.7 1300.3L1619.3 1307l0 -2.4M1609.4 1299.4L1620.9 1306l0 -2.4M1611 1298.4L1622.6 1305.1l0 -2.4M1612.7 1297.4L1624.2 1304.1l0 -2.4M1614.4 1296.5L1625.9 1303.1l0 -2.4M1616 1295.5L1627.6 1302.2l0 -2.4M1617.7 1294.5L1629.2 1301.2l0 -2.4M1619.4 1293.6L1630.9 1300.3l0 -2.4M1621 1292.6L1632.5 1299.3l0 -2.4M1622.7 1291.7L1634.2 1298.3l0 -2.4M1624.3 1290.7L1635.9 1297.4l0 -2.4M1626 1289.7L1637.5 1296.4l0 -2.4M1627.7 1288.8L1639.2 1295.4l0 -2.4M1629.3 1287.8L1640.9 1294.5l0 -2.4M1631 1286.9L1642.5 1293.5l0 -2.4M1632.6 1285.9L1644.2 1292.6l0 -2.4M1634.3 1284.9L1645.8 1291.6l0 -2.4M1636 1284L1647.5 1290.6l0 -2.4M1637.6 1283L1649.2 1289.7l0 -2.4M1639.3 1282.1L1650.8 1288.7l0 -2.4M1641 1281.1L1652.5 1287.8l0 -2.4M1642.6 1280.1L1654.1 1286.8l0 -2.4M1644.3 1279.2L1655.8 1285.8l0 -2.4M1645.9 1278.2L1657.5 1284.9l0 -2.4M1647.6 1277.3L1659.1 1283.9l0 -2.4M1649.3 1276.3L1660.8 1283l0 -2.4M1650.9 1275.3L1662.5 1282l0 -2.4M1652.6 1274.4L1664.1 1281l0 -2.4M1654.2 1273.4L1665.8 1280.1l0 -2.4M1655.9 1272.5L1667.4 1279.1l0 -2.4M1657.6 1271.5L1669.1 1278.2l0 -2.4M1659.2 1270.5L1670.8 1277.2l0 -2.4M1660.9 1269.6L1672.4 1276.2l0 -2.4M1662.6 1268.6L1674.1 1275.3l0 -2.4M1664.2 1267.7L1675.8 1274.3l0 -2.4M1665.9 1266.7L1677.4 1273.4l0 -2.4M1667.5 1265.7L1679.1 1272.4l0 -2.4M1669.2 1264.8L1680.7 1271.4l0 -2.4M1670.9 1263.8L1682.4 1270.5l0 -2.4M1672.5 1262.9L1684.1 1269.5l0 -2.4M1674.2 1261.9L1685.7 1268.6l0 -2.4M1675.9 1260.9L1687.4 1267.6l0 -2.4M1677.5 1260L1689 1266.6l0 -2.4M1679.2 1259L1690.7 1265.7l0 -2.4M1680.8 1258.1L1692.4 1264.7l0 -2.4M1682.5 1257.1L1694 1263.8l0 -2.4M1684.2 1256.1L1695.7 1262.8l0 -2.4M1685.8 1255.2L1697.4 1261.8l0 -2.4M1687.5 1254.2L1699 1260.9l0 -2.4M1689.1 1253.2L1700.7 1259.9l0 -2.4M1690.8 1252.3L1702.3 1258.9l0 -2.4M1692.5 1251.3L1704 1258l0 -2.4M1694.1 1250.4L1705.7 1257l0 -2.4M1695.8 1249.4L1707.3 1256.1l0 -2.4M1697.5 1248.4L1709 1255.1l0 -2.4M1699.1 1247.5L1710.6 1254.1l0 -2.4M1700.8 1246.5L1712.3 1253.2l0 -2.4M1702.4 1245.6L1714 1252.2l0 -2.4M1704.1 1244.6L1715.6 1251.3l0 -2.4M1705.8 1243.6L1717.3 1250.3l0 -2.4M1707.4 1242.7L1719 1249.3l0 -2.4M1709.1 1241.7L1720.6 1248.4l0 -2.4M1710.7 1240.8L1722.3 1247.4l0 -2.4M1712.4 1239.8L1723.9 1246.5l0 -2.4M1714.1 1238.8L1725.6 1245.5l0 -2.4" fill="none" stroke="#8e8e8e" stroke-width="0.5"/>
<path d="M1587.9 1260.4L1598.6 1266.6l0 -2.4M1589.6 1259.4L1600.2 1265.6l0 -2.4M1591.2 1258.5L1601.9 1264.6l0 -2.4M1592.9 1257.5L1603.5 1263.7l0 -2.4M1594.6 1256.6L1605.2 1262.7l0 -2.4M1596.2 1255.6L1606.9 1261.8l0 -2.4M1597.9 1254.6L1608.5 1260.8l0 -2.4M1599.5 1253.7L1610.2 1259.8l0 -2.4M1601.2 1252.7L1611.9 1258.9l0 -2.4M1602.9 1251.8L1613.5 1257.9l0 -2.4M1604.5 1250.8L1615.2 1256.9l0 -2.4M1606.2 1249.8L1616.8 1256l0 -2.4M1607.9 1248.9L1618.5 1255l0 -2.4M1609.5 1247.9L1620.2 1254.1l0 -2.4M1611.2 1247L1621.8 1253.1l0 -2.4M1612.8 1246L1623.5 1252.1l0 -2.4M1614.5 1245L1625.1 1251.2l0 -2.4M1616.2 1244.1L1626.8 1250.2l0 -2.4M1617.8 1243.1L1628.5 1249.3l0 -2.4M1619.5 1242.2L1630.1 1248.3l0 -2.4M1621.2 1241.2L1631.8 1247.3l0 -2.4M1622.8 1240.2L1633.5 1246.4l0 -2.4M1624.5 1239.3L1635.1 1245.4l0 -2.4M1626.1 1238.3L1636.8 1244.5l0 -2.4M1600.6 1267.7L1611.2 1273.9l0 -2.4M1602.2 1266.8L1612.9 1272.9l0 -2.4M1603.9 1265.8L1614.6 1272l0 -2.4M1605.6 1264.8L1616.2 1271l0 -2.4M1607.2 1263.9L1617.9 1270l0 -2.4M1608.9 1262.9L1619.5 1269.1l0 -2.4M1610.6 1262L1621.2 1268.1l0 -2.4M1612.2 1261L1622.9 1267.2l0 -2.4M1613.9 1260L1624.5 1266.2l0 -2.4M1615.5 1259.1L1626.2 1265.2l0 -2.4M1617.2 1258.1L1627.8 1264.3l0 -2.4M1618.9 1257.2L1629.5 1263.3l0 -2.4M1620.5 1256.2L1631.2 1262.3l0 -2.4M1622.2 1255.2L1632.8 1261.4l0 -2.4M1623.9 1254.3L1634.5 1260.4l0 -2.4M1625.5 1253.3L1636.2 1259.5l0 -2.4M1627.2 1252.4L1637.8 1258.5l0 -2.4M1628.8 1251.4L1639.5 1257.5l0 -2.4M1630.5 1250.4L1641.1 1256.6l0 -2.4M1632.2 1249.5L1642.8 1255.6l0 -2.4M1633.8 1248.5L1644.5 1254.7l0 -2.4M1635.5 1247.6L1646.1 1253.7l0 -2.4M1637.1 1246.6L1647.8 1252.7l0 -2.4M1638.8 1245.6L1649.5 1251.8l0 -2.4" fill="none" stroke="#8e8e8e" stroke-width="0.5"/>
<path d="M1459 1289.8L1470 1296.2l0 -2.4M1460.6 1288.9L1471.7 1295.3l0 -2.4M1462.3 1287.9L1473.4 1294.3l0 -2.4M1463.9 1287L1475 1293.4l0 -2.4M1465.6 1286L1476.7 1292.4l0 -2.4M1467.3 1285L1478.4 1291.4l0 -2.4M1468.9 1284.1L1480 1290.5l0 -2.4M1470.6 1283.1L1481.7 1289.5l0 -2.4M1472.2 1282.2L1483.3 1288.6l0 -2.4M1473.9 1281.2L1485 1287.6l0 -2.4M1475.6 1280.2L1486.7 1286.6l0 -2.4M1477.2 1279.3L1488.3 1285.7l0 -2.4M1478.9 1278.3L1490 1284.7l0 -2.4M1480.6 1277.4L1491.6 1283.8l0 -2.4M1482.2 1276.4L1493.3 1282.8l0 -2.4M1483.9 1275.4L1495 1281.8l0 -2.4M1485.5 1274.5L1496.6 1280.9l0 -2.4M1487.2 1273.5L1498.3 1279.9l0 -2.4M1488.9 1272.6L1500 1279l0 -2.4M1490.5 1271.6L1501.6 1278l0 -2.4M1492.2 1270.6L1503.3 1277l0 -2.4M1493.9 1269.7L1504.9 1276.1l0 -2.4M1472.2 1297.5L1483.2 1303.9l0 -2.4M1473.8 1296.5L1484.9 1302.9l0 -2.4M1475.5 1295.5L1486.6 1301.9l0 -2.4M1477.1 1294.6L1488.2 1301l0 -2.4M1478.8 1293.6L1489.9 1300l0 -2.4M1480.5 1292.7L1491.6 1299.1l0 -2.4M1482.1 1291.7L1493.2 1298.1l0 -2.4M1483.8 1290.7L1494.9 1297.1l0 -2.4M1485.5 1289.8L1496.5 1296.2l0 -2.4M1487.1 1288.8L1498.2 1295.2l0 -2.4M1488.8 1287.9L1499.9 1294.3l0 -2.4M1490.4 1286.9L1501.5 1293.3l0 -2.4M1492.1 1285.9L1503.2 1292.3l0 -2.4M1493.8 1285L1504.8 1291.4l0 -2.4M1495.4 1284L1506.5 1290.4l0 -2.4M1497.1 1283.1L1508.2 1289.5l0 -2.4M1498.7 1282.1L1509.8 1288.5l0 -2.4M1500.4 1281.1L1511.5 1287.5l0 -2.4M1502.1 1280.2L1513.2 1286.6l0 -2.4M1503.7 1279.2L1514.8 1285.6l0 -2.4M1505.4 1278.3L1516.5 1284.7l0 -2.4M1507.1 1277.3L1518.1 1283.7l0 -2.4" fill="none" stroke="#8e8e8e" stroke-width="0.5"/>
<line x1="1554.3" y1="1227.4" x2="1638.8" y2="1276.2" stroke="#9c9c9c" stroke-width="0.65"/>
<line x1="1554.3" y1="1224.4" x2="1638.8" y2="1273.2" stroke="#9c9c9c" stroke-width="0.65"/>
<line x1="1557.6" y1="1292.6" x2="1688.6" y2="1216.9" stroke="#9c9c9c" stroke-width="0.65"/>
<line x1="1557.6" y1="1289.6" x2="1688.6" y2="1213.9" stroke="#9c9c9c" stroke-width="0.65"/>
<line x1="1587.1" y1="1232.8" x2="1661.4" y2="1189.9" stroke="#9c9c9c" stroke-width="0.65"/>
<line x1="1587.1" y1="1229.8" x2="1661.4" y2="1186.9" stroke="#9c9c9c" stroke-width="0.65"/>
<line x1="1587.9" y1="1305.6" x2="1724.8" y2="1226.5" stroke="#9c9c9c" stroke-width="0.65"/>
<line x1="1587.9" y1="1302.6" x2="1724.8" y2="1223.5" stroke="#9c9c9c" stroke-width="0.65"/>
<line x1="1612.5" y1="1218.2" x2="1675.9" y2="1254.8" stroke="#9c9c9c" stroke-width="0.65"/>
<line x1="1612.5" y1="1215.2" x2="1675.9" y2="1251.8" stroke="#9c9c9c" stroke-width="0.65"/>
<rect x="1496" y="1303.8" width="2" height="10" rx="1" fill="#f2f2f2" stroke="#b5b5b5" stroke-width="0.6"/>
<rect x="1531.9" y="1324.5" width="2" height="10" rx="1" fill="#f2f2f2" stroke="#b5b5b5" stroke-width="0.6"/>
<rect x="1494.6" y="1283.8" width="2" height="10" rx="1" fill="#f2f2f2" stroke="#b5b5b5" stroke-width="0.6"/>
<rect x="1511.3" y="1274.2" width="2" height="10" rx="1" fill="#f2f2f2" stroke="#b5b5b5" stroke-width="0.6"/>
<rect x="1565.1" y="1305.3" width="2" height="10" rx="1" fill="#f2f2f2" stroke="#b5b5b5" stroke-width="0.6"/>
<rect x="1583.1" y="1315.7" width="2" height="10" rx="1" fill="#f2f2f2" stroke="#b5b5b5" stroke-width="0.6"/>
<rect x="1509.9" y="1254.2" width="2" height="10" rx="1" fill="#f2f2f2" stroke="#b5b5b5" stroke-width="0.6"/>
<rect x="1545.8" y="1275" width="2" height="10" rx="1" fill="#f2f2f2" stroke="#b5b5b5" stroke-width="0.6"/>
<rect x="1581.7" y="1295.7" width="2" height="10" rx="1" fill="#f2f2f2" stroke="#b5b5b5" stroke-width="0.6"/>
<rect x="1580.4" y="1275.8" width="2" height="10" rx="1" fill="#f2f2f2" stroke="#b5b5b5" stroke-width="0.6"/>
<rect x="1616.3" y="1296.5" width="2" height="10" rx="1" fill="#f2f2f2" stroke="#b5b5b5" stroke-width="0.6"/>
<rect x="1543.2" y="1235" width="2" height="10" rx="1" fill="#f2f2f2" stroke="#b5b5b5" stroke-width="0.6"/>
<rect x="1579.1" y="1255.8" width="2" height="10" rx="1" fill="#f2f2f2" stroke="#b5b5b5" stroke-width="0.6"/>
<rect x="1559.8" y="1225.4" width="2" height="10" rx="1" fill="#f2f2f2" stroke="#b5b5b5" stroke-width="0.6"/>
<rect x="1613.6" y="1256.5" width="2" height="10" rx="1" fill="#f2f2f2" stroke="#b5b5b5" stroke-width="0.6"/>
<rect x="1631.6" y="1266.9" width="2" height="10" rx="1" fill="#f2f2f2" stroke="#b5b5b5" stroke-width="0.6"/>
<rect x="1576.4" y="1215.8" width="2" height="10" rx="1" fill="#f2f2f2" stroke="#b5b5b5" stroke-width="0.6"/>
<rect x="1594.3" y="1226.2" width="2" height="10" rx="1" fill="#f2f2f2" stroke="#b5b5b5" stroke-width="0.6"/>
<rect x="1630.2" y="1246.9" width="2" height="10" rx="1" fill="#f2f2f2" stroke="#b5b5b5" stroke-width="0.6"/>
<rect x="1648.2" y="1257.3" width="2" height="10" rx="1" fill="#f2f2f2" stroke="#b5b5b5" stroke-width="0.6"/>
<rect x="1666.2" y="1267.7" width="2" height="10" rx="1" fill="#f2f2f2" stroke="#b5b5b5" stroke-width="0.6"/>
<rect x="1593" y="1206.2" width="2" height="10" rx="1" fill="#f2f2f2" stroke="#b5b5b5" stroke-width="0.6"/>
<rect x="1628.9" y="1227" width="2" height="10" rx="1" fill="#f2f2f2" stroke="#b5b5b5" stroke-width="0.6"/>
<rect x="1682.8" y="1258.1" width="2" height="10" rx="1" fill="#f2f2f2" stroke="#b5b5b5" stroke-width="0.6"/>
<rect x="1627.6" y="1207" width="2" height="10" rx="1" fill="#f2f2f2" stroke="#b5b5b5" stroke-width="0.6"/>
<rect x="1663.5" y="1227.7" width="2" height="10" rx="1" fill="#f2f2f2" stroke="#b5b5b5" stroke-width="0.6"/>
<rect x="1681.4" y="1238.1" width="2" height="10" rx="1" fill="#f2f2f2" stroke="#b5b5b5" stroke-width="0.6"/>
<rect x="1699.4" y="1248.5" width="2" height="10" rx="1" fill="#f2f2f2" stroke="#b5b5b5" stroke-width="0.6"/>
<rect x="1626.2" y="1187" width="2" height="10" rx="1" fill="#f2f2f2" stroke="#b5b5b5" stroke-width="0.6"/>
<rect x="1662.1" y="1207.8" width="2" height="10" rx="1" fill="#f2f2f2" stroke="#b5b5b5" stroke-width="0.6"/>
<rect x="1680.1" y="1218.1" width="2" height="10" rx="1" fill="#f2f2f2" stroke="#b5b5b5" stroke-width="0.6"/>
<rect x="1698.1" y="1228.5" width="2" height="10" rx="1" fill="#f2f2f2" stroke="#b5b5b5" stroke-width="0.6"/>
<rect x="1716" y="1238.9" width="2" height="10" rx="1" fill="#f2f2f2" stroke="#b5b5b5" stroke-width="0.6"/>
<rect x="1642.9" y="1177.4" width="2" height="10" rx="1" fill="#f2f2f2" stroke="#b5b5b5" stroke-width="0.6"/>
<rect x="1660.8" y="1187.8" width="2" height="10" rx="1" fill="#f2f2f2" stroke="#b5b5b5" stroke-width="0.6"/>
<rect x="1678.8" y="1198.1" width="2" height="10" rx="1" fill="#f2f2f2" stroke="#b5b5b5" stroke-width="0.6"/>
<rect x="1696.7" y="1208.5" width="2" height="10" rx="1" fill="#f2f2f2" stroke="#b5b5b5" stroke-width="0.6"/>
<rect x="1732.6" y="1229.3" width="2" height="10" rx="1" fill="#f2f2f2" stroke="#b5b5b5" stroke-width="0.6"/>
<polyline points="1482.7,1294.3 1490.7,1289.7 1498.7,1294.3" fill="none" stroke="#8c8c8c" stroke-width="0.6"/>
<line x1="1490.7" y1="1278.7" x2="1490.7" y2="1289.7" stroke="#8c8c8c" stroke-width="0.6"/>
<polyline points="1473.8,1287.4 1473.8,1298.4 1490.7,1308.2 1507.6,1298.4 1507.6,1287.4" fill="none" stroke="#8c8c8c" stroke-width="0.6"/>
<line x1="1490.7" y1="1297.2" x2="1490.7" y2="1308.2" stroke="#8c8c8c" stroke-width="0.6"/>
<polygon points="1473.8,1287.4 1490.7,1277.6 1507.6,1287.4 1490.7,1297.2" fill="none" stroke="#8c8c8c" stroke-width="0.9"/>
<polygon points="1475.6,1287.4 1490.7,1278.7 1505.8,1287.4 1490.7,1296.1" fill="none" stroke="#8c8c8c" stroke-width="0.8"/>
<polyline points="1515.2,1276 1523.2,1271.3 1531.2,1276" fill="none" stroke="#8c8c8c" stroke-width="0.6"/>
<line x1="1523.2" y1="1260.3" x2="1523.2" y2="1271.3" stroke="#8c8c8c" stroke-width="0.6"/>
<polyline points="1505.9,1269.3 1505.9,1280.3 1523.2,1290.3 1540.5,1280.3 1540.5,1269.3" fill="none" stroke="#8c8c8c" stroke-width="0.6"/>
<line x1="1523.2" y1="1279.3" x2="1523.2" y2="1290.3" stroke="#8c8c8c" stroke-width="0.6"/>
<polygon points="1505.9,1269.3 1523.2,1259.3 1540.5,1269.3 1523.2,1279.3" fill="none" stroke="#8c8c8c" stroke-width="0.9"/>
<polygon points="1507.7,1269.3 1523.2,1260.3 1538.7,1269.3 1523.2,1278.3" fill="none" stroke="#8c8c8c" stroke-width="0.8"/>
<polyline points="1532.1,1326.6 1540.1,1321.9 1548.1,1326.6" fill="none" stroke="#8c8c8c" stroke-width="0.6"/>
<line x1="1540.1" y1="1310.9" x2="1540.1" y2="1321.9" stroke="#8c8c8c" stroke-width="0.6"/>
<polyline points="1527.1,1317.4 1527.1,1328.4 1540.1,1335.9 1553.1,1328.4 1553.1,1317.4" fill="none" stroke="#8c8c8c" stroke-width="0.6"/>
<line x1="1540.1" y1="1324.9" x2="1540.1" y2="1335.9" stroke="#8c8c8c" stroke-width="0.6"/>
<polygon points="1527.1,1317.4 1540.1,1309.9 1553.1,1317.4 1540.1,1324.9" fill="none" stroke="#8c8c8c" stroke-width="0.9"/>
<polygon points="1528.9,1317.4 1540.1,1310.9 1551.3,1317.4 1540.1,1323.9" fill="none" stroke="#8c8c8c" stroke-width="0.8"/>
<polyline points="1563,1303.6 1571,1298.9 1579,1303.6" fill="none" stroke="#8c8c8c" stroke-width="0.6"/>
<line x1="1571" y1="1287.9" x2="1571" y2="1298.9" stroke="#8c8c8c" stroke-width="0.6"/>
<polyline points="1553.7,1296.9 1553.7,1307.9 1571,1317.9 1588.3,1307.9 1588.3,1296.9" fill="none" stroke="#8c8c8c" stroke-width="0.6"/>
<line x1="1571" y1="1306.9" x2="1571" y2="1317.9" stroke="#8c8c8c" stroke-width="0.6"/>
<polygon points="1553.7,1296.9 1571,1286.9 1588.3,1296.9 1571,1306.9" fill="none" stroke="#8c8c8c" stroke-width="0.9"/>
<polygon points="1555.5,1296.9 1571,1287.9 1586.5,1296.9 1571,1305.9" fill="none" stroke="#8c8c8c" stroke-width="0.8"/>
<polyline points="1642.7,1200.6 1650.7,1195.9 1658.7,1200.6" fill="none" stroke="#8c8c8c" stroke-width="0.6"/>
<line x1="1650.7" y1="1184.9" x2="1650.7" y2="1195.9" stroke="#8c8c8c" stroke-width="0.6"/>
<polyline points="1632.2,1194.6 1632.2,1205.6 1650.7,1216.3 1669.2,1205.6 1669.2,1194.6" fill="none" stroke="#8c8c8c" stroke-width="0.6"/>
<line x1="1650.7" y1="1205.3" x2="1650.7" y2="1216.3" stroke="#8c8c8c" stroke-width="0.6"/>
<polygon points="1632.2,1194.6 1650.7,1183.9 1669.2,1194.6 1650.7,1205.3" fill="none" stroke="#8c8c8c" stroke-width="0.9"/>
<polygon points="1634,1194.6 1650.7,1184.9 1667.4,1194.6 1650.7,1204.3" fill="none" stroke="#8c8c8c" stroke-width="0.8"/>
<polyline points="1675.7,1237.8 1683.7,1233.2 1691.7,1237.8" fill="none" stroke="#8c8c8c" stroke-width="0.6"/>
<line x1="1683.7" y1="1222.2" x2="1683.7" y2="1233.2" stroke="#8c8c8c" stroke-width="0.6"/>
<polyline points="1666.8,1230.9 1666.8,1241.9 1683.7,1251.7 1700.6,1241.9 1700.6,1230.9" fill="none" stroke="#8c8c8c" stroke-width="0.6"/>
<line x1="1683.7" y1="1240.7" x2="1683.7" y2="1251.7" stroke="#8c8c8c" stroke-width="0.6"/>
<polygon points="1666.8,1230.9 1683.7,1221.1 1700.6,1230.9 1683.7,1240.7" fill="none" stroke="#8c8c8c" stroke-width="0.9"/>
<polygon points="1668.6,1230.9 1683.7,1222.2 1698.8,1230.9 1683.7,1239.6" fill="none" stroke="#8c8c8c" stroke-width="0.8"/>
<polyline points="1695.1,1231.6 1703.1,1227 1711.1,1231.6" fill="none" stroke="#8c8c8c" stroke-width="0.6"/>
<line x1="1703.1" y1="1216" x2="1703.1" y2="1227" stroke="#8c8c8c" stroke-width="0.6"/>
<polyline points="1688.2,1223.5 1688.2,1234.5 1703.1,1243.1 1717.9,1234.5 1717.9,1223.5" fill="none" stroke="#8c8c8c" stroke-width="0.6"/>
<line x1="1703.1" y1="1232.1" x2="1703.1" y2="1243.1" stroke="#8c8c8c" stroke-width="0.6"/>
<polygon points="1688.2,1223.5 1703.1,1214.9 1717.9,1223.5 1703.1,1232.1" fill="none" stroke="#8c8c8c" stroke-width="0.9"/>
<polygon points="1690,1223.5 1703.1,1216 1716.1,1223.5 1703.1,1231" fill="none" stroke="#8c8c8c" stroke-width="0.8"/>
<polyline points="1444.8,1290.7 1640.3,1177.7 1745.9,1238.7" fill="none" stroke="#262626" stroke-width="1.15" stroke-linejoin="round"/>
<polygon points="1444.8,1290.7 1550.4,1351.7 1745.9,1238.7 1745.9,1240.4 1550.4,1353.4 1444.8,1292.4" fill="#a8a8a8" stroke="none" stroke-width="0"/>
<polyline points="1444.8,1290.7 1550.4,1351.7 1745.9,1238.7" fill="none" stroke="#1e1e1e" stroke-width="0.95"/>
<polyline points="1444.8,1292.4 1550.4,1353.4 1745.9,1240.4" fill="none" stroke="#4a4a4a" stroke-width="0.7"/>
<line x1="1450.7" y1="1287.3" x2="1450.7" y2="1279.3" stroke="#3a3633" stroke-width="1.7" stroke-linecap="round"/>
<line x1="1458.3" y1="1282.9" x2="1458.3" y2="1274.9" stroke="#3a3633" stroke-width="1.7" stroke-linecap="round"/>
<line x1="1474.5" y1="1273.5" x2="1474.5" y2="1265.5" stroke="#3a3633" stroke-width="1.7" stroke-linecap="round"/>
<line x1="1490.2" y1="1264.5" x2="1490.2" y2="1256.5" stroke="#3a3633" stroke-width="1.7" stroke-linecap="round"/>
<line x1="1505.8" y1="1255.4" x2="1505.8" y2="1247.4" stroke="#3a3633" stroke-width="1.7" stroke-linecap="round"/>
<line x1="1603.2" y1="1199.2" x2="1603.2" y2="1191.2" stroke="#3a3633" stroke-width="1.7" stroke-linecap="round"/>
<line x1="1618.8" y1="1190.1" x2="1618.8" y2="1182.1" stroke="#3a3633" stroke-width="1.7" stroke-linecap="round"/>
<line x1="1635.2" y1="1180.6" x2="1635.2" y2="1172.6" stroke="#3a3633" stroke-width="1.7" stroke-linecap="round"/>
<line x1="1641.5" y1="1177.7" x2="1641.5" y2="1168.7" stroke="#3a3633" stroke-width="1.7" stroke-linecap="round"/>
<line x1="1659.3" y1="1188.7" x2="1659.3" y2="1180.7" stroke="#3a3633" stroke-width="1.7" stroke-linecap="round"/>
<line x1="1675.7" y1="1198.1" x2="1675.7" y2="1190.1" stroke="#3a3633" stroke-width="1.7" stroke-linecap="round"/>
<line x1="1691.5" y1="1207.3" x2="1691.5" y2="1199.3" stroke="#3a3633" stroke-width="1.7" stroke-linecap="round"/>
<line x1="1707.7" y1="1216.6" x2="1707.7" y2="1208.6" stroke="#3a3633" stroke-width="1.7" stroke-linecap="round"/>
<line x1="1724" y1="1226.1" x2="1724" y2="1218.1" stroke="#3a3633" stroke-width="1.7" stroke-linecap="round"/>
<line x1="1740" y1="1235.3" x2="1740" y2="1227.3" stroke="#3a3633" stroke-width="1.7" stroke-linecap="round"/>
<use href="#ic_serv" transform="translate(1582.3 1210.3) scale(0.58)"/>
<use href="#ic_mech" transform="translate(1661.3 1205) scale(0.58)"/>
<use href="#ic_mech" transform="translate(1614 1226.8) scale(0.58)"/>
<rect x="1705.5" y="1233.7" width="11" height="11" rx="1.2" fill="#fff" stroke="#8b3a96" stroke-width="1.4"/>
<path d="M1708 1239.2h6v2.6h-6zM1708.5 1238.7l1.5-2h2" fill="none" stroke="#8b3a96" stroke-width="0.9"/>
<use href="#ic_arch" transform="translate(1576.3 1264.4) scale(0.58)"/>
<use href="#ic_read" transform="translate(1804 980) scale(1.025)"/>
<text x="1834.2" y="991.2" font-family="Liberation Sans" font-size="10.6" font-weight="normal" fill="#1d1d1b" stroke="#1d1d1b" stroke-width="0.45" textLength="54.4" lengthAdjust="spacingAndGlyphs">reading rooms</text>
<use href="#ic_eld" transform="translate(1831.4 1005.3) scale(1.035)"/>
<text x="1857.9" y="1017" font-family="Liberation Sans" font-size="10.6" font-weight="normal" fill="#1d1d1b" stroke="#1d1d1b" stroke-width="0.45" textLength="25.4" lengthAdjust="spacingAndGlyphs">elderly</text>
<use href="#ic_chi" transform="translate(1831.4 1030.7) scale(1.035)"/>
<text x="1857.9" y="1042.3" font-family="Liberation Sans" font-size="10.6" font-weight="normal" fill="#1d1d1b" stroke="#1d1d1b" stroke-width="0.45" textLength="34.5" lengthAdjust="spacingAndGlyphs">childeren</text>
<use href="#ic_off" transform="translate(1804 1056) scale(1.025)"/>
<text x="1834.2" y="1067.2" font-family="Liberation Sans" font-size="10.6" font-weight="normal" fill="#1d1d1b" stroke="#1d1d1b" stroke-width="0.45" textLength="24.9" lengthAdjust="spacingAndGlyphs">offices</text>
<use href="#ic_sem" transform="translate(1804 1081.4) scale(1.025)"/>
<text x="1834.2" y="1092.6" font-family="Liberation Sans" font-size="10.6" font-weight="normal" fill="#1d1d1b" stroke="#1d1d1b" stroke-width="0.45" textLength="52.1" lengthAdjust="spacingAndGlyphs">seminar room</text>
<use href="#ic_sit" transform="translate(1804 1106.8) scale(1.025)"/>
<text x="1834.2" y="1118" font-family="Liberation Sans" font-size="10.6" font-weight="normal" fill="#1d1d1b" stroke="#1d1d1b" stroke-width="0.45" textLength="77.5" lengthAdjust="spacingAndGlyphs">sitting / reading area</text>
<use href="#ic_comp" transform="translate(1804 1132.1) scale(1.025)"/>
<text x="1834.2" y="1143.3" font-family="Liberation Sans" font-size="10.6" font-weight="normal" fill="#1d1d1b" stroke="#1d1d1b" stroke-width="0.45" textLength="87.2" lengthAdjust="spacingAndGlyphs">computer / media room</text>
<use href="#ic_mus" transform="translate(1804 1157.5) scale(1.025)"/>
<text x="1834.2" y="1168.7" font-family="Liberation Sans" font-size="10.6" font-weight="normal" fill="#1d1d1b" stroke="#1d1d1b" stroke-width="0.45" textLength="48.6" lengthAdjust="spacingAndGlyphs">music rooms</text>
<use href="#ic_proj" transform="translate(1804 1182.8) scale(1.025)"/>
<text x="1834.2" y="1194" font-family="Liberation Sans" font-size="10.6" font-weight="normal" fill="#1d1d1b" stroke="#1d1d1b" stroke-width="0.45" textLength="83.2" lengthAdjust="spacingAndGlyphs">projection / video area</text>
<use href="#ic_meet" transform="translate(1804 1208.2) scale(1.025)"/>
<text x="1834.2" y="1219.4" font-family="Liberation Sans" font-size="10.6" font-weight="normal" fill="#1d1d1b" stroke="#1d1d1b" stroke-width="0.45" textLength="56" lengthAdjust="spacingAndGlyphs">meeting rooms</text>
<use href="#ic_lou" transform="translate(1804 1233.5) scale(1.025)"/>
<text x="1834.2" y="1244.7" font-family="Liberation Sans" font-size="10.6" font-weight="normal" fill="#1d1d1b" stroke="#1d1d1b" stroke-width="0.45" textLength="24.8" lengthAdjust="spacingAndGlyphs">lounge</text>
<use href="#ic_rec" transform="translate(1804 1258.8) scale(1.025)"/>
<text x="1834.2" y="1270" font-family="Liberation Sans" font-size="10.6" font-weight="normal" fill="#1d1d1b" stroke="#1d1d1b" stroke-width="0.45" textLength="34.6" lengthAdjust="spacingAndGlyphs">reception</text>
<use href="#ic_arch" transform="translate(1804 1284.2) scale(1.025)"/>
<text x="1834.2" y="1295.4" font-family="Liberation Sans" font-size="10.6" font-weight="normal" fill="#1d1d1b" stroke="#1d1d1b" stroke-width="0.45" textLength="26.8" lengthAdjust="spacingAndGlyphs">archive</text>
<use href="#ic_serv" transform="translate(1804 1309.5) scale(1.025)"/>
<text x="1834.2" y="1320.8" font-family="Liberation Sans" font-size="10.6" font-weight="normal" fill="#1d1d1b" stroke="#1d1d1b" stroke-width="0.45" textLength="26.8" lengthAdjust="spacingAndGlyphs">service</text>
<use href="#ic_mech" transform="translate(1804 1334.9) scale(1.025)"/>
<text x="1834.2" y="1346.1" font-family="Liberation Sans" font-size="10.6" font-weight="normal" fill="#1d1d1b" stroke="#1d1d1b" stroke-width="0.45" textLength="42.8" lengthAdjust="spacingAndGlyphs">mechanical</text></svg></body></html>
